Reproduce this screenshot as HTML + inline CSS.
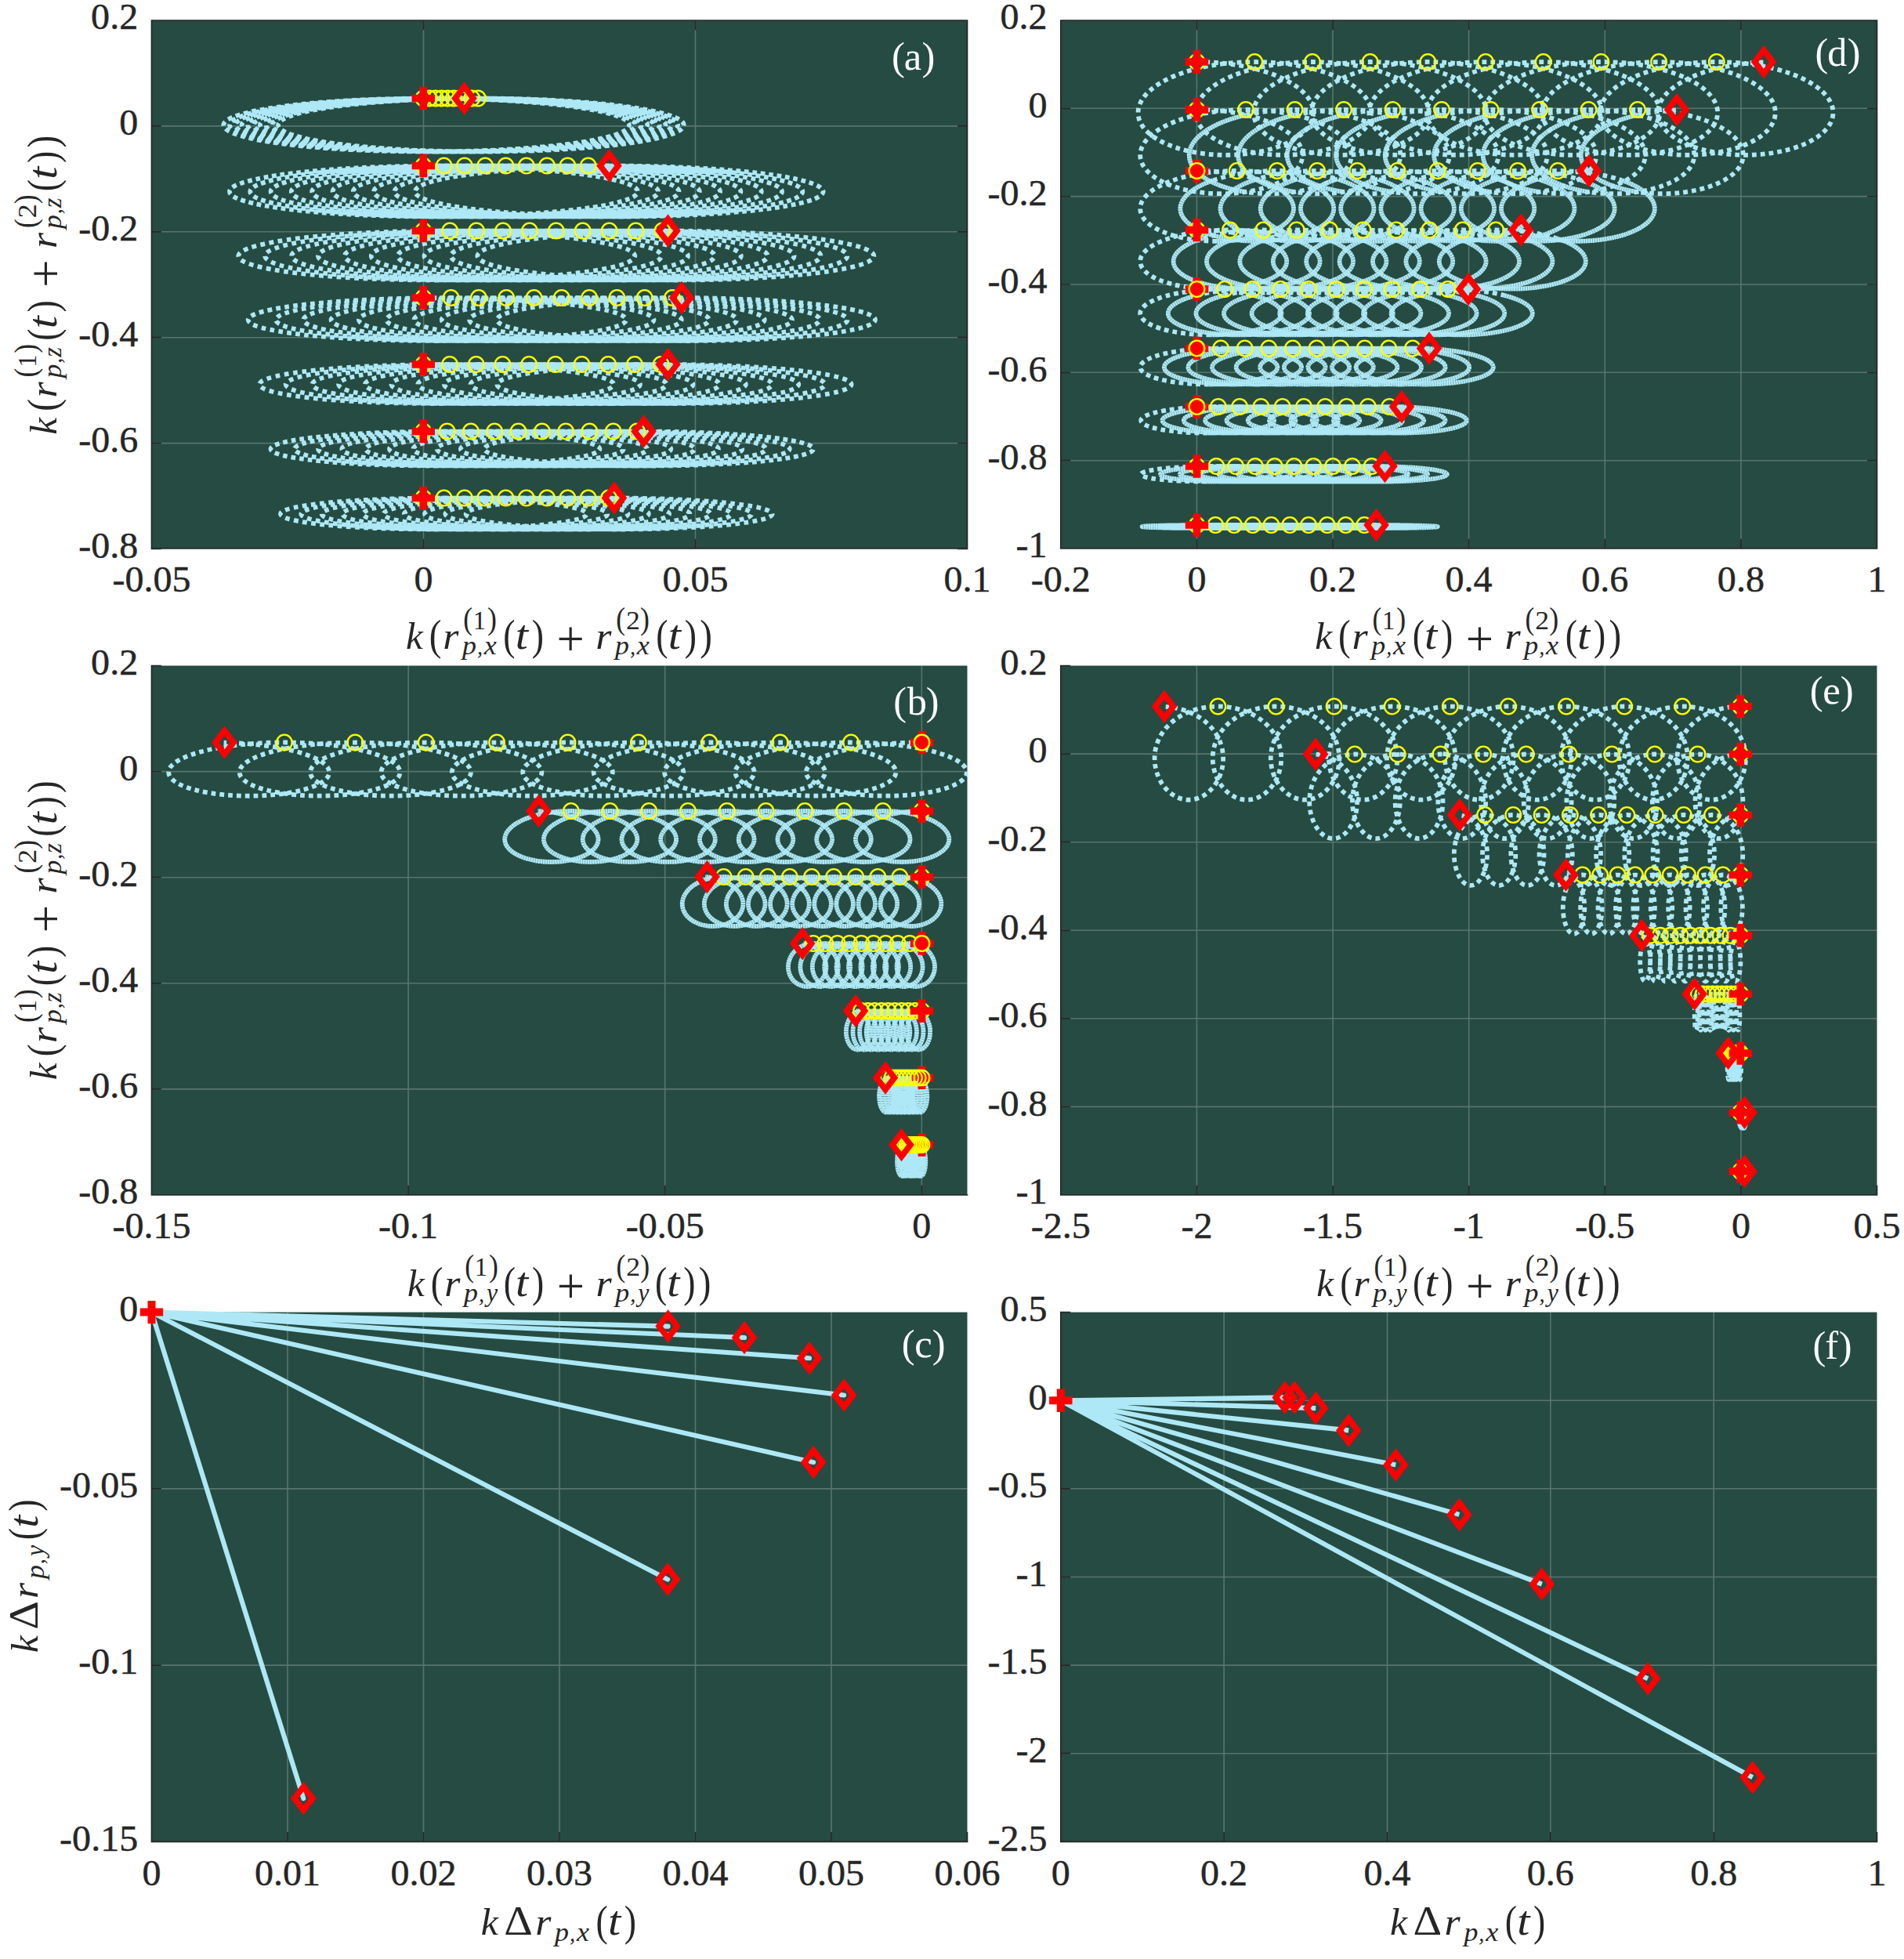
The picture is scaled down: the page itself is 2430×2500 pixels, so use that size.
<!DOCTYPE html><html><head><meta charset="utf-8"><title>Figure</title><style>html,body{margin:0;padding:0;background:#fff}svg{display:block}</style></head><body><svg width="2430" height="2500" viewBox="0 0 2430 2500" font-family="'Liberation Serif', serif">
<rect width="2430" height="2500" fill="#fff"/>
<g font-size="100" fill="#262626" transform="translate(521.45 1654.20)"><text font-style="italic" transform="translate(-1.47 0.00) scale(0.4912 0.4921)">k</text><text transform="translate(28.40 1.06) scale(0.4699 0.5477)">(</text><text font-style="italic" transform="translate(45.77 0.00) scale(0.5193 0.4809)">r</text><text font-style="italic" transform="translate(70.61 6.60) scale(0.3585 0.3319)">p</text><text font-style="italic" transform="translate(89.48 6.60) scale(0.2839 0.2839)">,</text><text font-style="italic" transform="translate(99.63 6.60) scale(0.3185 0.3348)">y</text><text transform="translate(71.80 -25.51) scale(0.3534 0.3956)">(</text><text transform="translate(84.35 -25.90) scale(0.3262 0.3348)">1</text><text transform="translate(102.54 -25.51) scale(0.3573 0.3956)">)</text><text transform="translate(121.20 1.06) scale(0.4583 0.5477)">(</text><text font-style="italic" transform="translate(136.65 0.00) scale(0.5811 0.5381)">t</text><text transform="translate(157.56 1.06) scale(0.4583 0.5477)">)</text><text transform="translate(189.32 8.66) scale(0.6258 0.6258)">+</text><text font-style="italic" transform="translate(239.02 0.00) scale(0.5193 0.4809)">r</text><text font-style="italic" transform="translate(263.86 6.60) scale(0.3585 0.3319)">p</text><text font-style="italic" transform="translate(282.73 6.60) scale(0.2839 0.2839)">,</text><text font-style="italic" transform="translate(292.88 6.60) scale(0.3185 0.3348)">y</text><text transform="translate(265.05 -25.51) scale(0.3534 0.3956)">(</text><text transform="translate(277.73 -25.90) scale(0.3578 0.3381)">2</text><text transform="translate(295.79 -25.51) scale(0.3573 0.3956)">)</text><text transform="translate(314.45 1.06) scale(0.4583 0.5477)">(</text><text font-style="italic" transform="translate(329.90 0.00) scale(0.5811 0.5381)">t</text><text transform="translate(350.81 1.06) scale(0.4583 0.5477)">)</text><text transform="translate(370.27 1.06) scale(0.4699 0.5477)">)</text></g>
<g font-size="100" fill="#262626" transform="translate(1681.75 1654.20)"><text font-style="italic" transform="translate(-1.47 0.00) scale(0.4912 0.4921)">k</text><text transform="translate(28.40 1.06) scale(0.4699 0.5477)">(</text><text font-style="italic" transform="translate(45.77 0.00) scale(0.5193 0.4809)">r</text><text font-style="italic" transform="translate(70.61 6.60) scale(0.3585 0.3319)">p</text><text font-style="italic" transform="translate(89.48 6.60) scale(0.2839 0.2839)">,</text><text font-style="italic" transform="translate(99.63 6.60) scale(0.3185 0.3348)">y</text><text transform="translate(71.80 -25.51) scale(0.3534 0.3956)">(</text><text transform="translate(84.35 -25.90) scale(0.3262 0.3348)">1</text><text transform="translate(102.54 -25.51) scale(0.3573 0.3956)">)</text><text transform="translate(121.20 1.06) scale(0.4583 0.5477)">(</text><text font-style="italic" transform="translate(136.65 0.00) scale(0.5811 0.5381)">t</text><text transform="translate(157.56 1.06) scale(0.4583 0.5477)">)</text><text transform="translate(189.32 8.66) scale(0.6258 0.6258)">+</text><text font-style="italic" transform="translate(239.02 0.00) scale(0.5193 0.4809)">r</text><text font-style="italic" transform="translate(263.86 6.60) scale(0.3585 0.3319)">p</text><text font-style="italic" transform="translate(282.73 6.60) scale(0.2839 0.2839)">,</text><text font-style="italic" transform="translate(292.88 6.60) scale(0.3185 0.3348)">y</text><text transform="translate(265.05 -25.51) scale(0.3534 0.3956)">(</text><text transform="translate(277.73 -25.90) scale(0.3578 0.3381)">2</text><text transform="translate(295.79 -25.51) scale(0.3573 0.3956)">)</text><text transform="translate(314.45 1.06) scale(0.4583 0.5477)">(</text><text font-style="italic" transform="translate(329.90 0.00) scale(0.5811 0.5381)">t</text><text transform="translate(350.81 1.06) scale(0.4583 0.5477)">)</text><text transform="translate(370.27 1.06) scale(0.4699 0.5477)">)</text></g>
<rect x="193.5" y="26" width="1041.0" height="674" fill="#264b42"/>
<path d="M540.5 26V700M887.5 26V700M193.5 160.9H1234.5M193.5 295.8H1234.5M193.5 430.7H1234.5M193.5 565.6H1234.5" stroke="#fff" stroke-opacity="0.23" stroke-width="1.6" fill="none"/>
<rect x="1353.8" y="26" width="1041.7" height="674" fill="#264b42"/>
<path d="M1527.4 26V700M1701.0 26V700M1874.6 26V700M2048.3 26V700M2221.9 26V700M1353.8 138.3H2395.5M1353.8 250.6H2395.5M1353.8 363.0H2395.5M1353.8 475.3H2395.5M1353.8 587.7H2395.5" stroke="#fff" stroke-opacity="0.23" stroke-width="1.6" fill="none"/>
<rect x="193.5" y="849.5" width="1041.0" height="675.5" fill="#264b42"/>
<path d="M521.1 849.5V1525M848.7 849.5V1525M1176.3 849.5V1525M193.5 984.6H1234.5M193.5 1119.7H1234.5M193.5 1254.8H1234.5M193.5 1389.9H1234.5" stroke="#fff" stroke-opacity="0.23" stroke-width="1.6" fill="none"/>
<rect x="1353.8" y="849.5" width="1041.7" height="675.5" fill="#264b42"/>
<path d="M1527.4 849.5V1525M1701.1 849.5V1525M1874.7 849.5V1525M2048.3 849.5V1525M2221.9 849.5V1525M1353.8 962.1H2395.5M1353.8 1074.7H2395.5M1353.8 1187.3H2395.5M1353.8 1299.8H2395.5M1353.8 1412.4H2395.5" stroke="#fff" stroke-opacity="0.23" stroke-width="1.6" fill="none"/>
<rect x="193.5" y="1674.6" width="1041.0" height="675.8000000000002" fill="#264b42"/>
<path d="M367.0 1674.6V2350.4M540.5 1674.6V2350.4M714.0 1674.6V2350.4M887.5 1674.6V2350.4M1061.0 1674.6V2350.4M193.5 1899.9H1234.5M193.5 2125.1H1234.5" stroke="#fff" stroke-opacity="0.23" stroke-width="1.6" fill="none"/>
<rect x="1353.8" y="1674.6" width="1041.7" height="675.8000000000002" fill="#264b42"/>
<path d="M1562.1 1674.6V2350.4M1770.5 1674.6V2350.4M1978.8 1674.6V2350.4M2187.2 1674.6V2350.4M1353.8 1787.2H2395.5M1353.8 1899.8H2395.5M1353.8 2012.5H2395.5M1353.8 2125.1H2395.5M1353.8 2237.7H2395.5" stroke="#fff" stroke-opacity="0.23" stroke-width="1.6" fill="none"/>
<clipPath id="cpa"><rect x="193.5" y="26" width="1042.0" height="674"/></clipPath>
<g clip-path="url(#cpa)" fill="none" stroke="#aee8f6" stroke-width="5.8">
<path d="M540.3 125.5C574.5 125.5 608.8 126.4 640.4 128.1C672.1 129.8 701.2 132.3 725.5 135.4C749.8 138.6 769.3 142.3 782.5 146.4C795.8 150.5 802.8 155.0 803.0 159.4C803.3 163.9 796.7 168.3 784.0 172.4C771.2 176.5 752.1 180.3 728.3 183.5C704.4 186.6 675.8 189.1 644.5 190.9C613.2 192.6 579.3 193.5 545.4 193.5C511.5 193.5 477.5 192.7 446.1 191.0C414.7 189.3 385.9 186.8 361.8 183.7C337.7 180.6 318.4 176.8 305.3 172.7C292.2 168.6 285.4 164.2 285.3 159.7C285.2 155.3 291.9 150.8 304.9 146.7C317.8 142.6 337.1 138.8 361.1 135.7C385.2 132.5 414.1 129.9 445.6 128.2C477.2 126.5 511.3 125.5 545.6 125.5C579.8 125.5 614.1 126.3 645.9 128.0C677.7 129.6 706.9 132.1 731.5 135.2C756.0 138.3 775.7 142.1 789.3 146.1C802.9 150.2 810.2 154.7 810.8 159.1C811.3 163.5 805.1 168.0 792.6 172.1C780.1 176.2 761.4 180.0 737.7 183.2C714.1 186.4 685.6 189.0 654.5 190.7C623.3 192.5 589.5 193.4 555.6 193.5C521.7 193.6 487.7 192.7 456.1 191.1C424.6 189.5 395.6 187.0 371.3 183.9C347.0 180.8 327.4 177.1 314.0 173.0C300.6 168.9 293.5 164.5 293.1 160.1C292.7 155.6 299.0 151.2 311.7 147.0C324.4 142.9 343.3 139.1 367.2 135.9C391.0 132.7 419.7 130.1 451.1 128.3C482.5 126.6 516.6 125.6 550.9 125.5C585.1 125.4 619.5 126.2 651.4 127.8C683.3 129.5 712.7 131.9 737.4 135.0C762.2 138.1 782.2 141.8 796.1 145.8C809.9 149.9 817.6 154.3 818.5 158.8C819.3 163.2 813.5 167.7 801.3 171.8C789.1 176.0 770.6 179.8 747.2 183.0C723.8 186.2 695.5 188.8 664.5 190.6C633.5 192.4 599.7 193.4 565.8 193.5C531.9 193.6 497.8 192.8 466.2 191.2C434.5 189.6 405.3 187.2 380.8 184.1C356.3 181.1 336.4 177.4 322.8 173.3C309.1 169.2 301.6 164.8 300.9 160.4C300.1 155.9 306.2 151.5 318.6 147.3C330.9 143.2 349.6 139.3 373.2 136.1C396.8 132.9 425.3 130.3 456.6 128.5C487.9 126.6 521.9 125.6 556.1 125.5C590.4 125.4 624.8 126.1 656.8 127.7C688.8 129.3 718.4 131.7 743.4 134.8C768.3 137.8 788.7 141.5 802.8 145.6C817.0 149.6 824.9 154.0 826.1 158.5C827.3 162.9 821.8 167.4 809.9 171.5C798.0 175.7 779.8 179.5 756.6 182.8C733.4 186.0 705.3 188.6 674.5 190.5C643.6 192.3 609.9 193.3 576.0 193.5C542.1 193.6 508.0 192.9 476.2 191.3C444.5 189.8 415.1 187.4 390.3 184.3C365.6 181.3 345.5 177.6 331.5 173.6C317.5 169.6 309.7 165.1 308.7 160.7C307.6 156.3 313.4 151.8 325.4 147.6C337.5 143.5 355.9 139.6 379.3 136.4C402.6 133.1 430.9 130.4 462.1 128.6C493.2 126.7 527.2 125.7 561.4 125.5C595.6 125.4 630.1 126.1 662.2 127.6C694.4 129.2 724.1 131.5 749.3 134.5C774.5 137.6 795.1 141.2 809.5 145.3C824.0 149.3 832.3 153.7 833.8 158.1C835.3 162.6 830.1 167.1 818.5 171.2C806.9 175.4 788.9 179.3 766.0 182.5C743.1 185.8 715.2 188.5 684.4 190.3C653.7 192.2 620.1 193.3 586.2 193.5C552.3 193.7 518.1 193.0 486.3 191.4C454.4 189.9 424.9 187.6 399.9 184.6C374.9 181.6 354.5 177.9 340.3 173.9C326.0 169.9 317.9 165.5 316.5 161.0C315.2 156.6 320.6 152.1 332.3 147.9C344.1 143.7 362.2 139.9 385.3 136.6C408.5 133.3 436.6 130.6 467.6 128.7C498.6 126.8 532.5 125.7 566.7 125.5C600.9 125.3 635.4 126.0 667.7 127.5C699.9 129.0 729.9 131.3 755.3 134.3C780.7 137.3 801.5 141.0 816.2 145.0C831.0 149.0 839.6 153.4 841.4 157.8C843.3 162.3 838.3 166.7 827.1 170.9C815.8 175.1 798.1 179.0 775.4 182.3C752.7 185.6 725.0 188.3 694.4 190.2C663.8 192.1 630.3 193.2 596.4 193.5C562.5 193.7 528.3 193.0 496.3 191.6C464.3 190.1 434.6 187.8 409.4 184.8C384.3 181.8 363.6 178.2 349.1 174.2C334.5 170.2 326.1 165.8 324.4 161.3C322.7 156.9 327.8 152.4 339.2 148.2C350.7 144.0 368.5 140.1 391.4 136.8C414.3 133.5 442.2 130.8 473.1 128.9C504.0 126.9 537.8 125.8 572.0 125.6C606.2 125.3 640.7 125.9 673.1 127.4C705.4 128.9 735.5 131.2 761.2 134.1C786.8 137.1 807.9 140.7 822.9 144.7C837.9 148.7 846.8 153.1 849.0 157.5C851.2 161.9 846.6 166.4 835.6 170.6C824.6 174.8 807.2 178.7 784.8 182.1C762.3 185.4 734.8 188.1 704.3 190.1C673.9 192.0 640.4 193.2 606.6 193.4C572.7 193.7 538.4 193.1 506.4 191.7C474.3 190.2 444.4 187.9 419.0 185.0C393.6 182.1 372.7 178.5 357.9 174.5C343.0 170.5 334.3 166.1 332.3 161.7C330.3 157.2 335.0 152.7 346.2 148.5C357.3 144.3 374.9 140.4 397.5 137.1C420.2 133.7 447.9 131.0 478.7 129.0C509.4 127.0 543.1 125.9 577.3 125.6C611.4 125.3 646.1 125.9 678.5 127.3C711.0 128.7 741.2 131.0 767.1 133.9C792.9 136.8 814.3 140.4 829.6 144.4C844.9 148.4 854.1 152.7 856.6 157.2C859.1 161.6 854.8 166.1 844.1 170.3C833.5 174.5 816.4 178.5 794.1 181.8C771.9 185.2 744.6 187.9 714.3 189.9C683.9 191.9 650.6 193.1 616.8 193.4C582.9 193.7 548.6 193.2 516.4 191.8C484.2 190.4 454.2 188.1 428.6 185.2C403.0 182.3 381.8 178.7 366.7 174.8C351.6 170.8 342.5 166.4 340.2 162.0C337.8 157.5 342.3 153.1 353.1 148.8C364.0 144.6 381.2 140.7 403.7 137.3C426.1 133.9 453.6 131.2 484.2 129.1C514.8 127.1 548.4 125.9 582.6 125.6C616.7 125.3 651.4 125.8 683.9 127.2C716.5 128.6 746.9 130.8 772.9 133.7C799.0 136.6 820.6 140.1 836.2 144.1C851.8 148.1 861.3 152.4 864.2 156.9C867.0 161.3 863.0 165.8 852.6 170.0C842.3 174.2 825.5 178.2 803.5 181.6C781.5 185.0 754.4 187.8 724.2 189.8C694.0 191.8 660.8 193.0 626.9 193.4C593.1 193.7 558.8 193.2 526.5 191.9C494.2 190.5 464.0 188.3 438.2 185.4C412.4 182.5 391.0 179.0 375.5 175.0C360.1 171.1 350.7 166.7 348.1 162.3C345.5 157.9 349.5 153.4 360.1 149.1C370.6 144.9 387.6 140.9 409.8 137.6C432.0 134.2 459.3 131.3 489.7 129.3C520.2 127.3 553.7 126.0 587.9 125.6C622.0 125.2 656.7 125.7 689.3 127.1C722.0 128.4 752.6 130.6 778.8 133.5C805.1 136.3 826.9 139.9 842.8 143.8C858.7 147.8 868.6 152.1 871.7 156.5C874.8 161.0 871.2 165.5 861.1 169.7C851.1 173.9 834.5 177.9 812.8 181.3C791.1 184.7 764.2 187.6 734.1 189.6C704.1 191.7 670.9 193.0 637.1 193.4C603.3 193.8 569.0 193.3 536.6 192.0C504.2 190.6 473.9 188.5 447.8 185.6C421.8 182.8 400.1 179.3 384.4 175.3C368.7 171.4 359.0 167.0 356.0 162.6C353.1 158.2 356.9 153.7 367.1 149.4C377.3 145.2 394.0 141.2 416.0 137.8C437.9 134.4 465.0 131.5 495.3 129.4C525.6 127.4 559.0 126.1 593.1 125.7" stroke-dasharray="5.8 4.85"/><path d="M540.3 211.5C575.7 211.5 611.2 212.3 644.0 214.0C676.8 215.6 706.9 218.0 732.2 221.0C757.4 224.0 777.8 227.6 791.7 231.5C805.7 235.4 813.2 239.7 813.9 243.9C814.5 248.2 808.2 252.4 795.5 256.3C782.8 260.3 763.7 263.9 739.6 266.9C715.6 269.9 686.6 272.3 655.0 274.0C623.3 275.6 589.0 276.5 554.7 276.5C520.3 276.5 486.0 275.7 454.2 274.1C422.4 272.5 393.3 270.1 369.0 267.1C344.8 264.1 325.4 260.5 312.3 256.6C299.3 252.7 292.7 248.5 293.0 244.2C293.3 240.0 300.5 235.7 314.2 231.8C327.8 227.9 347.9 224.2 372.9 221.2C397.9 218.2 427.9 215.7 460.6 214.1C493.2 212.4 528.6 211.5 564.0 211.5C599.5 211.5 635.0 212.3 667.9 213.9C700.8 215.4 731.1 217.8 756.6 220.8C782.1 223.7 802.7 227.3 817.0 231.2C831.3 235.1 839.1 239.4 840.1 243.6C841.1 247.9 835.1 252.1 822.7 256.1C810.3 260.0 791.4 263.6 767.6 266.7C743.8 269.7 715.1 272.2 683.6 273.9C652.0 275.5 617.8 276.4 583.5 276.5C549.1 276.6 514.7 275.8 482.8 274.2C450.9 272.6 421.6 270.3 397.1 267.3C372.6 264.4 352.9 260.8 339.6 256.9C326.3 253.0 319.3 248.8 319.3 244.5C319.3 240.3 326.2 236.0 339.5 232.1C352.9 228.1 372.7 224.5 397.4 221.4C422.2 218.4 452.0 215.9 484.5 214.2C517.1 212.5 552.3 211.6 587.8 211.5C623.2 211.4 658.8 212.2 691.8 213.7C724.9 215.3 755.4 217.6 781.1 220.6C806.8 223.5 827.7 227.1 842.3 230.9C856.8 234.8 865.0 239.1 866.3 243.3C867.6 247.6 862.0 251.8 849.9 255.8C837.8 259.7 819.2 263.4 795.6 266.5C772.1 269.5 743.5 272.0 712.1 273.7C680.7 275.4 646.6 276.4 612.2 276.5C577.9 276.6 543.4 275.8 511.4 274.3C479.4 272.8 449.9 270.5 425.2 267.5C400.4 264.6 380.5 261.1 366.9 257.2C353.2 253.3 346.0 249.1 345.6 244.8C345.2 240.6 351.8 236.3 364.9 232.4C377.9 228.4 397.4 224.7 422.0 221.7C446.5 218.6 476.1 216.1 508.5 214.3C540.9 212.6 576.1 211.6 611.5 211.5C647.0 211.4 682.6 212.1 715.7 213.6C748.9 215.1 779.6 217.4 805.5 220.4C831.5 223.3 852.6 226.8 867.5 230.7C882.4 234.5 890.9 238.8 892.5 243.0C894.1 247.3 888.8 251.5 877.0 255.5C865.2 259.5 847.0 263.1 823.6 266.2C800.3 269.3 771.9 271.9 740.7 273.6C709.4 275.4 675.3 276.3 641.0 276.5C606.7 276.6 572.1 275.9 540.0 274.4C507.9 272.9 478.2 270.7 453.3 267.8C428.3 264.9 408.1 261.3 394.2 257.5C380.2 253.6 372.6 249.4 371.9 245.1C371.3 240.9 377.5 236.6 390.2 232.6C403.0 228.7 422.2 225.0 446.5 221.9C470.8 218.8 500.2 216.2 532.4 214.5C564.7 212.7 599.9 211.7 635.3 211.5C670.7 211.4 706.4 212.0 739.6 213.5C772.9 215.0 803.8 217.3 829.9 220.1C856.1 223.0 877.6 226.5 892.7 230.4C907.9 234.2 916.7 238.5 918.7 242.7C920.6 246.9 915.7 251.2 904.2 255.2C892.7 259.2 874.7 262.9 851.6 266.0C828.5 269.1 800.3 271.7 769.2 273.5C738.1 275.3 704.1 276.3 669.8 276.5C635.5 276.7 600.9 276.0 568.6 274.5C536.4 273.1 506.5 270.8 481.4 268.0C456.2 265.1 435.7 261.6 421.5 257.8C407.3 253.9 399.3 249.7 398.3 245.5C397.3 241.2 403.2 236.9 415.6 232.9C428.1 228.9 447.0 225.2 471.1 222.1C495.1 219.0 524.3 216.4 556.4 214.6C588.6 212.8 623.6 211.7 659.0 211.5C694.4 211.3 730.2 212.0 763.5 213.4C796.9 214.9 828.0 217.1 854.3 219.9C880.7 222.8 902.5 226.3 917.9 230.1C933.4 234.0 942.6 238.1 944.8 242.4C947.1 246.6 942.5 250.9 931.3 254.9C920.1 258.9 902.4 262.6 879.6 265.8C856.7 268.9 828.7 271.5 797.8 273.3C766.8 275.2 732.9 276.2 698.6 276.5C664.3 276.7 629.6 276.1 597.3 274.6C564.9 273.2 534.9 271.0 509.5 268.2C484.1 265.3 463.3 261.9 448.8 258.0C434.3 254.2 426.0 250.0 424.7 245.8C423.3 241.5 428.9 237.2 441.0 233.2C453.2 229.2 471.8 225.5 495.6 222.3C519.4 219.2 548.4 216.6 580.4 214.7C612.4 212.9 647.4 211.8 682.8 211.6C718.2 211.3 753.9 211.9 787.4 213.3C820.9 214.7 852.1 216.9 878.7 219.7C905.3 222.6 927.3 226.0 943.1 229.8C958.8 233.7 968.4 237.8 971.0 242.1C973.6 246.3 969.3 250.6 958.4 254.6C947.5 258.6 930.1 262.4 907.5 265.6C884.9 268.7 857.1 271.4 826.3 273.2C795.5 275.1 761.6 276.2 727.3 276.4C693.1 276.7 658.4 276.1 625.9 274.7C593.4 273.4 563.2 271.2 537.6 268.4C512.0 265.6 491.0 262.1 476.2 258.3C461.4 254.5 452.8 250.3 451.1 246.1C449.4 241.8 454.7 237.5 466.5 233.5C478.3 229.5 496.6 225.7 520.2 222.6C543.8 219.4 572.6 216.7 604.4 214.9C636.3 213.0 671.2 211.9 706.5 211.6C741.9 211.3 777.7 211.9 811.3 213.2C844.9 214.6 876.3 216.7 903.1 219.5C929.9 222.3 952.2 225.8 968.2 229.6C984.3 233.4 994.1 237.5 997.1 241.8C1000.0 246.0 996.0 250.3 985.5 254.3C974.9 258.4 957.8 262.1 935.4 265.3C913.1 268.5 885.5 271.2 854.8 273.1C824.1 275.0 790.4 276.1 756.1 276.4C721.8 276.7 687.1 276.2 654.5 274.8C622.0 273.5 591.6 271.4 565.8 268.6C539.9 265.8 518.7 262.4 503.5 258.6C488.4 254.8 479.5 250.6 477.5 246.4C475.5 242.1 480.4 237.8 491.9 233.8C503.4 229.8 521.5 226.0 544.8 222.8C568.2 219.6 596.7 216.9 628.4 215.0C660.1 213.1 694.9 211.9 730.3 211.6C765.6 211.3 801.5 211.8 835.2 213.1C868.9 214.4 900.4 216.6 927.5 219.3C954.5 222.1 977.0 225.5 993.4 229.3C1009.7 233.1 1019.9 237.2 1023.1 241.5C1026.4 245.7 1022.8 250.0 1012.5 254.0C1002.3 258.1 985.4 261.9 963.3 265.1C941.2 268.3 913.9 271.0 883.3 272.9C852.8 274.9 819.1 276.1 784.9 276.4C750.6 276.7 715.9 276.2 683.2 274.9C650.5 273.6 620.0 271.5 594.0 268.8C567.9 266.0 546.3 262.6 530.9 258.9C515.5 255.1 506.3 250.9 504.0 246.7C501.7 242.4 506.2 238.1 517.4 234.1C528.6 230.1 546.4 226.3 569.5 223.0C592.5 219.8 620.9 217.1 652.4 215.1C684.0 213.2 718.7 212.0 754.0 211.6C789.3 211.3 825.2 211.7 859.0 213.0C892.9 214.3 924.6 216.4 951.8 219.1C979.1 221.9 1001.8 225.2 1018.5 229.0C1035.1 232.8 1045.6 236.9 1049.2 241.2C1052.8 245.4 1049.5 249.7 1039.5 253.8C1029.6 257.8 1013.1 261.6 991.2 264.9C969.4 268.1 942.2 270.8 911.8 272.8C881.4 274.8 847.9 276.0 813.6 276.4C779.4 276.7 744.6 276.3 711.9 275.0C679.1 273.8 648.4 271.7 622.1 269.0C595.9 266.2 574.1 262.9 558.4 259.1C542.7 255.4 533.1 251.2 530.5 247.0C527.8 242.8 532.1 238.4 542.9 234.4C553.8 230.3 571.3 226.5 594.1 223.3C616.9 220.0 645.1 217.3 676.5 215.3C707.9 213.3 742.5 212.0 777.8 211.6" stroke-dasharray="5.8 4.70"/><path d="M540.3 294.5C575.2 294.5 610.0 295.3 642.3 296.9C674.6 298.5 704.3 300.8 729.2 303.7C754.0 306.6 774.1 310.1 788.0 313.9C801.8 317.7 809.4 321.8 810.2 325.9C810.9 330.0 805.0 334.2 792.7 338.0C780.4 341.8 761.9 345.3 738.5 348.2C715.1 351.1 686.9 353.5 656.1 355.1C625.3 356.6 591.9 357.5 558.5 357.5C525.0 357.5 491.5 356.7 460.6 355.2C429.7 353.6 401.3 351.3 377.7 348.4C354.1 345.5 335.3 342.0 322.7 338.2C310.1 334.4 303.8 330.3 304.3 326.2C304.8 322.1 312.0 318.0 325.5 314.2C339.1 310.4 358.9 306.8 383.6 303.9C408.2 301.0 437.7 298.6 469.9 297.0C502.0 295.4 536.8 294.5 571.7 294.5C606.6 294.5 641.5 295.2 673.9 296.8C706.3 298.3 736.1 300.6 761.2 303.5C786.4 306.4 806.7 309.8 820.9 313.6C835.0 317.4 842.9 321.5 844.0 325.6C845.1 329.7 839.4 333.9 827.4 337.7C815.5 341.5 797.2 345.0 774.1 348.0C750.9 350.9 722.9 353.3 692.3 354.9C661.6 356.6 628.2 357.4 594.8 357.5C561.3 357.6 527.8 356.8 496.7 355.3C465.7 353.8 437.1 351.5 413.3 348.6C389.5 345.7 370.4 342.3 357.5 338.5C344.7 334.7 338.0 330.6 338.2 326.5C338.3 322.4 345.2 318.3 358.5 314.4C371.7 310.6 391.3 307.1 415.7 304.1C440.1 301.2 469.4 298.8 501.5 297.1C533.5 295.5 568.2 294.6 603.1 294.5C637.9 294.4 672.9 295.2 705.4 296.7C738.0 298.2 768.0 300.4 793.3 303.3C818.7 306.1 839.3 309.6 853.7 313.3C868.2 317.1 876.4 321.2 877.8 325.3C879.2 329.4 873.9 333.6 862.2 337.4C850.5 341.3 832.5 344.8 809.6 347.8C786.7 350.7 758.9 353.2 728.4 354.8C697.8 356.5 664.5 357.4 631.1 357.5C597.6 357.6 564.0 356.9 532.9 355.4C501.7 353.9 473.0 351.7 448.9 348.8C424.9 346.0 405.5 342.6 392.4 338.8C379.2 335.0 372.3 330.9 372.1 326.8C371.9 322.7 378.5 318.6 391.4 314.7C404.4 310.9 423.6 307.3 447.8 304.3C472.0 301.3 501.2 298.9 533.1 297.2C564.9 295.6 599.6 294.6 634.5 294.5C669.3 294.4 704.4 295.1 737.0 296.6C769.6 298.0 799.8 300.3 825.4 303.1C851.0 305.9 871.9 309.3 886.6 313.1C901.3 316.8 909.8 320.9 911.6 325.0C913.3 329.2 908.3 333.3 896.9 337.1C885.6 341.0 867.8 344.6 845.2 347.6C822.5 350.6 794.9 353.0 764.5 354.7C734.0 356.4 700.8 357.3 667.4 357.5C634.0 357.6 600.3 356.9 569.0 355.5C537.7 354.0 508.9 351.8 484.6 349.0C460.3 346.2 440.7 342.8 427.2 339.1C413.8 335.3 406.5 331.2 406.0 327.1C405.5 323.0 411.8 318.9 424.4 315.0C437.0 311.1 456.0 307.6 480.0 304.6C504.0 301.5 532.9 299.1 564.7 297.4C596.4 295.6 631.0 294.7 665.8 294.5C700.7 294.4 735.8 295.0 768.5 296.5C801.3 297.9 831.7 300.1 857.4 302.9C883.2 305.7 904.4 309.1 919.4 312.8C934.4 316.5 943.3 320.6 945.3 324.7C947.4 328.9 942.7 333.0 931.6 336.9C920.6 340.7 903.1 344.3 880.7 347.3C858.3 350.4 830.8 352.8 800.5 354.6C770.3 356.3 737.1 357.3 703.7 357.5C670.3 357.6 636.6 357.0 605.2 355.6C573.8 354.2 544.7 352.0 520.2 349.2C495.8 346.4 475.9 343.1 462.1 339.3C448.4 335.6 440.8 331.5 439.9 327.4C439.1 323.3 445.1 319.1 457.4 315.3C469.7 311.4 488.5 307.8 512.2 304.8C535.9 301.7 564.6 299.2 596.3 297.5C627.9 295.7 662.4 294.7 697.2 294.5C732.1 294.3 767.2 295.0 800.1 296.4C832.9 297.7 863.5 299.9 889.5 302.7C915.5 305.4 936.9 308.8 952.2 312.5C967.5 316.3 976.7 320.3 979.1 324.4C981.5 328.6 977.1 332.7 966.3 336.6C955.6 340.5 938.4 344.1 916.2 347.1C894.0 350.2 866.8 352.7 836.6 354.4C806.5 356.2 773.4 357.2 740.0 357.5C706.6 357.7 672.8 357.1 641.3 355.7C609.8 354.3 580.6 352.2 555.9 349.4C531.2 346.7 511.1 343.3 497.0 339.6C483.0 335.9 475.1 331.8 473.9 327.7C472.8 323.6 478.4 319.4 490.4 315.6C502.5 311.7 520.9 308.1 544.4 305.0C567.9 301.9 596.4 299.4 627.9 297.6C659.4 295.8 693.8 294.8 728.6 294.6C763.4 294.3 798.6 294.9 831.6 296.3C864.6 297.6 895.3 299.7 921.5 302.5C947.7 305.2 969.4 308.6 985.0 312.3C1000.6 316.0 1010.1 320.0 1012.8 324.1C1015.5 328.3 1011.5 332.4 1001.0 336.3C990.5 340.2 973.7 343.8 951.7 346.9C929.7 350.0 902.7 352.5 872.7 354.3C842.7 356.1 809.7 357.2 776.3 357.4C742.9 357.7 709.1 357.1 677.5 355.8C645.9 354.5 616.5 352.3 591.6 349.6C566.7 346.9 546.3 343.6 531.9 339.9C517.6 336.2 509.4 332.1 507.9 328.0C506.4 323.9 511.7 319.7 523.5 315.8C535.2 311.9 553.3 308.3 576.6 305.2C599.8 302.1 628.2 299.6 659.5 297.7C690.9 295.9 725.2 294.8 760.0 294.6C794.8 294.3 830.0 294.8 863.1 296.2C896.2 297.5 927.1 299.6 953.5 302.3C979.9 305.0 1001.9 308.3 1017.8 312.0C1033.7 315.7 1043.5 319.7 1046.5 323.8C1049.5 328.0 1045.8 332.1 1035.6 336.0C1025.5 339.9 1008.9 343.6 987.2 346.7C965.4 349.8 938.6 352.3 908.8 354.2C878.9 356.0 846.0 357.1 812.6 357.4C779.3 357.7 745.4 357.2 713.7 355.9C682.0 354.6 652.4 352.5 627.3 349.8C602.2 347.1 581.5 343.8 566.9 340.1C552.3 336.4 543.7 332.4 541.9 328.3C540.1 324.2 545.1 320.0 556.5 316.1C568.0 312.2 585.8 308.6 608.8 305.4C631.8 302.3 660.0 299.7 691.2 297.9C722.4 296.0 756.6 294.9 791.4 294.6C826.2 294.3 861.4 294.8 894.6 296.1C927.8 297.3 958.8 299.4 985.5 302.1C1012.1 304.8 1034.3 308.1 1050.5 311.7C1066.7 315.4 1076.8 319.4 1080.2 323.6C1083.5 327.7 1080.1 331.8 1070.3 335.7C1060.4 339.7 1044.1 343.3 1022.6 346.4C1001.1 349.6 974.5 352.2 944.8 354.1C915.1 355.9 882.3 357.1 848.9 357.4C815.6 357.7 781.7 357.2 749.9 356.0C718.1 354.7 688.4 352.7 663.0 350.0C637.7 347.3 616.8 344.1 601.9 340.4C586.9 336.7 578.1 332.7 576.0 328.6C573.9 324.5 578.5 320.3 589.6 316.4C600.7 312.5 618.3 308.8 641.1 305.7C663.8 302.5 691.8 299.9 722.8 298.0C753.9 296.1 788.0 295.0 822.8 294.6C857.5 294.3 892.9 294.7 926.1 296.0C959.4 297.2 990.6 299.2 1017.5 301.9C1044.3 304.5 1066.8 307.8 1083.2 311.5C1099.7 315.1 1110.1 319.2 1113.8 323.3C1117.5 327.4 1114.4 331.5 1104.9 335.5C1095.3 339.4 1079.3 343.1 1058.1 346.2C1036.8 349.4 1010.4 352.0 980.8 353.9C951.3 355.8 918.6 357.0 885.2 357.4C851.9 357.7 818.0 357.3 786.1 356.1C754.2 354.8 724.3 352.8 698.8 350.2C673.2 347.6 652.0 344.3 636.8 340.7C621.6 337.0 612.5 333.0 610.0 328.9C607.6 324.8 611.9 320.6 622.7 316.7C633.5 312.8 650.8 309.1 673.3 305.9C695.9 302.7 723.6 300.1 754.5 298.2C785.4 296.2 819.5 295.0 854.2 294.6" stroke-dasharray="5.8 5.51"/><path d="M540.3 380.0C573.7 380.0 607.1 380.7 638.0 382.1C669.0 383.5 697.4 385.5 721.3 388.0C745.1 390.6 764.4 393.6 777.7 396.9C791.0 400.2 798.3 403.8 799.1 407.4C799.9 411.0 794.2 414.6 782.6 417.9C770.9 421.3 753.2 424.3 730.9 426.9C708.6 429.4 681.7 431.5 652.3 432.9C622.9 434.3 591.0 435.0 559.1 435.0C527.2 435.0 495.2 434.3 465.7 433.0C436.2 431.6 409.1 429.6 386.6 427.1C364.1 424.5 346.2 421.5 334.2 418.2C322.2 414.9 316.2 411.3 316.7 407.7C317.2 404.1 324.2 400.5 337.2 397.2C350.2 393.8 369.3 390.8 392.9 388.2C416.6 385.7 444.8 383.6 475.6 382.2C506.4 380.8 539.8 380.0 573.2 380.0C606.6 380.0 640.1 380.6 671.1 382.0C702.1 383.3 730.8 385.3 754.8 387.8C778.9 390.4 798.5 393.4 812.0 396.7C825.6 400.0 833.2 403.6 834.3 407.2C835.5 410.8 830.1 414.4 818.7 417.7C807.3 421.0 789.9 424.1 767.8 426.7C745.7 429.3 719.0 431.3 689.8 432.8C660.5 434.2 628.6 434.9 596.7 435.0C564.8 435.0 532.7 434.4 503.1 433.1C473.5 431.7 446.2 429.7 423.5 427.2C400.8 424.7 382.6 421.7 370.4 418.4C358.1 415.1 351.8 411.5 352.0 408.0C352.2 404.4 358.9 400.8 371.6 397.4C384.3 394.1 403.1 391.0 426.5 388.4C449.9 385.8 478.0 383.7 508.7 382.3C539.4 380.9 572.7 380.1 606.1 380.0C639.5 379.9 673.0 380.6 704.2 381.9C735.3 383.2 764.1 385.2 788.4 387.7C812.7 390.2 832.5 393.2 846.4 396.5C860.2 399.7 868.1 403.3 869.5 406.9C871.0 410.5 865.9 414.1 854.8 417.5C843.7 420.8 826.5 423.9 804.7 426.5C782.9 429.1 756.3 431.2 727.2 432.7C698.0 434.1 666.2 434.9 634.3 435.0C602.4 435.1 570.3 434.4 540.6 433.2C510.8 431.9 483.4 429.9 460.5 427.4C437.5 424.9 419.1 421.9 406.6 418.7C394.0 415.4 387.4 411.8 387.3 408.2C387.2 404.6 393.6 401.0 406.0 397.7C418.4 394.3 436.9 391.2 460.1 388.6C483.3 386.0 511.2 383.9 541.8 382.4C572.4 380.9 605.6 380.1 639.0 380.0C672.4 379.9 705.9 380.5 737.2 381.8C768.5 383.1 797.4 385.0 821.9 387.5C846.5 390.0 866.5 392.9 880.6 396.2C894.8 399.5 903.0 403.1 904.7 406.7C906.5 410.3 901.7 413.9 890.9 417.2C880.1 420.6 863.2 423.7 841.6 426.3C819.9 428.9 793.6 431.1 764.6 432.6C735.5 434.0 703.8 434.9 671.9 435.0C640.0 435.1 607.9 434.5 578.0 433.2C548.1 432.0 520.6 430.1 497.4 427.6C474.3 425.1 455.6 422.2 442.8 418.9C430.0 415.6 423.1 412.1 422.6 408.5C422.2 404.9 428.3 401.3 440.4 397.9C452.6 394.5 470.8 391.4 493.8 388.8C516.7 386.1 544.5 384.0 574.9 382.5C605.3 381.0 638.5 380.2 671.9 380.0C705.3 379.9 738.9 380.5 770.3 381.7C801.6 383.0 830.7 384.9 855.5 387.3C880.2 389.8 900.5 392.7 914.9 396.0C929.3 399.2 937.9 402.8 939.9 406.4C941.9 410.0 937.5 413.6 927.0 417.0C916.4 420.4 899.8 423.5 878.4 426.1C857.0 428.8 830.9 430.9 802.0 432.4C773.0 434.0 741.4 434.8 709.5 435.0C677.6 435.1 645.4 434.6 615.5 433.3C585.5 432.1 557.8 430.2 534.4 427.8C511.1 425.3 492.1 422.4 479.0 419.1C465.9 415.9 458.7 412.3 458.0 408.7C457.2 405.1 463.0 401.5 474.9 398.1C486.7 394.8 504.7 391.6 527.4 389.0C550.2 386.3 577.7 384.1 608.0 382.6C638.3 381.1 671.4 380.2 704.8 380.0C738.1 379.9 771.8 380.4 803.3 381.6C834.8 382.8 864.0 384.7 889.0 387.1C913.9 389.6 934.5 392.5 949.2 395.7C963.9 399.0 972.7 402.5 975.0 406.1C977.4 409.7 973.3 413.4 963.0 416.7C952.8 420.1 936.4 423.3 915.3 425.9C894.1 428.6 868.1 430.8 839.3 432.3C810.6 433.9 779.0 434.8 747.1 435.0C715.2 435.1 683.0 434.6 652.9 433.4C622.9 432.2 595.0 430.4 571.4 427.9C547.8 425.5 528.6 422.6 515.3 419.4C501.9 416.1 494.4 412.6 493.3 409.0C492.3 405.4 497.7 401.8 509.3 398.4C520.9 395.0 538.6 391.8 561.1 389.2C583.6 386.5 611.0 384.3 641.1 382.7C671.3 381.2 704.3 380.2 737.7 380.0C771.0 379.8 804.7 380.4 836.3 381.5C867.9 382.7 897.3 384.6 922.5 387.0C947.6 389.4 968.4 392.3 983.4 395.5C998.4 398.7 1007.5 402.3 1010.2 405.9C1012.8 409.5 1009.0 413.1 999.0 416.5C989.1 419.9 973.0 423.1 952.1 425.7C931.1 428.4 905.3 430.6 876.7 432.2C848.1 433.8 816.6 434.7 784.7 434.9C752.8 435.2 720.6 434.7 690.4 433.5C660.2 432.3 632.2 430.5 608.4 428.1C584.6 425.7 565.2 422.8 551.5 419.6C537.9 416.4 530.1 412.8 528.7 409.2C527.4 405.7 532.5 402.0 543.8 398.6C555.1 395.2 572.5 392.1 594.8 389.4C617.1 386.7 644.2 384.4 674.3 382.8C704.3 381.2 737.2 380.3 770.5 380.1C803.9 379.8 837.6 380.3 869.3 381.4C901.0 382.6 930.6 384.4 956.0 386.8C981.3 389.2 1002.3 392.1 1017.6 395.3C1032.9 398.5 1042.3 402.0 1045.3 405.6C1048.2 409.2 1044.7 412.8 1035.1 416.2C1025.4 419.7 1009.6 422.8 988.9 425.5C968.2 428.3 942.6 430.5 914.1 432.1C885.6 433.7 854.2 434.7 822.3 434.9C790.4 435.2 758.1 434.7 727.9 433.6C697.6 432.5 669.4 430.6 645.4 428.3C621.5 425.9 601.7 423.0 587.8 419.8C573.9 416.6 565.8 413.1 564.1 409.5C562.5 405.9 567.3 402.3 578.3 398.9C589.3 395.5 606.4 392.3 628.5 389.6C650.5 386.8 677.5 384.6 707.4 383.0C737.3 381.3 770.1 380.3 803.4 380.1C836.8 379.8 870.6 380.2 902.3 381.4C934.1 382.5 963.9 384.3 989.4 386.6C1015.0 389.0 1036.3 391.8 1051.8 395.0C1067.3 398.3 1077.1 401.8 1080.3 405.4C1083.6 408.9 1080.4 412.6 1071.0 416.0C1061.7 419.4 1046.1 422.6 1025.7 425.4C1005.2 428.1 979.8 430.4 951.4 432.0C923.0 433.6 891.7 434.6 859.9 434.9C828.1 435.2 795.7 434.8 765.4 433.7C735.0 432.6 706.6 430.8 682.5 428.5C658.3 426.1 638.3 423.3 624.1 420.1C609.9 416.9 601.5 413.3 599.6 409.8C597.6 406.2 602.1 402.5 612.8 399.1C623.5 395.7 640.4 392.5 662.2 389.7C684.0 387.0 710.8 384.7 740.6 383.1C770.3 381.4 803.1 380.4 836.3 380.1C869.6 379.8 903.5 380.2 935.3 381.3C967.2 382.4 997.1 384.1 1022.9 386.5C1048.6 388.8 1070.2 391.6 1086.0 394.8C1101.8 398.0 1111.8 401.5 1115.4 405.1C1119.0 408.7 1116.1 412.3 1107.0 415.8C1097.9 419.2 1082.7 422.4 1062.4 425.2C1042.2 427.9 1017.0 430.2 988.8 431.9C960.5 433.5 929.3 434.6 897.5 434.9C865.7 435.2 833.3 434.8 802.9 433.8C772.4 432.7 743.9 430.9 719.5 428.6C695.1 426.3 674.9 423.5 660.5 420.3C646.0 417.1 637.3 413.6 635.0 410.0C632.7 406.4 636.9 402.8 647.3 399.4C657.7 395.9 674.3 392.7 695.9 389.9C717.5 387.2 744.1 384.9 773.7 383.2C803.3 381.5 836.0 380.5 869.2 380.1" stroke-dasharray="5.8 5.24"/><path d="M540.3 465.0C571.7 465.0 603.0 465.6 632.0 466.9C661.0 468.1 687.7 470.0 710.1 472.3C732.5 474.6 750.6 477.4 763.1 480.4C775.6 483.4 782.4 486.7 783.2 489.9C784.0 493.2 778.7 496.5 767.7 499.5C756.8 502.5 740.2 505.3 719.3 507.6C698.4 509.9 673.2 511.8 645.7 513.1C618.1 514.3 588.2 515.0 558.2 515.0C528.3 515.0 498.3 514.4 470.6 513.1C443.0 511.9 417.6 510.1 396.5 507.8C375.4 505.5 358.6 502.7 347.4 499.7C336.2 496.7 330.6 493.4 331.0 490.2C331.5 486.9 338.1 483.6 350.3 480.6C362.5 477.6 380.4 474.8 402.6 472.5C424.8 470.1 451.3 468.3 480.2 467.0C509.1 465.7 540.4 465.0 571.7 465.0C603.1 465.0 634.5 465.6 663.6 466.8C692.8 468.0 719.6 469.8 742.2 472.1C764.8 474.4 783.1 477.2 795.9 480.2C808.6 483.2 815.8 486.4 816.8 489.7C817.9 493.0 812.9 496.2 802.2 499.3C791.5 502.3 775.2 505.1 754.5 507.4C733.8 509.8 708.8 511.7 681.3 513.0C653.9 514.3 624.0 515.0 594.1 515.0C564.1 515.0 534.1 514.4 506.3 513.2C478.6 512.0 453.0 510.2 431.7 507.9C410.4 505.7 393.4 502.9 381.9 499.9C370.4 496.9 364.5 493.7 364.7 490.4C364.9 487.1 371.2 483.9 383.1 480.8C395.1 477.8 412.7 475.0 434.7 472.6C456.7 470.3 483.0 468.4 511.8 467.1C540.6 465.8 571.8 465.1 603.2 465.0C634.5 464.9 666.0 465.5 695.2 466.7C724.5 467.9 751.5 469.7 774.3 472.0C797.1 474.2 815.7 477.0 828.7 480.0C841.7 483.0 849.1 486.2 850.5 489.5C851.8 492.7 847.1 496.0 836.7 499.1C826.3 502.1 810.2 504.9 789.7 507.3C769.2 509.6 744.4 511.6 717.0 512.9C689.7 514.2 659.9 514.9 629.9 515.0C600.0 515.1 569.9 514.5 542.0 513.3C514.2 512.1 488.5 510.4 467.0 508.1C445.5 505.9 428.2 503.1 416.4 500.1C404.7 497.2 398.5 493.9 398.4 490.6C398.3 487.4 404.3 484.1 416.0 481.0C427.7 478.0 445.0 475.2 466.8 472.8C488.6 470.4 514.8 468.5 543.4 467.2C572.1 465.8 603.3 465.1 634.6 465.0C666.0 464.9 697.5 465.5 726.8 466.6C756.1 467.8 783.3 469.6 806.3 471.8C829.3 474.1 848.1 476.8 861.4 479.7C874.7 482.7 882.4 486.0 884.1 489.2C885.7 492.5 881.2 495.8 871.1 498.8C861.0 501.9 845.1 504.7 824.9 507.1C804.6 509.5 779.9 511.4 752.7 512.8C725.5 514.1 695.7 514.9 665.8 515.0C635.9 515.1 605.8 514.6 577.8 513.4C549.8 512.3 523.9 510.5 502.2 508.3C480.5 506.0 463.0 503.3 451.0 500.4C439.0 497.4 432.5 494.1 432.1 490.9C431.7 487.6 437.4 484.3 448.9 481.3C460.3 478.2 477.4 475.4 498.9 473.0C520.5 470.6 546.5 468.6 575.1 467.3C603.6 465.9 634.7 465.1 666.1 465.0C697.4 464.9 728.9 465.4 758.4 466.6C787.8 467.7 815.2 469.4 838.4 471.6C861.6 473.9 880.6 476.6 894.1 479.5C907.7 482.5 915.7 485.7 917.6 489.0C919.6 492.3 915.4 495.6 905.5 498.6C895.7 501.7 880.1 504.5 860.0 506.9C840.0 509.3 815.4 511.3 788.3 512.7C761.2 514.1 731.6 514.8 701.7 515.0C671.7 515.1 641.6 514.6 613.5 513.5C585.4 512.4 559.4 510.6 537.5 508.4C515.6 506.2 497.8 503.5 485.6 500.6C473.3 497.6 466.5 494.4 465.9 491.1C465.2 487.9 470.6 484.6 481.7 481.5C492.9 478.4 509.7 475.6 531.1 473.2C552.4 470.7 578.3 468.8 606.7 467.4C635.2 466.0 666.2 465.2 697.5 465.0C728.8 464.9 760.4 465.4 790.0 466.5C819.5 467.6 847.0 469.3 870.4 471.5C893.8 473.7 913.1 476.4 926.9 479.3C940.7 482.3 949.0 485.5 951.2 488.8C953.4 492.0 949.5 495.3 939.9 498.4C930.3 501.5 915.0 504.3 895.2 506.8C875.3 509.2 851.0 511.2 824.0 512.6C797.0 514.0 767.4 514.8 737.5 515.0C707.6 515.1 677.4 514.7 649.2 513.6C621.0 512.5 594.9 510.8 572.8 508.6C550.7 506.4 532.7 503.7 520.2 500.8C507.6 497.8 500.6 494.6 499.6 491.4C498.7 488.1 503.8 484.8 514.6 481.7C525.5 478.6 542.1 475.8 563.3 473.3C584.4 470.9 610.1 468.9 638.4 467.5C666.7 466.1 697.6 465.2 728.9 465.0C760.2 464.9 791.9 465.3 821.5 466.4C851.2 467.5 878.8 469.2 902.4 471.3C926.0 473.5 945.5 476.2 959.6 479.1C973.6 482.0 982.2 485.3 984.7 488.5C987.2 491.8 983.6 495.1 974.3 498.2C965.0 501.3 949.9 504.1 930.3 506.6C910.7 509.0 886.5 511.0 859.6 512.5C832.8 513.9 803.3 514.8 773.4 515.0C743.5 515.2 713.2 514.7 684.9 513.6C656.7 512.6 630.4 510.9 608.1 508.7C585.8 506.6 567.6 503.9 554.8 501.0C542.0 498.1 534.7 494.9 533.4 491.6C532.2 488.3 537.0 485.0 547.6 481.9C558.2 478.8 574.5 476.0 595.4 473.5C616.4 471.0 641.8 469.0 670.0 467.6C698.2 466.1 729.1 465.3 760.4 465.1C791.7 464.8 823.3 465.3 853.1 466.3C882.8 467.4 910.6 469.0 934.4 471.2C958.1 473.3 977.9 476.0 992.2 478.9C1006.6 481.8 1015.4 485.0 1018.2 488.3C1021.0 491.6 1017.7 494.9 1008.7 498.0C999.6 501.1 984.8 503.9 965.4 506.4C946.0 508.9 922.0 510.9 895.3 512.4C868.5 513.8 839.1 514.7 809.2 514.9C779.4 515.2 749.1 514.8 720.7 513.7C692.3 512.7 665.9 511.0 643.4 508.9C620.9 506.8 602.4 504.1 589.4 501.2C576.3 498.3 568.7 495.1 567.2 491.8C565.7 488.6 570.2 485.3 580.5 482.2C590.8 479.1 606.9 476.2 627.6 473.7C648.3 471.2 673.6 469.2 701.7 467.7C729.8 466.2 760.6 465.3 791.8 465.1C823.1 464.8 854.8 465.2 884.6 466.2C914.5 467.3 942.4 468.9 966.3 471.0C990.3 473.1 1010.3 475.8 1024.9 478.7C1039.5 481.6 1048.6 484.8 1051.7 488.1C1054.8 491.3 1051.8 494.6 1043.0 497.7C1034.2 500.8 1019.7 503.7 1000.5 506.2C981.3 508.7 957.5 510.8 930.9 512.3C904.3 513.8 874.9 514.7 845.1 514.9C815.2 515.2 784.9 514.8 756.4 513.8C728.0 512.8 701.4 511.2 678.7 509.1C656.1 506.9 637.3 504.3 624.0 501.4C610.7 498.5 602.9 495.3 601.0 492.1C599.2 488.8 603.4 485.5 613.5 482.4C623.5 479.3 639.4 476.4 659.8 473.9C680.3 471.4 705.5 469.3 733.4 467.8C761.3 466.3 792.0 465.4 823.3 465.1C854.5 464.8 886.3 465.2 916.2 466.2C946.1 467.2 974.2 468.8 998.3 470.9C1022.5 473.0 1042.7 475.6 1057.5 478.5C1072.4 481.4 1081.8 484.6 1085.2 487.8C1088.5 491.1 1085.8 494.4 1077.3 497.5C1068.8 500.6 1054.5 503.5 1035.6 506.0C1016.6 508.6 993.0 510.6 966.5 512.2C940.0 513.7 910.8 514.6 880.9 514.9C851.1 515.2 820.8 514.8 792.2 513.9C763.6 512.9 736.9 511.3 714.1 509.2C691.2 507.1 672.3 504.5 658.7 501.6C645.2 498.7 637.0 495.5 634.9 492.3C632.8 489.0 636.7 485.7 646.5 482.6C656.2 479.5 671.8 476.6 692.1 474.0C712.3 471.5 737.3 469.4 765.1 467.9C792.9 466.4 823.5 465.4 854.7 465.1" stroke-dasharray="5.8 5.63"/><path d="M540.3 550.5C569.4 550.5 598.4 551.1 625.3 552.2C652.2 553.3 676.9 554.9 697.7 556.9C718.5 559.0 735.2 561.4 746.8 564.0C758.3 566.7 764.7 569.6 765.4 572.4C766.1 575.3 761.1 578.2 750.9 580.9C740.8 583.5 725.4 586.0 706.0 588.0C686.6 590.0 663.2 591.7 637.6 592.8C612.0 593.9 584.2 594.5 556.5 594.5C528.7 594.5 500.8 594.0 475.2 592.9C449.5 591.8 425.9 590.2 406.3 588.1C386.7 586.1 371.1 583.7 360.7 581.1C350.3 578.4 345.1 575.5 345.5 572.7C345.9 569.8 352.0 566.9 363.3 564.2C374.6 561.6 391.1 559.1 411.7 557.1C432.3 555.0 456.9 553.4 483.7 552.2C510.5 551.1 539.4 550.5 568.5 550.5C597.6 550.5 626.7 551.0 653.7 552.1C680.7 553.2 705.5 554.8 726.5 556.8C747.4 558.8 764.4 561.2 776.2 563.9C788.0 566.5 794.6 569.4 795.6 572.2C796.6 575.1 791.9 578.0 782.0 580.7C772.0 583.3 756.9 585.8 737.7 587.9C718.5 589.9 695.2 591.6 669.7 592.7C644.3 593.8 616.6 594.5 588.8 594.5C561.0 594.5 533.1 594.0 507.3 592.9C481.5 591.9 457.8 590.3 438.0 588.3C418.3 586.3 402.4 583.9 391.8 581.2C381.1 578.6 375.6 575.7 375.8 572.9C375.9 570.0 381.7 567.1 392.8 564.4C403.9 561.8 420.2 559.3 440.5 557.2C460.9 555.2 485.3 553.5 512.0 552.3C538.7 551.2 567.7 550.6 596.7 550.5C625.8 550.4 654.9 551.0 682.0 552.0C709.1 553.1 734.1 554.6 755.3 556.6C776.4 558.6 793.6 561.0 805.7 563.7C817.7 566.3 824.6 569.2 825.8 572.0C827.1 574.9 822.6 577.8 813.0 580.5C803.3 583.2 788.4 585.6 769.4 587.7C750.3 589.8 727.2 591.5 701.9 592.6C676.5 593.8 648.9 594.4 621.1 594.5C593.3 594.6 565.4 594.1 539.5 593.0C513.6 592.0 489.7 590.4 469.8 588.4C449.8 586.5 433.7 584.1 422.8 581.4C411.9 578.8 406.2 575.9 406.1 573.1C406.0 570.2 411.5 567.3 422.3 564.6C433.1 561.9 449.2 559.5 469.4 557.4C489.6 555.3 513.8 553.6 540.4 552.4C567.0 551.2 595.9 550.6 624.9 550.5C654.0 550.4 683.2 550.9 710.4 551.9C737.6 553.0 762.7 554.5 784.0 556.5C805.4 558.5 822.8 560.9 835.1 563.5C847.4 566.1 854.5 569.0 856.0 571.8C857.5 574.7 853.4 577.6 844.0 580.3C834.5 583.0 819.8 585.5 801.0 587.6C782.2 589.7 759.3 591.4 734.0 592.5C708.7 593.7 681.1 594.4 653.4 594.5C625.6 594.6 597.6 594.1 571.6 593.1C545.7 592.1 521.7 590.5 501.5 588.6C481.4 586.6 465.1 584.2 453.9 581.6C442.8 579.0 436.8 576.2 436.4 573.3C436.0 570.4 441.3 567.5 451.8 564.8C462.4 562.1 478.2 559.6 498.2 557.5C518.2 555.4 542.3 553.7 568.8 552.5C595.3 551.3 624.1 550.6 653.1 550.5C682.2 550.4 711.4 550.9 738.7 551.9C766.0 552.9 791.3 554.4 812.8 556.4C834.3 558.3 852.0 560.7 864.5 563.3C877.0 565.9 884.4 568.7 886.2 571.6C888.0 574.5 884.1 577.4 874.9 580.1C865.8 582.8 851.3 585.3 832.7 587.4C814.0 589.5 791.3 591.2 766.1 592.5C741.0 593.7 713.4 594.4 685.7 594.5C657.9 594.6 629.9 594.2 603.8 593.2C577.7 592.2 553.6 590.7 533.3 588.7C513.0 586.8 496.4 584.4 485.0 581.8C473.6 579.2 467.4 576.4 466.7 573.5C466.1 570.6 471.1 567.7 481.4 565.0C491.7 562.3 507.3 559.8 527.1 557.7C546.9 555.6 570.8 553.8 597.2 552.6C623.6 551.4 652.3 550.7 681.3 550.5C710.4 550.4 739.6 550.8 767.0 551.8C794.4 552.8 819.9 554.3 841.5 556.2C863.2 558.1 881.1 560.5 893.9 563.1C906.7 565.7 914.3 568.5 916.4 571.4C918.4 574.3 914.8 577.2 905.9 579.9C897.0 582.6 882.7 585.1 864.3 587.2C845.9 589.4 823.3 591.1 798.2 592.4C773.2 593.6 745.7 594.3 718.0 594.5C690.2 594.6 662.2 594.2 636.0 593.2C609.8 592.3 585.6 590.8 565.1 588.9C544.5 586.9 527.8 584.6 516.2 582.0C504.5 579.4 498.0 576.6 497.1 573.7C496.2 570.8 500.9 567.9 511.0 565.2C521.0 562.5 536.4 560.0 556.0 557.8C575.6 555.7 599.3 553.9 625.6 552.7C651.8 551.4 680.5 550.7 709.5 550.5C738.5 550.4 767.9 550.8 795.3 551.7C822.8 552.7 848.4 554.2 870.3 556.1C892.1 558.0 910.2 560.3 923.3 562.9C936.3 565.5 944.2 568.3 946.5 571.2C948.8 574.1 945.5 577.0 936.8 579.7C928.2 582.4 914.2 584.9 895.9 587.1C877.7 589.2 855.3 591.0 830.3 592.3C805.4 593.5 778.0 594.3 750.3 594.5C722.5 594.6 694.4 594.2 668.2 593.3C641.9 592.4 617.5 590.9 596.8 589.0C576.2 587.1 559.2 584.8 547.3 582.2C535.4 579.6 528.6 576.8 527.5 573.9C526.3 571.0 530.7 568.1 540.5 565.4C550.3 562.7 565.5 560.1 584.9 558.0C604.3 555.8 627.9 554.0 654.0 552.8C680.1 551.5 708.7 550.7 737.7 550.5C766.7 550.4 796.1 550.7 823.7 551.7C851.2 552.6 877.0 554.0 899.0 555.9C921.0 557.8 939.3 560.1 952.6 562.7C965.9 565.3 974.1 568.1 976.6 571.0C979.2 573.9 976.1 576.8 967.7 579.5C959.3 582.2 945.6 584.8 927.5 586.9C909.5 589.1 887.2 590.9 862.4 592.2C837.6 593.5 810.3 594.2 782.6 594.4C754.8 594.6 726.7 594.3 700.4 593.4C674.0 592.5 649.5 591.0 628.6 589.1C607.8 587.3 590.6 584.9 578.5 582.4C566.4 579.8 559.3 577.0 557.9 574.1C556.4 571.2 560.6 568.3 570.1 565.6C579.7 562.9 594.6 560.3 613.8 558.1C633.0 556.0 656.4 554.2 682.4 552.9C708.4 551.6 737.0 550.8 766.0 550.6C794.9 550.3 824.3 550.7 852.0 551.6C879.6 552.5 905.5 553.9 927.7 555.8C949.9 557.7 968.4 560.0 981.9 562.5C995.4 565.1 1003.9 567.9 1006.7 570.8C1009.6 573.7 1006.8 576.6 998.6 579.3C990.5 582.0 976.9 584.6 959.1 586.8C941.3 589.0 919.2 590.8 894.5 592.1C869.8 593.4 842.6 594.2 814.9 594.4C787.2 594.7 759.0 594.3 732.6 593.4C706.2 592.6 681.5 591.1 660.4 589.3C639.4 587.4 622.0 585.1 609.7 582.6C597.3 580.0 590.0 577.2 588.3 574.3C586.6 571.4 590.5 568.5 599.8 565.8C609.1 563.1 623.7 560.5 642.7 558.3C661.7 556.1 685.0 554.3 710.9 553.0C736.7 551.6 765.2 550.8 794.2 550.6C823.1 550.3 852.5 550.7 880.3 551.5C908.0 552.4 934.0 553.8 956.4 555.7C978.8 557.5 997.5 559.8 1011.3 562.4C1025.0 564.9 1033.7 567.7 1036.8 570.6C1039.9 573.4 1037.4 576.4 1029.5 579.1C1021.6 581.8 1008.3 584.4 990.7 586.6C973.1 588.8 951.1 590.7 926.6 592.0C902.0 593.3 874.8 594.2 847.2 594.4C819.5 594.7 791.3 594.4 764.8 593.5C738.3 592.6 713.5 591.2 692.3 589.4C671.1 587.6 653.5 585.3 640.9 582.7C628.3 580.2 620.7 577.4 618.7 574.5C616.7 571.7 620.4 568.7 629.4 566.0C638.4 563.2 652.9 560.7 671.6 558.5C690.4 556.2 713.5 554.4 739.3 553.1C765.1 551.7 793.4 550.9 822.4 550.6" stroke-dasharray="5.8 4.90"/><path d="M540.3 635.5C567.2 635.5 594.2 636.0 619.1 637.0C644.1 638.0 667.0 639.5 686.2 641.3C705.5 643.2 721.0 645.4 731.7 647.8C742.4 650.2 748.3 652.8 748.9 655.5C749.5 658.1 744.8 660.7 735.4 663.1C725.9 665.5 711.5 667.7 693.5 669.6C675.4 671.4 653.7 672.9 629.9 673.9C606.1 675.0 580.2 675.5 554.4 675.5C528.5 675.5 502.7 675.0 478.8 674.0C454.9 673.0 433.0 671.6 414.7 669.7C396.5 667.9 381.9 665.7 372.2 663.3C362.5 660.9 357.6 658.3 358.0 655.6C358.4 653.0 364.0 650.4 374.4 648.0C384.9 645.6 400.2 643.3 419.3 641.5C438.3 639.6 461.1 638.1 486.0 637.1C510.8 636.1 537.7 635.5 564.7 635.5C591.6 635.5 618.6 636.0 643.6 636.9C668.7 637.9 691.7 639.4 711.2 641.2C730.6 643.0 746.3 645.2 757.2 647.6C768.2 650.0 774.3 652.7 775.1 655.3C776.0 657.9 771.6 660.5 762.3 662.9C753.1 665.4 739.0 667.6 721.1 669.5C703.2 671.3 681.6 672.8 657.9 673.9C634.2 674.9 608.4 675.5 582.5 675.5C556.7 675.5 530.8 675.1 506.8 674.1C482.8 673.1 460.7 671.7 442.3 669.9C423.9 668.0 409.2 665.8 399.2 663.4C389.3 661.0 384.2 658.4 384.3 655.8C384.4 653.2 389.7 650.6 400.0 648.2C410.2 645.7 425.3 643.5 444.2 641.6C463.1 639.7 485.7 638.2 510.5 637.2C535.2 636.1 562.1 635.6 589.0 635.5C616.0 635.5 643.0 635.9 668.1 636.9C693.3 637.8 716.5 639.3 736.1 641.1C755.6 642.9 771.6 645.1 782.7 647.5C793.9 649.9 800.2 652.5 801.3 655.1C802.4 657.7 798.3 660.3 789.3 662.7C780.3 665.2 766.4 667.4 748.7 669.3C731.0 671.2 709.5 672.7 685.9 673.8C662.3 674.9 636.6 675.4 610.7 675.5C584.9 675.6 558.9 675.1 534.8 674.2C510.7 673.2 488.6 671.8 470.0 670.0C451.4 668.2 436.4 666.0 426.3 663.6C416.1 661.2 410.7 658.6 410.6 656.0C410.4 653.4 415.6 650.8 425.6 648.3C435.6 645.9 450.4 643.6 469.1 641.7C487.8 639.8 510.4 638.3 535.0 637.2C559.7 636.2 586.4 635.6 613.4 635.5C640.3 635.4 667.4 635.9 692.6 636.8C717.8 637.7 741.2 639.2 760.9 640.9C780.7 642.7 796.8 644.9 808.2 647.3C819.6 649.7 826.2 652.3 827.6 654.9C828.9 657.5 825.0 660.1 816.2 662.6C807.4 665.0 793.8 667.3 776.2 669.2C758.7 671.1 737.4 672.6 713.9 673.7C690.4 674.8 664.7 675.4 638.9 675.5C613.0 675.6 587.0 675.1 562.9 674.2C538.7 673.3 516.4 671.9 497.6 670.1C478.9 668.3 463.7 666.2 453.3 663.8C442.9 661.4 437.3 658.8 436.9 656.2C436.5 653.6 441.4 651.0 451.1 648.5C460.9 646.1 475.6 643.8 494.1 641.9C512.6 640.0 535.0 638.4 559.5 637.3C584.1 636.2 610.8 635.6 637.7 635.5C664.7 635.4 691.8 635.8 717.1 636.7C742.4 637.7 765.9 639.0 785.8 640.8C805.7 642.6 822.1 644.7 833.7 647.1C845.3 649.5 852.1 652.1 853.7 654.7C855.3 657.3 851.7 659.9 843.2 662.4C834.6 664.9 821.1 667.1 803.8 669.0C786.5 671.0 765.3 672.5 741.9 673.6C718.5 674.7 692.9 675.4 667.0 675.5C641.2 675.6 615.2 675.2 590.9 674.3C566.6 673.4 544.2 672.0 525.3 670.2C506.4 668.5 491.0 666.3 480.4 664.0C469.7 661.6 463.9 659.0 463.2 656.4C462.6 653.8 467.2 651.1 476.7 648.7C486.3 646.2 500.7 644.0 519.1 642.0C537.4 640.1 559.6 638.5 584.1 637.4C608.5 636.3 635.2 635.6 662.1 635.5C689.0 635.4 716.2 635.8 741.6 636.7C767.0 637.6 790.6 638.9 810.7 640.7C830.8 642.4 847.3 644.6 859.1 647.0C871.0 649.3 878.1 651.9 879.9 654.5C881.8 657.1 878.4 659.8 870.1 662.2C861.7 664.7 848.5 667.0 831.3 668.9C814.2 670.8 793.1 672.4 769.9 673.6C746.6 674.7 721.0 675.3 695.2 675.5C669.4 675.6 643.3 675.2 619.0 674.4C594.6 673.5 572.0 672.1 552.9 670.4C533.9 668.6 518.3 666.5 507.4 664.1C496.6 661.8 490.5 659.2 489.6 656.6C488.7 654.0 493.1 651.3 502.4 648.9C511.7 646.4 525.9 644.1 544.1 642.2C562.2 640.2 584.3 638.6 608.6 637.5C632.9 636.3 659.5 635.7 686.4 635.5C713.4 635.4 740.5 635.8 766.0 636.6C791.5 637.5 815.2 638.8 835.5 640.6C855.8 642.3 872.5 644.4 884.6 646.8C896.6 649.1 904.0 651.7 906.1 654.3C908.2 656.9 905.0 659.6 897.0 662.0C888.9 664.5 875.8 666.8 858.9 668.8C841.9 670.7 821.0 672.3 797.8 673.5C774.6 674.6 749.2 675.3 723.4 675.5C697.6 675.6 671.4 675.3 647.0 674.4C622.6 673.6 599.9 672.2 580.6 670.5C561.4 668.8 545.6 666.6 534.5 664.3C523.5 662.0 517.1 659.4 516.0 656.8C514.8 654.2 518.9 651.5 528.0 649.0C537.1 646.6 551.1 644.3 569.1 642.3C587.0 640.3 608.9 638.7 633.2 637.6C657.4 636.4 683.9 635.7 710.8 635.5C737.7 635.4 764.9 635.7 790.5 636.6C816.0 637.4 839.9 638.7 860.3 640.4C880.8 642.2 897.7 644.3 910.0 646.6C922.3 649.0 929.9 651.5 932.2 654.1C934.6 656.7 931.7 659.4 923.8 661.9C916.0 664.3 903.2 666.7 886.4 668.6C869.6 670.6 848.9 672.2 825.8 673.4C802.7 674.6 777.3 675.3 751.5 675.5C725.7 675.6 699.6 675.3 675.1 674.5C650.6 673.6 627.7 672.3 608.3 670.6C588.9 668.9 572.9 666.8 561.6 664.5C550.3 662.1 543.7 659.6 542.4 657.0C541.0 654.4 544.8 651.7 553.7 649.2C562.5 646.7 576.3 644.4 594.1 642.4C611.8 640.5 633.6 638.8 657.7 637.6C681.8 636.5 708.3 635.8 735.2 635.6C762.0 635.4 789.3 635.7 814.9 636.5C840.6 637.3 864.6 638.6 885.2 640.3C905.7 642.0 922.9 644.1 935.4 646.4C947.9 648.8 955.7 651.3 958.3 653.9C960.9 656.6 958.3 659.2 950.7 661.7C943.1 664.2 930.5 666.5 913.9 668.5C897.3 670.5 876.7 672.1 853.8 673.3C830.8 674.5 805.5 675.2 779.7 675.4C753.9 675.6 727.7 675.3 703.1 674.5C678.6 673.7 655.6 672.4 636.0 670.7C616.5 669.1 600.3 667.0 588.8 664.6C577.2 662.3 570.4 659.8 568.8 657.1C567.1 654.5 570.7 651.9 579.3 649.4C587.9 646.9 601.5 644.6 619.1 642.6C636.7 640.6 658.3 638.9 682.3 637.7C706.3 636.5 732.7 635.8 759.5 635.6C786.4 635.4 813.7 635.6 839.4 636.4C865.1 637.2 889.2 638.5 910.0 640.2C930.7 641.9 948.1 644.0 960.8 646.3C973.5 648.6 981.6 651.2 984.4 653.8C987.3 656.4 984.9 659.0 977.5 661.5C970.2 664.0 957.8 666.3 941.4 668.3C925.0 670.3 904.6 672.0 881.7 673.2C858.9 674.4 833.6 675.2 807.8 675.4C782.1 675.7 755.9 675.4 731.2 674.6C706.6 673.8 683.5 672.5 663.7 670.9C644.0 669.2 627.6 667.1 615.9 664.8C604.2 662.5 597.1 659.9 595.2 657.3C593.3 654.7 596.7 652.1 605.0 649.6C613.4 647.1 626.7 644.7 644.1 642.7C661.5 640.7 683.0 639.0 706.8 637.8C730.7 636.6 757.1 635.8 783.9 635.6" stroke-dasharray="5.8 5.42"/>
</g>
<g fill="none" stroke="#ffff00" stroke-width="2.3"><circle cx="540.3" cy="125.5" r="9.8"/><circle cx="548.0" cy="125.5" r="9.8"/><circle cx="555.8" cy="125.5" r="9.8"/><circle cx="563.5" cy="125.5" r="9.8"/><circle cx="571.3" cy="125.5" r="9.8"/><circle cx="579.0" cy="125.5" r="9.8"/><circle cx="586.8" cy="125.5" r="9.8"/><circle cx="594.5" cy="125.5" r="9.8"/><circle cx="602.3" cy="125.5" r="9.8"/><circle cx="610.0" cy="125.5" r="9.8"/><circle cx="540.3" cy="211.5" r="9.8"/><circle cx="566.6" cy="211.5" r="9.8"/><circle cx="592.9" cy="211.5" r="9.8"/><circle cx="619.2" cy="211.5" r="9.8"/><circle cx="645.5" cy="211.5" r="9.8"/><circle cx="671.8" cy="211.5" r="9.8"/><circle cx="698.1" cy="211.5" r="9.8"/><circle cx="724.4" cy="211.5" r="9.8"/><circle cx="750.7" cy="211.5" r="9.8"/><circle cx="777.0" cy="211.5" r="9.8"/><circle cx="540.3" cy="294.5" r="9.8"/><circle cx="574.2" cy="294.5" r="9.8"/><circle cx="608.1" cy="294.5" r="9.8"/><circle cx="642.0" cy="294.5" r="9.8"/><circle cx="675.9" cy="294.5" r="9.8"/><circle cx="709.8" cy="294.5" r="9.8"/><circle cx="743.7" cy="294.5" r="9.8"/><circle cx="777.6" cy="294.5" r="9.8"/><circle cx="811.5" cy="294.5" r="9.8"/><circle cx="845.4" cy="294.5" r="9.8"/><circle cx="540.3" cy="380.0" r="9.8"/><circle cx="575.6" cy="380.0" r="9.8"/><circle cx="610.9" cy="380.0" r="9.8"/><circle cx="646.2" cy="380.0" r="9.8"/><circle cx="681.5" cy="380.0" r="9.8"/><circle cx="716.8" cy="380.0" r="9.8"/><circle cx="752.1" cy="380.0" r="9.8"/><circle cx="787.4" cy="380.0" r="9.8"/><circle cx="822.7" cy="380.0" r="9.8"/><circle cx="858.0" cy="380.0" r="9.8"/><circle cx="540.3" cy="465.0" r="9.8"/><circle cx="574.0" cy="465.0" r="9.8"/><circle cx="607.7" cy="465.0" r="9.8"/><circle cx="641.4" cy="465.0" r="9.8"/><circle cx="675.1" cy="465.0" r="9.8"/><circle cx="708.8" cy="465.0" r="9.8"/><circle cx="742.5" cy="465.0" r="9.8"/><circle cx="776.2" cy="465.0" r="9.8"/><circle cx="809.9" cy="465.0" r="9.8"/><circle cx="843.6" cy="465.0" r="9.8"/><circle cx="540.3" cy="550.5" r="9.8"/><circle cx="570.6" cy="550.5" r="9.8"/><circle cx="600.9" cy="550.5" r="9.8"/><circle cx="631.2" cy="550.5" r="9.8"/><circle cx="661.5" cy="550.5" r="9.8"/><circle cx="691.8" cy="550.5" r="9.8"/><circle cx="722.1" cy="550.5" r="9.8"/><circle cx="752.4" cy="550.5" r="9.8"/><circle cx="782.7" cy="550.5" r="9.8"/><circle cx="813.0" cy="550.5" r="9.8"/><circle cx="540.3" cy="635.5" r="9.8"/><circle cx="566.6" cy="635.5" r="9.8"/><circle cx="592.9" cy="635.5" r="9.8"/><circle cx="619.2" cy="635.5" r="9.8"/><circle cx="645.5" cy="635.5" r="9.8"/><circle cx="671.8" cy="635.5" r="9.8"/><circle cx="698.1" cy="635.5" r="9.8"/><circle cx="724.4" cy="635.5" r="9.8"/><circle cx="750.7" cy="635.5" r="9.8"/><circle cx="777.0" cy="635.5" r="9.8"/></g>
<path d="M525.6 125.5h29.4M540.3 110.8v29.4M525.6 211.5h29.4M540.3 196.8v29.4M525.6 294.5h29.4M540.3 279.8v29.4M525.6 380.0h29.4M540.3 365.3v29.4M525.6 465.0h29.4M540.3 450.3v29.4M525.6 550.5h29.4M540.3 535.8v29.4M525.6 635.5h29.4M540.3 620.8v29.4" stroke="#ff0000" stroke-width="9.7" fill="none"/>
<path d="M592.5 110.5L604.0 125.5L592.5 140.5L581.0 125.5ZM777.5 196.5L789.0 211.5L777.5 226.5L766.0 211.5ZM852.5 279.5L864.0 294.5L852.5 309.5L841.0 294.5ZM870.0 365.0L881.5 380.0L870.0 395.0L858.5 380.0ZM852.5 450.0L864.0 465.0L852.5 480.0L841.0 465.0ZM821.5 535.5L833.0 550.5L821.5 565.5L810.0 550.5ZM784.0 620.5L795.5 635.5L784.0 650.5L772.5 635.5Z" stroke="#ff0000" stroke-width="7.6" fill="none" stroke-linejoin="miter" stroke-miterlimit="10"/>
<clipPath id="cpd"><rect x="1353.8" y="26" width="1042.7" height="674"/></clipPath>
<g clip-path="url(#cpd)" fill="none" stroke="#aee8f6" stroke-width="5.8">
<path d="M1587.7 244.6C1574.4 242.4 1562.0 239.0 1551.6 234.5C1541.1 230.1 1532.7 224.6 1526.8 218.4C1521.0 212.3 1517.9 205.5 1517.7 198.6C1517.5 191.8 1520.4 184.7 1526.1 178.1C1531.8 171.5 1540.4 165.2 1551.4 159.9C1562.3 154.5 1575.6 150.0 1590.3 146.6M1650.2 244.6C1636.9 242.4 1624.5 239.0 1614.1 234.5C1603.6 230.1 1595.2 224.6 1589.3 218.4C1583.5 212.3 1580.4 205.5 1580.2 198.6C1580.0 191.8 1582.9 184.7 1588.6 178.1C1594.3 171.5 1602.9 165.2 1613.9 159.9C1624.8 154.5 1638.1 150.0 1652.8 146.6M1712.7 244.6C1699.4 242.4 1687.0 239.0 1676.6 234.5C1666.1 230.1 1657.7 224.6 1651.8 218.4C1646.0 212.3 1642.9 205.5 1642.7 198.6C1642.5 191.8 1645.4 184.7 1651.1 178.1C1656.8 171.5 1665.4 165.2 1676.4 159.9C1687.3 154.5 1700.6 150.0 1715.3 146.6M1775.2 244.6C1761.9 242.4 1749.5 239.0 1739.1 234.5C1728.6 230.1 1720.2 224.6 1714.3 218.4C1708.5 212.3 1705.4 205.5 1705.2 198.6C1705.0 191.8 1707.9 184.7 1713.6 178.1C1719.3 171.5 1727.9 165.2 1738.9 159.9C1749.8 154.5 1763.1 150.0 1777.8 146.6M1837.7 244.6C1824.4 242.4 1812.0 239.0 1801.6 234.5C1791.1 230.1 1782.7 224.6 1776.8 218.4C1771.0 212.3 1767.9 205.5 1767.7 198.6C1767.5 191.8 1770.4 184.7 1776.1 178.1C1781.8 171.5 1790.4 165.2 1801.4 159.9C1812.3 154.5 1825.6 150.0 1840.3 146.6M1900.2 244.6C1886.9 242.4 1874.5 239.0 1864.1 234.5C1853.6 230.1 1845.2 224.6 1839.3 218.4C1833.5 212.3 1830.4 205.5 1830.2 198.6C1830.0 191.8 1832.9 184.7 1838.6 178.1C1844.3 171.5 1852.9 165.2 1863.9 159.9C1874.8 154.5 1888.1 150.0 1902.8 146.6M1962.7 244.6C1949.4 242.4 1937.0 239.0 1926.6 234.5C1916.1 230.1 1907.7 224.6 1901.8 218.4C1896.0 212.3 1892.9 205.5 1892.7 198.6C1892.5 191.8 1895.4 184.7 1901.1 178.1C1906.8 171.5 1915.4 165.2 1926.4 159.9C1937.3 154.5 1950.6 150.0 1965.3 146.6M2025.2 244.6C2011.9 242.4 1999.5 239.0 1989.1 234.5C1978.6 230.1 1970.2 224.6 1964.3 218.4C1958.5 212.3 1955.4 205.5 1955.2 198.6C1955.0 191.8 1957.9 184.7 1963.6 178.1C1969.3 171.5 1977.9 165.2 1988.9 159.9C1999.8 154.5 2013.1 150.0 2027.8 146.6M2087.7 244.6C2074.4 242.4 2062.0 239.0 2051.6 234.5C2041.1 230.1 2032.7 224.6 2026.8 218.4C2021.0 212.3 2017.9 205.5 2017.7 198.6C2017.5 191.8 2020.4 184.7 2026.1 178.1C2031.8 171.5 2040.4 165.2 2051.4 159.9C2062.3 154.5 2075.6 150.0 2090.3 146.6M1609.2 230.2C1619.3 233.7 1627.9 237.8 1634.6 242.3C1641.2 246.9 1646.0 251.8 1648.6 256.9C1651.2 261.9 1651.7 267.1 1650.0 272.1C1648.4 277.1 1644.6 281.9 1639.0 286.3C1633.4 290.6 1626.0 294.5 1617.1 297.8C1608.3 301.0 1598.2 303.5 1587.3 305.2C1576.3 306.9 1564.7 307.8 1553.1 307.8M1660.4 230.2C1671.3 233.9 1680.4 238.4 1687.3 243.4C1694.1 248.3 1698.7 253.7 1700.9 259.2C1703.0 264.7 1702.6 270.3 1699.8 275.5C1697.0 280.8 1691.7 285.8 1684.5 290.2C1677.3 294.5 1668.1 298.3 1657.6 301.2C1647.1 304.0 1635.3 306.0 1623.0 307.0C1610.7 308.0 1597.9 308.0 1585.6 307.0C1573.3 306.0 1561.5 304.0 1551.0 301.2C1540.5 298.3 1531.3 294.5 1524.1 290.2C1516.9 285.8 1511.6 280.8 1508.8 275.5C1506.0 270.3 1505.6 264.7 1507.7 259.2C1509.9 253.7 1514.5 248.3 1521.3 243.4C1528.2 238.4 1537.3 233.9 1548.2 230.2M1711.6 230.2C1722.5 233.9 1731.6 238.4 1738.5 243.4C1745.3 248.3 1749.9 253.7 1752.1 259.2C1754.2 264.7 1753.8 270.3 1751.0 275.5C1748.2 280.8 1742.9 285.8 1735.7 290.2C1728.5 294.5 1719.3 298.3 1708.8 301.2C1698.3 304.0 1686.5 306.0 1674.2 307.0C1661.9 308.0 1649.1 308.0 1636.8 307.0C1624.5 306.0 1612.7 304.0 1602.2 301.2C1591.7 298.3 1582.5 294.5 1575.3 290.2C1568.1 285.8 1562.8 280.8 1560.0 275.5C1557.2 270.3 1556.8 264.7 1558.9 259.2C1561.1 253.7 1565.7 248.3 1572.5 243.4C1579.4 238.4 1588.5 233.9 1599.4 230.2M1762.8 230.2C1773.7 233.9 1782.8 238.4 1789.7 243.4C1796.5 248.3 1801.1 253.7 1803.3 259.2C1805.4 264.7 1805.0 270.3 1802.2 275.5C1799.4 280.8 1794.1 285.8 1786.9 290.2C1779.7 294.5 1770.5 298.3 1760.0 301.2C1749.5 304.0 1737.7 306.0 1725.4 307.0C1713.1 308.0 1700.3 308.0 1688.0 307.0C1675.7 306.0 1663.9 304.0 1653.4 301.2C1642.9 298.3 1633.7 294.5 1626.5 290.2C1619.3 285.8 1614.0 280.8 1611.2 275.5C1608.4 270.3 1608.0 264.7 1610.1 259.2C1612.3 253.7 1616.9 248.3 1623.7 243.4C1630.6 238.4 1639.7 233.9 1650.6 230.2M1814.0 230.2C1824.9 233.9 1834.0 238.4 1840.9 243.4C1847.7 248.3 1852.3 253.7 1854.5 259.2C1856.6 264.7 1856.2 270.3 1853.4 275.5C1850.6 280.8 1845.3 285.8 1838.1 290.2C1830.9 294.5 1821.7 298.3 1811.2 301.2C1800.7 304.0 1788.9 306.0 1776.6 307.0C1764.3 308.0 1751.5 308.0 1739.2 307.0C1726.9 306.0 1715.1 304.0 1704.6 301.2C1694.1 298.3 1684.9 294.5 1677.7 290.2C1670.5 285.8 1665.2 280.8 1662.4 275.5C1659.6 270.3 1659.2 264.7 1661.3 259.2C1663.5 253.7 1668.1 248.3 1674.9 243.4C1681.8 238.4 1690.9 233.9 1701.8 230.2M1865.2 230.2C1876.1 233.9 1885.2 238.4 1892.1 243.4C1898.9 248.3 1903.5 253.7 1905.7 259.2C1907.8 264.7 1907.4 270.3 1904.6 275.5C1901.8 280.8 1896.5 285.8 1889.3 290.2C1882.1 294.5 1872.9 298.3 1862.4 301.2C1851.9 304.0 1840.1 306.0 1827.8 307.0C1815.5 308.0 1802.7 308.0 1790.4 307.0C1778.1 306.0 1766.3 304.0 1755.8 301.2C1745.3 298.3 1736.1 294.5 1728.9 290.2C1721.7 285.8 1716.4 280.8 1713.6 275.5C1710.8 270.3 1710.4 264.7 1712.5 259.2C1714.7 253.7 1719.3 248.3 1726.1 243.4C1733.0 238.4 1742.1 233.9 1753.0 230.2M1916.4 230.2C1927.3 233.9 1936.4 238.4 1943.3 243.4C1950.1 248.3 1954.7 253.7 1956.9 259.2C1959.0 264.7 1958.6 270.3 1955.8 275.5C1953.0 280.8 1947.7 285.8 1940.5 290.2C1933.3 294.5 1924.1 298.3 1913.6 301.2C1903.1 304.0 1891.3 306.0 1879.0 307.0C1866.7 308.0 1853.9 308.0 1841.6 307.0C1829.3 306.0 1817.5 304.0 1807.0 301.2C1796.5 298.3 1787.3 294.5 1780.1 290.2C1772.9 285.8 1767.6 280.8 1764.8 275.5C1762.0 270.3 1761.6 264.7 1763.7 259.2C1765.9 253.7 1770.5 248.3 1777.3 243.4C1784.2 238.4 1793.3 233.9 1804.2 230.2M1967.6 230.2C1978.5 233.9 1987.6 238.4 1994.5 243.4C2001.3 248.3 2005.9 253.7 2008.1 259.2C2010.2 264.7 2009.8 270.3 2007.0 275.5C2004.2 280.8 1998.9 285.8 1991.7 290.2C1984.5 294.5 1975.3 298.3 1964.8 301.2C1954.3 304.0 1942.5 306.0 1930.2 307.0C1917.9 308.0 1905.1 308.0 1892.8 307.0C1880.5 306.0 1868.7 304.0 1858.2 301.2C1847.7 298.3 1838.5 294.5 1831.3 290.2C1824.1 285.8 1818.8 280.8 1816.0 275.5C1813.2 270.3 1812.8 264.7 1814.9 259.2C1817.1 253.7 1821.7 248.3 1828.5 243.4C1835.4 238.4 1844.5 233.9 1855.4 230.2M2018.8 230.2C2029.7 233.9 2038.8 238.4 2045.7 243.4C2052.5 248.3 2057.1 253.7 2059.3 259.2C2061.4 264.7 2061.0 270.3 2058.2 275.5C2055.4 280.8 2050.1 285.8 2042.9 290.2C2035.7 294.5 2026.5 298.3 2016.0 301.2C2005.5 304.0 1993.7 306.0 1981.4 307.0C1969.1 308.0 1956.3 308.0 1944.0 307.0C1931.7 306.0 1919.9 304.0 1909.4 301.2C1898.9 298.3 1889.7 294.5 1882.5 290.2C1875.3 285.8 1870.0 280.8 1867.2 275.5C1864.4 270.3 1864.0 264.7 1866.1 259.2C1868.3 253.7 1872.9 248.3 1879.7 243.4C1886.6 238.4 1895.7 233.9 1906.6 230.2M2070.0 230.2C2080.9 233.9 2090.0 238.4 2096.9 243.4C2103.7 248.3 2108.3 253.7 2110.5 259.2C2112.6 264.7 2112.2 270.3 2109.4 275.5C2106.6 280.8 2101.3 285.8 2094.1 290.2C2086.9 294.5 2077.7 298.3 2067.2 301.2C2056.7 304.0 2044.9 306.0 2032.6 307.0C2020.3 308.0 2007.5 308.0 1995.2 307.0C1982.9 306.0 1971.1 304.0 1960.6 301.2C1950.1 298.3 1940.9 294.5 1933.7 290.2C1926.5 285.8 1921.2 280.8 1918.4 275.5C1915.6 270.3 1915.2 264.7 1917.3 259.2C1919.5 253.7 1924.1 248.3 1930.9 243.4C1937.8 238.4 1946.9 233.9 1957.8 230.2M1603.7 303.7C1613.1 306.6 1621.1 310.1 1627.2 313.9C1633.4 317.7 1637.8 321.8 1640.1 326.1C1642.5 330.3 1642.8 334.6 1641.2 338.8C1639.5 343.0 1635.9 347.0 1630.5 350.7C1625.1 354.3 1618.0 357.6 1609.6 360.3C1601.2 363.0 1591.5 365.1 1581.1 366.5C1570.8 368.0 1559.7 368.7 1548.7 368.7M1646.1 303.7C1656.2 306.8 1664.7 310.6 1671.0 314.8C1677.4 318.9 1681.6 323.4 1683.5 328.0C1685.3 332.6 1684.9 337.3 1682.1 341.7C1679.4 346.1 1674.3 350.3 1667.4 353.9C1660.5 357.6 1651.8 360.7 1641.8 363.1C1631.8 365.5 1620.5 367.2 1608.8 368.1C1597.2 368.9 1585.0 368.9 1573.4 368.1C1561.7 367.2 1550.4 365.5 1540.4 363.1C1530.4 360.7 1521.7 357.6 1514.8 353.9C1507.9 350.3 1502.8 346.1 1500.1 341.7C1497.3 337.3 1496.9 332.6 1498.7 328.0C1500.6 323.4 1504.8 318.9 1511.2 314.8C1517.5 310.6 1526.0 306.8 1536.1 303.7M1688.5 303.7C1698.6 306.8 1707.1 310.6 1713.4 314.8C1719.8 318.9 1724.0 323.4 1725.9 328.0C1727.7 332.6 1727.3 337.3 1724.5 341.7C1721.8 346.1 1716.7 350.3 1709.8 353.9C1702.9 357.6 1694.2 360.7 1684.2 363.1C1674.2 365.5 1662.9 367.2 1651.2 368.1C1639.6 368.9 1627.4 368.9 1615.8 368.1C1604.1 367.2 1592.8 365.5 1582.8 363.1C1572.8 360.7 1564.1 357.6 1557.2 353.9C1550.3 350.3 1545.2 346.1 1542.5 341.7C1539.7 337.3 1539.3 332.6 1541.1 328.0C1543.0 323.4 1547.2 318.9 1553.6 314.8C1559.9 310.6 1568.4 306.8 1578.5 303.7M1730.9 303.7C1741.0 306.8 1749.5 310.6 1755.8 314.8C1762.2 318.9 1766.4 323.4 1768.3 328.0C1770.1 332.6 1769.7 337.3 1766.9 341.7C1764.2 346.1 1759.1 350.3 1752.2 353.9C1745.3 357.6 1736.6 360.7 1726.6 363.1C1716.6 365.5 1705.3 367.2 1693.6 368.1C1682.0 368.9 1669.8 368.9 1658.2 368.1C1646.5 367.2 1635.2 365.5 1625.2 363.1C1615.2 360.7 1606.5 357.6 1599.6 353.9C1592.7 350.3 1587.6 346.1 1584.9 341.7C1582.1 337.3 1581.7 332.6 1583.5 328.0C1585.4 323.4 1589.6 318.9 1596.0 314.8C1602.3 310.6 1610.8 306.8 1620.9 303.7M1773.3 303.7C1783.4 306.8 1791.9 310.6 1798.2 314.8C1804.6 318.9 1808.8 323.4 1810.7 328.0C1812.5 332.6 1812.1 337.3 1809.3 341.7C1806.6 346.1 1801.5 350.3 1794.6 353.9C1787.7 357.6 1779.0 360.7 1769.0 363.1C1759.0 365.5 1747.7 367.2 1736.0 368.1C1724.4 368.9 1712.2 368.9 1700.6 368.1C1688.9 367.2 1677.6 365.5 1667.6 363.1C1657.6 360.7 1648.9 357.6 1642.0 353.9C1635.1 350.3 1630.0 346.1 1627.3 341.7C1624.5 337.3 1624.1 332.6 1625.9 328.0C1627.8 323.4 1632.0 318.9 1638.4 314.8C1644.7 310.6 1653.2 306.8 1663.3 303.7M1815.7 303.7C1825.8 306.8 1834.3 310.6 1840.6 314.8C1847.0 318.9 1851.2 323.4 1853.1 328.0C1854.9 332.6 1854.5 337.3 1851.7 341.7C1849.0 346.1 1843.9 350.3 1837.0 353.9C1830.1 357.6 1821.4 360.7 1811.4 363.1C1801.4 365.5 1790.1 367.2 1778.4 368.1C1766.8 368.9 1754.6 368.9 1743.0 368.1C1731.3 367.2 1720.0 365.5 1710.0 363.1C1700.0 360.7 1691.3 357.6 1684.4 353.9C1677.5 350.3 1672.4 346.1 1669.7 341.7C1666.9 337.3 1666.5 332.6 1668.3 328.0C1670.2 323.4 1674.4 318.9 1680.8 314.8C1687.1 310.6 1695.6 306.8 1705.7 303.7M1858.1 303.7C1868.2 306.8 1876.7 310.6 1883.0 314.8C1889.4 318.9 1893.6 323.4 1895.5 328.0C1897.3 332.6 1896.9 337.3 1894.1 341.7C1891.4 346.1 1886.3 350.3 1879.4 353.9C1872.5 357.6 1863.8 360.7 1853.8 363.1C1843.8 365.5 1832.5 367.2 1820.8 368.1C1809.2 368.9 1797.0 368.9 1785.4 368.1C1773.7 367.2 1762.4 365.5 1752.4 363.1C1742.4 360.7 1733.7 357.6 1726.8 353.9C1719.9 350.3 1714.8 346.1 1712.1 341.7C1709.3 337.3 1708.9 332.6 1710.7 328.0C1712.6 323.4 1716.8 318.9 1723.2 314.8C1729.5 310.6 1738.0 306.8 1748.1 303.7M1900.5 303.7C1910.6 306.8 1919.1 310.6 1925.4 314.8C1931.8 318.9 1936.0 323.4 1937.9 328.0C1939.7 332.6 1939.3 337.3 1936.5 341.7C1933.8 346.1 1928.7 350.3 1921.8 353.9C1914.9 357.6 1906.2 360.7 1896.2 363.1C1886.2 365.5 1874.9 367.2 1863.2 368.1C1851.6 368.9 1839.4 368.9 1827.8 368.1C1816.1 367.2 1804.8 365.5 1794.8 363.1C1784.8 360.7 1776.1 357.6 1769.2 353.9C1762.3 350.3 1757.2 346.1 1754.5 341.7C1751.7 337.3 1751.3 332.6 1753.1 328.0C1755.0 323.4 1759.2 318.9 1765.6 314.8C1771.9 310.6 1780.4 306.8 1790.5 303.7M1942.9 303.7C1953.0 306.8 1961.5 310.6 1967.8 314.8C1974.2 318.9 1978.4 323.4 1980.3 328.0C1982.1 332.6 1981.7 337.3 1978.9 341.7C1976.2 346.1 1971.1 350.3 1964.2 353.9C1957.3 357.6 1948.6 360.7 1938.6 363.1C1928.6 365.5 1917.3 367.2 1905.6 368.1C1894.0 368.9 1881.8 368.9 1870.2 368.1C1858.5 367.2 1847.2 365.5 1837.2 363.1C1827.2 360.7 1818.5 357.6 1811.6 353.9C1804.7 350.3 1799.6 346.1 1796.9 341.7C1794.1 337.3 1793.7 332.6 1795.5 328.0C1797.4 323.4 1801.6 318.9 1808.0 314.8C1814.3 310.6 1822.8 306.8 1832.9 303.7M1985.3 303.7C1995.4 306.8 2003.9 310.6 2010.2 314.8C2016.6 318.9 2020.8 323.4 2022.7 328.0C2024.5 332.6 2024.1 337.3 2021.3 341.7C2018.6 346.1 2013.5 350.3 2006.6 353.9C1999.7 357.6 1991.0 360.7 1981.0 363.1C1971.0 365.5 1959.7 367.2 1948.0 368.1C1936.4 368.9 1924.2 368.9 1912.6 368.1C1900.9 367.2 1889.6 365.5 1879.6 363.1C1869.6 360.7 1860.9 357.6 1854.0 353.9C1847.1 350.3 1842.0 346.1 1839.3 341.7C1836.5 337.3 1836.1 332.6 1837.9 328.0C1839.8 323.4 1844.0 318.9 1850.4 314.8C1856.7 310.6 1865.2 306.8 1875.3 303.7M1599.4 376.9C1608.3 379.2 1615.8 381.9 1621.6 384.8C1627.4 387.8 1631.4 391.0 1633.6 394.3C1635.7 397.6 1636.0 400.9 1634.3 404.2C1632.6 407.4 1629.1 410.6 1623.9 413.4C1618.7 416.2 1611.8 418.8 1603.8 420.9C1595.7 423.0 1586.4 424.6 1576.4 425.7C1566.5 426.8 1555.9 427.4 1545.3 427.4M1635.0 376.9C1644.5 379.4 1652.5 382.3 1658.5 385.5C1664.4 388.7 1668.4 392.2 1670.0 395.8C1671.7 399.4 1671.2 403.0 1668.5 406.4C1665.8 409.8 1660.9 413.1 1654.2 415.9C1647.6 418.8 1639.1 421.2 1629.5 423.1C1619.9 425.0 1609.1 426.3 1597.9 426.9C1586.7 427.6 1575.1 427.6 1563.9 426.9C1552.7 426.3 1541.9 425.0 1532.3 423.1C1522.7 421.2 1514.2 418.8 1507.6 415.9C1500.9 413.1 1496.0 409.8 1493.3 406.4C1490.6 403.0 1490.1 399.4 1491.8 395.8C1493.4 392.2 1497.4 388.7 1503.3 385.5C1509.3 382.3 1517.3 379.4 1526.8 376.9M1670.6 376.9C1680.1 379.4 1688.1 382.3 1694.1 385.5C1700.0 388.7 1704.0 392.2 1705.6 395.8C1707.3 399.4 1706.8 403.0 1704.1 406.4C1701.4 409.8 1696.5 413.1 1689.8 415.9C1683.2 418.8 1674.7 421.2 1665.1 423.1C1655.5 425.0 1644.7 426.3 1633.5 426.9C1622.3 427.6 1610.7 427.6 1599.5 426.9C1588.3 426.3 1577.5 425.0 1567.9 423.1C1558.3 421.2 1549.8 418.8 1543.2 415.9C1536.5 413.1 1531.6 409.8 1528.9 406.4C1526.2 403.0 1525.7 399.4 1527.4 395.8C1529.0 392.2 1533.0 388.7 1538.9 385.5C1544.9 382.3 1552.9 379.4 1562.4 376.9M1706.2 376.9C1715.7 379.4 1723.7 382.3 1729.7 385.5C1735.6 388.7 1739.6 392.2 1741.2 395.8C1742.9 399.4 1742.4 403.0 1739.7 406.4C1737.0 409.8 1732.1 413.1 1725.4 415.9C1718.8 418.8 1710.3 421.2 1700.7 423.1C1691.1 425.0 1680.3 426.3 1669.1 426.9C1657.9 427.6 1646.3 427.6 1635.1 426.9C1623.9 426.3 1613.1 425.0 1603.5 423.1C1593.9 421.2 1585.4 418.8 1578.8 415.9C1572.1 413.1 1567.2 409.8 1564.5 406.4C1561.8 403.0 1561.3 399.4 1563.0 395.8C1564.6 392.2 1568.6 388.7 1574.5 385.5C1580.5 382.3 1588.5 379.4 1598.0 376.9M1741.8 376.9C1751.3 379.4 1759.3 382.3 1765.3 385.5C1771.2 388.7 1775.2 392.2 1776.8 395.8C1778.5 399.4 1778.0 403.0 1775.3 406.4C1772.6 409.8 1767.7 413.1 1761.0 415.9C1754.4 418.8 1745.9 421.2 1736.3 423.1C1726.7 425.0 1715.9 426.3 1704.7 426.9C1693.5 427.6 1681.9 427.6 1670.7 426.9C1659.5 426.3 1648.7 425.0 1639.1 423.1C1629.5 421.2 1621.0 418.8 1614.4 415.9C1607.7 413.1 1602.8 409.8 1600.1 406.4C1597.4 403.0 1596.9 399.4 1598.6 395.8C1600.2 392.2 1604.2 388.7 1610.1 385.5C1616.1 382.3 1624.1 379.4 1633.6 376.9M1777.4 376.9C1786.9 379.4 1794.9 382.3 1800.9 385.5C1806.8 388.7 1810.8 392.2 1812.4 395.8C1814.1 399.4 1813.6 403.0 1810.9 406.4C1808.2 409.8 1803.3 413.1 1796.6 415.9C1790.0 418.8 1781.5 421.2 1771.9 423.1C1762.3 425.0 1751.5 426.3 1740.3 426.9C1729.1 427.6 1717.5 427.6 1706.3 426.9C1695.1 426.3 1684.3 425.0 1674.7 423.1C1665.1 421.2 1656.6 418.8 1650.0 415.9C1643.3 413.1 1638.4 409.8 1635.7 406.4C1633.0 403.0 1632.5 399.4 1634.2 395.8C1635.8 392.2 1639.8 388.7 1645.7 385.5C1651.7 382.3 1659.7 379.4 1669.2 376.9M1813.0 376.9C1822.5 379.4 1830.5 382.3 1836.5 385.5C1842.4 388.7 1846.4 392.2 1848.0 395.8C1849.7 399.4 1849.2 403.0 1846.5 406.4C1843.8 409.8 1838.9 413.1 1832.2 415.9C1825.6 418.8 1817.1 421.2 1807.5 423.1C1797.9 425.0 1787.1 426.3 1775.9 426.9C1764.7 427.6 1753.1 427.6 1741.9 426.9C1730.7 426.3 1719.9 425.0 1710.3 423.1C1700.7 421.2 1692.2 418.8 1685.6 415.9C1678.9 413.1 1674.0 409.8 1671.3 406.4C1668.6 403.0 1668.1 399.4 1669.8 395.8C1671.4 392.2 1675.4 388.7 1681.3 385.5C1687.3 382.3 1695.3 379.4 1704.8 376.9M1848.6 376.9C1858.1 379.4 1866.1 382.3 1872.1 385.5C1878.0 388.7 1882.0 392.2 1883.6 395.8C1885.3 399.4 1884.8 403.0 1882.1 406.4C1879.4 409.8 1874.5 413.1 1867.8 415.9C1861.2 418.8 1852.7 421.2 1843.1 423.1C1833.5 425.0 1822.7 426.3 1811.5 426.9C1800.3 427.6 1788.7 427.6 1777.5 426.9C1766.3 426.3 1755.5 425.0 1745.9 423.1C1736.3 421.2 1727.8 418.8 1721.2 415.9C1714.5 413.1 1709.6 409.8 1706.9 406.4C1704.2 403.0 1703.7 399.4 1705.4 395.8C1707.0 392.2 1711.0 388.7 1716.9 385.5C1722.9 382.3 1730.9 379.4 1740.4 376.9M1884.2 376.9C1893.7 379.4 1901.7 382.3 1907.7 385.5C1913.6 388.7 1917.6 392.2 1919.2 395.8C1920.9 399.4 1920.4 403.0 1917.7 406.4C1915.0 409.8 1910.1 413.1 1903.4 415.9C1896.8 418.8 1888.3 421.2 1878.7 423.1C1869.1 425.0 1858.3 426.3 1847.1 426.9C1835.9 427.6 1824.3 427.6 1813.1 426.9C1801.9 426.3 1791.1 425.0 1781.5 423.1C1771.9 421.2 1763.4 418.8 1756.8 415.9C1750.1 413.1 1745.2 409.8 1742.5 406.4C1739.8 403.0 1739.3 399.4 1741.0 395.8C1742.6 392.2 1746.6 388.7 1752.5 385.5C1758.5 382.3 1766.5 379.4 1776.0 376.9M1919.8 376.9C1929.3 379.4 1937.3 382.3 1943.3 385.5C1949.2 388.7 1953.2 392.2 1954.8 395.8C1956.5 399.4 1956.0 403.0 1953.3 406.4C1950.6 409.8 1945.7 413.1 1939.0 415.9C1932.4 418.8 1923.9 421.2 1914.3 423.1C1904.7 425.0 1893.9 426.3 1882.7 426.9C1871.5 427.6 1859.9 427.6 1848.7 426.9C1837.5 426.3 1826.7 425.0 1817.1 423.1C1807.5 421.2 1799.0 418.8 1792.4 415.9C1785.7 413.1 1780.8 409.8 1778.1 406.4C1775.4 403.0 1774.9 399.4 1776.6 395.8C1778.2 392.2 1782.2 388.7 1788.1 385.5C1794.1 382.3 1802.1 379.4 1811.6 376.9M1527.5 444.5C1540.6 444.5 1553.7 445.1 1565.8 446.3C1578.0 447.4 1589.1 449.1 1598.6 451.2C1608.0 453.4 1615.7 455.9 1621.1 458.7C1626.5 461.5 1629.6 464.5 1630.3 467.5C1630.9 470.5 1629.1 473.5 1624.9 476.3C1620.8 479.1 1614.4 481.6 1606.2 483.8C1598.1 485.9 1588.2 487.6 1577.3 488.7C1566.4 489.9 1554.6 490.5 1542.8 490.5M1558.1 444.5C1571.2 444.5 1584.2 445.1 1596.4 446.2C1608.5 447.4 1619.7 449.1 1629.1 451.2C1638.5 453.3 1646.2 455.9 1651.6 458.7C1657.1 461.4 1660.2 464.4 1660.9 467.4C1661.5 470.4 1659.7 473.5 1655.6 476.2C1651.6 479.0 1645.2 481.6 1637.1 483.7C1629.0 485.8 1619.1 487.5 1608.3 488.7C1597.4 489.9 1585.7 490.5 1573.9 490.5C1562.1 490.5 1550.3 489.9 1539.4 488.8C1528.5 487.7 1518.6 486.0 1510.4 483.9C1502.2 481.8 1495.7 479.2 1491.5 476.5C1487.3 473.7 1485.4 470.7 1485.9 467.7C1486.4 464.7 1489.4 461.7 1494.7 458.9C1500.0 456.1 1507.6 453.5 1517.0 451.4C1526.3 449.2 1537.4 447.5 1549.5 446.3C1561.5 445.2 1574.6 444.5 1587.7 444.5C1600.7 444.5 1613.8 445.0 1626.0 446.2C1638.2 447.3 1649.4 448.9 1658.9 451.0C1668.5 453.1 1676.3 455.7 1681.8 458.4C1687.3 461.2 1690.6 464.2 1691.4 467.2C1692.2 470.2 1690.5 473.2 1686.6 476.0C1682.6 478.8 1676.4 481.4 1668.3 483.5C1660.3 485.7 1650.5 487.4 1639.7 488.6C1629.0 489.8 1617.2 490.4 1605.4 490.5C1593.6 490.5 1581.8 490.0 1570.9 488.9C1559.9 487.8 1549.9 486.1 1541.6 484.0C1533.3 481.9 1526.7 479.4 1522.4 476.7C1518.1 473.9 1516.0 470.9 1516.5 467.9C1516.9 464.9 1519.7 461.9 1524.9 459.1C1530.1 456.3 1537.6 453.7 1546.8 451.6C1556.1 449.4 1567.1 447.6 1579.1 446.4C1591.1 445.2 1604.1 444.6 1617.2 444.5C1630.3 444.4 1643.4 445.0 1655.6 446.1C1667.8 447.2 1679.1 448.8 1688.8 450.9C1698.4 453.0 1706.3 455.5 1712.0 458.2C1717.6 461.0 1721.0 464.0 1721.9 467.0C1722.9 470.0 1721.3 473.0 1717.5 475.8C1713.6 478.6 1707.5 481.2 1699.6 483.4C1691.6 485.5 1681.9 487.3 1671.2 488.5C1660.5 489.7 1648.8 490.4 1637.0 490.5C1625.2 490.6 1613.3 490.1 1602.4 489.0C1591.4 487.9 1581.3 486.3 1572.9 484.2C1564.5 482.1 1557.8 479.6 1553.4 476.9C1548.9 474.2 1546.7 471.2 1547.0 468.2C1547.3 465.2 1550.0 462.1 1555.1 459.3C1560.2 456.5 1567.5 453.9 1576.7 451.7C1585.8 449.5 1596.8 447.8 1608.7 446.5C1620.7 445.3 1633.7 444.6 1646.8 444.5C1659.8 444.4 1673.0 444.9 1685.2 446.0C1697.5 447.0 1708.9 448.7 1718.6 450.7C1728.3 452.8 1736.3 455.3 1742.1 458.0C1747.9 460.7 1751.4 463.7 1752.5 466.7C1753.5 469.7 1752.1 472.7 1748.4 475.6C1744.7 478.4 1738.6 481.0 1730.8 483.2C1723.0 485.4 1713.3 487.2 1702.7 488.4C1692.0 489.7 1680.3 490.4 1668.5 490.5C1656.7 490.6 1644.8 490.1 1633.8 489.1C1622.8 488.0 1612.7 486.4 1604.2 484.4C1595.7 482.3 1588.9 479.8 1584.3 477.1C1579.8 474.4 1577.5 471.4 1577.6 468.4C1577.8 465.4 1580.4 462.4 1585.3 459.6C1590.2 456.7 1597.5 454.1 1606.5 451.9C1615.6 449.7 1626.5 447.9 1638.4 446.6C1650.3 445.4 1663.3 444.6 1676.3 444.5C1689.4 444.4 1702.5 444.9 1714.8 445.9C1727.2 446.9 1738.6 448.5 1748.4 450.5C1758.2 452.6 1766.3 455.1 1772.2 457.8C1778.1 460.5 1781.8 463.5 1783.0 466.5C1784.2 469.5 1782.9 472.5 1779.3 475.3C1775.7 478.2 1769.8 480.8 1762.0 483.0C1754.3 485.2 1744.7 487.0 1734.1 488.3C1723.5 489.6 1711.8 490.3 1700.1 490.5C1688.3 490.6 1676.4 490.2 1665.3 489.1C1654.3 488.1 1644.0 486.6 1635.5 484.5C1626.9 482.5 1620.0 480.1 1615.3 477.3C1610.6 474.6 1608.2 471.6 1608.2 468.6C1608.2 465.6 1610.7 462.6 1615.5 459.8C1620.3 456.9 1627.5 454.3 1636.4 452.1C1645.4 449.9 1656.2 448.0 1668.0 446.7C1679.9 445.4 1692.8 444.7 1705.9 444.5C1718.9 444.4 1732.1 444.8 1744.4 445.8C1756.8 446.8 1768.3 448.4 1778.2 450.4C1788.1 452.4 1796.3 454.8 1802.4 457.6C1808.4 460.3 1812.1 463.2 1813.5 466.2C1814.8 469.2 1813.6 472.3 1810.2 475.1C1806.7 477.9 1800.9 480.6 1793.2 482.8C1785.6 485.1 1776.1 486.9 1765.6 488.2C1755.0 489.5 1743.4 490.3 1731.6 490.5C1719.8 490.6 1707.9 490.2 1696.8 489.2C1685.7 488.2 1675.4 486.7 1666.8 484.7C1658.1 482.7 1651.1 480.3 1646.3 477.6C1641.5 474.8 1638.9 471.9 1638.8 468.9C1638.7 465.9 1641.0 462.8 1645.7 460.0C1650.4 457.2 1657.4 454.5 1666.3 452.3C1675.2 450.0 1685.9 448.2 1697.7 446.8C1709.5 445.5 1722.4 444.7 1735.4 444.5C1748.5 444.4 1761.7 444.8 1774.1 445.7C1786.5 446.7 1798.1 448.2 1808.0 450.2C1818.0 452.2 1826.3 454.6 1832.5 457.3C1838.6 460.0 1842.5 463.0 1844.0 466.0C1845.4 469.0 1844.4 472.0 1841.0 474.9C1837.7 477.7 1832.0 480.4 1824.5 482.6C1816.9 484.9 1807.5 486.8 1797.0 488.1C1786.5 489.4 1774.9 490.2 1763.1 490.4C1751.4 490.7 1739.4 490.3 1728.3 489.3C1717.1 488.3 1706.8 486.8 1698.0 484.9C1689.3 482.9 1682.2 480.5 1677.3 477.8C1672.4 475.1 1669.7 472.1 1669.4 469.1C1669.2 466.1 1671.4 463.1 1676.0 460.2C1680.5 457.4 1687.4 454.7 1696.2 452.4C1705.0 450.2 1715.6 448.3 1727.3 446.9C1739.1 445.6 1751.9 444.8 1765.0 444.6C1778.0 444.3 1791.2 444.7 1803.7 445.7C1816.1 446.6 1827.8 448.1 1837.8 450.1C1847.9 452.0 1856.3 454.4 1862.6 457.1C1868.8 459.8 1872.9 462.8 1874.4 465.8C1876.0 468.8 1875.1 471.8 1871.9 474.7C1868.7 477.5 1863.1 480.2 1855.7 482.5C1848.2 484.7 1838.9 486.6 1828.4 488.0C1818.0 489.4 1806.4 490.2 1794.7 490.4C1782.9 490.7 1771.0 490.3 1759.8 489.4C1748.6 488.5 1738.2 487.0 1729.4 485.0C1720.5 483.1 1713.3 480.7 1708.3 478.0C1703.2 475.3 1700.4 472.4 1700.0 469.4C1699.7 466.4 1701.8 463.3 1706.2 460.5C1710.6 457.6 1717.4 454.9 1726.1 452.6C1734.8 450.3 1745.3 448.4 1757.0 447.1C1768.7 445.7 1781.5 444.8 1794.5 444.6C1807.6 444.3 1820.8 444.7 1833.3 445.6C1845.7 446.5 1857.5 448.0 1867.6 449.9C1877.8 451.9 1886.3 454.2 1892.7 456.9C1899.0 459.6 1903.2 462.5 1904.9 465.5C1906.6 468.5 1905.9 471.6 1902.8 474.4C1899.7 477.3 1894.2 480.0 1886.8 482.3C1879.5 484.6 1870.3 486.5 1859.9 487.9C1849.5 489.3 1838.0 490.1 1826.2 490.4C1814.5 490.7 1802.5 490.3 1791.3 489.5C1780.1 488.6 1769.6 487.1 1760.7 485.2C1751.8 483.2 1744.4 480.9 1739.3 478.2C1734.1 475.5 1731.2 472.6 1730.7 469.6C1730.2 466.6 1732.1 463.6 1736.4 460.7C1740.8 457.8 1747.4 455.1 1756.0 452.8C1764.6 450.5 1775.0 448.6 1786.7 447.2C1798.3 445.8 1811.1 444.9 1824.1 444.6M1527.5 519.0C1540.1 519.0 1552.6 519.4 1564.3 520.3C1575.9 521.1 1586.7 522.4 1595.7 523.9C1604.8 525.5 1612.2 527.3 1617.3 529.4C1622.5 531.4 1625.4 533.6 1626.0 535.8C1626.6 538.0 1624.7 540.2 1620.7 542.2C1616.7 544.3 1610.5 546.1 1602.6 547.7C1594.6 549.2 1585.0 550.5 1574.5 551.3C1564.0 552.2 1552.6 552.6 1541.2 552.6M1554.8 519.0C1567.3 519.0 1579.9 519.4 1591.5 520.3C1603.2 521.1 1613.9 522.4 1622.9 523.9C1632.0 525.5 1639.4 527.3 1644.5 529.3C1649.7 531.4 1652.7 533.6 1653.3 535.8C1653.9 538.0 1652.1 540.1 1648.1 542.2C1644.1 544.2 1638.0 546.1 1630.1 547.6C1622.2 549.2 1612.7 550.4 1602.2 551.3C1591.7 552.1 1580.3 552.6 1568.9 552.6C1557.5 552.6 1546.1 552.2 1535.5 551.4C1525.0 550.5 1515.4 549.3 1507.4 547.8C1499.5 546.2 1493.2 544.4 1489.1 542.3C1485.0 540.3 1483.1 538.1 1483.6 535.9C1484.0 533.7 1486.9 531.5 1492.0 529.5C1497.0 527.5 1504.3 525.6 1513.2 524.0C1522.2 522.5 1532.8 521.2 1544.4 520.3C1556.0 519.5 1568.5 519.0 1581.1 519.0C1593.6 519.0 1606.2 519.4 1617.9 520.2C1629.6 521.0 1640.4 522.2 1649.5 523.8C1658.7 525.3 1666.1 527.2 1671.4 529.2C1676.7 531.2 1679.8 533.4 1680.5 535.6C1681.3 537.8 1679.6 540.0 1675.7 542.0C1671.9 544.1 1665.8 545.9 1658.0 547.5C1650.2 549.1 1640.8 550.4 1630.3 551.2C1619.9 552.1 1608.5 552.6 1597.1 552.6C1585.7 552.6 1574.3 552.2 1563.7 551.4C1553.1 550.6 1543.4 549.4 1535.4 547.9C1527.3 546.4 1520.9 544.5 1516.7 542.5C1512.5 540.5 1510.5 538.3 1510.8 536.1C1511.2 533.9 1513.9 531.7 1518.9 529.7C1523.8 527.6 1530.9 525.7 1539.8 524.2C1548.7 522.6 1559.3 521.3 1570.8 520.4C1582.4 519.5 1594.8 519.0 1607.4 519.0C1619.9 519.0 1632.5 519.3 1644.3 520.1C1656.0 520.9 1666.9 522.1 1676.1 523.7C1685.3 525.2 1692.9 527.0 1698.3 529.0C1703.7 531.0 1706.9 533.2 1707.8 535.4C1708.6 537.6 1707.1 539.8 1703.3 541.9C1699.6 543.9 1693.6 545.8 1685.9 547.4C1678.3 549.0 1668.8 550.3 1658.5 551.2C1648.1 552.0 1636.7 552.5 1625.3 552.6C1613.9 552.7 1602.5 552.3 1591.8 551.5C1581.2 550.7 1571.5 549.5 1563.3 548.0C1555.2 546.5 1548.7 544.7 1544.4 542.7C1540.0 540.7 1537.9 538.5 1538.1 536.3C1538.3 534.1 1540.9 531.9 1545.8 529.8C1550.6 527.8 1557.6 525.9 1566.4 524.3C1575.2 522.7 1585.7 521.4 1597.2 520.5C1608.7 519.6 1621.1 519.1 1633.7 519.0C1646.2 518.9 1658.8 519.3 1670.6 520.1C1682.4 520.9 1693.3 522.0 1702.6 523.5C1711.9 525.0 1719.6 526.9 1725.1 528.9C1730.7 530.9 1734.0 533.0 1735.0 535.2C1736.0 537.4 1734.6 539.6 1730.9 541.7C1727.3 543.7 1721.5 545.6 1713.9 547.3C1706.3 548.9 1696.9 550.2 1686.6 551.1C1676.3 552.0 1665.0 552.5 1653.5 552.6C1642.1 552.7 1630.7 552.3 1620.0 551.6C1609.3 550.8 1599.5 549.6 1591.3 548.1C1583.1 546.6 1576.5 544.8 1572.0 542.8C1567.6 540.8 1565.3 538.7 1565.4 536.5C1565.5 534.3 1568.0 532.1 1572.7 530.0C1577.4 527.9 1584.3 526.0 1593.0 524.4C1601.7 522.8 1612.1 521.5 1623.6 520.6C1635.0 519.6 1647.4 519.1 1660.0 519.0C1672.5 518.9 1685.1 519.3 1697.0 520.0C1708.8 520.8 1719.8 521.9 1729.2 523.4C1738.6 524.9 1746.4 526.7 1752.0 528.7C1757.6 530.7 1761.1 532.9 1762.2 535.1C1763.3 537.2 1762.0 539.5 1758.5 541.5C1755.0 543.6 1749.3 545.5 1741.8 547.1C1734.3 548.7 1725.0 550.1 1714.7 551.0C1704.4 551.9 1693.2 552.5 1681.8 552.6C1670.4 552.7 1658.9 552.4 1648.2 551.6C1637.4 550.9 1627.5 549.7 1619.2 548.2C1610.9 546.8 1604.2 545.0 1599.7 543.0C1595.1 541.0 1592.7 538.8 1592.7 536.6C1592.7 534.4 1595.0 532.2 1599.6 530.2C1604.2 528.1 1611.0 526.2 1619.6 524.5C1628.2 522.9 1638.6 521.6 1650.0 520.6C1661.3 519.7 1673.7 519.1 1686.3 519.0C1698.8 518.9 1711.5 519.2 1723.3 520.0C1735.2 520.7 1746.2 521.8 1755.7 523.3C1765.2 524.8 1773.1 526.6 1778.8 528.5C1784.6 530.5 1788.2 532.7 1789.4 534.9C1790.6 537.1 1789.5 539.3 1786.1 541.4C1782.7 543.4 1777.1 545.4 1769.7 547.0C1762.2 548.6 1753.1 550.0 1742.8 550.9C1732.6 551.9 1721.4 552.4 1710.0 552.6C1698.6 552.7 1687.1 552.4 1676.3 551.7C1665.6 550.9 1655.6 549.8 1647.2 548.4C1638.8 546.9 1632.0 545.1 1627.4 543.1C1622.7 541.2 1620.2 539.0 1620.0 536.8C1619.9 534.6 1622.1 532.4 1626.5 530.3C1631.0 528.3 1637.7 526.3 1646.2 524.7C1654.7 523.0 1665.0 521.7 1676.3 520.7C1687.7 519.7 1700.0 519.2 1712.6 519.0C1725.1 518.9 1737.8 519.2 1749.7 519.9C1761.6 520.6 1772.7 521.7 1782.3 523.2C1791.8 524.6 1799.8 526.4 1805.7 528.4C1811.5 530.3 1815.3 532.5 1816.6 534.7C1818.0 536.9 1816.9 539.1 1813.7 541.2C1810.4 543.3 1804.9 545.2 1797.5 546.9C1790.2 548.5 1781.1 549.9 1771.0 550.9C1760.8 551.8 1749.6 552.4 1738.2 552.6C1726.8 552.7 1715.3 552.4 1704.5 551.7C1693.7 551.0 1683.7 549.9 1675.2 548.5C1666.7 547.0 1659.8 545.3 1655.0 543.3C1650.3 541.3 1647.6 539.2 1647.3 537.0C1647.0 534.8 1649.1 532.6 1653.5 530.5C1657.8 528.4 1664.5 526.5 1672.9 524.8C1681.3 523.1 1691.5 521.8 1702.7 520.8C1714.0 519.8 1726.4 519.2 1738.9 519.0C1751.4 518.9 1764.1 519.2 1776.0 519.8C1788.0 520.5 1799.2 521.6 1808.8 523.1C1818.4 524.5 1826.5 526.3 1832.5 528.2C1838.5 530.2 1842.3 532.3 1843.8 534.5C1845.3 536.7 1844.4 538.9 1841.2 541.0C1838.1 543.1 1832.7 545.1 1825.4 546.7C1818.2 548.4 1809.2 549.8 1799.1 550.8C1789.0 551.8 1777.8 552.4 1766.4 552.5C1755.0 552.7 1743.5 552.5 1732.6 551.8C1721.8 551.1 1711.7 550.0 1703.2 548.6C1694.6 547.2 1687.6 545.4 1682.7 543.5C1677.8 541.5 1675.1 539.4 1674.7 537.2C1674.2 535.0 1676.2 532.8 1680.4 530.7C1684.7 528.6 1691.2 526.6 1699.5 524.9C1707.8 523.3 1717.9 521.9 1729.1 520.9C1740.4 519.9 1752.7 519.2 1765.2 519.1C1777.7 518.9 1790.4 519.1 1802.4 519.8C1814.3 520.5 1825.6 521.5 1835.3 523.0C1845.0 524.4 1853.2 526.1 1859.3 528.1C1865.4 530.0 1869.4 532.2 1871.0 534.4C1872.6 536.5 1871.8 538.8 1868.8 540.9C1865.7 542.9 1860.4 544.9 1853.3 546.6C1846.2 548.3 1837.2 549.7 1827.2 550.7C1817.1 551.7 1806.0 552.3 1794.6 552.5C1783.2 552.7 1771.7 552.5 1760.8 551.8C1749.9 551.2 1739.8 550.1 1731.2 548.7C1722.5 547.3 1715.4 545.6 1710.4 543.6C1705.4 541.7 1702.5 539.5 1702.0 537.3C1701.5 535.2 1703.3 532.9 1707.4 530.8C1711.5 528.7 1717.9 526.8 1726.1 525.1C1734.3 523.4 1744.4 522.0 1755.5 520.9C1766.7 519.9 1779.0 519.3 1791.5 519.1M1527.5 595.0C1539.8 595.0 1552.0 595.3 1563.4 595.7C1574.8 596.2 1585.3 597.0 1594.1 597.9C1602.9 598.8 1610.1 599.9 1615.1 601.0C1620.1 602.2 1623.0 603.5 1623.5 604.8C1624.0 606.1 1622.2 607.4 1618.2 608.6C1614.2 609.7 1608.1 610.8 1600.3 611.7C1592.5 612.6 1583.1 613.4 1572.7 613.9C1562.4 614.3 1551.1 614.6 1539.9 614.6M1552.3 595.0C1564.6 595.0 1576.8 595.3 1588.2 595.7C1599.5 596.2 1610.0 597.0 1618.8 597.9C1627.6 598.8 1634.8 599.8 1639.9 601.0C1644.9 602.2 1647.8 603.5 1648.3 604.8C1648.8 606.1 1647.1 607.3 1643.1 608.5C1639.2 609.7 1633.1 610.8 1625.3 611.7C1617.6 612.6 1608.2 613.3 1597.9 613.8C1587.6 614.3 1576.4 614.6 1565.1 614.6C1553.9 614.6 1542.7 614.4 1532.3 613.9C1522.0 613.4 1512.5 612.7 1504.7 611.8C1496.8 610.9 1490.6 609.8 1486.6 608.6C1482.5 607.4 1480.6 606.2 1481.1 604.9C1481.5 603.6 1484.2 602.3 1489.2 601.1C1494.1 599.9 1501.1 598.8 1509.9 597.9C1518.6 597.0 1529.0 596.3 1540.3 595.8C1551.6 595.3 1563.9 595.0 1576.1 595.0C1588.4 595.0 1600.6 595.2 1612.1 595.7C1623.5 596.2 1634.0 596.9 1642.9 597.8C1651.8 598.7 1659.1 599.8 1664.2 600.9C1669.4 602.1 1672.4 603.4 1673.1 604.7C1673.7 606.0 1672.1 607.2 1668.2 608.4C1664.4 609.6 1658.4 610.7 1650.8 611.6C1643.1 612.5 1633.8 613.3 1623.5 613.8C1613.2 614.3 1602.1 614.6 1590.8 614.6C1579.6 614.6 1568.4 614.4 1558.0 613.9C1547.6 613.4 1538.0 612.7 1530.1 611.8C1522.2 611.0 1515.9 609.9 1511.7 608.7C1507.6 607.5 1505.5 606.3 1505.8 605.0C1506.1 603.7 1508.8 602.4 1513.6 601.2C1518.4 600.0 1525.3 598.9 1534.0 598.0C1542.6 597.1 1553.0 596.3 1564.2 595.8C1575.5 595.3 1587.7 595.0 1599.9 595.0C1612.2 595.0 1624.5 595.2 1635.9 595.7C1647.4 596.1 1658.0 596.8 1667.0 597.7C1676.0 598.6 1683.4 599.7 1688.6 600.8C1693.9 602.0 1697.0 603.3 1697.8 604.6C1698.6 605.8 1697.1 607.1 1693.3 608.3C1689.6 609.5 1683.7 610.6 1676.2 611.6C1668.6 612.5 1659.3 613.2 1649.1 613.8C1638.9 614.3 1627.8 614.6 1616.5 614.6C1605.3 614.6 1594.1 614.4 1583.6 614.0C1573.2 613.5 1563.6 612.8 1555.6 611.9C1547.5 611.0 1541.1 610.0 1536.9 608.8C1532.6 607.6 1530.4 606.4 1530.6 605.1C1530.8 603.8 1533.3 602.5 1538.0 601.3C1542.7 600.1 1549.5 599.0 1558.1 598.1C1566.7 597.1 1576.9 596.4 1588.1 595.9C1599.3 595.3 1611.5 595.0 1623.8 595.0C1636.0 595.0 1648.3 595.2 1659.8 595.6C1671.3 596.1 1682.0 596.8 1691.1 597.6C1700.1 598.5 1707.6 599.6 1713.0 600.7C1718.4 601.9 1721.6 603.2 1722.5 604.5C1723.4 605.7 1722.0 607.0 1718.4 608.2C1714.8 609.4 1709.1 610.5 1701.6 611.5C1694.1 612.4 1684.9 613.2 1674.7 613.7C1664.6 614.2 1653.5 614.5 1642.2 614.6C1631.0 614.6 1619.7 614.4 1609.3 614.0C1598.8 613.5 1589.1 612.9 1581.0 612.0C1572.9 611.1 1566.4 610.1 1562.0 608.9C1557.6 607.7 1555.3 606.5 1555.4 605.2C1555.5 603.9 1557.8 602.6 1562.4 601.4C1567.0 600.2 1573.7 599.1 1582.2 598.2C1590.7 597.2 1600.9 596.4 1612.0 595.9C1623.2 595.4 1635.3 595.1 1647.6 595.0C1659.8 595.0 1672.2 595.2 1683.7 595.6C1695.2 596.0 1706.0 596.7 1715.1 597.6C1724.3 598.4 1731.9 599.5 1737.4 600.7C1742.8 601.8 1746.2 603.1 1747.2 604.4C1748.3 605.6 1747.0 606.9 1743.5 608.1C1740.0 609.3 1734.4 610.5 1727.0 611.4C1719.6 612.4 1710.5 613.1 1700.4 613.7C1690.2 614.2 1679.2 614.5 1667.9 614.6C1656.7 614.6 1645.4 614.5 1634.9 614.0C1624.4 613.6 1614.6 612.9 1606.5 612.1C1598.3 611.2 1591.7 610.1 1587.2 609.0C1582.7 607.8 1580.3 606.6 1580.2 605.3C1580.1 604.0 1582.4 602.7 1586.8 601.5C1591.3 600.3 1598.0 599.2 1606.3 598.2C1614.7 597.3 1624.8 596.5 1635.9 596.0C1647.0 595.4 1659.2 595.1 1671.4 595.0C1683.6 594.9 1696.0 595.1 1707.6 595.6C1719.1 596.0 1729.9 596.7 1739.2 597.5C1748.4 598.4 1756.1 599.4 1761.7 600.6C1767.3 601.7 1770.8 603.0 1772.0 604.3C1773.1 605.5 1772.0 606.8 1768.6 608.0C1765.2 609.2 1759.7 610.4 1752.4 611.3C1745.1 612.3 1736.0 613.1 1726.0 613.6C1715.9 614.2 1704.8 614.5 1693.6 614.6C1682.4 614.7 1671.1 614.5 1660.5 614.1C1650.0 613.6 1640.2 613.0 1631.9 612.1C1623.7 611.3 1616.9 610.2 1612.3 609.1C1607.7 607.9 1605.2 606.7 1605.0 605.4C1604.8 604.1 1607.0 602.8 1611.3 601.6C1615.6 600.4 1622.2 599.3 1630.5 598.3C1638.8 597.3 1648.8 596.6 1659.8 596.0C1670.9 595.4 1683.0 595.1 1695.2 595.0C1707.4 594.9 1719.8 595.1 1731.4 595.5C1743.1 595.9 1753.9 596.6 1763.3 597.4C1772.6 598.3 1780.4 599.3 1786.1 600.5C1791.8 601.6 1795.4 602.9 1796.7 604.2C1797.9 605.4 1796.9 606.7 1793.7 607.9C1790.4 609.2 1785.0 610.3 1777.7 611.3C1770.5 612.2 1761.6 613.0 1751.6 613.6C1741.6 614.1 1730.5 614.5 1719.3 614.6C1708.1 614.7 1696.8 614.5 1686.2 614.1C1675.6 613.7 1665.7 613.0 1657.4 612.2C1649.0 611.4 1642.2 610.3 1637.5 609.2C1632.8 608.0 1630.1 606.8 1629.8 605.5C1629.5 604.2 1631.5 602.9 1635.8 601.7C1640.0 600.5 1646.4 599.4 1654.6 598.4C1662.8 597.4 1672.8 596.6 1683.8 596.0C1694.8 595.5 1706.8 595.1 1719.0 595.0C1731.3 594.9 1743.6 595.1 1755.3 595.5C1767.0 595.9 1777.9 596.5 1787.3 597.4C1796.7 598.2 1804.6 599.2 1810.4 600.4C1816.2 601.5 1819.9 602.8 1821.4 604.1C1822.8 605.3 1821.8 606.6 1818.7 607.8C1815.6 609.1 1810.2 610.2 1803.1 611.2C1796.0 612.1 1787.1 613.0 1777.2 613.5C1767.2 614.1 1756.2 614.5 1745.0 614.6C1733.9 614.7 1722.5 614.5 1711.8 614.1C1701.2 613.7 1691.3 613.1 1682.8 612.3C1674.4 611.4 1667.5 610.4 1662.7 609.3C1657.9 608.1 1655.1 606.9 1654.7 605.6C1654.2 604.3 1656.1 603.0 1660.2 601.8C1664.3 600.6 1670.6 599.4 1678.8 598.5C1686.9 597.5 1696.7 596.7 1707.7 596.1C1718.6 595.5 1730.6 595.1 1742.9 595.0C1755.1 594.9 1767.5 595.1 1779.2 595.5C1790.9 595.9 1801.9 596.5 1811.3 597.3C1820.8 598.1 1828.8 599.2 1834.7 600.3C1840.7 601.4 1844.5 602.7 1846.0 604.0C1847.6 605.2 1846.8 606.5 1843.8 607.7C1840.7 609.0 1835.5 610.1 1828.5 611.1C1821.5 612.1 1812.6 612.9 1802.8 613.5C1792.9 614.1 1781.9 614.4 1770.7 614.6C1759.6 614.7 1748.2 614.5 1737.5 614.2C1726.8 613.8 1716.8 613.1 1708.3 612.3C1699.8 611.5 1692.8 610.5 1687.9 609.4C1682.9 608.2 1680.1 607.0 1679.5 605.7C1678.9 604.4 1680.7 603.1 1684.7 601.9C1688.7 600.7 1694.9 599.5 1702.9 598.5C1710.9 597.6 1720.7 596.7 1731.6 596.1C1742.5 595.5 1754.5 595.2 1766.7 595.0M1527.5 670.0C1539.4 670.0 1551.4 670.1 1562.4 670.2C1573.5 670.3 1583.7 670.4 1592.3 670.6C1600.9 670.8 1607.9 671.0 1612.8 671.2C1617.6 671.5 1620.4 671.7 1621.0 672.0C1621.5 672.3 1619.7 672.5 1615.9 672.8C1612.0 673.0 1606.1 673.2 1598.5 673.4C1590.9 673.6 1581.8 673.7 1571.7 673.8C1561.6 673.9 1550.7 674.0 1539.8 674.0C1528.8 674.0 1517.9 674.0 1507.8 673.9C1497.7 673.8 1488.4 673.6 1480.8 673.4C1473.2 673.2 1467.1 673.0 1463.2 672.8C1459.2 672.5 1457.3 672.3 1457.8 672.0C1458.2 671.8 1460.9 671.5 1465.6 671.2C1470.4 671.0 1477.3 670.8 1485.8 670.6C1494.4 670.4 1504.5 670.3 1515.5 670.2C1526.5 670.1 1538.5 670.0 1550.4 670.0C1562.3 670.0 1574.3 670.0 1585.4 670.1C1596.5 670.2 1606.7 670.4 1615.4 670.6C1624.1 670.8 1631.2 671.0 1636.1 671.2C1641.1 671.5 1644.0 671.7 1644.7 672.0C1645.3 672.2 1643.7 672.5 1639.9 672.7C1636.1 673.0 1630.3 673.2 1622.8 673.4C1615.3 673.6 1606.2 673.7 1596.2 673.8C1586.2 673.9 1575.3 674.0 1564.3 674.0C1553.4 674.0 1542.4 674.0 1532.3 673.9C1522.1 673.8 1512.8 673.6 1505.1 673.4C1497.4 673.3 1491.2 673.0 1487.2 672.8C1483.1 672.6 1481.2 672.3 1481.5 672.0C1481.8 671.8 1484.4 671.5 1489.1 671.3C1493.7 671.0 1500.5 670.8 1509.0 670.6C1517.4 670.4 1527.5 670.3 1538.5 670.2C1549.5 670.1 1561.3 670.0 1573.3 670.0C1585.2 670.0 1597.2 670.0 1608.3 670.1C1619.5 670.2 1629.8 670.4 1638.5 670.6C1647.3 670.7 1654.4 671.0 1659.5 671.2C1664.6 671.4 1667.6 671.7 1668.4 672.0C1669.1 672.2 1667.6 672.5 1663.9 672.7C1660.3 673.0 1654.5 673.2 1647.1 673.4C1639.7 673.6 1630.6 673.7 1620.6 673.8C1610.7 673.9 1599.8 674.0 1588.8 674.0C1577.9 674.0 1566.9 674.0 1556.7 673.9C1546.6 673.8 1537.2 673.6 1529.4 673.4C1521.6 673.3 1515.4 673.1 1511.2 672.8C1507.1 672.6 1505.0 672.3 1505.2 672.1C1505.4 671.8 1507.9 671.5 1512.5 671.3C1517.1 671.0 1523.8 670.8 1532.1 670.6C1540.5 670.4 1550.5 670.3 1561.4 670.2C1572.4 670.1 1584.2 670.0 1596.2 670.0C1608.1 670.0 1620.1 670.0 1631.3 670.1C1642.5 670.2 1652.8 670.4 1661.7 670.5C1670.5 670.7 1677.7 670.9 1682.9 671.2C1688.1 671.4 1691.2 671.7 1692.1 671.9C1692.9 672.2 1691.5 672.5 1687.9 672.7C1684.4 673.0 1678.7 673.2 1671.4 673.4C1664.0 673.6 1655.0 673.7 1645.1 673.8C1635.2 673.9 1624.3 674.0 1613.4 674.0C1602.4 674.0 1591.4 674.0 1581.2 673.9C1571.0 673.8 1561.6 673.6 1553.7 673.5C1545.9 673.3 1539.5 673.1 1535.3 672.8C1531.0 672.6 1528.9 672.3 1529.0 672.1C1529.0 671.8 1531.4 671.5 1535.9 671.3C1540.4 671.1 1547.0 670.8 1555.3 670.6C1563.6 670.4 1573.5 670.3 1584.4 670.2C1595.3 670.1 1607.1 670.0 1619.1 670.0C1631.0 670.0 1643.0 670.0 1654.2 670.1C1665.4 670.2 1675.9 670.4 1684.8 670.5C1693.7 670.7 1701.0 670.9 1706.3 671.2C1711.6 671.4 1714.8 671.7 1715.7 671.9C1716.7 672.2 1715.4 672.4 1711.9 672.7C1708.5 672.9 1702.9 673.2 1695.6 673.4C1688.4 673.5 1679.5 673.7 1669.6 673.8C1659.7 673.9 1648.9 674.0 1637.9 674.0C1627.0 674.0 1616.0 674.0 1605.7 673.9C1595.5 673.8 1586.0 673.7 1578.0 673.5C1570.1 673.3 1563.7 673.1 1559.4 672.8C1555.0 672.6 1552.7 672.4 1552.7 672.1C1552.7 671.8 1554.9 671.6 1559.3 671.3C1563.7 671.1 1570.2 670.8 1578.4 670.7C1586.6 670.5 1596.5 670.3 1607.4 670.2C1618.2 670.1 1630.0 670.0 1641.9 670.0C1653.9 670.0 1665.9 670.0 1677.2 670.1C1688.4 670.2 1698.9 670.3 1707.9 670.5C1716.8 670.7 1724.3 670.9 1729.7 671.1C1735.0 671.4 1738.4 671.6 1739.4 671.9C1740.5 672.2 1739.3 672.4 1735.9 672.7C1732.6 672.9 1727.1 673.1 1719.9 673.3C1712.7 673.5 1703.9 673.7 1694.0 673.8C1684.2 673.9 1673.4 674.0 1662.5 674.0C1651.5 674.0 1640.5 674.0 1630.2 673.9C1619.9 673.8 1610.4 673.7 1602.4 673.5C1594.4 673.3 1587.9 673.1 1583.4 672.9C1579.0 672.6 1576.6 672.4 1576.5 672.1C1576.3 671.8 1578.5 671.6 1582.8 671.3C1587.0 671.1 1593.5 670.9 1601.6 670.7C1609.7 670.5 1619.5 670.3 1630.3 670.2C1641.1 670.1 1652.9 670.0 1664.8 670.0C1676.8 670.0 1688.8 670.0 1700.1 670.1C1711.4 670.2 1721.9 670.3 1731.0 670.5C1740.0 670.7 1747.5 670.9 1753.0 671.1C1758.5 671.4 1761.9 671.6 1763.1 671.9C1764.3 672.1 1763.2 672.4 1759.9 672.7C1756.7 672.9 1751.3 673.1 1744.2 673.3C1737.1 673.5 1728.3 673.7 1718.5 673.8C1708.7 673.9 1697.9 674.0 1687.0 674.0C1676.1 674.0 1665.0 674.0 1654.7 673.9C1644.4 673.8 1634.8 673.7 1626.7 673.5C1618.6 673.3 1612.0 673.1 1607.5 672.9C1603.0 672.6 1600.5 672.4 1600.2 672.1C1600.0 671.9 1602.0 671.6 1606.2 671.4C1610.4 671.1 1616.7 670.9 1624.8 670.7C1632.8 670.5 1642.6 670.3 1653.3 670.2C1664.1 670.1 1675.8 670.0 1687.7 670.0C1699.6 670.0 1711.7 670.0 1723.0 670.1C1734.4 670.2 1745.0 670.3 1754.1 670.5C1763.2 670.7 1770.8 670.9 1776.4 671.1C1781.9 671.3 1785.5 671.6 1786.8 671.9C1788.0 672.1 1787.0 672.4 1783.9 672.6C1780.7 672.9 1775.5 673.1 1768.4 673.3C1761.4 673.5 1752.7 673.7 1743.0 673.8C1733.2 673.9 1722.5 674.0 1711.5 674.0C1700.6 674.0 1689.5 674.0 1679.2 673.9C1668.8 673.8 1659.2 673.7 1651.0 673.5C1642.9 673.3 1636.2 673.1 1631.6 672.9C1626.9 672.7 1624.3 672.4 1624.0 672.1C1623.6 671.9 1625.6 671.6 1629.7 671.4C1633.7 671.1 1640.0 670.9 1647.9 670.7C1655.9 670.5 1665.6 670.3 1676.3 670.2C1687.0 670.1 1698.7 670.0 1710.6 670.0C1722.5 670.0 1734.6 670.0 1746.0 670.1C1757.3 670.2 1768.0 670.3 1777.2 670.5C1786.3 670.7 1794.0 670.9 1799.7 671.1C1805.4 671.3 1809.0 671.6 1810.4 671.8C1811.8 672.1 1810.9 672.4 1807.9 672.6C1804.8 672.9 1799.6 673.1 1792.7 673.3C1785.8 673.5 1777.1 673.7 1767.4 673.8C1757.7 673.9 1747.0 674.0 1736.1 674.0C1725.2 674.0 1714.1 674.0 1703.7 673.9C1693.3 673.8 1683.6 673.7 1675.4 673.5C1667.1 673.4 1660.4 673.1 1655.7 672.9C1650.9 672.7 1648.2 672.4 1647.8 672.2C1647.3 671.9 1649.1 671.6 1653.1 671.4C1657.1 671.1 1663.2 670.9 1671.1 670.7C1679.0 670.5 1688.6 670.3 1699.3 670.2C1709.9 670.1 1721.6 670.0 1733.5 670.0C1745.4 670.0 1757.5 670.0 1768.9 670.1C1780.3 670.2 1791.0 670.3 1800.2 670.5C1809.5 670.6 1817.3 670.8 1823.0 671.1C1828.8 671.3 1832.6 671.6 1834.1 671.8C1835.5 672.1 1834.8 672.4 1831.8 672.6C1828.9 672.8 1823.8 673.1 1816.9 673.3C1810.1 673.5 1801.5 673.7 1791.9 673.8C1782.2 673.9 1771.5 674.0 1760.6 674.0C1749.7 674.0 1738.6 674.0 1728.2 673.9C1717.8 673.8 1708.0 673.7 1699.7 673.5C1691.4 673.4 1684.6 673.2 1679.8 672.9C1674.9 672.7 1672.1 672.4 1671.6 672.2C1671.0 671.9 1672.7 671.7 1676.6 671.4C1680.5 671.2 1686.5 670.9 1694.3 670.7C1702.1 670.5 1711.6 670.4 1722.2 670.2C1732.9 670.1 1744.5 670.0 1756.4 670.0" stroke-dasharray="2.8 0.28"/>
<path d="M1527.5 79.0C1546.0 79.0 1564.5 80.5 1581.7 83.5C1598.9 86.5 1614.8 90.9 1628.3 96.3C1641.9 101.8 1653.0 108.4 1661.1 115.6C1669.1 122.7 1674.1 130.5 1675.6 138.3C1677.2 146.0 1675.4 153.8 1670.5 161.0C1665.6 168.2 1657.6 174.7 1647.2 180.3C1636.7 185.8 1623.9 190.2 1609.8 193.2C1595.7 196.2 1580.3 197.8 1564.9 197.8C1549.5 197.8 1534.0 196.3 1519.9 193.4C1505.7 190.5 1492.8 186.1 1482.3 180.6C1471.8 175.2 1463.6 168.6 1458.5 161.5C1453.5 154.3 1451.5 146.6 1453.0 138.8C1454.4 131.1 1459.1 123.3 1467.0 116.1C1474.9 108.9 1486.0 102.3 1499.4 96.7C1512.8 91.2 1528.6 86.8 1545.8 83.7C1562.9 80.7 1581.4 79.1 1599.9 79.0C1618.4 78.9 1636.9 80.4 1654.1 83.3C1671.4 86.2 1687.4 90.5 1701.1 96.0C1714.7 101.4 1726.0 107.9 1734.2 115.1C1742.4 122.2 1747.5 129.9 1749.2 137.7C1751.0 145.5 1749.3 153.2 1744.6 160.5C1739.8 167.7 1731.9 174.3 1721.6 179.9C1711.3 185.4 1698.6 189.9 1684.6 193.0C1670.5 196.0 1655.1 197.7 1639.7 197.8C1624.3 197.9 1608.8 196.5 1594.6 193.6C1580.4 190.7 1567.4 186.4 1556.8 181.0C1546.1 175.6 1537.8 169.1 1532.6 162.0C1527.4 154.9 1525.3 147.1 1526.6 139.4C1527.8 131.6 1532.4 123.8 1540.2 116.6C1547.9 109.4 1558.8 102.7 1572.1 97.1C1585.4 91.6 1601.2 87.0 1618.2 83.9C1635.3 80.8 1653.7 79.2 1672.2 79.0C1690.7 78.9 1709.3 80.3 1726.6 83.1C1743.9 85.9 1760.0 90.2 1773.8 95.6C1787.5 100.9 1799.0 107.4 1807.3 114.5C1815.6 121.7 1820.9 129.4 1822.8 137.1C1824.7 144.9 1823.2 152.7 1818.6 159.9C1814.0 167.2 1806.2 173.8 1796.0 179.5C1785.9 185.1 1773.2 189.6 1759.3 192.7C1745.3 195.9 1730.0 197.6 1714.5 197.8C1699.1 198.0 1683.6 196.6 1669.3 193.8C1655.0 191.0 1642.0 186.8 1631.2 181.4C1620.5 176.1 1612.1 169.6 1606.7 162.5C1601.3 155.4 1599.1 147.7 1600.2 139.9C1601.3 132.2 1605.7 124.4 1613.3 117.1C1620.9 109.9 1631.7 103.2 1644.9 97.6C1658.1 91.9 1673.7 87.3 1690.7 84.2C1707.7 81.0 1726.1 79.2 1744.6 79.0C1763.1 78.8 1781.7 80.1 1799.0 82.9C1816.4 85.7 1832.6 89.9 1846.5 95.2C1860.3 100.5 1871.9 107.0 1880.4 114.0C1888.9 121.1 1894.3 128.8 1896.3 136.6C1898.4 144.3 1897.1 152.1 1892.6 159.4C1888.2 166.7 1880.5 173.4 1870.5 179.0C1860.4 184.7 1847.9 189.3 1834.0 192.5C1820.1 195.7 1804.8 197.5 1789.3 197.8C1773.9 198.0 1758.4 196.7 1744.1 194.0C1729.7 191.3 1716.6 187.1 1705.7 181.8C1694.8 176.5 1686.3 170.1 1680.8 163.0C1675.3 156.0 1672.9 148.3 1673.8 140.5C1674.7 132.7 1679.0 124.9 1686.5 117.7C1693.9 110.4 1704.5 103.6 1717.6 98.0C1730.7 92.3 1746.2 87.6 1763.2 84.4C1780.1 81.2 1798.5 79.3 1817.0 79.0C1835.4 78.7 1854.0 80.0 1871.5 82.7C1888.9 85.4 1905.2 89.5 1919.2 94.8C1933.1 100.1 1944.8 106.5 1953.5 113.5C1962.1 120.6 1967.7 128.3 1969.9 136.0C1972.1 143.8 1971.0 151.6 1966.6 158.9C1962.3 166.2 1954.9 172.9 1944.9 178.6C1934.9 184.3 1922.5 189.0 1908.7 192.3C1894.8 195.5 1879.6 197.4 1864.2 197.7C1848.7 198.1 1833.2 196.9 1818.8 194.2C1804.4 191.5 1791.2 187.4 1780.2 182.2C1769.2 176.9 1760.5 170.6 1754.9 163.5C1749.3 156.5 1746.7 148.8 1747.4 141.1C1748.2 133.3 1752.3 125.5 1759.7 118.2C1767.0 110.9 1777.4 104.1 1790.4 98.4C1803.3 92.6 1818.8 87.9 1835.7 84.6C1852.6 81.3 1870.9 79.4 1889.3 79.1C1907.8 78.7 1926.4 79.9 1943.9 82.5C1961.4 85.1 1977.8 89.2 1991.9 94.4C2005.9 99.6 2017.8 106.0 2026.5 113.0C2035.3 120.0 2041.1 127.7 2043.4 135.5C2045.8 143.2 2044.8 151.0 2040.6 158.4C2036.5 165.7 2029.1 172.5 2019.3 178.2C2009.5 184.0 1997.1 188.7 1983.4 192.0C1969.6 195.4 1954.4 197.3 1939.0 197.7C1923.6 198.1 1908.0 197.0 1893.5 194.4C1879.1 191.8 1865.8 187.8 1854.7 182.6C1843.6 177.4 1834.8 171.0 1829.0 164.0C1823.2 157.0 1820.5 149.4 1821.1 141.6C1821.7 133.9 1825.7 126.0 1832.8 118.7C1840.0 111.4 1850.3 104.6 1863.2 98.8C1876.0 93.0 1891.3 88.2 1908.2 84.9C1925.0 81.5 1943.2 79.5 1961.7 79.1C1980.2 78.7 1998.8 79.8 2016.4 82.3C2033.9 84.9 2050.3 88.9 2064.5 94.0C2078.7 99.2 2090.7 105.5 2099.6 112.5C2108.5 119.5 2114.4 127.2 2117.0 134.9C2119.5 142.7 2118.7 150.5 2114.6 157.8C2110.6 165.2 2103.4 172.0 2093.7 177.8C2084.0 183.6 2071.8 188.4 2058.1 191.8C2044.3 195.2 2029.2 197.2 2013.8 197.7C1998.4 198.2 1982.8 197.1 1968.3 194.6C1953.8 192.1 1940.4 188.1 1929.2 182.9C1918.0 177.8 1909.1 171.5 1903.1 164.5C1897.2 157.6 1894.3 149.9 1894.7 142.2C1895.2 134.4 1899.0 126.6 1906.0 119.2C1913.0 111.9 1923.2 105.0 1935.9 99.2C1948.7 93.4 1963.9 88.6 1980.6 85.1C1997.4 81.7 2015.6 79.6 2034.1 79.1C2052.5 78.6 2071.2 79.6 2088.8 82.1C2106.4 84.6 2122.9 88.6 2137.2 93.7C2151.5 98.8 2163.6 105.1 2172.7 112.0C2181.7 119.0 2187.8 126.6 2190.5 134.3C2193.2 142.1 2192.5 149.9 2188.6 157.3C2184.8 164.7 2177.7 171.5 2168.1 177.4C2158.5 183.2 2146.4 188.1 2132.7 191.6C2119.1 195.0 2104.0 197.1 2088.6 197.7C2073.2 198.2 2057.6 197.2 2043.0 194.8C2028.5 192.3 2015.0 188.4 2003.7 183.3C1992.4 178.2 1983.3 172.0 1977.3 165.0C1971.2 158.1 1968.1 150.5 1968.4 142.7C1968.7 135.0 1972.4 127.1 1979.2 119.8C1986.1 112.4 1996.1 105.5 2008.7 99.6C2021.3 93.7 2036.5 88.9 2053.1 85.4C2069.8 81.9 2088.0 79.8 2106.4 79.2C2124.9 78.6 2143.6 79.5 2161.2 82.0C2178.9 84.4 2195.5 88.3 2209.9 93.3C2224.3 98.4 2236.5 104.6 2245.7 111.5C2254.9 118.4 2261.1 126.0 2264.0 133.8C2266.8 141.5 2266.3 149.4 2262.6 156.8C2258.9 164.2 2252.0 171.1 2242.5 177.0C2233.0 182.9 2221.0 187.8 2207.4 191.3C2193.9 194.8 2178.8 197.0 2163.4 197.6C2148.0 198.2 2132.4 197.3 2117.8 194.9C2103.2 192.5 2089.6 188.7 2078.2 183.7C2066.8 178.6 2057.6 172.4 2051.4 165.5C2045.2 158.6 2042.0 151.0 2042.1 143.3C2042.2 135.6 2045.7 127.7 2052.4 120.3C2059.1 112.9 2069.0 106.0 2081.5 100.1C2094.0 94.1 2109.0 89.2 2125.6 85.6C2142.2 82.1 2160.4 79.9 2178.8 79.2C2197.2 78.6 2216.0 79.4 2233.6 81.8C2251.3 84.1 2268.0 87.9 2282.5 92.9C2297.0 97.9 2309.4 104.1 2318.7 111.0C2328.1 117.9 2334.4 125.5 2337.5 133.2C2340.5 141.0 2340.1 148.8 2336.6 156.2C2333.0 163.6 2326.2 170.6 2316.9 176.5C2307.5 182.5 2295.6 187.4 2282.1 191.0C2268.6 194.6 2253.6 196.9 2238.2 197.6C2222.8 198.3 2207.2 197.4 2192.5 195.1C2177.9 192.8 2164.2 189.0 2152.7 184.0C2141.2 179.1 2131.9 172.9 2125.6 166.0C2119.2 159.2 2115.8 151.6 2115.8 143.9C2115.8 136.1 2119.1 128.3 2125.7 120.8C2132.2 113.4 2142.0 106.5 2154.3 100.5C2166.7 94.5 2181.6 89.5 2198.2 85.9C2214.7 82.3 2232.8 80.0 2251.2 79.3" stroke-dasharray="5.8 5.0"/><path d="M1527.5 140.0C1544.3 140.0 1561.2 141.4 1576.9 144.1C1592.5 146.8 1607.0 150.7 1619.3 155.7C1631.6 160.7 1641.7 166.6 1648.9 173.1C1656.2 179.6 1660.6 186.6 1661.9 193.6C1663.2 200.6 1661.4 207.6 1656.7 214.1C1652.1 220.6 1644.6 226.5 1634.9 231.5C1625.2 236.5 1613.4 240.4 1600.3 243.1C1587.2 245.8 1573.0 247.2 1558.8 247.2M1558.8 247.2C1544.5 247.2 1530.3 245.8 1517.2 243.1C1504.1 240.4 1492.3 236.5 1482.6 231.5C1472.9 226.5 1465.4 220.6 1460.8 214.1C1456.1 207.6 1454.3 200.6 1455.6 193.6C1456.9 186.6 1461.3 179.6 1468.6 173.1C1475.8 166.6 1485.9 160.7 1498.2 155.7C1510.5 150.7 1525.0 146.8 1540.6 144.1C1556.3 141.4 1573.2 140.0 1590.0 140.0M1590.0 140.0C1606.5 140.0 1622.9 141.3 1638.3 143.9C1653.7 146.5 1667.9 150.3 1680.1 155.0C1692.3 159.8 1702.5 165.5 1709.9 171.8C1717.4 178.1 1722.2 184.9 1724.0 191.7C1725.8 198.6 1724.6 205.5 1720.7 211.9C1716.8 218.4 1710.1 224.4 1701.2 229.5C1692.3 234.6 1681.2 238.8 1668.8 241.8C1656.4 244.8 1642.7 246.6 1628.8 247.1C1614.9 247.5 1600.9 246.7 1587.7 244.6M1590.3 146.6C1599.8 144.5 1610.0 142.8 1620.5 141.7C1630.9 140.6 1641.7 140.0 1652.5 140.0M1652.5 140.0C1669.0 140.0 1685.4 141.3 1700.8 143.9C1716.2 146.5 1730.4 150.3 1742.6 155.0C1754.8 159.8 1765.0 165.5 1772.4 171.8C1779.9 178.1 1784.7 184.9 1786.5 191.7C1788.3 198.6 1787.1 205.5 1783.2 211.9C1779.3 218.4 1772.6 224.4 1763.7 229.5C1754.8 234.6 1743.7 238.8 1731.3 241.8C1718.9 244.8 1705.2 246.6 1691.3 247.1C1677.4 247.5 1663.4 246.7 1650.2 244.6M1652.8 146.6C1662.3 144.5 1672.5 142.8 1683.0 141.7C1693.4 140.6 1704.2 140.0 1715.0 140.0M1715.0 140.0C1731.5 140.0 1747.9 141.3 1763.3 143.9C1778.7 146.5 1792.9 150.3 1805.1 155.0C1817.3 159.8 1827.5 165.5 1834.9 171.8C1842.4 178.1 1847.2 184.9 1849.0 191.7C1850.8 198.6 1849.6 205.5 1845.7 211.9C1841.8 218.4 1835.1 224.4 1826.2 229.5C1817.3 234.6 1806.2 238.8 1793.8 241.8C1781.4 244.8 1767.7 246.6 1753.8 247.1C1739.9 247.5 1725.9 246.7 1712.7 244.6M1715.3 146.6C1724.8 144.5 1735.0 142.8 1745.5 141.7C1755.9 140.6 1766.7 140.0 1777.5 140.0M1777.5 140.0C1794.0 140.0 1810.4 141.3 1825.8 143.9C1841.2 146.5 1855.4 150.3 1867.6 155.0C1879.8 159.8 1890.0 165.5 1897.4 171.8C1904.9 178.1 1909.7 184.9 1911.5 191.7C1913.3 198.6 1912.1 205.5 1908.2 211.9C1904.3 218.4 1897.6 224.4 1888.7 229.5C1879.8 234.6 1868.7 238.8 1856.3 241.8C1843.9 244.8 1830.2 246.6 1816.3 247.1C1802.4 247.5 1788.4 246.7 1775.2 244.6M1777.8 146.6C1787.3 144.5 1797.5 142.8 1808.0 141.7C1818.4 140.6 1829.2 140.0 1840.0 140.0M1840.0 140.0C1856.5 140.0 1872.9 141.3 1888.3 143.9C1903.7 146.5 1917.9 150.3 1930.1 155.0C1942.3 159.8 1952.5 165.5 1959.9 171.8C1967.4 178.1 1972.2 184.9 1974.0 191.7C1975.8 198.6 1974.6 205.5 1970.7 211.9C1966.8 218.4 1960.1 224.4 1951.2 229.5C1942.3 234.6 1931.2 238.8 1918.8 241.8C1906.4 244.8 1892.7 246.6 1878.8 247.1C1864.9 247.5 1850.9 246.7 1837.7 244.6M1840.3 146.6C1849.8 144.5 1860.0 142.8 1870.5 141.7C1880.9 140.6 1891.7 140.0 1902.5 140.0M1902.5 140.0C1919.0 140.0 1935.4 141.3 1950.8 143.9C1966.2 146.5 1980.4 150.3 1992.6 155.0C2004.8 159.8 2015.0 165.5 2022.4 171.8C2029.9 178.1 2034.7 184.9 2036.5 191.7C2038.3 198.6 2037.1 205.5 2033.2 211.9C2029.3 218.4 2022.6 224.4 2013.7 229.5C2004.8 234.6 1993.7 238.8 1981.3 241.8C1968.9 244.8 1955.2 246.6 1941.3 247.1C1927.4 247.5 1913.4 246.7 1900.2 244.6M1902.8 146.6C1912.3 144.5 1922.5 142.8 1933.0 141.7C1943.4 140.6 1954.2 140.0 1965.0 140.0M1965.0 140.0C1981.5 140.0 1997.9 141.3 2013.3 143.9C2028.7 146.5 2042.9 150.3 2055.1 155.0C2067.3 159.8 2077.5 165.5 2084.9 171.8C2092.4 178.1 2097.2 184.9 2099.0 191.7C2100.8 198.6 2099.6 205.5 2095.7 211.9C2091.8 218.4 2085.1 224.4 2076.2 229.5C2067.3 234.6 2056.2 238.8 2043.8 241.8C2031.4 244.8 2017.7 246.6 2003.8 247.1C1989.9 247.5 1975.9 246.7 1962.7 244.6M1965.3 146.6C1974.8 144.5 1985.0 142.8 1995.5 141.7C2005.9 140.6 2016.7 140.0 2027.5 140.0M2027.5 140.0C2044.0 140.0 2060.4 141.3 2075.8 143.9C2091.2 146.5 2105.4 150.3 2117.6 155.0C2129.8 159.8 2140.0 165.5 2147.4 171.8C2154.9 178.1 2159.7 184.9 2161.5 191.7C2163.3 198.6 2162.1 205.5 2158.2 211.9C2154.3 218.4 2147.6 224.4 2138.7 229.5C2129.8 234.6 2118.7 238.8 2106.3 241.8C2093.9 244.8 2080.2 246.6 2066.3 247.1C2052.4 247.5 2038.4 246.7 2025.2 244.6M2027.8 146.6C2037.3 144.5 2047.5 142.8 2058.0 141.7C2068.4 140.6 2079.2 140.0 2090.0 140.0M2090.0 140.0C2106.5 140.0 2122.9 141.3 2138.3 143.9C2153.7 146.5 2167.9 150.3 2180.1 155.0C2192.3 159.8 2202.5 165.5 2209.9 171.8C2217.4 178.1 2222.2 184.9 2224.0 191.7C2225.8 198.6 2224.6 205.5 2220.7 211.9C2216.8 218.4 2210.1 224.4 2201.2 229.5C2192.3 234.6 2181.2 238.8 2168.8 241.8C2156.4 244.8 2142.7 246.6 2128.8 247.1C2114.9 247.5 2100.9 246.7 2087.7 244.6M2090.3 146.6C2098.0 144.9 2106.2 143.4 2114.6 142.4C2123.0 141.3 2131.7 140.6 2140.4 140.2" stroke-dasharray="5.8 5.0"/><path d="M1527.5 218.0C1542.4 218.0 1557.3 219.1 1571.2 221.2C1585.1 223.2 1598.1 226.3 1609.2 230.2M1553.1 307.8C1539.8 307.8 1526.6 306.7 1514.3 304.4C1502.1 302.2 1491.0 298.9 1481.9 294.8C1472.7 290.8 1465.6 285.8 1461.0 280.5C1456.5 275.1 1454.5 269.3 1455.4 263.5C1456.3 257.6 1460.0 251.8 1466.3 246.4C1472.7 241.0 1481.6 236.0 1492.6 231.8C1503.6 227.6 1516.7 224.2 1530.8 221.8C1545.0 219.5 1560.3 218.2 1575.7 218.0C1591.1 217.9 1606.6 218.9 1621.0 220.9C1635.5 223.0 1648.9 226.2 1660.4 230.2M1548.2 230.2C1559.3 226.3 1572.3 223.2 1586.2 221.2C1600.1 219.1 1615.0 218.0 1629.9 218.0C1644.8 218.0 1659.7 219.1 1673.6 221.2C1687.5 223.2 1700.5 226.3 1711.6 230.2M1599.4 230.2C1610.5 226.3 1623.5 223.2 1637.4 221.2C1651.3 219.1 1666.2 218.0 1681.1 218.0C1696.0 218.0 1710.9 219.1 1724.8 221.2C1738.7 223.2 1751.7 226.3 1762.8 230.2M1650.6 230.2C1661.7 226.3 1674.7 223.2 1688.6 221.2C1702.5 219.1 1717.4 218.0 1732.3 218.0C1747.2 218.0 1762.1 219.1 1776.0 221.2C1789.9 223.2 1802.9 226.3 1814.0 230.2M1701.8 230.2C1712.9 226.3 1725.9 223.2 1739.8 221.2C1753.7 219.1 1768.6 218.0 1783.5 218.0C1798.4 218.0 1813.3 219.1 1827.2 221.2C1841.1 223.2 1854.1 226.3 1865.2 230.2M1753.0 230.2C1764.1 226.3 1777.1 223.2 1791.0 221.2C1804.9 219.1 1819.8 218.0 1834.7 218.0C1849.6 218.0 1864.5 219.1 1878.4 221.2C1892.3 223.2 1905.3 226.3 1916.4 230.2M1804.2 230.2C1815.3 226.3 1828.3 223.2 1842.2 221.2C1856.1 219.1 1871.0 218.0 1885.9 218.0C1900.8 218.0 1915.7 219.1 1929.6 221.2C1943.5 223.2 1956.5 226.3 1967.6 230.2M1855.4 230.2C1866.5 226.3 1879.5 223.2 1893.4 221.2C1907.3 219.1 1922.2 218.0 1937.1 218.0C1952.0 218.0 1966.9 219.1 1980.8 221.2C1994.7 223.2 2007.7 226.3 2018.8 230.2M1906.6 230.2C1917.7 226.3 1930.7 223.2 1944.6 221.2C1958.5 219.1 1973.4 218.0 1988.3 218.0C2003.2 218.0 2018.1 219.1 2032.0 221.2C2045.9 223.2 2058.9 226.3 2070.0 230.2M1957.8 230.2C1967.5 226.8 1978.7 224.0 1990.6 222.0C2002.6 219.9 2015.4 218.7 2028.3 218.2" stroke-dasharray="5.8 5.0"/><path d="M1527.5 293.5C1541.4 293.5 1555.3 294.4 1568.3 296.1C1581.3 297.9 1593.3 300.5 1603.7 303.7M1548.7 368.7C1536.1 368.7 1523.5 367.7 1511.9 365.9C1500.3 364.0 1489.7 361.3 1481.0 357.9C1472.2 354.4 1465.4 350.3 1461.0 345.8C1456.6 341.3 1454.6 336.5 1455.3 331.6C1456.0 326.7 1459.4 321.8 1465.3 317.3C1471.1 312.7 1479.4 308.5 1489.6 305.0C1499.9 301.5 1512.0 298.7 1525.2 296.7C1538.5 294.7 1552.8 293.6 1567.1 293.5C1581.5 293.4 1595.9 294.2 1609.4 296.0C1622.9 297.7 1635.4 300.3 1646.1 303.7M1536.1 303.7C1546.5 300.5 1558.5 297.9 1571.5 296.1C1584.5 294.4 1598.4 293.5 1612.3 293.5C1626.2 293.5 1640.1 294.4 1653.1 296.1C1666.1 297.9 1678.1 300.5 1688.5 303.7M1578.5 303.7C1588.9 300.5 1600.9 297.9 1613.9 296.1C1626.9 294.4 1640.8 293.5 1654.7 293.5C1668.6 293.5 1682.5 294.4 1695.5 296.1C1708.5 297.9 1720.5 300.5 1730.9 303.7M1620.9 303.7C1631.3 300.5 1643.3 297.9 1656.3 296.1C1669.3 294.4 1683.2 293.5 1697.1 293.5C1711.0 293.5 1724.9 294.4 1737.9 296.1C1750.9 297.9 1762.9 300.5 1773.3 303.7M1663.3 303.7C1673.7 300.5 1685.7 297.9 1698.7 296.1C1711.7 294.4 1725.6 293.5 1739.5 293.5C1753.4 293.5 1767.3 294.4 1780.3 296.1C1793.3 297.9 1805.3 300.5 1815.7 303.7M1705.7 303.7C1716.1 300.5 1728.1 297.9 1741.1 296.1C1754.1 294.4 1768.0 293.5 1781.9 293.5C1795.8 293.5 1809.7 294.4 1822.7 296.1C1835.7 297.9 1847.7 300.5 1858.1 303.7M1748.1 303.7C1758.5 300.5 1770.5 297.9 1783.5 296.1C1796.5 294.4 1810.4 293.5 1824.3 293.5C1838.2 293.5 1852.1 294.4 1865.1 296.1C1878.1 297.9 1890.1 300.5 1900.5 303.7M1790.5 303.7C1800.9 300.5 1812.9 297.9 1825.9 296.1C1838.9 294.4 1852.8 293.5 1866.7 293.5C1880.6 293.5 1894.5 294.4 1907.5 296.1C1920.5 297.9 1932.5 300.5 1942.9 303.7M1832.9 303.7C1843.3 300.5 1855.3 297.9 1868.3 296.1C1881.3 294.4 1895.2 293.5 1909.1 293.5C1923.0 293.5 1936.9 294.4 1949.9 296.1C1962.9 297.9 1974.9 300.5 1985.3 303.7M1875.3 303.7C1884.4 300.9 1894.7 298.5 1905.9 296.8C1917.0 295.1 1929.0 294.1 1941.1 293.7" stroke-dasharray="5.8 5.0"/><path d="M1527.5 369.0C1540.6 369.0 1553.8 369.7 1566.0 371.1C1578.3 372.4 1589.7 374.4 1599.4 376.9M1545.3 427.4C1533.2 427.4 1521.1 426.7 1510.0 425.2C1498.8 423.8 1488.7 421.6 1480.3 419.0C1471.9 416.3 1465.3 413.1 1461.0 409.6C1456.7 406.1 1454.7 402.4 1455.3 398.6C1455.9 394.8 1459.0 391.0 1464.4 387.5C1469.9 383.9 1477.7 380.7 1487.3 377.9C1497.0 375.2 1508.4 373.0 1520.9 371.5C1533.4 369.9 1546.9 369.1 1560.5 369.0C1574.0 368.9 1587.7 369.6 1600.4 370.9C1613.1 372.3 1624.9 374.3 1635.0 376.9M1526.8 376.9C1536.5 374.4 1547.9 372.4 1560.2 371.1C1572.4 369.7 1585.6 369.0 1598.7 369.0C1611.8 369.0 1625.0 369.7 1637.2 371.1C1649.5 372.4 1660.9 374.4 1670.6 376.9M1562.4 376.9C1572.1 374.4 1583.5 372.4 1595.8 371.1C1608.0 369.7 1621.2 369.0 1634.3 369.0C1647.4 369.0 1660.6 369.7 1672.8 371.1C1685.1 372.4 1696.5 374.4 1706.2 376.9M1598.0 376.9C1607.7 374.4 1619.1 372.4 1631.4 371.1C1643.6 369.7 1656.8 369.0 1669.9 369.0C1683.0 369.0 1696.2 369.7 1708.4 371.1C1720.7 372.4 1732.1 374.4 1741.8 376.9M1633.6 376.9C1643.3 374.4 1654.7 372.4 1667.0 371.1C1679.2 369.7 1692.4 369.0 1705.5 369.0C1718.6 369.0 1731.8 369.7 1744.0 371.1C1756.3 372.4 1767.7 374.4 1777.4 376.9M1669.2 376.9C1678.9 374.4 1690.3 372.4 1702.6 371.1C1714.8 369.7 1728.0 369.0 1741.1 369.0C1754.2 369.0 1767.4 369.7 1779.6 371.1C1791.9 372.4 1803.3 374.4 1813.0 376.9M1704.8 376.9C1714.5 374.4 1725.9 372.4 1738.2 371.1C1750.4 369.7 1763.6 369.0 1776.7 369.0C1789.8 369.0 1803.0 369.7 1815.2 371.1C1827.5 372.4 1838.9 374.4 1848.6 376.9M1740.4 376.9C1750.1 374.4 1761.5 372.4 1773.8 371.1C1786.0 369.7 1799.2 369.0 1812.3 369.0C1825.4 369.0 1838.6 369.7 1850.8 371.1C1863.1 372.4 1874.5 374.4 1884.2 376.9M1776.0 376.9C1785.7 374.4 1797.1 372.4 1809.4 371.1C1821.6 369.7 1834.8 369.0 1847.9 369.0C1861.0 369.0 1874.2 369.7 1886.4 371.1C1898.7 372.4 1910.1 374.4 1919.8 376.9M1811.6 376.9C1820.1 374.7 1829.9 372.9 1840.4 371.6C1851.0 370.3 1862.2 369.4 1873.7 369.1" stroke-dasharray="5.8 5.0"/><path d="M1542.8 490.5C1531.0 490.5 1519.2 489.9 1508.3 488.7C1497.4 487.6 1487.5 485.9 1479.4 483.8C1471.2 481.6 1464.8 479.1 1460.7 476.3C1456.5 473.5 1454.7 470.5 1455.3 467.5C1456.0 464.5 1459.1 461.5 1464.5 458.7C1469.9 455.9 1477.6 453.4 1487.0 451.2C1496.5 449.1 1507.6 447.4 1519.8 446.3C1531.9 445.1 1545.0 444.5 1558.1 444.5" stroke-dasharray="5.8 5.0"/><path d="M1541.2 552.6C1529.7 552.6 1518.3 552.2 1507.8 551.3C1497.3 550.5 1487.7 549.2 1479.7 547.7C1471.8 546.1 1465.6 544.3 1461.6 542.2C1457.6 540.2 1455.7 538.0 1456.3 535.8C1456.9 533.6 1459.8 531.4 1465.0 529.4C1470.1 527.3 1477.5 525.5 1486.6 523.9C1495.6 522.4 1506.4 521.1 1518.0 520.3C1529.7 519.4 1542.2 519.0 1554.8 519.0" stroke-dasharray="5.8 5.0"/><path d="M1539.9 614.6C1528.7 614.6 1517.4 614.3 1507.1 613.9C1496.7 613.4 1487.3 612.6 1479.5 611.7C1471.7 610.8 1465.6 609.7 1461.6 608.6C1457.6 607.4 1455.8 606.1 1456.3 604.8C1456.8 603.5 1459.7 602.2 1464.7 601.0C1469.7 599.9 1476.9 598.8 1485.7 597.9C1494.5 597.0 1505.0 596.2 1516.4 595.7C1527.8 595.3 1540.0 595.0 1552.3 595.0" stroke-dasharray="5.8 5.0"/>
</g>
<g fill="none" stroke="#ffff00" stroke-width="2.3"><circle cx="1527.5" cy="79.0" r="9.8"/><circle cx="1601.2" cy="79.0" r="9.8"/><circle cx="1674.9" cy="79.0" r="9.8"/><circle cx="1748.6" cy="79.0" r="9.8"/><circle cx="1822.3" cy="79.0" r="9.8"/><circle cx="1896.0" cy="79.0" r="9.8"/><circle cx="1969.7" cy="79.0" r="9.8"/><circle cx="2043.4" cy="79.0" r="9.8"/><circle cx="2117.1" cy="79.0" r="9.8"/><circle cx="2190.8" cy="79.0" r="9.8"/><circle cx="1527.5" cy="140.0" r="9.8"/><circle cx="1590.0" cy="140.0" r="9.8"/><circle cx="1652.5" cy="140.0" r="9.8"/><circle cx="1715.0" cy="140.0" r="9.8"/><circle cx="1777.5" cy="140.0" r="9.8"/><circle cx="1840.0" cy="140.0" r="9.8"/><circle cx="1902.5" cy="140.0" r="9.8"/><circle cx="1965.0" cy="140.0" r="9.8"/><circle cx="2027.5" cy="140.0" r="9.8"/><circle cx="2090.0" cy="140.0" r="9.8"/><circle cx="1527.5" cy="218.0" r="9.8"/><circle cx="1578.7" cy="218.0" r="9.8"/><circle cx="1629.9" cy="218.0" r="9.8"/><circle cx="1681.1" cy="218.0" r="9.8"/><circle cx="1732.3" cy="218.0" r="9.8"/><circle cx="1783.5" cy="218.0" r="9.8"/><circle cx="1834.7" cy="218.0" r="9.8"/><circle cx="1885.9" cy="218.0" r="9.8"/><circle cx="1937.1" cy="218.0" r="9.8"/><circle cx="1988.3" cy="218.0" r="9.8"/><circle cx="1527.5" cy="293.5" r="9.8"/><circle cx="1569.9" cy="293.5" r="9.8"/><circle cx="1612.3" cy="293.5" r="9.8"/><circle cx="1654.7" cy="293.5" r="9.8"/><circle cx="1697.1" cy="293.5" r="9.8"/><circle cx="1739.5" cy="293.5" r="9.8"/><circle cx="1781.9" cy="293.5" r="9.8"/><circle cx="1824.3" cy="293.5" r="9.8"/><circle cx="1866.7" cy="293.5" r="9.8"/><circle cx="1909.1" cy="293.5" r="9.8"/><circle cx="1527.5" cy="369.0" r="9.8"/><circle cx="1563.1" cy="369.0" r="9.8"/><circle cx="1598.7" cy="369.0" r="9.8"/><circle cx="1634.3" cy="369.0" r="9.8"/><circle cx="1669.9" cy="369.0" r="9.8"/><circle cx="1705.5" cy="369.0" r="9.8"/><circle cx="1741.1" cy="369.0" r="9.8"/><circle cx="1776.7" cy="369.0" r="9.8"/><circle cx="1812.3" cy="369.0" r="9.8"/><circle cx="1847.9" cy="369.0" r="9.8"/><circle cx="1527.5" cy="444.5" r="9.8"/><circle cx="1558.1" cy="444.5" r="9.8"/><circle cx="1588.7" cy="444.5" r="9.8"/><circle cx="1619.3" cy="444.5" r="9.8"/><circle cx="1649.9" cy="444.5" r="9.8"/><circle cx="1680.5" cy="444.5" r="9.8"/><circle cx="1711.1" cy="444.5" r="9.8"/><circle cx="1741.7" cy="444.5" r="9.8"/><circle cx="1772.3" cy="444.5" r="9.8"/><circle cx="1802.9" cy="444.5" r="9.8"/><circle cx="1527.5" cy="519.0" r="9.8"/><circle cx="1554.8" cy="519.0" r="9.8"/><circle cx="1582.1" cy="519.0" r="9.8"/><circle cx="1609.4" cy="519.0" r="9.8"/><circle cx="1636.7" cy="519.0" r="9.8"/><circle cx="1664.0" cy="519.0" r="9.8"/><circle cx="1691.3" cy="519.0" r="9.8"/><circle cx="1718.6" cy="519.0" r="9.8"/><circle cx="1745.9" cy="519.0" r="9.8"/><circle cx="1773.2" cy="519.0" r="9.8"/><circle cx="1527.5" cy="595.0" r="9.8"/><circle cx="1552.3" cy="595.0" r="9.8"/><circle cx="1577.1" cy="595.0" r="9.8"/><circle cx="1601.9" cy="595.0" r="9.8"/><circle cx="1626.7" cy="595.0" r="9.8"/><circle cx="1651.5" cy="595.0" r="9.8"/><circle cx="1676.3" cy="595.0" r="9.8"/><circle cx="1701.1" cy="595.0" r="9.8"/><circle cx="1725.9" cy="595.0" r="9.8"/><circle cx="1750.7" cy="595.0" r="9.8"/><circle cx="1527.5" cy="670.0" r="9.8"/><circle cx="1551.2" cy="670.0" r="9.8"/><circle cx="1575.0" cy="670.0" r="9.8"/><circle cx="1598.8" cy="670.0" r="9.8"/><circle cx="1622.5" cy="670.0" r="9.8"/><circle cx="1646.2" cy="670.0" r="9.8"/><circle cx="1670.0" cy="670.0" r="9.8"/><circle cx="1693.8" cy="670.0" r="9.8"/><circle cx="1717.5" cy="670.0" r="9.8"/><circle cx="1741.2" cy="670.0" r="9.8"/></g>
<path d="M1512.8 79.0h29.4M1527.5 64.3v29.4M1512.8 140.0h29.4M1527.5 125.3v29.4M1512.8 218.0h29.4M1527.5 203.3v29.4M1512.8 293.5h29.4M1527.5 278.8v29.4M1512.8 369.0h29.4M1527.5 354.3v29.4M1512.8 444.5h29.4M1527.5 429.8v29.4M1512.8 519.0h29.4M1527.5 504.3v29.4M1512.8 595.0h29.4M1527.5 580.3v29.4M1512.8 670.0h29.4M1527.5 655.3v29.4" stroke="#ff0000" stroke-width="9.7" fill="none"/>
<g fill="#ff0000" stroke="#ffff00" stroke-width="2.3"><circle cx="1527.5" cy="218.0" r="9.8"/><circle cx="1527.5" cy="369.0" r="9.8"/><circle cx="1527.5" cy="444.5" r="9.8"/><circle cx="1527.5" cy="519.0" r="9.8"/></g>
<path d="M2251.0 64.0L2262.5 79.0L2251.0 94.0L2239.5 79.0ZM2140.0 125.0L2151.5 140.0L2140.0 155.0L2128.5 140.0ZM2028.0 203.0L2039.5 218.0L2028.0 233.0L2016.5 218.0ZM1941.0 278.5L1952.5 293.5L1941.0 308.5L1929.5 293.5ZM1874.0 354.0L1885.5 369.0L1874.0 384.0L1862.5 369.0ZM1824.0 429.5L1835.5 444.5L1824.0 459.5L1812.5 444.5ZM1789.0 504.0L1800.5 519.0L1789.0 534.0L1777.5 519.0ZM1767.5 580.0L1779.0 595.0L1767.5 610.0L1756.0 595.0ZM1756.5 655.0L1768.0 670.0L1756.5 685.0L1745.0 670.0Z" stroke="#ff0000" stroke-width="7.6" fill="none" stroke-linejoin="miter" stroke-miterlimit="10"/>
<clipPath id="cpb"><rect x="193.5" y="849.5" width="1042.0" height="675.5"/></clipPath>
<g clip-path="url(#cpb)" fill="none" stroke="#aee8f6" stroke-width="5.8">
<path d="M1176.5 1035.0C1166.1 1035.0 1155.7 1035.8 1146.0 1037.5C1136.3 1039.1 1127.3 1041.5 1119.7 1044.5C1112.0 1047.5 1105.7 1051.1 1101.0 1055.0C1096.4 1058.9 1093.5 1063.2 1092.4 1067.4C1091.3 1071.7 1092.2 1075.9 1094.7 1079.8C1097.2 1083.8 1101.4 1087.4 1107.0 1090.4C1112.6 1093.4 1119.5 1095.8 1127.1 1097.5C1134.7 1099.1 1143.0 1100.0 1151.3 1100.0C1159.7 1100.0 1168.0 1099.2 1175.6 1097.6C1183.3 1096.0 1190.2 1093.6 1195.8 1090.6C1201.5 1087.6 1205.8 1084.0 1208.4 1080.1C1211.0 1076.2 1211.9 1072.0 1210.9 1067.7C1209.9 1063.5 1207.1 1059.2 1202.6 1055.3C1198.0 1051.4 1191.7 1047.7 1184.1 1044.7C1176.5 1041.7 1167.6 1039.2 1157.9 1037.6C1148.3 1035.9 1137.9 1035.0 1127.5 1035.0C1117.1 1035.0 1106.7 1035.8 1097.0 1037.4C1087.2 1038.9 1078.2 1041.3 1070.5 1044.3C1062.7 1047.2 1056.3 1050.8 1051.6 1054.7C1046.9 1058.6 1043.9 1062.9 1042.7 1067.1C1041.6 1071.4 1042.3 1075.6 1044.7 1079.6C1047.2 1083.5 1051.4 1087.1 1056.9 1090.2C1062.4 1093.2 1069.2 1095.7 1076.8 1097.4C1084.3 1099.0 1092.6 1099.9 1101.0 1100.0C1109.3 1100.1 1117.7 1099.3 1125.3 1097.7C1133.0 1096.1 1140.0 1093.8 1145.7 1090.8C1151.4 1087.9 1155.8 1084.3 1158.4 1080.4C1161.1 1076.5 1162.1 1072.3 1161.2 1068.0C1160.4 1063.8 1157.6 1059.5 1153.1 1055.6C1148.7 1051.6 1142.5 1048.0 1134.9 1044.9C1127.4 1041.9 1118.5 1039.4 1108.9 1037.7C1099.3 1036.0 1088.9 1035.1 1078.5 1035.0C1068.1 1034.9 1057.7 1035.7 1047.9 1037.2C1038.2 1038.8 1029.1 1041.1 1021.3 1044.1C1013.5 1047.0 1007.0 1050.6 1002.2 1054.4C997.4 1058.3 994.3 1062.6 993.1 1066.8C991.8 1071.1 992.5 1075.3 994.8 1079.3C997.2 1083.2 1001.3 1086.9 1006.7 1090.0C1012.2 1093.0 1018.9 1095.5 1026.5 1097.2C1034.0 1098.9 1042.3 1099.9 1050.6 1100.0C1059.0 1100.1 1067.3 1099.3 1075.0 1097.8C1082.7 1096.3 1089.8 1094.0 1095.5 1091.0C1101.3 1088.1 1105.7 1084.6 1108.5 1080.7C1111.3 1076.8 1112.3 1072.6 1111.5 1068.3C1110.8 1064.1 1108.1 1059.8 1103.7 1055.9C1099.3 1051.9 1093.2 1048.2 1085.7 1045.2C1078.2 1042.1 1069.4 1039.6 1059.8 1037.8C1050.2 1036.1 1039.9 1035.1 1029.5 1035.0C1019.1 1034.9 1008.7 1035.6 998.9 1037.1C989.1 1038.6 979.9 1040.9 972.1 1043.9C964.2 1046.8 957.7 1050.3 952.8 1054.2C947.9 1058.0 944.7 1062.3 943.4 1066.5C942.1 1070.8 942.6 1075.0 944.9 1079.0C947.2 1083.0 951.2 1086.6 956.6 1089.7C962.0 1092.8 968.7 1095.4 976.2 1097.1C983.7 1098.9 991.9 1099.8 1000.3 1100.0C1008.6 1100.1 1017.0 1099.4 1024.7 1097.9C1032.5 1096.4 1039.5 1094.2 1045.3 1091.3C1051.2 1088.4 1055.7 1084.8 1058.5 1081.0C1061.4 1077.1 1062.6 1072.9 1061.8 1068.6C1061.1 1064.4 1058.6 1060.1 1054.3 1056.1C1050.0 1052.2 1043.9 1048.5 1036.5 1045.4C1029.1 1042.3 1020.3 1039.7 1010.8 1038.0C1001.2 1036.2 990.9 1035.2 980.5 1035.0C970.1 1034.9 959.6 1035.5 949.8 1037.0C940.0 1038.5 930.8 1040.8 922.9 1043.6C915.0 1046.5 908.4 1050.0 903.4 1053.9C898.4 1057.7 895.2 1062.0 893.8 1066.2C892.4 1070.4 892.8 1074.7 895.0 1078.7C897.2 1082.7 901.1 1086.4 906.4 1089.5C911.8 1092.6 918.4 1095.2 925.9 1097.0C933.4 1098.8 941.6 1099.8 949.9 1100.0C958.2 1100.2 966.6 1099.5 974.4 1098.0C982.2 1096.6 989.3 1094.3 995.2 1091.5C1001.0 1088.6 1005.7 1085.1 1008.6 1081.3C1011.5 1077.4 1012.8 1073.2 1012.1 1069.0C1011.5 1064.7 1009.1 1060.4 1004.8 1056.4C1000.6 1052.4 994.6 1048.7 987.3 1045.6C979.9 1042.5 971.2 1039.9 961.7 1038.1C952.2 1036.3 941.9 1035.2 931.5 1035.0C921.1 1034.8 910.6 1035.5 900.8 1036.9C890.9 1038.4 881.7 1040.6 873.7 1043.4C865.8 1046.3 859.0 1049.8 854.0 1053.6C849.0 1057.5 845.6 1061.6 844.1 1065.9C842.6 1070.1 843.0 1074.4 845.1 1078.4C847.2 1082.4 851.1 1086.1 856.3 1089.3C861.6 1092.4 868.2 1095.0 875.6 1096.8C883.0 1098.7 891.3 1099.7 899.6 1100.0C907.9 1100.2 916.3 1099.6 924.1 1098.1C931.9 1096.7 939.1 1094.5 945.0 1091.7C950.9 1088.8 955.6 1085.4 958.6 1081.5C961.6 1077.7 963.0 1073.5 962.4 1069.3C961.9 1065.0 959.5 1060.7 955.4 1056.7C951.2 1052.7 945.3 1049.0 938.1 1045.8C930.8 1042.7 922.1 1040.1 912.6 1038.2C903.2 1036.4 892.9 1035.3 882.5 1035.1C872.1 1034.8 861.6 1035.4 851.7 1036.8C841.9 1038.2 832.6 1040.4 824.6 1043.2C816.5 1046.1 809.7 1049.5 804.6 1053.3C799.5 1057.2 796.1 1061.3 794.5 1065.6C792.9 1069.8 793.2 1074.1 795.2 1078.1C797.2 1082.1 801.0 1085.9 806.2 1089.1C811.4 1092.2 817.9 1094.9 825.3 1096.7C832.7 1098.6 840.9 1099.7 849.2 1099.9C857.5 1100.2 866.0 1099.6 873.8 1098.2C881.6 1096.9 888.8 1094.7 894.8 1091.9C900.8 1089.1 905.6 1085.6 908.7 1081.8C911.7 1078.0 913.2 1073.8 912.7 1069.6C912.3 1065.3 910.0 1061.0 905.9 1057.0C901.9 1053.0 896.1 1049.2 888.8 1046.1C881.6 1042.9 873.0 1040.2 863.6 1038.4C854.1 1036.5 843.9 1035.4 833.5 1035.1C823.1 1034.8 812.6 1035.4 802.7 1036.7C792.8 1038.1 783.5 1040.2 775.4 1043.0C767.3 1045.8 760.4 1049.3 755.2 1053.1C750.1 1056.9 746.5 1061.0 744.8 1065.3C743.2 1069.5 743.4 1073.8 745.3 1077.8C747.2 1081.9 751.0 1085.6 756.1 1088.8C761.2 1092.0 767.7 1094.7 775.0 1096.6C782.4 1098.5 790.6 1099.6 798.9 1099.9C807.2 1100.2 815.6 1099.7 823.5 1098.3C831.3 1097.0 838.6 1094.9 844.6 1092.1C850.7 1089.3 855.5 1085.9 858.7 1082.1C861.8 1078.3 863.4 1074.1 863.0 1069.9C862.6 1065.6 860.4 1061.3 856.5 1057.3C852.5 1053.3 846.8 1049.5 839.6 1046.3C832.5 1043.1 823.9 1040.4 814.5 1038.5C805.1 1036.6 794.9 1035.4 784.5 1035.1C774.1 1034.8 763.6 1035.3 753.7 1036.6C743.7 1037.9 734.4 1040.1 726.2 1042.8C718.1 1045.6 711.2 1049.0 705.9 1052.8C700.6 1056.6 697.0 1060.7 695.2 1065.0C693.5 1069.2 693.5 1073.5 695.4 1077.5C697.3 1081.6 700.9 1085.4 705.9 1088.6C711.0 1091.8 717.5 1094.5 724.8 1096.4C732.1 1098.4 740.2 1099.6 748.5 1099.9C756.8 1100.2 765.3 1099.7 773.2 1098.4C781.0 1097.1 788.3 1095.0 794.4 1092.3C800.6 1089.5 805.5 1086.1 808.7 1082.4C811.9 1078.6 813.5 1074.4 813.3 1070.2C813.0 1065.9 810.9 1061.6 807.0 1057.6C803.1 1053.6 797.5 1049.8 790.4 1046.5C783.3 1043.3 774.8 1040.6 765.4 1038.6C756.1 1036.7 745.9 1035.5 735.5 1035.1C725.1 1034.8 714.6 1035.2 704.6 1036.5C694.7 1037.8 685.3 1039.9 677.1 1042.6C668.9 1045.4 661.9 1048.7 656.5 1052.5C651.2 1056.3 647.5 1060.4 645.6 1064.7C643.7 1068.9 643.8 1073.2 645.5 1077.3C647.3 1081.3 650.9 1085.1 655.8 1088.4C660.8 1091.6 667.2 1094.3 674.5 1096.3C681.8 1098.3 689.9 1099.5 698.2 1099.9C706.5 1100.2 714.9 1099.8 722.8 1098.5C730.7 1097.3 738.1 1095.2 744.3 1092.5C750.4 1089.7 755.4 1086.4 758.7 1082.6C762.0 1078.9 763.7 1074.7 763.5 1070.5C763.4 1066.3 761.3 1061.9 757.5 1057.9C753.7 1053.8 748.1 1050.0 741.1 1046.8C734.1 1043.5 725.7 1040.8 716.4 1038.8C707.0 1036.8 696.9 1035.5 686.5 1035.1M1176.5 1119.0C1169.9 1119.0 1163.4 1119.8 1157.3 1121.4C1151.2 1123.0 1145.6 1125.3 1140.7 1128.2C1135.9 1131.1 1132.0 1134.6 1129.1 1138.4C1126.2 1142.2 1124.4 1146.3 1123.8 1150.4C1123.2 1154.5 1123.8 1158.7 1125.5 1162.5C1127.2 1166.3 1130.0 1169.8 1133.6 1172.7C1137.2 1175.6 1141.7 1178.0 1146.6 1179.6C1151.5 1181.1 1156.9 1182.0 1162.3 1182.0C1167.6 1182.0 1173.0 1181.2 1178.0 1179.7C1182.9 1178.1 1187.4 1175.8 1191.1 1172.9C1194.7 1170.0 1197.5 1166.5 1199.3 1162.7C1201.0 1158.9 1201.7 1154.8 1201.1 1150.7C1200.6 1146.6 1198.8 1142.5 1196.0 1138.7C1193.2 1134.9 1189.3 1131.3 1184.5 1128.4C1179.7 1125.5 1174.1 1123.1 1168.0 1121.5C1162.0 1119.9 1155.4 1119.0 1148.9 1119.0C1142.3 1119.0 1135.8 1119.7 1129.6 1121.3C1123.5 1122.8 1117.8 1125.1 1113.0 1128.0C1108.1 1130.9 1104.1 1134.3 1101.2 1138.1C1098.3 1141.9 1096.4 1146.0 1095.8 1150.1C1095.1 1154.2 1095.7 1158.4 1097.3 1162.2C1098.9 1166.0 1101.6 1169.5 1105.2 1172.5C1108.8 1175.4 1113.2 1177.8 1118.1 1179.4C1123.0 1181.1 1128.4 1181.9 1133.8 1182.0C1139.2 1182.1 1144.5 1181.3 1149.5 1179.8C1154.5 1178.3 1159.0 1176.0 1162.7 1173.1C1166.4 1170.2 1169.3 1166.8 1171.0 1163.0C1172.8 1159.2 1173.5 1155.1 1173.0 1151.0C1172.6 1146.9 1170.9 1142.8 1168.1 1138.9C1165.3 1135.1 1161.5 1131.6 1156.7 1128.6C1152.0 1125.7 1146.4 1123.3 1140.4 1121.6C1134.3 1120.0 1127.8 1119.1 1121.2 1119.0C1114.7 1118.9 1108.1 1119.7 1102.0 1121.2C1095.8 1122.7 1090.1 1124.9 1085.2 1127.8C1080.4 1130.6 1076.3 1134.1 1073.3 1137.8C1070.3 1141.6 1068.4 1145.7 1067.7 1149.8C1067.0 1153.9 1067.5 1158.1 1069.1 1161.9C1070.6 1165.8 1073.3 1169.3 1076.9 1172.3C1080.4 1175.2 1084.8 1177.7 1089.7 1179.3C1094.5 1181.0 1099.9 1181.9 1105.3 1182.0C1110.7 1182.1 1116.1 1181.4 1121.0 1179.9C1126.0 1178.4 1130.6 1176.2 1134.3 1173.3C1138.1 1170.5 1141.0 1167.1 1142.8 1163.3C1144.7 1159.5 1145.4 1155.4 1145.0 1151.3C1144.6 1147.2 1142.9 1143.1 1140.2 1139.2C1137.5 1135.4 1133.7 1131.8 1129.0 1128.8C1124.3 1125.8 1118.7 1123.4 1112.7 1121.7C1106.7 1120.1 1100.2 1119.1 1093.6 1119.0C1087.1 1118.9 1080.5 1119.6 1074.3 1121.1C1068.2 1122.5 1062.4 1124.8 1057.5 1127.6C1052.6 1130.4 1048.5 1133.8 1045.4 1137.6C1042.4 1141.3 1040.4 1145.4 1039.7 1149.5C1038.9 1153.7 1039.3 1157.8 1040.9 1161.6C1042.4 1165.5 1045.0 1169.1 1048.5 1172.1C1052.0 1175.1 1056.4 1177.5 1061.2 1179.2C1066.1 1180.9 1071.4 1181.8 1076.8 1182.0C1082.2 1182.1 1087.6 1181.4 1092.6 1180.0C1097.6 1178.5 1102.2 1176.3 1106.0 1173.5C1109.7 1170.7 1112.7 1167.3 1114.6 1163.6C1116.5 1159.8 1117.3 1155.7 1116.9 1151.6C1116.5 1147.5 1115.0 1143.4 1112.3 1139.5C1109.6 1135.6 1105.9 1132.1 1101.2 1129.1C1096.6 1126.0 1091.1 1123.6 1085.0 1121.9C1079.0 1120.1 1072.5 1119.2 1066.0 1119.0C1059.4 1118.9 1052.9 1119.5 1046.7 1121.0C1040.5 1122.4 1034.7 1124.6 1029.8 1127.4C1024.8 1130.2 1020.6 1133.6 1017.5 1137.3C1014.5 1141.0 1012.5 1145.1 1011.6 1149.2C1010.8 1153.4 1011.2 1157.5 1012.6 1161.4C1014.1 1165.2 1016.7 1168.8 1020.2 1171.8C1023.6 1174.9 1027.9 1177.3 1032.8 1179.1C1037.6 1180.8 1042.9 1181.8 1048.3 1182.0C1053.7 1182.1 1059.1 1181.5 1064.1 1180.1C1069.2 1178.7 1073.8 1176.5 1077.6 1173.7C1081.4 1170.9 1084.4 1167.6 1086.3 1163.8C1088.3 1160.1 1089.2 1156.0 1088.8 1151.9C1088.5 1147.8 1087.0 1143.6 1084.4 1139.8C1081.8 1135.9 1078.1 1132.3 1073.5 1129.3C1068.8 1126.2 1063.4 1123.7 1057.4 1122.0C1051.4 1120.2 1044.9 1119.2 1038.4 1119.0C1031.8 1118.8 1025.2 1119.5 1019.0 1120.9C1012.8 1122.2 1007.0 1124.4 1002.0 1127.2C997.0 1129.9 992.8 1133.3 989.7 1137.0C986.5 1140.8 984.5 1144.8 983.6 1148.9C982.7 1153.1 983.0 1157.2 984.4 1161.1C985.9 1165.0 988.4 1168.6 991.8 1171.6C995.2 1174.7 999.5 1177.2 1004.3 1178.9C1009.1 1180.7 1014.4 1181.7 1019.8 1182.0C1025.2 1182.2 1030.6 1181.6 1035.7 1180.2C1040.7 1178.8 1045.3 1176.7 1049.2 1173.9C1053.1 1171.2 1056.1 1167.8 1058.1 1164.1C1060.1 1160.4 1061.0 1156.3 1060.8 1152.2C1060.5 1148.1 1059.1 1143.9 1056.5 1140.1C1053.9 1136.2 1050.2 1132.6 1045.7 1129.5C1041.1 1126.4 1035.7 1123.9 1029.7 1122.1C1023.7 1120.3 1017.3 1119.3 1010.7 1119.1C1004.2 1118.8 997.6 1119.4 991.4 1120.8C985.1 1122.1 979.3 1124.2 974.3 1127.0C969.2 1129.7 965.0 1133.1 961.8 1136.8C958.6 1140.5 956.5 1144.5 955.6 1148.6C954.6 1152.8 954.9 1156.9 956.2 1160.8C957.6 1164.7 960.1 1168.3 963.5 1171.4C966.8 1174.5 971.1 1177.0 975.9 1178.8C980.7 1180.6 986.0 1181.7 991.3 1181.9C996.7 1182.2 1002.1 1181.6 1007.2 1180.3C1012.3 1179.0 1016.9 1176.8 1020.8 1174.1C1024.7 1171.4 1027.8 1168.1 1029.9 1164.4C1031.9 1160.7 1032.9 1156.6 1032.7 1152.5C1032.5 1148.4 1031.1 1144.2 1028.6 1140.3C1026.1 1136.4 1022.4 1132.8 1017.9 1129.7C1013.4 1126.6 1008.0 1124.1 1002.0 1122.2C996.1 1120.4 989.6 1119.3 983.1 1119.1C976.6 1118.8 970.0 1119.3 963.7 1120.7C957.5 1122.0 951.6 1124.1 946.5 1126.8C941.5 1129.5 937.2 1132.8 933.9 1136.5C930.7 1140.2 928.5 1144.2 927.5 1148.3C926.5 1152.5 926.7 1156.6 928.0 1160.5C929.4 1164.4 931.8 1168.1 935.1 1171.2C938.5 1174.3 942.7 1176.8 947.4 1178.7C952.2 1180.5 957.5 1181.6 962.8 1181.9C968.2 1182.2 973.7 1181.7 978.7 1180.4C983.8 1179.1 988.5 1177.0 992.4 1174.3C996.4 1171.6 999.5 1168.3 1001.6 1164.6C1003.7 1160.9 1004.7 1156.9 1004.6 1152.8C1004.4 1148.7 1003.1 1144.5 1000.6 1140.6C998.2 1136.7 994.6 1133.1 990.1 1129.9C985.7 1126.8 980.3 1124.2 974.4 1122.4C968.5 1120.5 962.0 1119.4 955.5 1119.1C948.9 1118.8 942.3 1119.3 936.1 1120.6C929.8 1121.8 923.9 1123.9 918.8 1126.6C913.7 1129.3 909.4 1132.6 906.1 1136.2C902.8 1139.9 900.6 1143.9 899.5 1148.1C898.5 1152.2 898.6 1156.3 899.9 1160.2C901.1 1164.2 903.5 1167.8 906.8 1170.9C910.1 1174.1 914.3 1176.7 919.0 1178.6C923.7 1180.4 929.0 1181.6 934.4 1181.9C939.7 1182.2 945.2 1181.7 950.3 1180.5C955.4 1179.2 960.1 1177.2 964.1 1174.5C968.0 1171.8 971.2 1168.6 973.4 1164.9C975.5 1161.2 976.6 1157.2 976.5 1153.1C976.4 1149.0 975.1 1144.8 972.7 1140.9C970.3 1137.0 966.8 1133.3 962.4 1130.2C957.9 1127.0 952.6 1124.4 946.7 1122.5C940.8 1120.6 934.4 1119.5 927.8 1119.1C921.3 1118.8 914.7 1119.2 908.4 1120.5C902.1 1121.7 896.2 1123.7 891.1 1126.4C885.9 1129.0 881.5 1132.3 878.2 1136.0C874.9 1139.6 872.6 1143.7 871.5 1147.8C870.4 1151.9 870.5 1156.0 871.7 1160.0C872.9 1163.9 875.2 1167.6 878.5 1170.7C881.7 1173.9 885.9 1176.5 890.6 1178.4C895.3 1180.3 900.5 1181.5 905.9 1181.9C911.2 1182.2 916.7 1181.8 921.8 1180.6C926.9 1179.3 931.7 1177.3 935.7 1174.7C939.7 1172.1 942.9 1168.8 945.1 1165.2C947.3 1161.5 948.4 1157.5 948.4 1153.4C948.4 1149.3 947.1 1145.1 944.8 1141.2C942.4 1137.3 939.0 1133.6 934.6 1130.4C930.2 1127.2 924.9 1124.6 919.0 1122.7C913.2 1120.7 906.7 1119.5 900.2 1119.1M1176.5 1204.0C1172.5 1204.0 1168.6 1204.7 1164.9 1206.1C1161.2 1207.5 1157.7 1209.5 1154.8 1212.0C1151.9 1214.6 1149.5 1217.6 1147.8 1220.9C1146.1 1224.2 1145.0 1227.8 1144.7 1231.4C1144.4 1235.0 1144.8 1238.6 1145.8 1241.9C1146.9 1245.3 1148.7 1248.3 1150.9 1250.9C1153.2 1253.4 1155.9 1255.5 1159.0 1256.9C1162.0 1258.3 1165.3 1259.0 1168.7 1259.0C1172.0 1259.0 1175.3 1258.3 1178.4 1257.0C1181.5 1255.6 1184.3 1253.6 1186.5 1251.1C1188.8 1248.5 1190.6 1245.5 1191.7 1242.2C1192.8 1238.9 1193.2 1235.3 1192.9 1231.7C1192.6 1228.1 1191.6 1224.5 1189.9 1221.2C1188.2 1217.8 1185.8 1214.8 1183.0 1212.2C1180.1 1209.7 1176.7 1207.6 1173.0 1206.2C1169.3 1204.8 1165.4 1204.0 1161.4 1204.0C1157.4 1204.0 1153.4 1204.6 1149.7 1206.0C1146.0 1207.3 1142.6 1209.3 1139.7 1211.8C1136.7 1214.4 1134.3 1217.4 1132.5 1220.7C1130.8 1224.0 1129.7 1227.6 1129.3 1231.2C1129.0 1234.8 1129.3 1238.4 1130.4 1241.7C1131.4 1245.0 1133.1 1248.1 1135.3 1250.7C1137.6 1253.3 1140.3 1255.3 1143.4 1256.8C1146.4 1258.2 1149.7 1258.9 1153.0 1259.0C1156.4 1259.0 1159.7 1258.4 1162.8 1257.1C1165.9 1255.7 1168.7 1253.7 1171.0 1251.2C1173.3 1248.7 1175.1 1245.7 1176.2 1242.4C1177.3 1239.1 1177.8 1235.5 1177.5 1232.0C1177.3 1228.4 1176.3 1224.8 1174.6 1221.4C1173.0 1218.1 1170.6 1215.0 1167.8 1212.4C1164.9 1209.8 1161.5 1207.7 1157.9 1206.3C1154.2 1204.9 1150.2 1204.1 1146.3 1204.0C1142.3 1203.9 1138.3 1204.6 1134.6 1205.9C1130.9 1207.2 1127.4 1209.2 1124.5 1211.7C1121.5 1214.2 1119.1 1217.2 1117.3 1220.5C1115.5 1223.7 1114.4 1227.3 1114.0 1230.9C1113.6 1234.5 1113.9 1238.1 1114.9 1241.5C1115.9 1244.8 1117.6 1247.9 1119.8 1250.5C1122.0 1253.1 1124.7 1255.2 1127.7 1256.7C1130.8 1258.1 1134.1 1258.9 1137.4 1259.0C1140.7 1259.1 1144.1 1258.4 1147.2 1257.2C1150.2 1255.9 1153.1 1253.9 1155.4 1251.4C1157.7 1248.9 1159.5 1245.9 1160.7 1242.7C1161.9 1239.4 1162.4 1235.8 1162.1 1232.2C1161.9 1228.6 1161.0 1225.0 1159.3 1221.7C1157.7 1218.3 1155.4 1215.2 1152.6 1212.6C1149.7 1210.0 1146.4 1207.9 1142.7 1206.4C1139.1 1204.9 1135.1 1204.1 1131.2 1204.0C1127.2 1203.9 1123.2 1204.5 1119.5 1205.8C1115.7 1207.1 1112.3 1209.0 1109.3 1211.5C1106.3 1214.0 1103.8 1216.9 1102.0 1220.2C1100.2 1223.5 1099.0 1227.1 1098.6 1230.7C1098.2 1234.3 1098.5 1237.9 1099.4 1241.2C1100.4 1244.6 1102.0 1247.7 1104.2 1250.3C1106.4 1252.9 1109.1 1255.1 1112.1 1256.6C1115.1 1258.0 1118.4 1258.9 1121.8 1259.0C1125.1 1259.1 1128.4 1258.5 1131.5 1257.2C1134.6 1256.0 1137.5 1254.1 1139.8 1251.6C1142.2 1249.1 1144.0 1246.2 1145.2 1242.9C1146.4 1239.6 1147.0 1236.1 1146.8 1232.5C1146.6 1228.9 1145.7 1225.3 1144.1 1221.9C1142.5 1218.5 1140.2 1215.4 1137.4 1212.8C1134.6 1210.1 1131.2 1208.0 1127.6 1206.5C1124.0 1205.0 1120.0 1204.2 1116.0 1204.0C1112.1 1203.9 1108.1 1204.5 1104.3 1205.7C1100.6 1207.0 1097.1 1208.9 1094.1 1211.3C1091.1 1213.8 1088.6 1216.7 1086.7 1220.0C1084.9 1223.2 1083.7 1226.8 1083.2 1230.4C1082.8 1234.0 1083.0 1237.6 1084.0 1241.0C1084.9 1244.4 1086.5 1247.5 1088.7 1250.1C1090.8 1252.8 1093.5 1254.9 1096.5 1256.4C1099.5 1258.0 1102.8 1258.8 1106.1 1259.0C1109.4 1259.1 1112.8 1258.6 1115.9 1257.3C1119.0 1256.1 1121.9 1254.2 1124.3 1251.8C1126.6 1249.3 1128.5 1246.4 1129.7 1243.1C1131.0 1239.9 1131.5 1236.3 1131.4 1232.7C1131.2 1229.1 1130.3 1225.5 1128.8 1222.1C1127.2 1218.8 1125.0 1215.6 1122.2 1213.0C1119.4 1210.3 1116.1 1208.1 1112.5 1206.6C1108.8 1205.1 1104.9 1204.2 1100.9 1204.0C1097.0 1203.9 1093.0 1204.4 1089.2 1205.6C1085.4 1206.8 1081.9 1208.7 1078.9 1211.1C1075.9 1213.6 1073.4 1216.5 1071.5 1219.7C1069.6 1223.0 1068.4 1226.5 1067.9 1230.1C1067.4 1233.7 1067.6 1237.4 1068.5 1240.7C1069.4 1244.1 1071.0 1247.3 1073.1 1249.9C1075.2 1252.6 1077.9 1254.8 1080.9 1256.3C1083.9 1257.9 1087.2 1258.8 1090.5 1259.0C1093.8 1259.1 1097.2 1258.6 1100.3 1257.4C1103.4 1256.2 1106.3 1254.4 1108.7 1251.9C1111.1 1249.5 1113.0 1246.6 1114.2 1243.4C1115.5 1240.1 1116.1 1236.6 1116.0 1233.0C1115.9 1229.4 1115.0 1225.8 1113.5 1222.4C1112.0 1219.0 1109.7 1215.8 1107.0 1213.2C1104.2 1210.5 1100.9 1208.3 1097.3 1206.7C1093.7 1205.2 1089.8 1204.2 1085.8 1204.0C1081.9 1203.8 1077.8 1204.4 1074.1 1205.5C1070.3 1206.7 1066.8 1208.6 1063.7 1211.0C1060.7 1213.4 1058.1 1216.3 1056.2 1219.5C1054.3 1222.7 1053.0 1226.3 1052.5 1229.9C1052.0 1233.5 1052.2 1237.1 1053.0 1240.5C1053.9 1243.9 1055.5 1247.1 1057.6 1249.7C1059.7 1252.4 1062.3 1254.6 1065.3 1256.2C1068.2 1257.8 1071.5 1258.7 1074.8 1258.9C1078.2 1259.2 1081.5 1258.7 1084.7 1257.5C1087.8 1256.3 1090.7 1254.5 1093.1 1252.1C1095.5 1249.7 1097.5 1246.8 1098.8 1243.6C1100.0 1240.4 1100.7 1236.8 1100.6 1233.2C1100.5 1229.7 1099.7 1226.0 1098.2 1222.6C1096.7 1219.2 1094.5 1216.1 1091.8 1213.4C1089.0 1210.7 1085.8 1208.4 1082.2 1206.8C1078.6 1205.2 1074.7 1204.3 1070.7 1204.1C1066.7 1203.8 1062.7 1204.3 1058.9 1205.4C1055.2 1206.6 1051.6 1208.4 1048.6 1210.8C1045.5 1213.2 1042.9 1216.1 1040.9 1219.3C1039.0 1222.5 1037.7 1226.0 1037.1 1229.6C1036.6 1233.2 1036.7 1236.8 1037.6 1240.2C1038.4 1243.7 1039.9 1246.8 1042.0 1249.5C1044.1 1252.3 1046.7 1254.5 1049.7 1256.1C1052.6 1257.7 1055.9 1258.7 1059.2 1258.9C1062.5 1259.2 1065.9 1258.7 1069.0 1257.6C1072.2 1256.5 1075.1 1254.6 1077.5 1252.3C1080.0 1249.9 1081.9 1247.0 1083.3 1243.8C1084.6 1240.6 1085.3 1237.1 1085.2 1233.5C1085.1 1229.9 1084.4 1226.3 1082.9 1222.9C1081.4 1219.5 1079.3 1216.3 1076.6 1213.6C1073.9 1210.8 1070.6 1208.6 1067.0 1207.0C1063.5 1205.3 1059.6 1204.3 1055.6 1204.1C1051.6 1203.8 1047.6 1204.2 1043.8 1205.4C1040.0 1206.5 1036.5 1208.3 1033.4 1210.6C1030.3 1213.0 1027.7 1215.8 1025.7 1219.0C1023.7 1222.3 1022.4 1225.8 1021.8 1229.4C1021.2 1232.9 1021.3 1236.6 1022.1 1240.0C1022.9 1243.4 1024.4 1246.6 1026.5 1249.4C1028.5 1252.1 1031.1 1254.4 1034.0 1256.0C1037.0 1257.6 1040.2 1258.6 1043.6 1258.9C1046.9 1259.2 1050.3 1258.8 1053.4 1257.7C1056.6 1256.6 1059.5 1254.8 1062.0 1252.5C1064.4 1250.1 1066.4 1247.3 1067.8 1244.1C1069.1 1240.9 1069.8 1237.3 1069.8 1233.8C1069.8 1230.2 1069.0 1226.5 1067.6 1223.1C1066.2 1219.7 1064.0 1216.5 1061.4 1213.7C1058.7 1211.0 1055.5 1208.7 1051.9 1207.1C1048.3 1205.4 1044.4 1204.4 1040.5 1204.1C1036.5 1203.8 1032.5 1204.2 1028.7 1205.3C1024.9 1206.4 1021.3 1208.1 1018.2 1210.5C1015.1 1212.8 1012.4 1215.6 1010.4 1218.8C1008.4 1222.0 1007.1 1225.5 1006.4 1229.1C1005.8 1232.7 1005.9 1236.3 1006.6 1239.8C1007.4 1243.2 1008.9 1246.4 1010.9 1249.2C1012.9 1251.9 1015.5 1254.2 1018.4 1255.9C1021.4 1257.5 1024.6 1258.6 1027.9 1258.9C1031.2 1259.2 1034.6 1258.8 1037.8 1257.8C1041.0 1256.7 1043.9 1254.9 1046.4 1252.6C1048.9 1250.3 1050.9 1247.5 1052.3 1244.3C1053.6 1241.1 1054.4 1237.6 1054.4 1234.0C1054.4 1230.4 1053.7 1226.8 1052.3 1223.4C1050.9 1219.9 1048.8 1216.7 1046.2 1213.9C1043.5 1211.2 1040.3 1208.9 1036.8 1207.2C1033.2 1205.5 1029.3 1204.5 1025.4 1204.1M1176.5 1290.0C1174.1 1290.0 1171.7 1290.6 1169.5 1291.9C1167.2 1293.1 1165.2 1295.0 1163.4 1297.2C1161.7 1299.5 1160.2 1302.3 1159.2 1305.3C1158.2 1308.3 1157.5 1311.5 1157.4 1314.7C1157.2 1318.0 1157.4 1321.2 1158.1 1324.2C1158.8 1327.2 1159.8 1330.0 1161.2 1332.3C1162.6 1334.6 1164.3 1336.4 1166.2 1337.7C1168.0 1338.9 1170.1 1339.6 1172.1 1339.6C1174.2 1339.6 1176.2 1339.0 1178.1 1337.8C1180.0 1336.5 1181.7 1334.7 1183.1 1332.4C1184.5 1330.2 1185.6 1327.4 1186.3 1324.4C1186.9 1321.5 1187.2 1318.2 1187.1 1315.0C1186.9 1311.7 1186.3 1308.5 1185.3 1305.5C1184.3 1302.5 1182.8 1299.7 1181.1 1297.4C1179.4 1295.1 1177.3 1293.2 1175.1 1292.0C1172.9 1290.7 1170.5 1290.0 1168.1 1290.0C1165.7 1290.0 1163.3 1290.6 1161.0 1291.8C1158.8 1293.0 1156.7 1294.8 1155.0 1297.1C1153.2 1299.3 1151.7 1302.1 1150.7 1305.1C1149.6 1308.0 1149.0 1311.3 1148.8 1314.5C1148.6 1317.7 1148.8 1321.0 1149.4 1324.0C1150.1 1327.0 1151.1 1329.8 1152.5 1332.1C1153.9 1334.4 1155.6 1336.3 1157.4 1337.6C1159.3 1338.9 1161.3 1339.6 1163.4 1339.6C1165.4 1339.6 1167.5 1339.0 1169.4 1337.8C1171.2 1336.7 1173.0 1334.9 1174.4 1332.6C1175.8 1330.3 1176.9 1327.6 1177.6 1324.7C1178.3 1321.7 1178.6 1318.5 1178.5 1315.2C1178.3 1312.0 1177.7 1308.7 1176.7 1305.7C1175.8 1302.7 1174.3 1299.9 1172.6 1297.6C1170.9 1295.2 1168.9 1293.4 1166.7 1292.1C1164.4 1290.8 1162.0 1290.1 1159.6 1290.0C1157.2 1289.9 1154.8 1290.5 1152.6 1291.7C1150.3 1292.9 1148.3 1294.7 1146.5 1296.9C1144.7 1299.2 1143.2 1301.9 1142.2 1304.8C1141.1 1307.8 1140.4 1311.0 1140.2 1314.3C1140.0 1317.5 1140.2 1320.8 1140.8 1323.8C1141.4 1326.8 1142.5 1329.6 1143.8 1331.9C1145.2 1334.3 1146.9 1336.2 1148.7 1337.5C1150.6 1338.8 1152.6 1339.5 1154.6 1339.6C1156.7 1339.7 1158.7 1339.1 1160.6 1337.9C1162.5 1336.8 1164.2 1335.0 1165.7 1332.8C1167.1 1330.5 1168.2 1327.8 1169.0 1324.9C1169.7 1321.9 1170.0 1318.7 1169.9 1315.4C1169.8 1312.2 1169.2 1308.9 1168.2 1305.9C1167.2 1302.9 1165.9 1300.1 1164.2 1297.7C1162.4 1295.4 1160.4 1293.5 1158.2 1292.2C1156.0 1290.8 1153.6 1290.1 1151.2 1290.0C1148.8 1289.9 1146.4 1290.5 1144.2 1291.6C1141.9 1292.8 1139.8 1294.5 1138.0 1296.8C1136.2 1299.0 1134.7 1301.7 1133.6 1304.6C1132.5 1307.6 1131.9 1310.8 1131.6 1314.0C1131.4 1317.3 1131.6 1320.5 1132.2 1323.6C1132.8 1326.6 1133.8 1329.4 1135.1 1331.8C1136.5 1334.1 1138.1 1336.1 1140.0 1337.4C1141.8 1338.7 1143.8 1339.5 1145.9 1339.6C1147.9 1339.7 1150.0 1339.2 1151.9 1338.0C1153.8 1336.9 1155.5 1335.1 1157.0 1332.9C1158.4 1330.7 1159.6 1328.0 1160.3 1325.1C1161.0 1322.1 1161.4 1318.9 1161.3 1315.7C1161.2 1312.4 1160.6 1309.2 1159.7 1306.1C1158.7 1303.1 1157.4 1300.3 1155.7 1297.9C1154.0 1295.5 1152.0 1293.6 1149.8 1292.3C1147.6 1290.9 1145.2 1290.1 1142.8 1290.0C1140.4 1289.9 1138.0 1290.4 1135.7 1291.5C1133.5 1292.7 1131.3 1294.4 1129.5 1296.6C1127.7 1298.8 1126.2 1301.5 1125.1 1304.4C1124.0 1307.4 1123.3 1310.6 1123.0 1313.8C1122.8 1317.0 1122.9 1320.3 1123.5 1323.4C1124.1 1326.4 1125.1 1329.2 1126.4 1331.6C1127.8 1334.0 1129.4 1335.9 1131.2 1337.3C1133.1 1338.7 1135.1 1339.4 1137.1 1339.6C1139.2 1339.7 1141.2 1339.2 1143.1 1338.1C1145.1 1337.0 1146.8 1335.3 1148.3 1333.1C1149.7 1330.9 1150.9 1328.2 1151.6 1325.3C1152.4 1322.4 1152.8 1319.1 1152.7 1315.9C1152.6 1312.7 1152.1 1309.4 1151.2 1306.4C1150.2 1303.3 1148.9 1300.5 1147.2 1298.1C1145.5 1295.7 1143.5 1293.7 1141.3 1292.4C1139.1 1291.0 1136.8 1290.2 1134.4 1290.0C1132.0 1289.9 1129.5 1290.4 1127.3 1291.5C1125.0 1292.6 1122.9 1294.3 1121.1 1296.4C1119.2 1298.6 1117.7 1301.3 1116.6 1304.2C1115.5 1307.1 1114.7 1310.3 1114.4 1313.6C1114.2 1316.8 1114.3 1320.1 1114.9 1323.1C1115.4 1326.2 1116.4 1329.0 1117.7 1331.4C1119.0 1333.8 1120.7 1335.8 1122.5 1337.2C1124.3 1338.6 1126.4 1339.4 1128.4 1339.6C1130.4 1339.7 1132.5 1339.3 1134.4 1338.2C1136.3 1337.1 1138.1 1335.4 1139.6 1333.2C1141.0 1331.1 1142.2 1328.4 1143.0 1325.5C1143.8 1322.6 1144.2 1319.4 1144.1 1316.1C1144.0 1312.9 1143.5 1309.6 1142.6 1306.6C1141.7 1303.5 1140.4 1300.7 1138.7 1298.3C1137.1 1295.8 1135.1 1293.9 1132.9 1292.5C1130.7 1291.0 1128.3 1290.2 1125.9 1290.0C1123.5 1289.9 1121.1 1290.3 1118.8 1291.4C1116.6 1292.5 1114.4 1294.1 1112.6 1296.3C1110.8 1298.4 1109.2 1301.1 1108.1 1304.0C1106.9 1306.9 1106.2 1310.1 1105.9 1313.3C1105.6 1316.6 1105.7 1319.8 1106.2 1322.9C1106.8 1326.0 1107.7 1328.8 1109.0 1331.3C1110.3 1333.7 1112.0 1335.7 1113.8 1337.1C1115.6 1338.5 1117.6 1339.4 1119.6 1339.6C1121.7 1339.8 1123.7 1339.3 1125.7 1338.3C1127.6 1337.2 1129.4 1335.5 1130.9 1333.4C1132.3 1331.3 1133.5 1328.6 1134.3 1325.7C1135.1 1322.8 1135.5 1319.6 1135.5 1316.4C1135.5 1313.1 1135.0 1309.9 1134.1 1306.8C1133.2 1303.7 1131.9 1300.9 1130.2 1298.4C1128.6 1296.0 1126.6 1294.0 1124.4 1292.6C1122.3 1291.1 1119.9 1290.3 1117.5 1290.1C1115.1 1289.8 1112.7 1290.3 1110.4 1291.3C1108.1 1292.3 1106.0 1294.0 1104.1 1296.1C1102.3 1298.3 1100.7 1300.9 1099.6 1303.8C1098.4 1306.7 1097.6 1309.9 1097.3 1313.1C1097.0 1316.3 1097.1 1319.6 1097.6 1322.7C1098.1 1325.8 1099.1 1328.6 1100.3 1331.1C1101.6 1333.5 1103.2 1335.5 1105.0 1337.0C1106.9 1338.4 1108.9 1339.3 1110.9 1339.5C1112.9 1339.8 1115.0 1339.4 1116.9 1338.3C1118.9 1337.3 1120.6 1335.7 1122.1 1333.6C1123.6 1331.4 1124.9 1328.8 1125.7 1325.9C1126.5 1323.0 1126.9 1319.8 1126.9 1316.6C1126.9 1313.4 1126.4 1310.1 1125.6 1307.0C1124.7 1303.9 1123.4 1301.1 1121.8 1298.6C1120.1 1296.2 1118.2 1294.1 1116.0 1292.7C1113.8 1291.2 1111.5 1290.3 1109.1 1290.1C1106.7 1289.8 1104.3 1290.2 1102.0 1291.2C1099.7 1292.2 1097.5 1293.9 1095.7 1296.0C1093.8 1298.1 1092.2 1300.7 1091.0 1303.6C1089.9 1306.5 1089.1 1309.6 1088.7 1312.9C1088.4 1316.1 1088.4 1319.4 1089.0 1322.5C1089.5 1325.6 1090.4 1328.4 1091.7 1330.9C1092.9 1333.4 1094.5 1335.4 1096.3 1336.9C1098.1 1338.4 1100.1 1339.3 1102.1 1339.5C1104.2 1339.8 1106.3 1339.4 1108.2 1338.4C1110.1 1337.4 1111.9 1335.8 1113.4 1333.7C1115.0 1331.6 1116.2 1329.0 1117.0 1326.1C1117.9 1323.2 1118.3 1320.1 1118.3 1316.8C1118.3 1313.6 1117.9 1310.3 1117.0 1307.2C1116.2 1304.2 1114.9 1301.3 1113.3 1298.8C1111.7 1296.3 1109.7 1294.3 1107.6 1292.8C1105.4 1291.3 1103.0 1290.4 1100.7 1290.1C1098.3 1289.8 1095.8 1290.2 1093.5 1291.2C1091.2 1292.1 1089.1 1293.7 1087.2 1295.8C1085.3 1297.9 1083.7 1300.5 1082.5 1303.4C1081.3 1306.2 1080.5 1309.4 1080.1 1312.6C1079.8 1315.9 1079.8 1319.2 1080.3 1322.2C1080.8 1325.3 1081.7 1328.2 1083.0 1330.7C1084.2 1333.2 1085.8 1335.3 1087.6 1336.8C1089.4 1338.3 1091.4 1339.2 1093.4 1339.5C1095.4 1339.8 1097.5 1339.4 1099.4 1338.5C1101.4 1337.5 1103.2 1335.9 1104.7 1333.9C1106.3 1331.8 1107.5 1329.2 1108.4 1326.3C1109.2 1323.5 1109.7 1320.3 1109.7 1317.1C1109.7 1313.8 1109.3 1310.6 1108.5 1307.5C1107.6 1304.4 1106.4 1301.5 1104.8 1299.0C1103.2 1296.5 1101.3 1294.4 1099.1 1292.9C1097.0 1291.4 1094.6 1290.4 1092.2 1290.1M1176.5 1375.4C1175.0 1375.4 1173.6 1376.0 1172.3 1377.1C1170.9 1378.2 1169.7 1379.8 1168.6 1381.9C1167.5 1383.9 1166.7 1386.3 1166.1 1389.0C1165.4 1391.7 1165.1 1394.6 1165.0 1397.4C1164.9 1400.3 1165.0 1403.2 1165.4 1405.9C1165.9 1408.6 1166.5 1411.0 1167.4 1413.1C1168.2 1415.1 1169.3 1416.8 1170.4 1417.9C1171.6 1419.0 1172.8 1419.6 1174.1 1419.6C1175.3 1419.6 1176.6 1419.1 1177.7 1418.0C1178.9 1416.9 1179.9 1415.2 1180.8 1413.2C1181.7 1411.2 1182.3 1408.8 1182.8 1406.1C1183.2 1403.4 1183.4 1400.5 1183.3 1397.7C1183.2 1394.8 1182.8 1391.9 1182.2 1389.2C1181.6 1386.5 1180.8 1384.1 1179.7 1382.0C1178.7 1379.9 1177.4 1378.3 1176.1 1377.2C1174.7 1376.0 1173.3 1375.4 1171.8 1375.4C1170.4 1375.4 1168.9 1375.9 1167.6 1377.0C1166.2 1378.1 1165.0 1379.7 1163.9 1381.7C1162.9 1383.7 1162.0 1386.2 1161.3 1388.8C1160.7 1391.5 1160.3 1394.4 1160.2 1397.2C1160.1 1400.1 1160.3 1403.0 1160.7 1405.7C1161.1 1408.4 1161.7 1410.9 1162.6 1412.9C1163.4 1415.0 1164.4 1416.7 1165.6 1417.8C1166.7 1418.9 1168.0 1419.6 1169.2 1419.6C1170.5 1419.6 1171.7 1419.1 1172.9 1418.0C1174.0 1417.0 1175.1 1415.4 1176.0 1413.4C1176.8 1411.4 1177.5 1408.9 1178.0 1406.3C1178.4 1403.6 1178.6 1400.8 1178.5 1397.9C1178.4 1395.0 1178.1 1392.1 1177.5 1389.4C1176.9 1386.7 1176.1 1384.2 1175.0 1382.2C1174.0 1380.1 1172.8 1378.4 1171.4 1377.2C1170.1 1376.1 1168.6 1375.5 1167.2 1375.4C1165.7 1375.3 1164.3 1375.9 1162.9 1376.9C1161.6 1378.0 1160.3 1379.6 1159.2 1381.6C1158.2 1383.6 1157.3 1386.0 1156.6 1388.6C1156.0 1391.3 1155.6 1394.1 1155.5 1397.0C1155.3 1399.9 1155.5 1402.8 1155.9 1405.5C1156.3 1408.2 1156.9 1410.7 1157.7 1412.8C1158.6 1414.9 1159.6 1416.6 1160.7 1417.7C1161.9 1418.9 1163.1 1419.5 1164.4 1419.6C1165.6 1419.7 1166.9 1419.2 1168.0 1418.1C1169.2 1417.1 1170.3 1415.5 1171.2 1413.5C1172.0 1411.5 1172.7 1409.1 1173.2 1406.5C1173.6 1403.8 1173.8 1401.0 1173.8 1398.1C1173.7 1395.2 1173.4 1392.3 1172.8 1389.6C1172.2 1386.9 1171.4 1384.4 1170.3 1382.3C1169.3 1380.2 1168.1 1378.5 1166.8 1377.3C1165.4 1376.1 1164.0 1375.5 1162.5 1375.4C1161.1 1375.3 1159.6 1375.8 1158.3 1376.8C1156.9 1377.9 1155.6 1379.4 1154.6 1381.4C1153.5 1383.4 1152.6 1385.8 1151.9 1388.4C1151.3 1391.1 1150.9 1393.9 1150.7 1396.8C1150.6 1399.7 1150.7 1402.6 1151.1 1405.3C1151.5 1408.0 1152.1 1410.5 1152.9 1412.6C1153.7 1414.7 1154.8 1416.4 1155.9 1417.6C1157.0 1418.8 1158.3 1419.5 1159.5 1419.6C1160.8 1419.7 1162.0 1419.2 1163.2 1418.2C1164.4 1417.2 1165.4 1415.6 1166.3 1413.7C1167.2 1411.7 1167.9 1409.3 1168.4 1406.7C1168.8 1404.0 1169.1 1401.2 1169.0 1398.3C1169.0 1395.4 1168.6 1392.5 1168.1 1389.8C1167.5 1387.1 1166.7 1384.6 1165.7 1382.5C1164.6 1380.3 1163.4 1378.6 1162.1 1377.4C1160.8 1376.2 1159.3 1375.5 1157.9 1375.4C1156.4 1375.3 1155.0 1375.8 1153.6 1376.8C1152.2 1377.8 1151.0 1379.3 1149.9 1381.3C1148.8 1383.2 1147.9 1385.6 1147.2 1388.2C1146.5 1390.9 1146.1 1393.7 1146.0 1396.6C1145.8 1399.5 1145.9 1402.4 1146.3 1405.1C1146.7 1407.8 1147.3 1410.3 1148.1 1412.5C1148.9 1414.6 1149.9 1416.3 1151.1 1417.5C1152.2 1418.8 1153.4 1419.5 1154.7 1419.6C1155.9 1419.7 1157.2 1419.3 1158.4 1418.3C1159.5 1417.3 1160.6 1415.7 1161.5 1413.8C1162.4 1411.8 1163.1 1409.5 1163.6 1406.9C1164.1 1404.2 1164.3 1401.4 1164.3 1398.5C1164.2 1395.6 1163.9 1392.7 1163.4 1390.0C1162.8 1387.3 1162.0 1384.7 1161.0 1382.6C1160.0 1380.5 1158.8 1378.7 1157.4 1377.5C1156.1 1376.3 1154.7 1375.6 1153.2 1375.4C1151.8 1375.3 1150.3 1375.7 1148.9 1376.7C1147.6 1377.7 1146.3 1379.2 1145.2 1381.1C1144.1 1383.1 1143.2 1385.4 1142.5 1388.1C1141.8 1390.7 1141.4 1393.5 1141.2 1396.4C1141.1 1399.3 1141.2 1402.2 1141.5 1404.9C1141.9 1407.6 1142.5 1410.2 1143.3 1412.3C1144.1 1414.5 1145.1 1416.2 1146.2 1417.5C1147.3 1418.7 1148.6 1419.4 1149.8 1419.6C1151.1 1419.7 1152.3 1419.3 1153.5 1418.3C1154.7 1417.4 1155.8 1415.9 1156.7 1413.9C1157.6 1412.0 1158.3 1409.6 1158.8 1407.0C1159.3 1404.4 1159.5 1401.6 1159.5 1398.7C1159.5 1395.8 1159.2 1392.9 1158.6 1390.2C1158.1 1387.4 1157.3 1384.9 1156.3 1382.8C1155.3 1380.6 1154.1 1378.8 1152.8 1377.6C1151.4 1376.3 1150.0 1375.6 1148.6 1375.4C1147.1 1375.3 1145.7 1375.7 1144.3 1376.6C1142.9 1377.6 1141.6 1379.1 1140.5 1381.0C1139.4 1382.9 1138.5 1385.3 1137.8 1387.9C1137.1 1390.5 1136.6 1393.3 1136.5 1396.2C1136.3 1399.1 1136.4 1402.0 1136.7 1404.7C1137.1 1407.5 1137.7 1410.0 1138.5 1412.2C1139.3 1414.3 1140.3 1416.1 1141.4 1417.4C1142.5 1418.6 1143.7 1419.4 1145.0 1419.6C1146.2 1419.7 1147.5 1419.3 1148.7 1418.4C1149.8 1417.5 1150.9 1416.0 1151.9 1414.1C1152.8 1412.2 1153.5 1409.8 1154.0 1407.2C1154.5 1404.6 1154.8 1401.8 1154.7 1398.9C1154.7 1396.0 1154.4 1393.1 1153.9 1390.4C1153.4 1387.6 1152.6 1385.1 1151.6 1382.9C1150.6 1380.7 1149.4 1379.0 1148.1 1377.7C1146.8 1376.4 1145.4 1375.6 1143.9 1375.4C1142.5 1375.3 1141.0 1375.6 1139.6 1376.6C1138.2 1377.5 1136.9 1379.0 1135.8 1380.9C1134.7 1382.8 1133.8 1385.1 1133.1 1387.7C1132.4 1390.3 1131.9 1393.1 1131.7 1396.0C1131.5 1398.9 1131.6 1401.8 1131.9 1404.5C1132.3 1407.3 1132.9 1409.8 1133.6 1412.0C1134.4 1414.2 1135.4 1416.0 1136.5 1417.3C1137.6 1418.6 1138.9 1419.3 1140.1 1419.5C1141.4 1419.7 1142.6 1419.4 1143.8 1418.5C1145.0 1417.6 1146.1 1416.1 1147.0 1414.2C1148.0 1412.3 1148.7 1410.0 1149.2 1407.4C1149.7 1404.8 1150.0 1402.0 1150.0 1399.1C1150.0 1396.2 1149.7 1393.3 1149.2 1390.6C1148.7 1387.8 1147.9 1385.3 1146.9 1383.1C1145.9 1380.9 1144.7 1379.1 1143.4 1377.8C1142.1 1376.5 1140.7 1375.7 1139.3 1375.5C1137.8 1375.2 1136.3 1375.6 1135.0 1376.5C1133.6 1377.4 1132.3 1378.8 1131.2 1380.7C1130.0 1382.6 1129.1 1384.9 1128.4 1387.5C1127.7 1390.1 1127.2 1392.9 1127.0 1395.8C1126.8 1398.7 1126.8 1401.6 1127.2 1404.3C1127.5 1407.1 1128.0 1409.6 1128.8 1411.8C1129.6 1414.0 1130.6 1415.9 1131.7 1417.2C1132.8 1418.5 1134.0 1419.3 1135.3 1419.5C1136.5 1419.8 1137.8 1419.4 1139.0 1418.5C1140.2 1417.6 1141.3 1416.2 1142.2 1414.3C1143.1 1412.5 1143.9 1410.2 1144.4 1407.6C1144.9 1405.0 1145.2 1402.2 1145.2 1399.3C1145.2 1396.4 1145.0 1393.5 1144.5 1390.8C1144.0 1388.0 1143.2 1385.4 1142.2 1383.2C1141.2 1381.0 1140.1 1379.2 1138.8 1377.9C1137.5 1376.5 1136.0 1375.7 1134.6 1375.5C1133.2 1375.2 1131.7 1375.6 1130.3 1376.4C1128.9 1377.3 1127.6 1378.7 1126.5 1380.6C1125.3 1382.4 1124.4 1384.7 1123.7 1387.3C1122.9 1389.9 1122.4 1392.7 1122.2 1395.6C1122.0 1398.5 1122.1 1401.4 1122.4 1404.1C1122.7 1406.9 1123.2 1409.5 1124.0 1411.7C1124.8 1413.9 1125.8 1415.7 1126.9 1417.1C1128.0 1418.4 1129.2 1419.3 1130.4 1419.5C1131.7 1419.8 1132.9 1419.5 1134.1 1418.6C1135.3 1417.7 1136.4 1416.3 1137.4 1414.5C1138.3 1412.6 1139.1 1410.3 1139.6 1407.8C1140.1 1405.2 1140.4 1402.4 1140.5 1399.5C1140.5 1396.7 1140.2 1393.7 1139.7 1391.0C1139.2 1388.2 1138.5 1385.6 1137.5 1383.4C1136.6 1381.2 1135.4 1379.3 1134.1 1378.0C1132.8 1376.6 1131.4 1375.8 1129.9 1375.5M1176.5 1461.0C1175.6 1461.0 1174.6 1461.5 1173.7 1462.5C1172.9 1463.5 1172.1 1465.0 1171.4 1466.8C1170.7 1468.6 1170.1 1470.9 1169.7 1473.3C1169.3 1475.7 1169.1 1478.3 1169.0 1480.9C1169.0 1483.5 1169.1 1486.1 1169.4 1488.5C1169.7 1490.9 1170.1 1493.1 1170.7 1494.9C1171.3 1496.8 1171.9 1498.2 1172.7 1499.3C1173.5 1500.3 1174.3 1500.8 1175.1 1500.8C1176.0 1500.8 1176.8 1500.3 1177.6 1499.3C1178.3 1498.3 1179.0 1496.9 1179.6 1495.1C1180.2 1493.2 1180.6 1491.0 1180.9 1488.6C1181.2 1486.2 1181.3 1483.6 1181.3 1481.0C1181.2 1478.4 1181.0 1475.8 1180.6 1473.4C1180.2 1471.0 1179.7 1468.8 1179.0 1466.9C1178.3 1465.1 1177.5 1463.6 1176.7 1462.6C1175.8 1461.6 1174.8 1461.0 1173.9 1461.0C1173.0 1461.0 1172.0 1461.5 1171.1 1462.4C1170.3 1463.4 1169.4 1464.9 1168.8 1466.7C1168.1 1468.5 1167.5 1470.7 1167.1 1473.1C1166.7 1475.5 1166.4 1478.1 1166.4 1480.7C1166.3 1483.3 1166.4 1485.9 1166.7 1488.3C1167.0 1490.7 1167.4 1492.9 1168.0 1494.8C1168.5 1496.7 1169.2 1498.2 1170.0 1499.2C1170.7 1500.2 1171.6 1500.8 1172.4 1500.8C1173.2 1500.8 1174.1 1500.4 1174.8 1499.4C1175.6 1498.4 1176.3 1497.0 1176.9 1495.2C1177.5 1493.4 1177.9 1491.2 1178.2 1488.8C1178.5 1486.4 1178.7 1483.8 1178.6 1481.2C1178.6 1478.6 1178.4 1476.0 1178.0 1473.6C1177.6 1471.2 1177.1 1469.0 1176.4 1467.1C1175.7 1465.2 1174.9 1463.7 1174.0 1462.7C1173.2 1461.6 1172.2 1461.1 1171.3 1461.0C1170.4 1461.0 1169.4 1461.4 1168.5 1462.4C1167.6 1463.3 1166.8 1464.7 1166.1 1466.5C1165.4 1468.4 1164.9 1470.5 1164.5 1472.9C1164.0 1475.3 1163.8 1477.9 1163.7 1480.5C1163.6 1483.1 1163.7 1485.7 1164.0 1488.1C1164.3 1490.5 1164.7 1492.8 1165.3 1494.7C1165.8 1496.5 1166.5 1498.1 1167.3 1499.1C1168.0 1500.2 1168.8 1500.7 1169.7 1500.8C1170.5 1500.9 1171.3 1500.4 1172.1 1499.5C1172.9 1498.5 1173.6 1497.1 1174.2 1495.3C1174.8 1493.5 1175.2 1491.4 1175.5 1489.0C1175.8 1486.6 1176.0 1484.0 1176.0 1481.4C1175.9 1478.8 1175.7 1476.2 1175.3 1473.8C1175.0 1471.3 1174.4 1469.1 1173.8 1467.2C1173.1 1465.3 1172.3 1463.8 1171.4 1462.7C1170.6 1461.7 1169.6 1461.1 1168.7 1461.0C1167.8 1460.9 1166.8 1461.4 1165.9 1462.3C1165.0 1463.2 1164.2 1464.6 1163.5 1466.4C1162.8 1468.2 1162.2 1470.4 1161.8 1472.7C1161.4 1475.1 1161.1 1477.7 1161.0 1480.3C1161.0 1482.9 1161.1 1485.5 1161.3 1487.9C1161.6 1490.4 1162.0 1492.6 1162.6 1494.5C1163.1 1496.4 1163.8 1498.0 1164.5 1499.0C1165.3 1500.1 1166.1 1500.7 1166.9 1500.8C1167.8 1500.9 1168.6 1500.4 1169.4 1499.5C1170.2 1498.6 1170.9 1497.2 1171.5 1495.4C1172.1 1493.7 1172.5 1491.5 1172.8 1489.1C1173.2 1486.8 1173.3 1484.2 1173.3 1481.6C1173.3 1479.0 1173.1 1476.4 1172.7 1473.9C1172.3 1471.5 1171.8 1469.3 1171.1 1467.4C1170.5 1465.4 1169.7 1463.9 1168.8 1462.8C1168.0 1461.7 1167.0 1461.1 1166.1 1461.0C1165.1 1460.9 1164.2 1461.3 1163.3 1462.2C1162.4 1463.1 1161.6 1464.5 1160.9 1466.3C1160.2 1468.1 1159.6 1470.2 1159.2 1472.6C1158.7 1474.9 1158.5 1477.5 1158.4 1480.1C1158.3 1482.7 1158.4 1485.3 1158.6 1487.8C1158.9 1490.2 1159.3 1492.5 1159.8 1494.4C1160.4 1496.3 1161.1 1497.9 1161.8 1499.0C1162.6 1500.0 1163.4 1500.7 1164.2 1500.8C1165.0 1500.9 1165.9 1500.5 1166.7 1499.6C1167.4 1498.7 1168.2 1497.3 1168.8 1495.6C1169.4 1493.8 1169.8 1491.7 1170.2 1489.3C1170.5 1487.0 1170.6 1484.4 1170.6 1481.8C1170.6 1479.2 1170.4 1476.6 1170.1 1474.1C1169.7 1471.7 1169.2 1469.4 1168.5 1467.5C1167.9 1465.6 1167.1 1464.0 1166.2 1462.9C1165.4 1461.8 1164.4 1461.1 1163.5 1461.0C1162.5 1460.9 1161.6 1461.3 1160.7 1462.2C1159.8 1463.1 1159.0 1464.4 1158.3 1466.2C1157.6 1467.9 1157.0 1470.0 1156.5 1472.4C1156.1 1474.7 1155.8 1477.3 1155.7 1479.9C1155.6 1482.5 1155.7 1485.1 1155.9 1487.6C1156.2 1490.0 1156.6 1492.3 1157.1 1494.2C1157.7 1496.2 1158.3 1497.8 1159.1 1498.9C1159.8 1500.0 1160.7 1500.6 1161.5 1500.8C1162.3 1500.9 1163.2 1500.5 1163.9 1499.7C1164.7 1498.8 1165.4 1497.4 1166.0 1495.7C1166.6 1494.0 1167.1 1491.8 1167.5 1489.5C1167.8 1487.1 1168.0 1484.6 1167.9 1482.0C1167.9 1479.4 1167.8 1476.8 1167.4 1474.3C1167.1 1471.8 1166.5 1469.6 1165.9 1467.6C1165.2 1465.7 1164.5 1464.1 1163.6 1463.0C1162.8 1461.8 1161.8 1461.2 1160.9 1461.0C1159.9 1460.9 1159.0 1461.3 1158.1 1462.1C1157.2 1463.0 1156.4 1464.3 1155.7 1466.0C1154.9 1467.8 1154.3 1469.9 1153.9 1472.2C1153.5 1474.6 1153.2 1477.1 1153.1 1479.7C1153.0 1482.3 1153.0 1485.0 1153.3 1487.4C1153.5 1489.9 1153.9 1492.2 1154.4 1494.1C1155.0 1496.0 1155.6 1497.7 1156.4 1498.8C1157.1 1499.9 1157.9 1500.6 1158.8 1500.8C1159.6 1500.9 1160.4 1500.6 1161.2 1499.7C1162.0 1498.9 1162.7 1497.5 1163.3 1495.8C1163.9 1494.1 1164.4 1492.0 1164.8 1489.7C1165.1 1487.3 1165.3 1484.8 1165.3 1482.2C1165.3 1479.6 1165.1 1476.9 1164.8 1474.5C1164.4 1472.0 1163.9 1469.7 1163.3 1467.8C1162.6 1465.8 1161.9 1464.2 1161.0 1463.1C1160.2 1461.9 1159.2 1461.2 1158.3 1461.0C1157.3 1460.9 1156.4 1461.2 1155.5 1462.0C1154.6 1462.9 1153.8 1464.2 1153.0 1465.9C1152.3 1467.6 1151.7 1469.7 1151.3 1472.1C1150.8 1474.4 1150.5 1476.9 1150.4 1479.5C1150.3 1482.1 1150.3 1484.8 1150.6 1487.2C1150.8 1489.7 1151.2 1492.0 1151.7 1494.0C1152.2 1495.9 1152.9 1497.5 1153.6 1498.7C1154.4 1499.9 1155.2 1500.6 1156.0 1500.8C1156.9 1500.9 1157.7 1500.6 1158.5 1499.8C1159.3 1499.0 1160.0 1497.6 1160.6 1495.9C1161.2 1494.2 1161.7 1492.2 1162.1 1489.8C1162.4 1487.5 1162.6 1484.9 1162.6 1482.4C1162.6 1479.8 1162.5 1477.1 1162.1 1474.7C1161.8 1472.2 1161.3 1469.9 1160.6 1467.9C1160.0 1465.9 1159.2 1464.3 1158.4 1463.1C1157.6 1462.0 1156.6 1461.3 1155.7 1461.1C1154.7 1460.9 1153.8 1461.2 1152.9 1462.0C1152.0 1462.8 1151.1 1464.1 1150.4 1465.8C1149.7 1467.5 1149.1 1469.6 1148.6 1471.9C1148.2 1474.2 1147.9 1476.8 1147.7 1479.4C1147.6 1481.9 1147.7 1484.6 1147.9 1487.1C1148.1 1489.5 1148.5 1491.8 1149.0 1493.8C1149.5 1495.8 1150.2 1497.4 1150.9 1498.6C1151.7 1499.8 1152.5 1500.5 1153.3 1500.7C1154.1 1500.9 1155.0 1500.6 1155.8 1499.8C1156.5 1499.0 1157.3 1497.8 1157.9 1496.1C1158.5 1494.4 1159.0 1492.3 1159.4 1490.0C1159.7 1487.7 1159.9 1485.1 1159.9 1482.5C1160.0 1479.9 1159.8 1477.3 1159.5 1474.8C1159.1 1472.4 1158.7 1470.0 1158.0 1468.1C1157.4 1466.1 1156.6 1464.4 1155.8 1463.2C1154.9 1462.0 1154.0 1461.3 1153.1 1461.1C1152.1 1460.9 1151.2 1461.1 1150.3 1461.9C1149.4 1462.7 1148.5 1464.0 1147.8 1465.7C1147.1 1467.3 1146.4 1469.4 1146.0 1471.7C1145.5 1474.0 1145.2 1476.6 1145.1 1479.2C1144.9 1481.8 1145.0 1484.4 1145.2 1486.9C1145.4 1489.4 1145.8 1491.7 1146.3 1493.7C1146.8 1495.7 1147.5 1497.3 1148.2 1498.5C1148.9 1499.7 1149.7 1500.5 1150.6 1500.7C1151.4 1501.0 1152.2 1500.7 1153.0 1499.9C1153.8 1499.1 1154.6 1497.9 1155.2 1496.2C1155.8 1494.5 1156.3 1492.5 1156.7 1490.2C1157.0 1487.9 1157.2 1485.3 1157.3 1482.7C1157.3 1480.1 1157.1 1477.5 1156.8 1475.0C1156.5 1472.5 1156.0 1470.2 1155.4 1468.2C1154.8 1466.2 1154.0 1464.5 1153.2 1463.3C1152.3 1462.1 1151.4 1461.3 1150.5 1461.1" stroke-dasharray="2.8 0.28"/>
<path d="M1176.5 947.5C1158.4 947.5 1140.3 948.4 1123.4 950.1C1106.5 951.8 1090.8 954.3 1077.5 957.5C1064.1 960.6 1053.0 964.4 1044.9 968.5C1036.7 972.6 1031.6 977.1 1029.7 981.5C1027.7 986.0 1029.1 990.4 1033.3 994.6C1037.6 998.7 1044.9 1002.5 1054.5 1005.6C1064.0 1008.8 1075.9 1011.3 1089.0 1013.1C1102.1 1014.8 1116.4 1015.7 1130.8 1015.7C1145.1 1015.7 1159.5 1014.9 1172.7 1013.2C1185.8 1011.5 1197.8 1009.0 1207.4 1005.9C1217.1 1002.7 1224.5 999.0 1228.9 994.9C1233.4 990.7 1234.8 986.3 1233.1 981.8C1231.3 977.4 1226.3 972.9 1218.3 968.8C1210.3 964.7 1199.4 960.9 1186.1 957.7C1172.8 954.5 1157.3 952.0 1140.4 950.2C1123.6 948.5 1105.5 947.5 1087.4 947.5C1069.3 947.5 1051.1 948.3 1034.2 950.0C1017.2 951.6 1001.5 954.1 988.0 957.2C974.5 960.4 963.3 964.1 955.0 968.2C946.8 972.3 941.5 976.7 939.4 981.2C937.3 985.7 938.5 990.1 942.6 994.3C946.8 998.4 953.9 1002.2 963.4 1005.4C972.8 1008.6 984.6 1011.2 997.6 1012.9C1010.7 1014.7 1025.0 1015.6 1039.3 1015.7C1053.7 1015.8 1068.1 1014.9 1081.3 1013.3C1094.5 1011.6 1106.6 1009.2 1116.3 1006.1C1126.1 1003.0 1133.6 999.2 1138.2 995.1C1142.8 991.1 1144.4 986.6 1142.8 982.2C1141.2 977.7 1136.3 973.2 1128.5 969.1C1120.7 964.9 1109.8 961.1 1096.7 957.9C1083.5 954.7 1068.0 952.1 1051.3 950.3C1034.5 948.6 1016.4 947.6 998.3 947.5C980.2 947.4 962.0 948.2 945.0 949.8C928.0 951.5 912.2 953.9 898.6 957.0C885.0 960.1 873.6 963.8 865.2 967.9C856.8 972.0 851.4 976.4 849.2 980.9C846.9 985.3 847.9 989.8 851.9 994.0C856.0 998.1 863.0 1001.9 872.3 1005.2C881.7 1008.4 893.3 1011.0 906.3 1012.8C919.3 1014.6 933.6 1015.6 947.9 1015.7C962.3 1015.8 976.7 1015.0 990.0 1013.4C1003.2 1011.8 1015.3 1009.4 1025.2 1006.3C1035.1 1003.2 1042.8 999.5 1047.5 995.4C1052.2 991.4 1054.0 986.9 1052.5 982.5C1051.0 978.0 1046.4 973.6 1038.7 969.4C1031.0 965.2 1020.3 961.4 1007.2 958.1C994.2 954.9 978.8 952.3 962.1 950.5C945.4 948.7 927.3 947.6 909.2 947.5C891.1 947.4 872.9 948.1 855.8 949.7C838.8 951.3 822.9 953.7 809.2 956.8C795.5 959.8 784.0 963.5 775.5 967.6C766.9 971.7 761.3 976.1 758.9 980.6C756.6 985.0 757.4 989.5 761.3 993.7C765.1 997.8 772.0 1001.7 781.2 1004.9C790.5 1008.2 802.1 1010.8 815.0 1012.7C827.9 1014.5 842.1 1015.5 856.5 1015.7C870.8 1015.8 885.3 1015.1 898.6 1013.5C911.9 1012.0 924.1 1009.6 934.1 1006.5C944.1 1003.5 951.9 999.8 956.7 995.7C961.6 991.7 963.5 987.3 962.2 982.8C960.9 978.4 956.4 973.9 948.8 969.7C941.3 965.5 930.7 961.6 917.7 958.4C904.8 955.1 889.5 952.5 872.9 950.6C856.2 948.7 838.2 947.7 820.1 947.5C802.0 947.4 783.8 948.1 766.7 949.6C749.6 951.2 733.6 953.5 719.8 956.6C706.0 959.6 694.4 963.3 685.7 967.3C677.0 971.4 671.2 975.8 668.7 980.2C666.2 984.7 666.9 989.2 670.6 993.4C674.3 997.5 681.1 1001.4 690.2 1004.7C699.3 1008.0 710.8 1010.7 723.6 1012.5C736.5 1014.4 750.7 1015.5 765.0 1015.7C779.4 1015.9 793.9 1015.2 807.2 1013.6C820.6 1012.1 832.9 1009.8 843.0 1006.7C853.1 1003.7 861.0 1000.1 866.0 996.0C871.0 992.0 873.0 987.6 871.9 983.1C870.7 978.7 866.4 974.2 858.9 970.0C851.5 965.8 841.1 961.9 828.3 958.6C815.4 955.3 800.2 952.6 783.7 950.7C767.1 948.8 749.1 947.7 731.0 947.5C712.9 947.3 694.7 948.0 677.5 949.5C660.3 951.0 644.3 953.4 630.4 956.4C616.5 959.3 604.7 963.0 595.9 967.0C587.1 971.1 581.2 975.5 578.5 979.9C575.8 984.4 576.4 988.9 579.9 993.1C583.5 997.3 590.1 1001.2 599.1 1004.5C608.1 1007.8 619.5 1010.5 632.3 1012.4C645.1 1014.3 659.3 1015.4 673.6 1015.7C687.9 1015.9 702.4 1015.2 715.9 1013.7C729.3 1012.3 741.7 1009.9 751.9 1007.0C762.0 1004.0 770.1 1000.3 775.2 996.3C780.3 992.3 782.6 987.9 781.6 983.4C780.6 979.0 776.3 974.5 769.1 970.3C761.8 966.1 751.5 962.2 738.8 958.9C726.1 955.5 711.0 952.8 694.5 950.9C677.9 948.9 660.0 947.8 641.9 947.6C623.8 947.3 605.6 947.9 588.4 949.4C571.1 950.9 555.0 953.2 541.0 956.1C527.0 959.1 515.1 962.7 506.1 966.7C497.2 970.7 491.1 975.1 488.3 979.6C485.5 984.0 485.8 988.5 489.3 992.8C492.7 997.0 499.2 1000.9 508.1 1004.2C517.0 1007.6 528.3 1010.3 541.0 1012.3C553.7 1014.2 567.8 1015.4 582.2 1015.6C596.5 1015.9 611.0 1015.3 624.5 1013.9C638.0 1012.4 650.4 1010.1 660.7 1007.2C671.0 1004.2 679.2 1000.6 684.4 996.6C689.7 992.6 692.1 988.2 691.2 983.8C690.4 979.3 686.3 974.8 679.2 970.6C672.1 966.4 661.9 962.4 649.3 959.1C636.7 955.8 621.7 953.0 605.2 951.0C588.8 949.0 570.9 947.9 552.8 947.6C534.8 947.3 516.5 947.9 499.2 949.3C481.9 950.7 465.7 953.0 451.6 955.9C437.5 958.9 425.5 962.5 416.4 966.4C407.3 970.4 401.1 974.8 398.1 979.3C395.1 983.7 395.3 988.2 398.6 992.4C401.9 996.7 408.3 1000.6 417.0 1004.0C425.8 1007.3 437.0 1010.1 449.7 1012.1C462.3 1014.1 476.4 1015.3 490.7 1015.6C505.1 1015.9 519.6 1015.4 533.1 1014.0C546.7 1012.5 559.2 1010.3 569.6 1007.4C580.0 1004.5 588.3 1000.9 593.7 996.9C599.1 992.9 601.6 988.5 600.9 984.1C600.2 979.6 596.3 975.1 589.3 970.9C582.3 966.7 572.3 962.7 559.8 959.3C547.3 956.0 532.4 953.2 516.0 951.2C499.6 949.2 481.8 947.9 463.7 947.6C445.7 947.3 427.4 947.8 410.0 949.2C392.7 950.6 376.4 952.8 362.2 955.7C348.0 958.6 335.9 962.2 326.7 966.2C317.4 970.1 311.1 974.5 307.9 979.0C304.8 983.4 304.9 987.9 308.0 992.1C311.1 996.4 317.3 1000.3 326.0 1003.7C334.7 1007.1 345.8 1009.9 358.4 1012.0C371.0 1014.0 385.0 1015.2 399.3 1015.6C413.6 1015.9 428.2 1015.4 441.8 1014.1C455.3 1012.7 467.9 1010.5 478.4 1007.6C488.9 1004.7 497.3 1001.1 502.9 997.2C508.4 993.2 511.1 988.9 510.5 984.4C510.0 980.0 506.2 975.5 499.4 971.2C492.6 967.0 482.7 963.0 470.3 959.6C457.9 956.2 443.1 953.4 426.8 951.3C410.5 949.3 392.7 948.0 374.6 947.6C356.6 947.2 338.3 947.7 320.9 949.1C303.5 950.4 287.1 952.6 272.8 955.5C258.5 958.4 246.3 961.9 236.9 965.9C227.6 969.8 221.1 974.2 217.8 978.6C214.5 983.1 214.4 987.6 217.4 991.8C220.4 996.1 226.4 1000.1 235.0 1003.5C243.5 1006.9 254.6 1009.8 267.1 1011.8C279.6 1013.9 293.6 1015.2 307.9 1015.6C322.2 1016.0 336.8 1015.5 350.4 1014.2C364.0 1012.8 376.7 1010.7 387.3 1007.8C397.9 1004.9 406.4 1001.4 412.1 997.5C417.7 993.5 420.6 989.2 420.2 984.7C419.8 980.3 416.2 975.8 409.5 971.5C402.8 967.3 393.0 963.3 380.8 959.8C368.5 956.4 353.8 953.5 337.6 951.5C321.3 949.4 303.6 948.1 285.6 947.7" stroke-dasharray="5.8 5.0"/>
</g>
<g fill="none" stroke="#ffff00" stroke-width="2.3"><circle cx="1176.5" cy="947.5" r="9.8"/><circle cx="1086.1" cy="947.5" r="9.8"/><circle cx="995.7" cy="947.5" r="9.8"/><circle cx="905.3" cy="947.5" r="9.8"/><circle cx="814.9" cy="947.5" r="9.8"/><circle cx="724.5" cy="947.5" r="9.8"/><circle cx="634.1" cy="947.5" r="9.8"/><circle cx="543.7" cy="947.5" r="9.8"/><circle cx="453.3" cy="947.5" r="9.8"/><circle cx="362.9" cy="947.5" r="9.8"/><circle cx="1176.5" cy="1035.0" r="9.8"/><circle cx="1126.8" cy="1035.0" r="9.8"/><circle cx="1077.0" cy="1035.0" r="9.8"/><circle cx="1027.2" cy="1035.0" r="9.8"/><circle cx="977.5" cy="1035.0" r="9.8"/><circle cx="927.8" cy="1035.0" r="9.8"/><circle cx="878.0" cy="1035.0" r="9.8"/><circle cx="828.2" cy="1035.0" r="9.8"/><circle cx="778.5" cy="1035.0" r="9.8"/><circle cx="728.8" cy="1035.0" r="9.8"/><circle cx="1176.5" cy="1119.0" r="9.8"/><circle cx="1148.4" cy="1119.0" r="9.8"/><circle cx="1120.3" cy="1119.0" r="9.8"/><circle cx="1092.2" cy="1119.0" r="9.8"/><circle cx="1064.1" cy="1119.0" r="9.8"/><circle cx="1036.0" cy="1119.0" r="9.8"/><circle cx="1007.9" cy="1119.0" r="9.8"/><circle cx="979.8" cy="1119.0" r="9.8"/><circle cx="951.7" cy="1119.0" r="9.8"/><circle cx="923.6" cy="1119.0" r="9.8"/><circle cx="1176.5" cy="1204.0" r="9.8"/><circle cx="1161.1" cy="1204.0" r="9.8"/><circle cx="1145.7" cy="1204.0" r="9.8"/><circle cx="1130.3" cy="1204.0" r="9.8"/><circle cx="1114.9" cy="1204.0" r="9.8"/><circle cx="1099.5" cy="1204.0" r="9.8"/><circle cx="1084.1" cy="1204.0" r="9.8"/><circle cx="1068.7" cy="1204.0" r="9.8"/><circle cx="1053.3" cy="1204.0" r="9.8"/><circle cx="1037.9" cy="1204.0" r="9.8"/><circle cx="1176.5" cy="1290.0" r="9.8"/><circle cx="1167.9" cy="1290.0" r="9.8"/><circle cx="1159.3" cy="1290.0" r="9.8"/><circle cx="1150.7" cy="1290.0" r="9.8"/><circle cx="1142.1" cy="1290.0" r="9.8"/><circle cx="1133.5" cy="1290.0" r="9.8"/><circle cx="1124.9" cy="1290.0" r="9.8"/><circle cx="1116.3" cy="1290.0" r="9.8"/><circle cx="1107.7" cy="1290.0" r="9.8"/><circle cx="1099.1" cy="1290.0" r="9.8"/></g>
<path d="M1161.8 947.5h29.4M1176.5 932.8v29.4M1161.8 1035.0h29.4M1176.5 1020.3v29.4M1161.8 1119.0h29.4M1176.5 1104.3v29.4M1161.8 1204.0h29.4M1176.5 1189.3v29.4M1161.8 1290.0h29.4M1176.5 1275.3v29.4M1161.8 1375.4h29.4M1176.5 1360.7v29.4M1161.8 1461.0h29.4M1176.5 1446.3v29.4" stroke="#ff0000" stroke-width="9.7" fill="none"/>
<g fill="none" stroke="#ffff00" stroke-width="2.3"><circle cx="1176.5" cy="1375.4" r="9.8"/><circle cx="1171.7" cy="1375.4" r="9.8"/><circle cx="1167.0" cy="1375.4" r="9.8"/><circle cx="1162.2" cy="1375.4" r="9.8"/><circle cx="1157.5" cy="1375.4" r="9.8"/><circle cx="1152.7" cy="1375.4" r="9.8"/><circle cx="1147.9" cy="1375.4" r="9.8"/><circle cx="1143.2" cy="1375.4" r="9.8"/><circle cx="1138.4" cy="1375.4" r="9.8"/><circle cx="1133.7" cy="1375.4" r="9.8"/><circle cx="1176.5" cy="1461.0" r="9.8"/><circle cx="1173.8" cy="1461.0" r="9.8"/><circle cx="1171.2" cy="1461.0" r="9.8"/><circle cx="1168.5" cy="1461.0" r="9.8"/><circle cx="1165.8" cy="1461.0" r="9.8"/><circle cx="1163.2" cy="1461.0" r="9.8"/><circle cx="1160.5" cy="1461.0" r="9.8"/><circle cx="1157.8" cy="1461.0" r="9.8"/><circle cx="1155.1" cy="1461.0" r="9.8"/><circle cx="1152.5" cy="1461.0" r="9.8"/></g>
<g fill="#ff0000" stroke="#ffff00" stroke-width="2.3"><circle cx="1176.5" cy="947.5" r="9.8"/><circle cx="1176.5" cy="1204.0" r="9.8"/></g>
<path d="M286.5 932.5L298.0 947.5L286.5 962.5L275.0 947.5ZM687.5 1020.0L699.0 1035.0L687.5 1050.0L676.0 1035.0ZM902.5 1104.0L914.0 1119.0L902.5 1134.0L891.0 1119.0ZM1024.2 1189.0L1035.7 1204.0L1024.2 1219.0L1012.7 1204.0ZM1092.0 1275.0L1103.5 1290.0L1092.0 1305.0L1080.5 1290.0ZM1130.0 1360.4L1141.5 1375.4L1130.0 1390.4L1118.5 1375.4ZM1150.5 1446.0L1162.0 1461.0L1150.5 1476.0L1139.0 1461.0Z" stroke="#ff0000" stroke-width="7.6" fill="none" stroke-linejoin="miter" stroke-miterlimit="10"/>
<clipPath id="cpe"><rect x="1353.8" y="849.5" width="1042.7" height="675.5"/></clipPath>
<g clip-path="url(#cpe)" fill="none" stroke="#aee8f6" stroke-width="5.8">
<path d="M2221.3 901.5C2211.0 901.5 2200.7 903.0 2191.3 906.0C2181.8 909.0 2173.1 913.4 2165.9 918.9C2158.6 924.4 2152.7 931.0 2148.5 938.2C2144.3 945.4 2141.8 953.2 2140.9 961.0C2140.0 968.7 2140.7 976.5 2142.7 983.7C2144.7 991.0 2147.9 997.6 2152.1 1003.1C2156.3 1008.6 2161.3 1013.1 2166.8 1016.1C2172.2 1019.1 2178.1 1020.7 2184.0 1020.7C2189.9 1020.7 2195.8 1019.2 2201.3 1016.3C2206.8 1013.3 2211.9 1009.0 2216.1 1003.5C2220.3 998.0 2223.6 991.4 2225.7 984.3C2227.7 977.1 2228.5 969.3 2227.7 961.5C2226.8 953.7 2224.4 945.9 2220.3 938.7C2216.2 931.5 2210.4 924.9 2203.2 919.3C2196.0 913.8 2187.3 909.3 2177.9 906.2C2168.5 903.2 2158.2 901.6 2147.9 901.5C2137.7 901.4 2127.4 902.9 2117.9 905.8C2108.3 908.7 2099.6 913.1 2092.3 918.5C2084.9 924.0 2079.0 930.5 2074.7 937.7C2070.5 944.8 2067.9 952.6 2066.9 960.4C2065.9 968.2 2066.5 976.0 2068.4 983.2C2070.4 990.5 2073.6 997.1 2077.7 1002.7C2081.8 1008.3 2086.8 1012.8 2092.3 1015.8C2097.7 1018.9 2103.6 1020.6 2109.5 1020.7C2115.4 1020.8 2121.3 1019.4 2126.8 1016.5C2132.3 1013.6 2137.4 1009.3 2141.7 1003.9C2145.9 998.5 2149.3 991.9 2151.4 984.8C2153.6 977.6 2154.4 969.9 2153.6 962.1C2152.9 954.3 2150.5 946.5 2146.5 939.2C2142.4 932.0 2136.7 925.3 2129.6 919.7C2122.4 914.1 2113.9 909.6 2104.5 906.5C2095.1 903.4 2084.9 901.7 2074.6 901.5C2064.3 901.4 2054.0 902.8 2044.4 905.6C2034.9 908.4 2026.1 912.7 2018.7 918.1C2011.3 923.5 2005.3 930.0 2000.9 937.2C1996.6 944.3 1993.9 952.0 1992.8 959.8C1991.8 967.6 1992.3 975.4 1994.2 982.7C1996.1 990.0 1999.2 996.7 2003.3 1002.3C2007.4 1007.9 2012.4 1012.5 2017.8 1015.6C2023.2 1018.8 2029.1 1020.5 2035.0 1020.7C2040.9 1020.9 2046.8 1019.5 2052.3 1016.7C2057.9 1013.9 2063.0 1009.6 2067.3 1004.3C2071.6 998.9 2075.0 992.4 2077.2 985.3C2079.4 978.2 2080.3 970.4 2079.6 962.6C2078.9 954.9 2076.6 947.0 2072.7 939.8C2068.7 932.5 2063.1 925.8 2056.0 920.1C2048.9 914.5 2040.4 909.9 2031.1 906.7C2021.7 903.5 2011.5 901.7 2001.2 901.5C1990.9 901.3 1980.6 902.6 1971.0 905.4C1961.4 908.2 1952.6 912.4 1945.2 917.7C1937.7 923.1 1931.6 929.5 1927.2 936.6C1922.7 943.8 1920.0 951.5 1918.8 959.3C1917.7 967.1 1918.1 974.9 1920.0 982.2C1921.8 989.5 1924.9 996.2 1928.9 1001.9C1933.0 1007.6 1937.9 1012.2 1943.3 1015.4C1948.7 1018.6 1954.6 1020.4 1960.5 1020.7C1966.4 1020.9 1972.3 1019.6 1977.8 1016.9C1983.4 1014.2 1988.5 1010.0 1992.9 1004.7C1997.2 999.3 2000.7 992.9 2002.9 985.8C2005.2 978.7 2006.1 971.0 2005.5 963.2C2004.9 955.4 2002.7 947.6 1998.8 940.3C1995.0 933.0 1989.4 926.2 1982.4 920.5C1975.4 914.8 1967.0 910.2 1957.6 906.9C1948.3 903.7 1938.1 901.8 1927.9 901.5C1917.6 901.2 1907.2 902.5 1897.6 905.2C1888.0 907.9 1879.1 912.1 1871.6 917.4C1864.1 922.6 1857.9 929.1 1853.4 936.1C1848.9 943.2 1846.0 950.9 1844.8 958.7C1843.6 966.5 1844.0 974.3 1845.7 981.7C1847.5 989.0 1850.5 995.7 1854.5 1001.5C1858.5 1007.2 1863.4 1011.9 1868.8 1015.2C1874.2 1018.4 1880.0 1020.3 1885.9 1020.6C1891.8 1021.0 1897.8 1019.8 1903.3 1017.1C1908.9 1014.4 1914.1 1010.3 1918.5 1005.0C1922.8 999.8 1926.4 993.4 1928.7 986.3C1931.0 979.3 1932.0 971.5 1931.5 963.8C1930.9 956.0 1928.8 948.1 1925.0 940.8C1921.2 933.5 1915.7 926.7 1908.8 920.9C1901.9 915.2 1893.5 910.5 1884.2 907.2C1874.9 903.8 1864.8 901.9 1854.5 901.6C1844.2 901.2 1833.9 902.4 1824.2 905.0C1814.6 907.6 1805.6 911.7 1798.0 917.0C1790.4 922.2 1784.2 928.6 1779.6 935.6C1775.0 942.7 1772.1 950.4 1770.8 958.2C1769.5 965.9 1769.8 973.8 1771.5 981.1C1773.2 988.5 1776.2 995.3 1780.1 1001.1C1784.1 1006.8 1789.0 1011.6 1794.3 1014.9C1799.7 1018.3 1805.5 1020.2 1811.4 1020.6C1817.3 1021.0 1823.3 1019.9 1828.8 1017.3C1834.4 1014.7 1839.6 1010.6 1844.0 1005.4C1848.4 1000.2 1852.0 993.9 1854.4 986.8C1856.8 979.8 1857.9 972.1 1857.4 964.3C1856.9 956.5 1854.9 948.7 1851.2 941.3C1847.5 934.0 1842.1 927.2 1835.2 921.4C1828.3 915.5 1820.0 910.8 1810.8 907.4C1801.5 904.0 1791.4 902.0 1781.1 901.6C1770.9 901.2 1760.5 902.3 1750.8 904.8C1741.1 907.4 1732.1 911.4 1724.5 916.6C1716.8 921.8 1710.5 928.1 1705.8 935.1C1701.2 942.1 1698.2 949.8 1696.8 957.6C1695.4 965.4 1695.7 973.2 1697.3 980.6C1698.9 988.0 1701.9 994.8 1705.8 1000.6C1709.7 1006.5 1714.5 1011.3 1719.8 1014.7C1725.2 1018.1 1731.0 1020.1 1736.9 1020.6C1742.8 1021.1 1748.7 1020.0 1754.3 1017.5C1759.9 1014.9 1765.2 1010.9 1769.6 1005.8C1774.1 1000.6 1777.7 994.3 1780.1 987.3C1782.5 980.3 1783.7 972.7 1783.3 964.9C1782.9 957.1 1781.0 949.2 1777.4 941.9C1773.7 934.5 1768.4 927.6 1761.6 921.8C1754.8 915.9 1746.5 911.1 1737.3 907.6C1728.1 904.2 1718.0 902.1 1707.8 901.6C1697.5 901.1 1687.1 902.1 1677.4 904.6C1667.7 907.1 1658.7 911.1 1650.9 916.2C1643.2 921.3 1636.8 927.6 1632.1 934.6C1627.3 941.6 1624.2 949.3 1622.8 957.0C1621.3 964.8 1621.5 972.7 1623.1 980.1C1624.6 987.4 1627.5 994.3 1631.4 1000.2C1635.2 1006.1 1640.0 1011.0 1645.4 1014.4C1650.7 1017.9 1656.5 1020.0 1662.4 1020.6C1668.2 1021.1 1674.2 1020.1 1679.8 1017.6C1685.4 1015.2 1690.7 1011.3 1695.2 1006.2C1699.7 1001.1 1703.4 994.8 1705.8 987.8C1708.3 980.9 1709.6 973.2 1709.3 965.4C1708.9 957.7 1707.1 949.8 1703.5 942.4C1700.0 935.0 1694.7 928.1 1688.0 922.2C1681.3 916.3 1673.0 911.4 1663.9 907.9C1654.8 904.4 1644.7 902.3 1634.4 901.7C1624.2 901.1 1613.8 902.0 1604.0 904.5C1594.3 906.9 1585.2 910.8 1577.4 915.9C1569.6 920.9 1563.1 927.2 1558.3 934.1C1553.5 941.1 1550.3 948.7 1548.8 956.5C1547.3 964.2 1547.4 972.1 1548.9 979.5C1550.3 986.9 1553.2 993.9 1557.0 999.8C1560.8 1005.7 1565.6 1010.6 1570.9 1014.2C1576.2 1017.7 1582.0 1019.9 1587.8 1020.5C1593.7 1021.1 1599.7 1020.2 1605.3 1017.8C1611.0 1015.4 1616.3 1011.6 1620.8 1006.5C1625.3 1001.5 1629.0 995.3 1631.6 988.3C1634.1 981.4 1635.4 973.8 1635.2 966.0C1634.9 958.2 1633.1 950.4 1629.7 942.9C1626.2 935.5 1621.0 928.6 1614.4 922.6C1607.7 916.7 1599.6 911.7 1590.5 908.2C1581.4 904.6 1571.3 902.4 1561.1 901.7C1550.8 901.1 1540.4 901.9 1530.6 904.3C1520.8 906.6 1511.7 910.5 1503.9 915.5C1496.0 920.5 1489.5 926.7 1484.6 933.6C1479.7 940.5 1476.4 948.2 1474.8 955.9C1473.2 963.7 1473.2 971.6 1474.7 979.0C1476.1 986.4 1478.9 993.4 1482.6 999.4C1486.4 1005.3 1491.1 1010.3 1496.4 1013.9C1501.6 1017.5 1507.4 1019.8 1513.3 1020.5C1519.2 1021.2 1525.2 1020.3 1530.8 1018.0C1536.5 1015.7 1541.8 1011.9 1546.3 1006.9C1550.9 1001.9 1554.7 995.7 1557.3 988.8C1559.9 981.9 1561.3 974.3 1561.1 966.6C1560.9 958.8 1559.2 950.9 1555.8 943.5C1552.4 936.0 1547.3 929.1 1540.7 923.1C1534.2 917.1 1526.1 912.1 1517.0 908.4C1508.0 904.8 1497.9 902.5 1487.7 901.8" stroke-dasharray="5.8 5.0"/><path d="M2221.3 962.5C2214.0 962.5 2206.7 963.9 2199.9 966.6C2193.2 969.3 2187.0 973.2 2181.8 978.2C2176.6 983.2 2172.4 989.1 2169.4 995.6C2166.4 1002.1 2164.5 1009.1 2163.8 1016.2C2163.1 1023.2 2163.6 1030.2 2164.9 1036.7C2166.3 1043.2 2168.6 1049.2 2171.5 1054.2C2174.4 1059.2 2177.9 1063.2 2181.7 1065.9C2185.5 1068.6 2189.7 1070.1 2193.8 1070.1C2197.9 1070.1 2202.1 1068.8 2205.9 1066.1C2209.7 1063.5 2213.3 1059.5 2216.2 1054.6C2219.1 1049.6 2221.5 1043.7 2222.9 1037.2C2224.3 1030.7 2224.8 1023.7 2224.1 1016.7C2223.5 1009.6 2221.7 1002.6 2218.7 996.1C2215.8 989.6 2211.6 983.6 2206.5 978.6C2201.3 973.6 2195.2 969.5 2188.5 966.8C2181.8 964.0 2174.4 962.6 2167.1 962.5C2159.8 962.4 2152.5 963.8 2145.7 966.4C2138.9 969.0 2132.7 972.9 2127.5 977.9C2122.2 982.8 2118.0 988.7 2114.9 995.2C2111.8 1001.6 2109.9 1008.6 2109.2 1015.7C2108.4 1022.7 2108.8 1029.7 2110.1 1036.3C2111.5 1042.8 2113.7 1048.8 2116.6 1053.8C2119.4 1058.9 2122.9 1062.9 2126.7 1065.7C2130.6 1068.5 2134.7 1070.0 2138.8 1070.1C2142.9 1070.2 2147.1 1068.9 2150.9 1066.3C2154.8 1063.7 2158.3 1059.8 2161.3 1054.9C2164.3 1050.0 2166.6 1044.1 2168.1 1037.7C2169.5 1031.2 2170.0 1024.2 2169.5 1017.2C2168.9 1010.2 2167.2 1003.1 2164.3 996.6C2161.4 990.0 2157.3 984.0 2152.2 978.9C2147.1 973.9 2141.0 969.8 2134.3 967.0C2127.6 964.2 2120.3 962.6 2113.0 962.5C2105.6 962.4 2098.3 963.6 2091.5 966.2C2084.7 968.8 2078.4 972.6 2073.1 977.5C2067.9 982.4 2063.5 988.3 2060.4 994.7C2057.3 1001.1 2055.3 1008.1 2054.5 1015.2C2053.7 1022.2 2054.1 1029.2 2055.4 1035.8C2056.6 1042.4 2058.8 1048.4 2061.7 1053.5C2064.5 1058.6 2068.0 1062.7 2071.8 1065.5C2075.6 1068.4 2079.7 1069.9 2083.8 1070.1C2087.9 1070.3 2092.1 1069.0 2095.9 1066.5C2099.8 1064.0 2103.4 1060.1 2106.4 1055.3C2109.4 1050.4 2111.8 1044.6 2113.2 1038.1C2114.7 1031.7 2115.3 1024.7 2114.8 1017.7C2114.3 1010.7 2112.6 1003.6 2109.8 997.0C2106.9 990.5 2102.9 984.4 2097.8 979.3C2092.8 974.2 2086.7 970.1 2080.0 967.2C2073.4 964.3 2066.1 962.7 2058.8 962.5C2051.5 962.3 2044.1 963.5 2037.3 966.0C2030.4 968.5 2024.2 972.3 2018.8 977.2C2013.5 982.0 2009.1 987.8 2005.9 994.2C2002.8 1000.6 2000.8 1007.6 1999.9 1014.7C1999.0 1021.7 1999.3 1028.7 2000.6 1035.3C2001.8 1041.9 2004.0 1048.0 2006.8 1053.1C2009.6 1058.2 2013.0 1062.4 2016.8 1065.3C2020.6 1068.2 2024.7 1069.8 2028.8 1070.1C2032.9 1070.3 2037.1 1069.1 2041.0 1066.7C2044.8 1064.2 2048.4 1060.4 2051.5 1055.6C2054.5 1050.8 2056.9 1045.0 2058.4 1038.6C2060.0 1032.2 2060.6 1025.2 2060.1 1018.2C2059.7 1011.2 2058.1 1004.1 2055.3 997.5C2052.5 990.9 2048.5 984.8 2043.5 979.7C2038.5 974.5 2032.5 970.3 2025.8 967.4C2019.2 964.5 2011.9 962.8 2004.6 962.5C1997.3 962.3 1989.9 963.4 1983.1 965.8C1976.2 968.3 1969.9 972.0 1964.5 976.8C1959.1 981.6 1954.7 987.4 1951.5 993.8C1948.2 1000.2 1946.2 1007.1 1945.3 1014.1C1944.4 1021.2 1944.6 1028.3 1945.8 1034.9C1947.0 1041.5 1949.1 1047.6 1951.9 1052.7C1954.6 1057.9 1958.1 1062.1 1961.8 1065.1C1965.6 1068.1 1969.7 1069.8 1973.8 1070.1C1977.9 1070.3 1982.1 1069.3 1986.0 1066.8C1989.9 1064.4 1993.5 1060.7 1996.5 1056.0C1999.6 1051.2 2002.0 1045.4 2003.6 1039.1C2005.2 1032.7 2005.9 1025.7 2005.5 1018.7C2005.0 1011.7 2003.5 1004.6 2000.8 998.0C1998.0 991.4 1994.1 985.2 1989.1 980.0C1984.2 974.8 1978.2 970.6 1971.6 967.6C1965.0 964.6 1957.8 962.9 1950.4 962.6C1943.1 962.2 1935.7 963.3 1928.9 965.7C1922.0 968.0 1915.6 971.7 1910.2 976.5C1904.8 981.2 1900.3 986.9 1897.0 993.3C1893.7 999.7 1891.6 1006.6 1890.6 1013.6C1889.7 1020.7 1889.8 1027.8 1891.0 1034.4C1892.1 1041.0 1894.2 1047.1 1897.0 1052.4C1899.7 1057.6 1903.1 1061.9 1906.9 1064.9C1910.6 1067.9 1914.7 1069.7 1918.8 1070.0C1922.9 1070.4 1927.1 1069.4 1931.0 1067.0C1934.9 1064.7 1938.6 1061.0 1941.6 1056.3C1944.7 1051.6 1947.2 1045.9 1948.8 1039.5C1950.4 1033.2 1951.2 1026.2 1950.8 1019.2C1950.4 1012.2 1948.9 1005.1 1946.3 998.5C1943.6 991.8 1939.7 985.7 1934.8 980.4C1929.9 975.2 1924.0 970.9 1917.4 967.8C1910.8 964.8 1903.6 963.0 1896.3 962.6C1889.0 962.2 1881.6 963.2 1874.7 965.5C1867.8 967.8 1861.4 971.4 1855.9 976.1C1850.4 980.8 1845.9 986.5 1842.6 992.8C1839.2 999.2 1837.0 1006.1 1836.0 1013.1C1835.0 1020.2 1835.1 1027.3 1836.2 1033.9C1837.3 1040.5 1839.4 1046.7 1842.1 1052.0C1844.8 1057.3 1848.2 1061.6 1851.9 1064.7C1855.6 1067.7 1859.7 1069.6 1863.8 1070.0C1867.9 1070.4 1872.1 1069.5 1876.0 1067.2C1879.9 1064.9 1883.6 1061.3 1886.7 1056.6C1889.8 1052.0 1892.3 1046.3 1894.0 1040.0C1895.7 1033.7 1896.4 1026.7 1896.1 1019.7C1895.8 1012.7 1894.4 1005.6 1891.8 998.9C1889.1 992.3 1885.3 986.1 1880.5 980.8C1875.6 975.5 1869.7 971.2 1863.2 968.0C1856.6 964.9 1849.4 963.1 1842.1 962.6C1834.8 962.2 1827.4 963.1 1820.5 965.3C1813.5 967.6 1807.1 971.2 1801.6 975.8C1796.1 980.4 1791.5 986.1 1788.1 992.4C1784.7 998.7 1782.5 1005.6 1781.4 1012.6C1780.3 1019.6 1780.4 1026.8 1781.4 1033.4C1782.5 1040.1 1784.5 1046.3 1787.2 1051.6C1789.9 1056.9 1793.2 1061.3 1796.9 1064.4C1800.6 1067.6 1804.7 1069.5 1808.8 1070.0C1812.9 1070.5 1817.1 1069.6 1821.0 1067.3C1825.0 1065.1 1828.7 1061.6 1831.8 1057.0C1834.9 1052.4 1837.5 1046.7 1839.2 1040.4C1840.9 1034.1 1841.7 1027.2 1841.4 1020.2C1841.2 1013.2 1839.8 1006.1 1837.2 999.4C1834.7 992.7 1830.9 986.5 1826.1 981.2C1821.3 975.9 1815.4 971.4 1808.9 968.3C1802.4 965.1 1795.2 963.2 1787.9 962.7C1780.6 962.1 1773.2 963.0 1766.3 965.2C1759.3 967.4 1752.8 970.9 1747.3 975.5C1741.7 980.0 1737.1 985.7 1733.6 991.9C1730.2 998.2 1727.9 1005.1 1726.8 1012.1C1725.6 1019.1 1725.7 1026.2 1726.7 1032.9C1727.7 1039.6 1729.6 1045.9 1732.3 1051.2C1734.9 1056.6 1738.3 1061.0 1742.0 1064.2C1745.6 1067.4 1749.7 1069.4 1753.8 1069.9C1757.9 1070.5 1762.1 1069.7 1766.1 1067.5C1770.0 1065.3 1773.7 1061.9 1776.8 1057.3C1780.0 1052.8 1782.6 1047.1 1784.3 1040.9C1786.1 1034.6 1787.0 1027.7 1786.8 1020.7C1786.5 1013.7 1785.2 1006.6 1782.7 999.9C1780.2 993.2 1776.5 986.9 1771.7 981.6C1767.0 976.2 1761.2 971.7 1754.7 968.5C1748.2 965.3 1741.0 963.3 1733.7 962.7C1726.5 962.1 1719.0 962.9 1712.1 965.0C1705.1 967.1 1698.6 970.6 1693.0 975.1C1687.4 979.7 1682.7 985.3 1679.2 991.5C1675.7 997.7 1673.3 1004.6 1672.1 1011.6C1671.0 1018.6 1670.9 1025.7 1671.9 1032.5C1672.8 1039.2 1674.8 1045.4 1677.4 1050.8C1680.0 1056.2 1683.3 1060.7 1687.0 1064.0C1690.7 1067.2 1694.7 1069.3 1698.8 1069.9C1702.9 1070.5 1707.1 1069.8 1711.1 1067.7C1715.0 1065.6 1718.7 1062.1 1721.9 1057.6C1725.1 1053.1 1727.7 1047.6 1729.5 1041.3C1731.3 1035.1 1732.2 1028.2 1732.1 1021.2C1731.9 1014.2 1730.7 1007.1 1728.2 1000.4C1725.7 993.7 1722.1 987.4 1717.4 982.0C1712.7 976.5 1706.9 972.0 1700.5 968.7C1694.0 965.5 1686.9 963.4 1679.6 962.7" stroke-dasharray="5.8 5.0"/><path d="M2221.3 1040.0C2216.3 1040.0 2211.3 1041.2 2206.7 1043.4C2202.1 1045.7 2197.9 1049.0 2194.4 1053.1C2190.9 1057.3 2188.0 1062.3 2186.0 1067.7C2183.9 1073.1 2182.7 1079.0 2182.2 1084.9C2181.8 1090.8 2182.1 1096.7 2183.1 1102.1C2184.0 1107.5 2185.6 1112.5 2187.6 1116.7C2189.6 1120.9 2192.1 1124.2 2194.7 1126.5C2197.4 1128.8 2200.2 1130.0 2203.1 1130.0C2205.9 1130.0 2208.8 1128.9 2211.4 1126.7C2214.1 1124.4 2216.5 1121.1 2218.6 1117.0C2220.6 1112.9 2222.2 1107.9 2223.2 1102.5C2224.2 1097.1 2224.6 1091.2 2224.1 1085.3C2223.7 1079.4 2222.5 1073.5 2220.5 1068.1C2218.5 1062.6 2215.7 1057.6 2212.2 1053.4C2208.7 1049.3 2204.5 1045.9 2200.0 1043.6C2195.4 1041.3 2190.4 1040.1 2185.4 1040.0C2180.4 1039.9 2175.4 1041.1 2170.8 1043.3C2166.2 1045.5 2162.0 1048.7 2158.4 1052.8C2154.8 1057.0 2151.9 1061.9 2149.9 1067.3C2147.8 1072.7 2146.5 1078.6 2146.0 1084.5C2145.5 1090.4 2145.8 1096.2 2146.8 1101.7C2147.7 1107.2 2149.2 1112.2 2151.2 1116.4C2153.2 1120.6 2155.6 1124.0 2158.3 1126.3C2160.9 1128.7 2163.8 1129.9 2166.6 1130.0C2169.5 1130.1 2172.3 1129.0 2175.0 1126.8C2177.7 1124.7 2180.1 1121.4 2182.2 1117.3C2184.2 1113.2 2185.9 1108.3 2186.9 1102.9C2187.9 1097.5 2188.3 1091.6 2187.9 1085.7C2187.5 1079.9 2186.4 1074.0 2184.4 1068.5C2182.5 1063.0 2179.7 1058.0 2176.2 1053.7C2172.8 1049.5 2168.6 1046.1 2164.0 1043.7C2159.5 1041.4 2154.5 1040.1 2149.5 1040.0C2144.5 1039.9 2139.5 1041.0 2134.9 1043.1C2130.3 1045.2 2126.0 1048.5 2122.4 1052.5C2118.8 1056.6 2115.9 1061.5 2113.8 1066.9C2111.6 1072.3 2110.3 1078.2 2109.8 1084.0C2109.3 1089.9 2109.5 1095.8 2110.4 1101.3C2111.3 1106.8 2112.9 1111.8 2114.8 1116.1C2116.8 1120.4 2119.2 1123.8 2121.8 1126.2C2124.5 1128.5 2127.3 1129.8 2130.2 1130.0C2133.0 1130.1 2135.9 1129.1 2138.6 1127.0C2141.2 1124.9 2143.7 1121.7 2145.8 1117.6C2147.8 1113.5 2149.5 1108.6 2150.6 1103.3C2151.6 1097.9 2152.0 1092.0 2151.7 1086.2C2151.4 1080.3 2150.2 1074.4 2148.3 1068.9C2146.4 1063.4 2143.7 1058.3 2140.2 1054.1C2136.8 1049.8 2132.7 1046.3 2128.1 1043.9C2123.6 1041.5 2118.6 1040.2 2113.6 1040.0C2108.6 1039.9 2103.6 1040.9 2099.0 1042.9C2094.3 1045.0 2090.0 1048.2 2086.4 1052.3C2082.8 1056.3 2079.8 1061.2 2077.7 1066.5C2075.5 1071.9 2074.2 1077.7 2073.6 1083.6C2073.0 1089.5 2073.3 1095.4 2074.1 1100.9C2075.0 1106.4 2076.5 1111.5 2078.5 1115.8C2080.4 1120.1 2082.8 1123.6 2085.4 1126.0C2088.0 1128.4 2090.9 1129.8 2093.7 1130.0C2096.6 1130.2 2099.4 1129.2 2102.1 1127.1C2104.8 1125.1 2107.3 1121.9 2109.4 1117.9C2111.5 1113.9 2113.2 1109.0 2114.2 1103.7C2115.3 1098.3 2115.8 1092.5 2115.5 1086.6C2115.2 1080.7 2114.1 1074.8 2112.2 1069.3C2110.3 1063.8 2107.6 1058.7 2104.2 1054.4C2100.8 1050.1 2096.7 1046.5 2092.2 1044.1C2087.7 1041.6 2082.7 1040.3 2077.7 1040.0C2072.8 1039.8 2067.7 1040.8 2063.1 1042.8C2058.4 1044.8 2054.1 1048.0 2050.4 1052.0C2046.8 1056.0 2043.8 1060.8 2041.6 1066.2C2039.4 1071.5 2038.0 1077.3 2037.4 1083.2C2036.8 1089.1 2037.0 1095.0 2037.8 1100.5C2038.7 1106.0 2040.1 1111.2 2042.1 1115.5C2044.0 1119.8 2046.4 1123.3 2049.0 1125.8C2051.6 1128.3 2054.4 1129.7 2057.2 1130.0C2060.1 1130.2 2063.0 1129.3 2065.7 1127.3C2068.4 1125.3 2070.9 1122.1 2073.0 1118.2C2075.1 1114.2 2076.8 1109.4 2077.9 1104.0C2079.0 1098.7 2079.5 1092.9 2079.2 1087.0C2079.0 1081.1 2077.9 1075.2 2076.1 1069.7C2074.2 1064.2 2071.6 1059.0 2068.2 1054.7C2064.8 1050.3 2060.8 1046.8 2056.3 1044.3C2051.8 1041.8 2046.8 1040.3 2041.8 1040.0C2036.9 1039.8 2031.8 1040.7 2027.1 1042.7C2022.5 1044.6 2018.1 1047.7 2014.4 1051.7C2010.7 1055.6 2007.7 1060.5 2005.5 1065.8C2003.2 1071.1 2001.8 1076.9 2001.2 1082.8C2000.5 1088.6 2000.7 1094.6 2001.5 1100.1C2002.3 1105.7 2003.8 1110.8 2005.7 1115.2C2007.6 1119.5 2009.9 1123.1 2012.5 1125.6C2015.1 1128.2 2017.9 1129.6 2020.8 1129.9C2023.6 1130.2 2026.5 1129.4 2029.2 1127.4C2031.9 1125.5 2034.4 1122.4 2036.6 1118.5C2038.7 1114.5 2040.4 1109.7 2041.6 1104.4C2042.7 1099.1 2043.2 1093.3 2043.0 1087.4C2042.8 1081.6 2041.8 1075.6 2040.0 1070.1C2038.2 1064.5 2035.5 1059.4 2032.2 1055.0C2028.9 1050.6 2024.8 1047.0 2020.3 1044.5C2015.9 1041.9 2010.9 1040.4 2006.0 1040.1C2001.0 1039.7 1995.9 1040.6 1991.2 1042.5C1986.5 1044.4 1982.2 1047.5 1978.5 1051.4C1974.7 1055.3 1971.7 1060.1 1969.4 1065.4C1967.1 1070.7 1965.7 1076.5 1965.0 1082.4C1964.3 1088.2 1964.4 1094.2 1965.2 1099.7C1966.0 1105.3 1967.4 1110.5 1969.3 1114.9C1971.2 1119.3 1973.5 1122.9 1976.1 1125.5C1978.7 1128.0 1981.5 1129.6 1984.3 1129.9C1987.2 1130.3 1990.1 1129.5 1992.8 1127.6C1995.5 1125.6 1998.0 1122.6 2000.2 1118.7C2002.3 1114.9 2004.1 1110.1 2005.2 1104.8C2006.4 1099.5 2007.0 1093.7 2006.8 1087.9C2006.6 1082.0 2005.6 1076.0 2003.9 1070.5C2002.1 1064.9 1999.5 1059.7 1996.2 1055.3C1992.9 1050.9 1988.9 1047.2 1984.4 1044.6C1980.0 1042.0 1975.0 1040.5 1970.1 1040.1C1965.1 1039.7 1960.0 1040.5 1955.3 1042.4C1950.6 1044.3 1946.2 1047.2 1942.5 1051.1C1938.7 1055.0 1935.6 1059.7 1933.3 1065.0C1931.0 1070.3 1929.5 1076.1 1928.8 1081.9C1928.1 1087.8 1928.2 1093.7 1928.9 1099.3C1929.6 1104.9 1931.0 1110.1 1932.9 1114.5C1934.8 1119.0 1937.1 1122.6 1939.7 1125.3C1942.2 1127.9 1945.0 1129.5 1947.9 1129.9C1950.7 1130.3 1953.6 1129.6 1956.3 1127.7C1959.0 1125.8 1961.6 1122.9 1963.8 1119.0C1965.9 1115.2 1967.7 1110.4 1968.9 1105.2C1970.1 1099.9 1970.7 1094.1 1970.5 1088.3C1970.4 1082.4 1969.5 1076.5 1967.7 1070.9C1966.0 1065.3 1963.4 1060.1 1960.2 1055.6C1956.9 1051.2 1952.9 1047.5 1948.5 1044.8C1944.0 1042.2 1939.2 1040.6 1934.2 1040.1C1929.2 1039.7 1924.2 1040.4 1919.4 1042.2C1914.7 1044.1 1910.3 1047.0 1906.5 1050.8C1902.7 1054.7 1899.6 1059.4 1897.2 1064.6C1894.9 1069.9 1893.3 1075.6 1892.6 1081.5C1891.8 1087.4 1891.9 1093.3 1892.6 1098.9C1893.3 1104.5 1894.7 1109.7 1896.5 1114.2C1898.4 1118.7 1900.7 1122.4 1903.2 1125.1C1905.8 1127.8 1908.6 1129.4 1911.4 1129.9C1914.3 1130.3 1917.2 1129.6 1919.9 1127.8C1922.6 1126.0 1925.2 1123.1 1927.4 1119.3C1929.5 1115.5 1931.3 1110.8 1932.6 1105.6C1933.8 1100.3 1934.4 1094.6 1934.3 1088.7C1934.2 1082.8 1933.3 1076.9 1931.6 1071.3C1929.9 1065.7 1927.4 1060.4 1924.2 1055.9C1920.9 1051.5 1917.0 1047.7 1912.6 1045.0C1908.1 1042.3 1903.3 1040.7 1898.3 1040.2C1893.3 1039.7 1888.3 1040.3 1883.5 1042.1C1878.8 1043.9 1874.3 1046.8 1870.5 1050.6C1866.7 1054.4 1863.5 1059.0 1861.1 1064.2C1858.8 1069.5 1857.2 1075.2 1856.4 1081.1C1855.6 1086.9 1855.6 1092.9 1856.3 1098.5C1857.0 1104.1 1858.3 1109.4 1860.1 1113.9C1862.0 1118.4 1864.2 1122.2 1866.8 1124.9C1869.3 1127.6 1872.1 1129.3 1875.0 1129.8C1877.8 1130.3 1880.7 1129.7 1883.4 1128.0C1886.2 1126.2 1888.7 1123.3 1890.9 1119.6C1893.1 1115.8 1895.0 1111.1 1896.2 1105.9C1897.5 1100.7 1898.1 1095.0 1898.1 1089.1C1898.0 1083.3 1897.1 1077.3 1895.5 1071.7C1893.8 1066.1 1891.3 1060.8 1888.1 1056.3C1884.9 1051.7 1881.0 1048.0 1876.6 1045.2C1872.2 1042.5 1867.4 1040.8 1862.4 1040.2" stroke-dasharray="5.8 5.0"/><path d="M2221.3 1116.5C2218.1 1116.5 2214.9 1117.5 2212.0 1119.4C2209.1 1121.2 2206.4 1124.0 2204.1 1127.5C2201.9 1131.0 2200.1 1135.2 2198.8 1139.7C2197.5 1144.3 2196.7 1149.2 2196.4 1154.1C2196.2 1159.0 2196.4 1164.0 2197.0 1168.5C2197.7 1173.1 2198.7 1177.3 2200.0 1180.8C2201.3 1184.3 2202.9 1187.1 2204.6 1189.0C2206.3 1190.9 2208.2 1191.9 2210.0 1191.9C2211.9 1191.9 2213.7 1191.0 2215.5 1189.1C2217.2 1187.2 2218.8 1184.5 2220.1 1181.0C2221.4 1177.6 2222.5 1173.4 2223.1 1168.9C2223.8 1164.3 2224.0 1159.4 2223.8 1154.5C2223.5 1149.5 2222.8 1144.6 2221.5 1140.0C2220.3 1135.5 2218.5 1131.3 2216.2 1127.8C2214.0 1124.2 2211.3 1121.4 2208.4 1119.5C2205.5 1117.6 2202.3 1116.5 2199.1 1116.5C2195.9 1116.5 2192.8 1117.4 2189.8 1119.2C2186.9 1121.1 2184.2 1123.8 2181.9 1127.3C2179.6 1130.7 2177.8 1134.9 2176.5 1139.4C2175.1 1143.9 2174.4 1148.8 2174.1 1153.8C2173.8 1158.7 2174.0 1163.6 2174.6 1168.2C2175.2 1172.8 2176.2 1177.0 2177.5 1180.5C2178.8 1184.0 2180.4 1186.9 2182.1 1188.8C2183.8 1190.8 2185.6 1191.8 2187.5 1191.9C2189.4 1192.0 2191.2 1191.1 2192.9 1189.2C2194.7 1187.4 2196.3 1184.7 2197.6 1181.3C2198.9 1177.8 2200.0 1173.7 2200.7 1169.2C2201.4 1164.7 2201.6 1159.7 2201.4 1154.8C2201.2 1149.9 2200.5 1145.0 2199.2 1140.4C2198.0 1135.8 2196.2 1131.6 2194.0 1128.0C2191.8 1124.5 2189.1 1121.6 2186.2 1119.6C2183.3 1117.7 2180.1 1116.6 2177.0 1116.5C2173.8 1116.4 2170.6 1117.3 2167.6 1119.1C2164.7 1120.9 2161.9 1123.6 2159.7 1127.0C2157.4 1130.4 2155.5 1134.5 2154.2 1139.1C2152.8 1143.6 2152.0 1148.5 2151.7 1153.4C2151.4 1158.3 2151.5 1163.3 2152.1 1167.9C2152.7 1172.5 2153.7 1176.7 2155.0 1180.3C2156.3 1183.8 2157.9 1186.7 2159.6 1188.7C2161.3 1190.7 2163.1 1191.8 2165.0 1191.9C2166.8 1192.0 2168.7 1191.1 2170.4 1189.4C2172.1 1187.6 2173.8 1184.9 2175.1 1181.5C2176.5 1178.1 2177.5 1174.0 2178.2 1169.5C2178.9 1165.0 2179.2 1160.1 2179.0 1155.2C2178.8 1150.3 2178.1 1145.3 2176.9 1140.7C2175.7 1136.1 2173.9 1131.9 2171.8 1128.3C2169.6 1124.7 2166.9 1121.8 2164.0 1119.8C2161.1 1117.8 2158.0 1116.7 2154.8 1116.5C2151.6 1116.4 2148.4 1117.2 2145.4 1119.0C2142.5 1120.7 2139.7 1123.4 2137.4 1126.8C2135.1 1130.1 2133.2 1134.2 2131.9 1138.7C2130.5 1143.2 2129.6 1148.1 2129.3 1153.0C2129.0 1158.0 2129.1 1162.9 2129.7 1167.5C2130.3 1172.1 2131.3 1176.4 2132.5 1180.0C2133.8 1183.6 2135.4 1186.5 2137.0 1188.5C2138.7 1190.6 2140.6 1191.7 2142.4 1191.9C2144.3 1192.0 2146.1 1191.2 2147.9 1189.5C2149.6 1187.8 2151.2 1185.1 2152.6 1181.8C2154.0 1178.4 2155.1 1174.3 2155.8 1169.8C2156.5 1165.3 2156.8 1160.5 2156.6 1155.5C2156.5 1150.6 2155.8 1145.7 2154.6 1141.0C2153.4 1136.4 2151.7 1132.1 2149.5 1128.5C2147.3 1124.9 2144.7 1122.0 2141.8 1119.9C2139.0 1117.9 2135.8 1116.7 2132.6 1116.5C2129.4 1116.3 2126.2 1117.1 2123.2 1118.8C2120.3 1120.6 2117.5 1123.2 2115.2 1126.5C2112.9 1129.9 2110.9 1133.9 2109.6 1138.4C2108.2 1142.9 2107.3 1147.8 2106.9 1152.7C2106.6 1157.6 2106.7 1162.6 2107.3 1167.2C2107.8 1171.8 2108.8 1176.1 2110.0 1179.7C2111.3 1183.4 2112.8 1186.3 2114.5 1188.4C2116.2 1190.5 2118.0 1191.7 2119.9 1191.9C2121.7 1192.1 2123.6 1191.3 2125.4 1189.6C2127.1 1187.9 2128.7 1185.3 2130.1 1182.0C2131.5 1178.7 2132.6 1174.6 2133.3 1170.2C2134.1 1165.7 2134.4 1160.8 2134.2 1155.9C2134.1 1151.0 2133.4 1146.0 2132.3 1141.4C2131.1 1136.7 2129.4 1132.4 2127.3 1128.8C2125.1 1125.2 2122.5 1122.2 2119.7 1120.1C2116.8 1118.0 2113.6 1116.8 2110.4 1116.5C2107.3 1116.3 2104.1 1117.1 2101.1 1118.7C2098.1 1120.4 2095.3 1123.0 2093.0 1126.3C2090.6 1129.6 2088.7 1133.6 2087.3 1138.1C2085.8 1142.5 2084.9 1147.4 2084.6 1152.3C2084.2 1157.3 2084.3 1162.2 2084.8 1166.9C2085.4 1171.5 2086.3 1175.8 2087.5 1179.5C2088.8 1183.1 2090.3 1186.1 2092.0 1188.2C2093.7 1190.4 2095.5 1191.6 2097.4 1191.8C2099.2 1192.1 2101.1 1191.4 2102.8 1189.7C2104.6 1188.1 2106.2 1185.5 2107.6 1182.2C2109.0 1178.9 2110.1 1174.9 2110.9 1170.5C2111.6 1166.0 2112.0 1161.2 2111.9 1156.2C2111.7 1151.3 2111.1 1146.4 2110.0 1141.7C2108.8 1137.1 2107.1 1132.7 2105.0 1129.1C2102.9 1125.4 2100.3 1122.4 2097.5 1120.2C2094.6 1118.1 2091.5 1116.8 2088.3 1116.6C2085.1 1116.3 2081.9 1117.0 2078.9 1118.6C2075.9 1120.2 2073.1 1122.8 2070.7 1126.0C2068.4 1129.3 2066.4 1133.3 2065.0 1137.8C2063.5 1142.2 2062.6 1147.1 2062.2 1152.0C2061.8 1156.9 2061.9 1161.9 2062.4 1166.5C2062.9 1171.2 2063.8 1175.5 2065.1 1179.2C2066.3 1182.9 2067.8 1185.9 2069.5 1188.1C2071.2 1190.2 2073.0 1191.5 2074.8 1191.8C2076.7 1192.1 2078.5 1191.5 2080.3 1189.9C2082.1 1188.3 2083.7 1185.7 2085.1 1182.5C2086.5 1179.2 2087.7 1175.2 2088.4 1170.8C2089.2 1166.4 2089.6 1161.5 2089.5 1156.6C2089.4 1151.7 2088.8 1146.7 2087.6 1142.0C2086.5 1137.4 2084.9 1133.0 2082.8 1129.3C2080.7 1125.6 2078.1 1122.6 2075.3 1120.4C2072.4 1118.2 2069.3 1116.9 2066.1 1116.6C2062.9 1116.3 2059.7 1116.9 2056.7 1118.5C2053.7 1120.1 2050.9 1122.6 2048.5 1125.8C2046.1 1129.1 2044.1 1133.0 2042.7 1137.4C2041.2 1141.9 2040.3 1146.7 2039.8 1151.6C2039.4 1156.5 2039.4 1161.5 2039.9 1166.2C2040.4 1170.9 2041.4 1175.2 2042.6 1178.9C2043.8 1182.7 2045.3 1185.7 2047.0 1187.9C2048.6 1190.1 2050.5 1191.5 2052.3 1191.8C2054.1 1192.2 2056.0 1191.5 2057.8 1190.0C2059.5 1188.4 2061.2 1185.9 2062.6 1182.7C2064.0 1179.5 2065.2 1175.5 2066.0 1171.1C2066.7 1166.7 2067.1 1161.9 2067.1 1157.0C2067.0 1152.0 2066.4 1147.1 2065.3 1142.4C2064.2 1137.7 2062.6 1133.3 2060.5 1129.6C2058.4 1125.9 2055.9 1122.8 2053.1 1120.5C2050.2 1118.3 2047.1 1117.0 2043.9 1116.6C2040.8 1116.2 2037.5 1116.8 2034.5 1118.4C2031.5 1119.9 2028.7 1122.4 2026.3 1125.6C2023.9 1128.8 2021.9 1132.7 2020.4 1137.1C2018.9 1141.5 2017.9 1146.4 2017.4 1151.3C2017.0 1156.2 2017.0 1161.2 2017.5 1165.9C2018.0 1170.5 2018.9 1174.9 2020.1 1178.7C2021.3 1182.4 2022.8 1185.5 2024.4 1187.8C2026.1 1190.0 2027.9 1191.4 2029.8 1191.8C2031.6 1192.2 2033.5 1191.6 2035.3 1190.1C2037.0 1188.6 2038.7 1186.1 2040.1 1182.9C2041.5 1179.7 2042.7 1175.8 2043.5 1171.4C2044.3 1167.0 2044.7 1162.2 2044.7 1157.3C2044.6 1152.4 2044.1 1147.4 2043.0 1142.7C2041.9 1138.0 2040.3 1133.6 2038.3 1129.9C2036.2 1126.1 2033.7 1123.0 2030.9 1120.7C2028.1 1118.4 2024.9 1117.1 2021.8 1116.6C2018.6 1116.2 2015.4 1116.8 2012.3 1118.3C2009.3 1119.8 2006.5 1122.2 2004.0 1125.4C2001.6 1128.5 1999.6 1132.4 1998.1 1136.8C1996.6 1141.2 1995.6 1146.0 1995.1 1150.9C1994.6 1155.8 1994.6 1160.8 1995.1 1165.5C1995.5 1170.2 1996.4 1174.6 1997.6 1178.4C1998.8 1182.2 2000.3 1185.3 2001.9 1187.6C2003.6 1189.9 2005.4 1191.3 2007.2 1191.7C2009.1 1192.2 2011.0 1191.7 2012.7 1190.2C2014.5 1188.7 2016.2 1186.3 2017.6 1183.2C2019.0 1180.0 2020.2 1176.1 2021.0 1171.7C2021.9 1167.4 2022.3 1162.6 2022.3 1157.7C2022.2 1152.8 2021.7 1147.8 2020.7 1143.1C2019.6 1138.3 2018.1 1133.9 2016.0 1130.1C2014.0 1126.3 2011.5 1123.2 2008.7 1120.9C2005.9 1118.6 2002.8 1117.1 1999.6 1116.7" stroke-dasharray="5.8 5.0"/><path d="M2221.3 1193.8C2219.7 1193.8 2218.1 1194.6 2216.6 1196.0C2215.1 1197.5 2213.7 1199.7 2212.5 1202.4C2211.4 1205.1 2210.4 1208.3 2209.8 1211.8C2209.1 1215.4 2208.7 1219.2 2208.5 1223.0C2208.3 1226.9 2208.4 1230.7 2208.7 1234.2C2209.0 1237.8 2209.5 1241.0 2210.1 1243.7C2210.7 1246.5 2211.5 1248.6 2212.3 1250.1C2213.1 1251.6 2214.0 1252.4 2214.9 1252.4C2215.8 1252.4 2216.6 1251.7 2217.5 1250.2C2218.3 1248.8 2219.1 1246.6 2219.7 1243.9C2220.3 1241.2 2220.8 1238.0 2221.1 1234.5C2221.4 1231.0 2221.5 1227.1 2221.3 1223.3C2221.2 1219.5 2220.7 1215.6 2220.1 1212.1C2219.4 1208.5 2218.5 1205.3 2217.3 1202.6C2216.2 1199.8 2214.8 1197.6 2213.3 1196.1C2211.9 1194.6 2210.2 1193.8 2208.6 1193.8C2207.0 1193.8 2205.4 1194.5 2203.9 1195.9C2202.4 1197.3 2201.0 1199.5 2199.8 1202.2C2198.7 1204.8 2197.7 1208.1 2197.0 1211.6C2196.3 1215.1 2195.9 1218.9 2195.7 1222.8C2195.5 1226.6 2195.6 1230.4 2195.9 1234.0C2196.1 1237.5 2196.6 1240.8 2197.2 1243.5C2197.8 1246.3 2198.6 1248.5 2199.4 1250.0C2200.2 1251.5 2201.1 1252.3 2202.0 1252.4C2202.9 1252.5 2203.8 1251.7 2204.6 1250.3C2205.4 1248.9 2206.2 1246.8 2206.8 1244.1C2207.5 1241.5 2208.0 1238.3 2208.3 1234.7C2208.6 1231.2 2208.7 1227.4 2208.5 1223.6C2208.4 1219.8 2208.0 1215.9 2207.3 1212.4C2206.7 1208.8 2205.8 1205.5 2204.6 1202.8C2203.5 1200.0 2202.1 1197.8 2200.7 1196.2C2199.2 1194.7 2197.6 1193.9 2195.9 1193.8C2194.3 1193.7 2192.7 1194.4 2191.2 1195.8C2189.7 1197.2 2188.3 1199.3 2187.1 1202.0C2185.9 1204.6 2185.0 1207.8 2184.3 1211.3C2183.6 1214.8 2183.1 1218.6 2182.9 1222.5C2182.7 1226.3 2182.8 1230.2 2183.1 1233.7C2183.3 1237.3 2183.8 1240.6 2184.4 1243.3C2185.0 1246.1 2185.7 1248.4 2186.6 1249.9C2187.4 1251.5 2188.3 1252.3 2189.1 1252.4C2190.0 1252.5 2190.9 1251.8 2191.7 1250.4C2192.6 1249.1 2193.3 1247.0 2194.0 1244.3C2194.6 1241.7 2195.1 1238.5 2195.4 1235.0C2195.8 1231.5 2195.9 1227.7 2195.7 1223.9C2195.6 1220.0 2195.2 1216.2 2194.6 1212.6C2193.9 1209.0 2193.0 1205.7 2191.9 1203.0C2190.8 1200.2 2189.4 1197.9 2188.0 1196.4C2186.5 1194.8 2184.9 1193.9 2183.3 1193.8C2181.6 1193.7 2180.0 1194.4 2178.5 1195.7C2177.0 1197.1 2175.6 1199.2 2174.4 1201.8C2173.2 1204.4 2172.2 1207.6 2171.5 1211.1C2170.8 1214.6 2170.3 1218.4 2170.1 1222.2C2169.9 1226.0 2170.0 1229.9 2170.2 1233.5C2170.5 1237.0 2170.9 1240.4 2171.5 1243.1C2172.1 1245.9 2172.9 1248.2 2173.7 1249.8C2174.5 1251.4 2175.4 1252.3 2176.3 1252.4C2177.2 1252.5 2178.1 1251.9 2178.9 1250.5C2179.7 1249.2 2180.5 1247.1 2181.1 1244.5C2181.8 1241.9 2182.3 1238.7 2182.6 1235.2C2182.9 1231.8 2183.1 1228.0 2182.9 1224.1C2182.8 1220.3 2182.4 1216.5 2181.8 1212.9C2181.2 1209.3 2180.3 1206.0 2179.2 1203.2C2178.1 1200.3 2176.7 1198.1 2175.3 1196.5C2173.8 1194.9 2172.2 1194.0 2170.6 1193.8C2168.9 1193.7 2167.3 1194.3 2165.8 1195.6C2164.3 1196.9 2162.9 1199.0 2161.7 1201.6C2160.5 1204.2 2159.5 1207.4 2158.8 1210.8C2158.0 1214.3 2157.6 1218.1 2157.4 1221.9C2157.1 1225.8 2157.2 1229.6 2157.4 1233.2C2157.7 1236.8 2158.1 1240.1 2158.7 1242.9C2159.3 1245.8 2160.0 1248.1 2160.8 1249.7C2161.6 1251.3 2162.5 1252.2 2163.4 1252.4C2164.3 1252.5 2165.2 1251.9 2166.0 1250.6C2166.9 1249.3 2167.6 1247.3 2168.3 1244.7C2168.9 1242.1 2169.5 1239.0 2169.8 1235.5C2170.1 1232.0 2170.3 1228.2 2170.1 1224.4C2170.0 1220.6 2169.7 1216.7 2169.1 1213.1C2168.4 1209.5 2167.6 1206.2 2166.5 1203.4C2165.4 1200.5 2164.0 1198.2 2162.6 1196.6C2161.1 1195.0 2159.5 1194.0 2157.9 1193.8C2156.3 1193.7 2154.6 1194.2 2153.1 1195.5C2151.6 1196.8 2150.2 1198.8 2149.0 1201.4C2147.8 1204.0 2146.8 1207.1 2146.0 1210.6C2145.3 1214.0 2144.8 1217.8 2144.6 1221.7C2144.3 1225.5 2144.4 1229.3 2144.6 1232.9C2144.8 1236.6 2145.3 1239.9 2145.9 1242.7C2146.4 1245.6 2147.2 1247.9 2148.0 1249.6C2148.8 1251.2 2149.7 1252.2 2150.5 1252.4C2151.4 1252.6 2152.3 1252.0 2153.2 1250.7C2154.0 1249.4 2154.8 1247.4 2155.4 1244.9C2156.1 1242.3 2156.6 1239.2 2157.0 1235.7C2157.3 1232.3 2157.5 1228.5 2157.4 1224.7C2157.3 1220.9 2156.9 1217.0 2156.3 1213.4C2155.7 1209.8 2154.8 1206.4 2153.7 1203.6C2152.7 1200.7 2151.3 1198.4 2149.9 1196.7C2148.4 1195.0 2146.8 1194.1 2145.2 1193.8C2143.6 1193.6 2141.9 1194.2 2140.4 1195.4C2138.9 1196.7 2137.5 1198.7 2136.3 1201.2C2135.0 1203.8 2134.0 1206.9 2133.3 1210.3C2132.5 1213.8 2132.0 1217.6 2131.8 1221.4C2131.6 1225.2 2131.6 1229.1 2131.8 1232.7C2132.0 1236.3 2132.4 1239.7 2133.0 1242.5C2133.6 1245.4 2134.3 1247.8 2135.1 1249.4C2135.9 1251.1 2136.8 1252.1 2137.7 1252.3C2138.6 1252.6 2139.5 1252.1 2140.3 1250.8C2141.1 1249.6 2141.9 1247.6 2142.6 1245.1C2143.3 1242.5 2143.8 1239.4 2144.1 1236.0C2144.5 1232.6 2144.6 1228.8 2144.6 1225.0C2144.5 1221.1 2144.1 1217.3 2143.6 1213.6C2143.0 1210.0 2142.1 1206.6 2141.0 1203.8C2139.9 1200.9 2138.6 1198.5 2137.2 1196.8C2135.7 1195.1 2134.1 1194.1 2132.5 1193.9C2130.9 1193.6 2129.3 1194.1 2127.7 1195.3C2126.2 1196.6 2124.8 1198.5 2123.5 1201.0C2122.3 1203.6 2121.3 1206.6 2120.5 1210.1C2119.8 1213.5 2119.3 1217.3 2119.0 1221.1C2118.8 1224.9 2118.8 1228.8 2119.0 1232.4C2119.2 1236.1 2119.6 1239.4 2120.2 1242.3C2120.7 1245.2 2121.5 1247.6 2122.3 1249.3C2123.1 1251.0 2123.9 1252.1 2124.8 1252.3C2125.7 1252.6 2126.6 1252.1 2127.4 1250.9C2128.3 1249.7 2129.1 1247.8 2129.7 1245.3C2130.4 1242.7 2131.0 1239.7 2131.3 1236.2C2131.7 1232.8 2131.8 1229.1 2131.8 1225.2C2131.7 1221.4 2131.4 1217.5 2130.8 1213.9C2130.2 1210.3 2129.4 1206.9 2128.3 1204.0C2127.2 1201.1 2125.9 1198.7 2124.5 1196.9C2123.0 1195.2 2121.5 1194.2 2119.8 1193.9C2118.2 1193.6 2116.6 1194.1 2115.0 1195.3C2113.5 1196.4 2112.1 1198.4 2110.8 1200.9C2109.6 1203.4 2108.6 1206.4 2107.8 1209.8C2107.0 1213.2 2106.5 1217.0 2106.2 1220.8C2106.0 1224.6 2106.0 1228.5 2106.2 1232.2C2106.4 1235.8 2106.8 1239.2 2107.3 1242.1C2107.9 1245.0 2108.6 1247.5 2109.4 1249.2C2110.2 1250.9 2111.1 1252.0 2112.0 1252.3C2112.8 1252.6 2113.7 1252.2 2114.6 1251.0C2115.4 1249.8 2116.2 1247.9 2116.9 1245.4C2117.6 1243.0 2118.1 1239.9 2118.5 1236.5C2118.9 1233.1 2119.0 1229.3 2119.0 1225.5C2118.9 1221.7 2118.6 1217.8 2118.0 1214.2C2117.5 1210.5 2116.6 1207.1 2115.6 1204.2C2114.5 1201.3 2113.2 1198.8 2111.8 1197.1C2110.4 1195.3 2108.8 1194.2 2107.2 1193.9C2105.5 1193.6 2103.9 1194.0 2102.3 1195.2C2100.8 1196.3 2099.4 1198.2 2098.1 1200.7C2096.9 1203.1 2095.8 1206.2 2095.0 1209.6C2094.3 1213.0 2093.7 1216.7 2093.4 1220.5C2093.2 1224.4 2093.1 1228.2 2093.3 1231.9C2093.5 1235.5 2093.9 1239.0 2094.5 1241.9C2095.1 1244.8 2095.8 1247.3 2096.5 1249.1C2097.3 1250.8 2098.2 1251.9 2099.1 1252.3C2100.0 1252.6 2100.9 1252.2 2101.7 1251.1C2102.6 1249.9 2103.4 1248.1 2104.1 1245.6C2104.7 1243.2 2105.3 1240.1 2105.7 1236.7C2106.0 1233.3 2106.2 1229.6 2106.2 1225.8C2106.1 1222.0 2105.8 1218.1 2105.3 1214.4C2104.7 1210.8 2103.9 1207.3 2102.9 1204.4C2101.8 1201.4 2100.5 1199.0 2099.1 1197.2C2097.7 1195.4 2096.1 1194.3 2094.5 1193.9" stroke-dasharray="5.8 5.0"/><path d="M2221.3 1268.5C2220.7 1268.5 2220.1 1269.1 2219.5 1270.3C2218.9 1271.4 2218.4 1273.1 2217.9 1275.2C2217.5 1277.4 2217.1 1279.9 2216.9 1282.7C2216.6 1285.5 2216.4 1288.5 2216.3 1291.5C2216.2 1294.6 2216.2 1297.6 2216.3 1300.4C2216.4 1303.2 2216.5 1305.7 2216.7 1307.9C2216.9 1310.0 2217.2 1311.7 2217.4 1312.9C2217.7 1314.1 2218.0 1314.7 2218.3 1314.7C2218.6 1314.7 2218.9 1314.1 2219.2 1313.0C2219.5 1311.8 2219.7 1310.2 2219.9 1308.0C2220.1 1305.9 2220.3 1303.4 2220.3 1300.6C2220.4 1297.8 2220.4 1294.8 2220.3 1291.8C2220.3 1288.7 2220.1 1285.7 2219.8 1282.9C2219.5 1280.1 2219.2 1277.6 2218.7 1275.4C2218.3 1273.2 2217.8 1271.5 2217.2 1270.3C2216.6 1269.2 2216.0 1268.5 2215.4 1268.5C2214.8 1268.5 2214.2 1269.0 2213.6 1270.2C2213.0 1271.3 2212.5 1273.0 2212.0 1275.1C2211.6 1277.2 2211.2 1279.7 2210.9 1282.5C2210.6 1285.3 2210.5 1288.3 2210.4 1291.3C2210.3 1294.3 2210.3 1297.4 2210.3 1300.2C2210.4 1303.0 2210.6 1305.6 2210.8 1307.7C2211.0 1309.9 2211.2 1311.6 2211.5 1312.8C2211.7 1314.0 2212.0 1314.7 2212.3 1314.7C2212.6 1314.7 2212.9 1314.2 2213.2 1313.1C2213.5 1312.0 2213.7 1310.3 2213.9 1308.2C2214.1 1306.1 2214.3 1303.5 2214.4 1300.8C2214.5 1298.0 2214.5 1295.0 2214.4 1292.0C2214.3 1289.0 2214.1 1285.9 2213.9 1283.1C2213.6 1280.3 2213.3 1277.7 2212.8 1275.6C2212.4 1273.4 2211.9 1271.6 2211.3 1270.4C2210.7 1269.2 2210.1 1268.6 2209.5 1268.5C2208.9 1268.4 2208.3 1269.0 2207.7 1270.1C2207.1 1271.2 2206.6 1272.9 2206.1 1274.9C2205.7 1277.0 2205.3 1279.6 2205.0 1282.3C2204.7 1285.1 2204.5 1288.1 2204.4 1291.1C2204.3 1294.1 2204.3 1297.2 2204.4 1300.0C2204.5 1302.8 2204.6 1305.4 2204.8 1307.6C2205.0 1309.7 2205.2 1311.5 2205.5 1312.7C2205.8 1314.0 2206.1 1314.6 2206.4 1314.7C2206.7 1314.8 2207.0 1314.2 2207.2 1313.1C2207.5 1312.1 2207.8 1310.4 2208.0 1308.3C2208.2 1306.3 2208.3 1303.7 2208.4 1301.0C2208.5 1298.2 2208.5 1295.2 2208.5 1292.2C2208.4 1289.2 2208.2 1286.1 2208.0 1283.3C2207.7 1280.5 2207.3 1277.9 2206.9 1275.7C2206.5 1273.5 2205.9 1271.7 2205.4 1270.5C2204.8 1269.3 2204.2 1268.6 2203.6 1268.5C2203.0 1268.4 2202.3 1268.9 2201.8 1270.0C2201.2 1271.1 2200.7 1272.7 2200.2 1274.8C2199.7 1276.9 2199.4 1279.4 2199.1 1282.1C2198.8 1284.9 2198.6 1287.9 2198.5 1290.9C2198.4 1293.9 2198.4 1296.9 2198.4 1299.8C2198.5 1302.6 2198.6 1305.2 2198.8 1307.4C2199.0 1309.6 2199.3 1311.4 2199.5 1312.6C2199.8 1313.9 2200.1 1314.6 2200.4 1314.7C2200.7 1314.8 2201.0 1314.3 2201.3 1313.2C2201.5 1312.2 2201.8 1310.5 2202.0 1308.5C2202.2 1306.4 2202.4 1303.9 2202.5 1301.2C2202.6 1298.4 2202.6 1295.4 2202.5 1292.4C2202.4 1289.4 2202.3 1286.4 2202.0 1283.5C2201.8 1280.7 2201.4 1278.1 2201.0 1275.9C2200.5 1273.7 2200.0 1271.9 2199.5 1270.6C2198.9 1269.3 2198.3 1268.6 2197.7 1268.5C2197.1 1268.4 2196.4 1268.9 2195.9 1269.9C2195.3 1271.0 2194.7 1272.6 2194.3 1274.6C2193.8 1276.7 2193.4 1279.2 2193.1 1281.9C2192.8 1284.7 2192.6 1287.7 2192.5 1290.7C2192.4 1293.7 2192.4 1296.7 2192.5 1299.6C2192.5 1302.4 2192.7 1305.0 2192.9 1307.2C2193.1 1309.5 2193.3 1311.3 2193.6 1312.6C2193.8 1313.8 2194.1 1314.6 2194.4 1314.7C2194.7 1314.8 2195.0 1314.3 2195.3 1313.3C2195.6 1312.3 2195.8 1310.7 2196.0 1308.6C2196.3 1306.6 2196.4 1304.1 2196.5 1301.4C2196.6 1298.6 2196.6 1295.7 2196.6 1292.6C2196.5 1289.6 2196.3 1286.6 2196.1 1283.7C2195.8 1280.9 2195.5 1278.3 2195.1 1276.0C2194.6 1273.8 2194.1 1272.0 2193.6 1270.7C2193.0 1269.4 2192.4 1268.7 2191.8 1268.5C2191.2 1268.4 2190.5 1268.8 2190.0 1269.9C2189.4 1270.9 2188.8 1272.5 2188.4 1274.5C2187.9 1276.5 2187.5 1279.0 2187.2 1281.7C2186.9 1284.5 2186.7 1287.4 2186.6 1290.5C2186.5 1293.5 2186.5 1296.5 2186.5 1299.4C2186.6 1302.2 2186.7 1304.8 2186.9 1307.1C2187.1 1309.3 2187.3 1311.2 2187.6 1312.5C2187.9 1313.8 2188.2 1314.5 2188.5 1314.7C2188.8 1314.8 2189.1 1314.4 2189.3 1313.4C2189.6 1312.4 2189.9 1310.8 2190.1 1308.8C2190.3 1306.8 2190.5 1304.3 2190.6 1301.6C2190.7 1298.8 2190.7 1295.9 2190.6 1292.9C2190.6 1289.8 2190.4 1286.8 2190.2 1283.9C2189.9 1281.1 2189.6 1278.4 2189.1 1276.2C2188.7 1273.9 2188.2 1272.1 2187.7 1270.8C2187.1 1269.5 2186.5 1268.7 2185.9 1268.5C2185.3 1268.4 2184.6 1268.8 2184.0 1269.8C2183.5 1270.8 2182.9 1272.3 2182.4 1274.4C2182.0 1276.4 2181.6 1278.8 2181.3 1281.5C2181.0 1284.2 2180.8 1287.2 2180.7 1290.2C2180.5 1293.3 2180.5 1296.3 2180.6 1299.2C2180.6 1302.0 2180.8 1304.7 2180.9 1306.9C2181.1 1309.2 2181.4 1311.0 2181.6 1312.4C2181.9 1313.7 2182.2 1314.5 2182.5 1314.7C2182.8 1314.8 2183.1 1314.4 2183.4 1313.4C2183.6 1312.5 2183.9 1310.9 2184.1 1308.9C2184.3 1306.9 2184.5 1304.5 2184.6 1301.8C2184.7 1299.1 2184.7 1296.1 2184.7 1293.1C2184.6 1290.1 2184.5 1287.0 2184.2 1284.1C2184.0 1281.3 2183.6 1278.6 2183.2 1276.4C2182.8 1274.1 2182.3 1272.2 2181.7 1270.9C2181.2 1269.5 2180.6 1268.7 2180.0 1268.6C2179.3 1268.4 2178.7 1268.8 2178.1 1269.7C2177.5 1270.7 2177.0 1272.2 2176.5 1274.2C2176.1 1276.2 2175.7 1278.6 2175.4 1281.3C2175.0 1284.0 2174.8 1287.0 2174.7 1290.0C2174.6 1293.0 2174.6 1296.1 2174.6 1298.9C2174.7 1301.8 2174.8 1304.5 2175.0 1306.8C2175.2 1309.0 2175.4 1310.9 2175.7 1312.3C2175.9 1313.6 2176.2 1314.4 2176.5 1314.6C2176.8 1314.9 2177.1 1314.5 2177.4 1313.5C2177.7 1312.6 2177.9 1311.0 2178.2 1309.1C2178.4 1307.1 2178.5 1304.7 2178.6 1302.0C2178.7 1299.3 2178.8 1296.3 2178.7 1293.3C2178.7 1290.3 2178.5 1287.2 2178.3 1284.4C2178.1 1281.5 2177.7 1278.8 2177.3 1276.5C2176.9 1274.2 2176.4 1272.3 2175.8 1271.0C2175.3 1269.6 2174.7 1268.8 2174.1 1268.6C2173.4 1268.3 2172.8 1268.7 2172.2 1269.6C2171.6 1270.6 2171.1 1272.1 2170.6 1274.1C2170.1 1276.0 2169.7 1278.4 2169.4 1281.1C2169.1 1283.8 2168.9 1286.8 2168.8 1289.8C2168.7 1292.8 2168.6 1295.9 2168.7 1298.7C2168.7 1301.6 2168.8 1304.3 2169.0 1306.6C2169.2 1308.9 2169.4 1310.8 2169.7 1312.2C2170.0 1313.5 2170.2 1314.4 2170.5 1314.6C2170.8 1314.9 2171.1 1314.5 2171.4 1313.6C2171.7 1312.7 2172.0 1311.2 2172.2 1309.2C2172.4 1307.3 2172.6 1304.8 2172.7 1302.2C2172.8 1299.5 2172.8 1296.5 2172.8 1293.5C2172.7 1290.5 2172.6 1287.4 2172.4 1284.6C2172.1 1281.7 2171.8 1279.0 2171.4 1276.7C2171.0 1274.4 2170.5 1272.5 2169.9 1271.1C2169.4 1269.7 2168.8 1268.8 2168.2 1268.6C2167.5 1268.3 2166.9 1268.7 2166.3 1269.6C2165.7 1270.5 2165.2 1272.0 2164.7 1273.9C2164.2 1275.9 2163.8 1278.3 2163.5 1280.9C2163.2 1283.6 2163.0 1286.6 2162.8 1289.6C2162.7 1292.6 2162.7 1295.7 2162.7 1298.5C2162.8 1301.4 2162.9 1304.1 2163.1 1306.4C2163.2 1308.7 2163.5 1310.7 2163.7 1312.1C2164.0 1313.5 2164.3 1314.3 2164.6 1314.6C2164.9 1314.9 2165.2 1314.6 2165.5 1313.7C2165.7 1312.8 2166.0 1311.3 2166.2 1309.3C2166.4 1307.4 2166.6 1305.0 2166.7 1302.3C2166.8 1299.7 2166.9 1296.7 2166.8 1293.7C2166.8 1290.7 2166.7 1287.7 2166.4 1284.8C2166.2 1281.9 2165.9 1279.2 2165.5 1276.9C2165.1 1274.5 2164.6 1272.6 2164.0 1271.2C2163.5 1269.8 2162.9 1268.9 2162.2 1268.6" stroke-dasharray="5.8 5.0"/><path d="M2221.3 1344.0C2221.0 1344.0 2220.7 1344.4 2220.4 1345.3C2220.1 1346.1 2219.8 1347.4 2219.6 1348.9C2219.4 1350.5 2219.2 1352.4 2219.1 1354.4C2219.0 1356.4 2218.9 1358.7 2218.9 1360.9C2218.9 1363.1 2218.9 1365.3 2219.0 1367.3C2219.1 1369.4 2219.2 1371.2 2219.4 1372.8C2219.5 1374.4 2219.7 1375.6 2219.9 1376.5C2220.1 1377.3 2220.3 1377.8 2220.5 1377.8C2220.7 1377.8 2220.9 1377.4 2221.1 1376.5C2221.3 1375.7 2221.5 1374.5 2221.6 1372.9C2221.8 1371.4 2221.9 1369.5 2222.0 1367.5C2222.1 1365.4 2222.1 1363.2 2222.1 1361.0C2222.1 1358.8 2222.0 1356.6 2221.9 1354.6C2221.8 1352.5 2221.6 1350.6 2221.4 1349.0C2221.2 1347.5 2220.9 1346.2 2220.7 1345.3C2220.4 1344.5 2220.1 1344.0 2219.7 1344.0C2219.4 1344.0 2219.1 1344.4 2218.8 1345.2C2218.5 1346.0 2218.3 1347.3 2218.0 1348.8C2217.8 1350.4 2217.7 1352.2 2217.5 1354.3C2217.4 1356.3 2217.3 1358.5 2217.3 1360.7C2217.3 1362.9 2217.3 1365.1 2217.4 1367.2C2217.5 1369.2 2217.6 1371.1 2217.8 1372.7C2217.9 1374.3 2218.1 1375.6 2218.3 1376.4C2218.5 1377.3 2218.7 1377.8 2218.9 1377.8C2219.1 1377.8 2219.3 1377.4 2219.5 1376.6C2219.7 1375.8 2219.9 1374.6 2220.0 1373.0C2220.2 1371.5 2220.3 1369.6 2220.4 1367.6C2220.5 1365.6 2220.5 1363.4 2220.5 1361.2C2220.5 1359.0 2220.5 1356.8 2220.4 1354.7C2220.2 1352.6 2220.1 1350.8 2219.9 1349.2C2219.6 1347.6 2219.4 1346.3 2219.1 1345.4C2218.8 1344.5 2218.5 1344.0 2218.2 1344.0C2217.9 1344.0 2217.6 1344.4 2217.3 1345.2C2217.0 1346.0 2216.7 1347.2 2216.5 1348.7C2216.3 1350.2 2216.1 1352.1 2216.0 1354.1C2215.8 1356.1 2215.8 1358.3 2215.7 1360.5C2215.7 1362.8 2215.8 1365.0 2215.8 1367.0C2215.9 1369.1 2216.0 1371.0 2216.2 1372.6C2216.3 1374.2 2216.5 1375.5 2216.7 1376.4C2216.9 1377.3 2217.1 1377.7 2217.3 1377.8C2217.5 1377.8 2217.7 1377.5 2217.9 1376.7C2218.1 1375.9 2218.3 1374.7 2218.5 1373.1C2218.6 1371.6 2218.7 1369.8 2218.8 1367.8C2218.9 1365.7 2219.0 1363.5 2219.0 1361.3C2219.0 1359.1 2218.9 1356.9 2218.8 1354.8C2218.7 1352.8 2218.5 1350.9 2218.3 1349.3C2218.1 1347.7 2217.8 1346.4 2217.5 1345.5C2217.3 1344.6 2216.9 1344.1 2216.6 1344.0C2216.3 1343.9 2216.0 1344.3 2215.7 1345.1C2215.4 1345.9 2215.1 1347.1 2214.9 1348.6C2214.7 1350.1 2214.5 1352.0 2214.4 1354.0C2214.3 1356.0 2214.2 1358.2 2214.2 1360.4C2214.1 1362.6 2214.2 1364.8 2214.3 1366.9C2214.3 1368.9 2214.4 1370.9 2214.6 1372.5C2214.7 1374.1 2214.9 1375.4 2215.1 1376.3C2215.3 1377.2 2215.5 1377.7 2215.7 1377.8C2215.9 1377.9 2216.1 1377.5 2216.3 1376.7C2216.5 1375.9 2216.7 1374.8 2216.9 1373.3C2217.0 1371.7 2217.2 1369.9 2217.2 1367.9C2217.3 1365.9 2217.4 1363.7 2217.4 1361.5C2217.4 1359.3 2217.3 1357.1 2217.2 1355.0C2217.1 1352.9 2216.9 1351.0 2216.7 1349.4C2216.5 1347.8 2216.3 1346.5 2216.0 1345.5C2215.7 1344.6 2215.4 1344.1 2215.1 1344.0C2214.8 1343.9 2214.4 1344.3 2214.1 1345.1C2213.9 1345.8 2213.6 1347.0 2213.4 1348.5C2213.1 1350.0 2212.9 1351.8 2212.8 1353.8C2212.7 1355.8 2212.6 1358.0 2212.6 1360.2C2212.6 1362.4 2212.6 1364.7 2212.7 1366.7C2212.7 1368.8 2212.9 1370.7 2213.0 1372.3C2213.2 1374.0 2213.3 1375.3 2213.5 1376.2C2213.7 1377.2 2213.9 1377.7 2214.1 1377.8C2214.3 1377.9 2214.5 1377.5 2214.7 1376.8C2214.9 1376.0 2215.1 1374.9 2215.3 1373.4C2215.4 1371.9 2215.6 1370.1 2215.7 1368.1C2215.7 1366.0 2215.8 1363.9 2215.8 1361.7C2215.8 1359.4 2215.7 1357.2 2215.6 1355.1C2215.5 1353.1 2215.4 1351.1 2215.2 1349.5C2215.0 1347.9 2214.7 1346.5 2214.4 1345.6C2214.1 1344.7 2213.8 1344.1 2213.5 1344.0C2213.2 1343.9 2212.9 1344.2 2212.6 1345.0C2212.3 1345.7 2212.0 1346.9 2211.8 1348.4C2211.6 1349.9 2211.4 1351.7 2211.2 1353.7C2211.1 1355.7 2211.0 1357.9 2211.0 1360.1C2211.0 1362.3 2211.0 1364.5 2211.1 1366.6C2211.2 1368.7 2211.3 1370.6 2211.4 1372.2C2211.6 1373.9 2211.7 1375.2 2211.9 1376.2C2212.1 1377.1 2212.3 1377.7 2212.5 1377.8C2212.7 1377.9 2212.9 1377.6 2213.1 1376.8C2213.3 1376.1 2213.5 1374.9 2213.7 1373.5C2213.8 1372.0 2214.0 1370.2 2214.1 1368.2C2214.2 1366.2 2214.2 1364.0 2214.2 1361.8C2214.2 1359.6 2214.2 1357.4 2214.1 1355.3C2214.0 1353.2 2213.8 1351.3 2213.6 1349.6C2213.4 1348.0 2213.1 1346.6 2212.9 1345.7C2212.6 1344.7 2212.3 1344.2 2212.0 1344.0C2211.6 1343.9 2211.3 1344.2 2211.0 1344.9C2210.7 1345.7 2210.5 1346.8 2210.2 1348.3C2210.0 1349.7 2209.8 1351.5 2209.7 1353.5C2209.5 1355.5 2209.5 1357.7 2209.4 1359.9C2209.4 1362.1 2209.4 1364.3 2209.5 1366.4C2209.6 1368.5 2209.7 1370.5 2209.8 1372.1C2210.0 1373.8 2210.1 1375.1 2210.3 1376.1C2210.5 1377.1 2210.7 1377.6 2210.9 1377.8C2211.1 1377.9 2211.3 1377.6 2211.5 1376.9C2211.7 1376.2 2211.9 1375.0 2212.1 1373.6C2212.3 1372.1 2212.4 1370.3 2212.5 1368.3C2212.6 1366.4 2212.6 1364.2 2212.6 1362.0C2212.6 1359.8 2212.6 1357.5 2212.5 1355.4C2212.4 1353.4 2212.2 1351.4 2212.0 1349.7C2211.8 1348.1 2211.6 1346.7 2211.3 1345.7C2211.0 1344.8 2210.7 1344.2 2210.4 1344.0C2210.1 1343.9 2209.8 1344.2 2209.5 1344.9C2209.2 1345.6 2208.9 1346.7 2208.7 1348.2C2208.4 1349.6 2208.2 1351.4 2208.1 1353.4C2208.0 1355.4 2207.9 1357.5 2207.9 1359.7C2207.8 1361.9 2207.8 1364.2 2207.9 1366.3C2208.0 1368.4 2208.1 1370.3 2208.2 1372.0C2208.4 1373.7 2208.5 1375.0 2208.7 1376.0C2208.9 1377.0 2209.1 1377.6 2209.3 1377.8C2209.5 1377.9 2209.8 1377.6 2210.0 1376.9C2210.2 1376.2 2210.3 1375.1 2210.5 1373.7C2210.7 1372.2 2210.8 1370.5 2210.9 1368.5C2211.0 1366.5 2211.0 1364.3 2211.1 1362.1C2211.1 1359.9 2211.0 1357.7 2210.9 1355.6C2210.8 1353.5 2210.7 1351.5 2210.5 1349.9C2210.3 1348.2 2210.0 1346.8 2209.7 1345.8C2209.5 1344.8 2209.2 1344.2 2208.8 1344.0C2208.5 1343.9 2208.2 1344.2 2207.9 1344.8C2207.6 1345.5 2207.3 1346.6 2207.1 1348.1C2206.9 1349.5 2206.7 1351.3 2206.5 1353.2C2206.4 1355.2 2206.3 1357.4 2206.3 1359.6C2206.2 1361.8 2206.3 1364.0 2206.3 1366.1C2206.4 1368.2 2206.5 1370.2 2206.6 1371.9C2206.8 1373.6 2207.0 1374.9 2207.1 1376.0C2207.3 1377.0 2207.5 1377.6 2207.7 1377.7C2207.9 1377.9 2208.2 1377.7 2208.4 1377.0C2208.6 1376.3 2208.7 1375.2 2208.9 1373.8C2209.1 1372.4 2209.2 1370.6 2209.3 1368.6C2209.4 1366.7 2209.5 1364.5 2209.5 1362.3C2209.5 1360.1 2209.4 1357.9 2209.3 1355.8C2209.3 1353.6 2209.1 1351.7 2208.9 1350.0C2208.7 1348.3 2208.5 1346.9 2208.2 1345.9C2207.9 1344.9 2207.6 1344.2 2207.3 1344.1C2207.0 1343.9 2206.7 1344.1 2206.4 1344.8C2206.1 1345.5 2205.8 1346.5 2205.5 1348.0C2205.3 1349.4 2205.1 1351.1 2205.0 1353.1C2204.8 1355.1 2204.7 1357.2 2204.7 1359.4C2204.7 1361.6 2204.7 1363.9 2204.7 1366.0C2204.8 1368.1 2204.9 1370.1 2205.1 1371.7C2205.2 1373.4 2205.4 1374.9 2205.6 1375.9C2205.7 1376.9 2205.9 1377.5 2206.1 1377.7C2206.4 1377.9 2206.6 1377.7 2206.8 1377.0C2207.0 1376.4 2207.2 1375.3 2207.3 1373.9C2207.5 1372.5 2207.6 1370.7 2207.7 1368.8C2207.8 1366.8 2207.9 1364.7 2207.9 1362.5C2207.9 1360.3 2207.9 1358.0 2207.8 1355.9C2207.7 1353.8 2207.5 1351.8 2207.3 1350.1C2207.1 1348.4 2206.9 1347.0 2206.6 1346.0C2206.3 1344.9 2206.0 1344.3 2205.7 1344.1" stroke-dasharray="5.8 5.0"/><path d="M2221.3 1419.8C2221.1 1419.8 2220.9 1420.1 2220.7 1420.6C2220.5 1421.0 2220.4 1421.8 2220.2 1422.7C2220.1 1423.6 2220.0 1424.7 2220.0 1425.9C2219.9 1427.1 2219.9 1428.4 2219.9 1429.7C2220.0 1431.0 2220.0 1432.3 2220.1 1433.5C2220.2 1434.7 2220.3 1435.8 2220.5 1436.7C2220.6 1437.6 2220.8 1438.3 2221.0 1438.8C2221.2 1439.3 2221.4 1439.6 2221.6 1439.6C2221.7 1439.6 2221.9 1439.4 2222.1 1438.9C2222.3 1438.4 2222.5 1437.7 2222.6 1436.7C2222.8 1435.8 2222.9 1434.7 2223.0 1433.5C2223.1 1432.4 2223.2 1431.1 2223.2 1429.8C2223.2 1428.5 2223.2 1427.2 2223.2 1426.0C2223.1 1424.8 2223.0 1423.7 2222.9 1422.8C2222.8 1421.8 2222.6 1421.1 2222.4 1420.6C2222.2 1420.1 2222.0 1419.8 2221.8 1419.8C2221.6 1419.8 2221.4 1420.0 2221.3 1420.5C2221.1 1421.0 2220.9 1421.7 2220.8 1422.6C2220.7 1423.5 2220.6 1424.6 2220.5 1425.8C2220.5 1427.0 2220.4 1428.3 2220.5 1429.6C2220.5 1430.9 2220.5 1432.2 2220.6 1433.4C2220.7 1434.6 2220.9 1435.7 2221.0 1436.6C2221.2 1437.5 2221.3 1438.3 2221.5 1438.8C2221.7 1439.3 2221.9 1439.6 2222.1 1439.6C2222.3 1439.6 2222.5 1439.4 2222.6 1438.9C2222.8 1438.4 2223.0 1437.7 2223.1 1436.8C2223.3 1435.9 2223.4 1434.8 2223.5 1433.6C2223.6 1432.4 2223.7 1431.2 2223.7 1429.9C2223.8 1428.6 2223.7 1427.3 2223.7 1426.1C2223.6 1424.9 2223.6 1423.8 2223.4 1422.8C2223.3 1421.9 2223.1 1421.1 2223.0 1420.6C2222.8 1420.1 2222.6 1419.8 2222.4 1419.8C2222.2 1419.8 2222.0 1420.0 2221.8 1420.5C2221.6 1421.0 2221.5 1421.7 2221.3 1422.6C2221.2 1423.5 2221.1 1424.5 2221.0 1425.7C2221.0 1426.9 2221.0 1428.2 2221.0 1429.5C2221.0 1430.8 2221.1 1432.1 2221.2 1433.3C2221.3 1434.5 2221.4 1435.6 2221.5 1436.5C2221.7 1437.5 2221.8 1438.2 2222.0 1438.8C2222.2 1439.3 2222.4 1439.6 2222.6 1439.6C2222.8 1439.6 2223.0 1439.4 2223.2 1438.9C2223.3 1438.5 2223.5 1437.8 2223.7 1436.9C2223.8 1436.0 2223.9 1434.9 2224.0 1433.7C2224.1 1432.5 2224.2 1431.3 2224.3 1430.0C2224.3 1428.7 2224.3 1427.4 2224.2 1426.2C2224.2 1424.9 2224.1 1423.8 2224.0 1422.9C2223.8 1422.0 2223.7 1421.2 2223.5 1420.7C2223.3 1420.1 2223.1 1419.8 2222.9 1419.8C2222.7 1419.8 2222.5 1420.0 2222.3 1420.4C2222.2 1420.9 2222.0 1421.6 2221.9 1422.5C2221.7 1423.4 2221.6 1424.5 2221.6 1425.6C2221.5 1426.8 2221.5 1428.1 2221.5 1429.4C2221.5 1430.7 2221.6 1432.0 2221.7 1433.2C2221.8 1434.4 2221.9 1435.5 2222.1 1436.5C2222.2 1437.4 2222.4 1438.2 2222.5 1438.7C2222.7 1439.3 2222.9 1439.6 2223.1 1439.6C2223.3 1439.6 2223.5 1439.4 2223.7 1439.0C2223.9 1438.5 2224.0 1437.8 2224.2 1436.9C2224.3 1436.1 2224.5 1435.0 2224.6 1433.8C2224.7 1432.6 2224.7 1431.3 2224.8 1430.0C2224.8 1428.8 2224.8 1427.5 2224.8 1426.2C2224.7 1425.0 2224.6 1423.9 2224.5 1423.0C2224.4 1422.0 2224.2 1421.2 2224.1 1420.7C2223.9 1420.2 2223.7 1419.9 2223.5 1419.8C2223.3 1419.8 2223.1 1420.0 2222.9 1420.4C2222.7 1420.9 2222.5 1421.6 2222.4 1422.4C2222.3 1423.3 2222.2 1424.4 2222.1 1425.6C2222.0 1426.7 2222.0 1428.0 2222.0 1429.3C2222.1 1430.6 2222.1 1431.9 2222.2 1433.1C2222.3 1434.3 2222.4 1435.5 2222.6 1436.4C2222.7 1437.4 2222.9 1438.1 2223.1 1438.7C2223.2 1439.2 2223.4 1439.5 2223.6 1439.6C2223.8 1439.6 2224.0 1439.4 2224.2 1439.0C2224.4 1438.6 2224.5 1437.9 2224.7 1437.0C2224.9 1436.1 2225.0 1435.1 2225.1 1433.9C2225.2 1432.7 2225.3 1431.4 2225.3 1430.1C2225.3 1428.9 2225.3 1427.5 2225.3 1426.3C2225.3 1425.1 2225.2 1424.0 2225.0 1423.0C2224.9 1422.1 2224.8 1421.3 2224.6 1420.7C2224.4 1420.2 2224.2 1419.9 2224.0 1419.8C2223.8 1419.8 2223.6 1419.9 2223.4 1420.4C2223.2 1420.8 2223.1 1421.5 2222.9 1422.4C2222.8 1423.2 2222.7 1424.3 2222.6 1425.5C2222.6 1426.6 2222.6 1427.9 2222.6 1429.2C2222.6 1430.5 2222.6 1431.8 2222.7 1433.0C2222.8 1434.2 2222.9 1435.4 2223.1 1436.3C2223.2 1437.3 2223.4 1438.1 2223.6 1438.6C2223.8 1439.2 2223.9 1439.5 2224.1 1439.6C2224.3 1439.7 2224.5 1439.5 2224.7 1439.0C2224.9 1438.6 2225.1 1437.9 2225.2 1437.1C2225.4 1436.2 2225.5 1435.1 2225.6 1434.0C2225.7 1432.8 2225.8 1431.5 2225.8 1430.2C2225.9 1428.9 2225.9 1427.6 2225.8 1426.4C2225.8 1425.2 2225.7 1424.1 2225.6 1423.1C2225.5 1422.1 2225.3 1421.3 2225.1 1420.8C2225.0 1420.2 2224.8 1419.9 2224.6 1419.8C2224.4 1419.7 2224.2 1419.9 2224.0 1420.4C2223.8 1420.8 2223.6 1421.4 2223.5 1422.3C2223.3 1423.2 2223.2 1424.2 2223.2 1425.4C2223.1 1426.5 2223.1 1427.8 2223.1 1429.1C2223.1 1430.4 2223.2 1431.7 2223.3 1432.9C2223.3 1434.2 2223.5 1435.3 2223.6 1436.3C2223.8 1437.2 2223.9 1438.0 2224.1 1438.6C2224.3 1439.2 2224.5 1439.5 2224.7 1439.6C2224.8 1439.7 2225.0 1439.5 2225.2 1439.1C2225.4 1438.6 2225.6 1438.0 2225.7 1437.1C2225.9 1436.3 2226.0 1435.2 2226.1 1434.1C2226.2 1432.9 2226.3 1431.6 2226.4 1430.3C2226.4 1429.0 2226.4 1427.7 2226.4 1426.5C2226.3 1425.3 2226.2 1424.1 2226.1 1423.2C2226.0 1422.2 2225.9 1421.4 2225.7 1420.8C2225.5 1420.2 2225.3 1419.9 2225.1 1419.8C2224.9 1419.7 2224.7 1419.9 2224.5 1420.3C2224.3 1420.7 2224.2 1421.4 2224.0 1422.2C2223.9 1423.1 2223.8 1424.1 2223.7 1425.3C2223.6 1426.5 2223.6 1427.7 2223.6 1429.0C2223.6 1430.3 2223.7 1431.6 2223.8 1432.8C2223.9 1434.1 2224.0 1435.2 2224.1 1436.2C2224.3 1437.2 2224.4 1438.0 2224.6 1438.6C2224.8 1439.1 2225.0 1439.5 2225.2 1439.6C2225.4 1439.7 2225.6 1439.5 2225.7 1439.1C2225.9 1438.7 2226.1 1438.0 2226.3 1437.2C2226.4 1436.3 2226.6 1435.3 2226.7 1434.1C2226.8 1433.0 2226.8 1431.7 2226.9 1430.4C2226.9 1429.1 2226.9 1427.8 2226.9 1426.6C2226.9 1425.4 2226.8 1424.2 2226.7 1423.2C2226.5 1422.3 2226.4 1421.4 2226.2 1420.9C2226.1 1420.3 2225.9 1419.9 2225.7 1419.8C2225.5 1419.7 2225.3 1419.9 2225.1 1420.3C2224.9 1420.7 2224.7 1421.3 2224.6 1422.2C2224.4 1423.0 2224.3 1424.1 2224.2 1425.2C2224.2 1426.4 2224.1 1427.6 2224.2 1428.9C2224.2 1430.2 2224.2 1431.5 2224.3 1432.8C2224.4 1434.0 2224.5 1435.1 2224.7 1436.1C2224.8 1437.1 2225.0 1437.9 2225.1 1438.5C2225.3 1439.1 2225.5 1439.5 2225.7 1439.6C2225.9 1439.7 2226.1 1439.5 2226.3 1439.1C2226.4 1438.7 2226.6 1438.1 2226.8 1437.2C2226.9 1436.4 2227.1 1435.4 2227.2 1434.2C2227.3 1433.1 2227.4 1431.8 2227.4 1430.5C2227.5 1429.2 2227.5 1427.9 2227.4 1426.7C2227.4 1425.5 2227.3 1424.3 2227.2 1423.3C2227.1 1422.3 2226.9 1421.5 2226.8 1420.9C2226.6 1420.3 2226.4 1419.9 2226.2 1419.8C2226.0 1419.7 2225.8 1419.9 2225.6 1420.3C2225.4 1420.7 2225.2 1421.3 2225.1 1422.1C2225.0 1423.0 2224.9 1424.0 2224.8 1425.1C2224.7 1426.3 2224.7 1427.5 2224.7 1428.8C2224.7 1430.1 2224.7 1431.4 2224.8 1432.7C2224.9 1433.9 2225.0 1435.1 2225.2 1436.1C2225.3 1437.0 2225.5 1437.9 2225.6 1438.5C2225.8 1439.1 2226.0 1439.4 2226.2 1439.6C2226.4 1439.7 2226.6 1439.5 2226.8 1439.2C2227.0 1438.8 2227.1 1438.1 2227.3 1437.3C2227.5 1436.5 2227.6 1435.5 2227.7 1434.3C2227.8 1433.2 2227.9 1431.9 2227.9 1430.6C2228.0 1429.3 2228.0 1428.0 2228.0 1426.8C2227.9 1425.5 2227.9 1424.4 2227.7 1423.4C2227.6 1422.4 2227.5 1421.6 2227.3 1420.9C2227.1 1420.3 2226.9 1420.0 2226.7 1419.8" stroke-dasharray="5.8 5.0"/><path d="M2221.3 1494.7C2221.2 1494.7 2221.0 1494.8 2220.9 1494.9C2220.8 1495.0 2220.7 1495.1 2220.6 1495.3C2220.5 1495.5 2220.5 1495.7 2220.4 1495.9C2220.4 1496.2 2220.4 1496.4 2220.4 1496.7C2220.5 1497.0 2220.5 1497.2 2220.6 1497.5C2220.6 1497.7 2220.7 1497.9 2220.8 1498.1C2220.9 1498.3 2221.0 1498.4 2221.2 1498.5C2221.3 1498.6 2221.4 1498.7 2221.6 1498.7C2221.7 1498.7 2221.8 1498.7 2221.9 1498.6C2222.1 1498.5 2222.2 1498.3 2222.3 1498.1C2222.4 1497.9 2222.5 1497.7 2222.6 1497.5C2222.6 1497.2 2222.7 1497.0 2222.7 1496.7C2222.7 1496.5 2222.7 1496.2 2222.7 1495.9C2222.7 1495.7 2222.6 1495.5 2222.5 1495.3C2222.4 1495.1 2222.3 1495.0 2222.2 1494.9C2222.1 1494.8 2222.0 1494.7 2221.8 1494.7C2221.7 1494.7 2221.6 1494.7 2221.5 1494.8C2221.3 1494.9 2221.2 1495.1 2221.2 1495.3C2221.1 1495.5 2221.0 1495.7 2221.0 1495.9C2220.9 1496.2 2220.9 1496.4 2221.0 1496.7C2221.0 1496.9 2221.0 1497.2 2221.1 1497.4C2221.2 1497.7 2221.2 1497.9 2221.4 1498.1C2221.5 1498.3 2221.6 1498.4 2221.7 1498.5C2221.8 1498.6 2221.9 1498.7 2222.1 1498.7C2222.2 1498.7 2222.3 1498.7 2222.5 1498.6C2222.6 1498.5 2222.7 1498.3 2222.8 1498.1C2222.9 1498.0 2223.0 1497.7 2223.1 1497.5C2223.2 1497.3 2223.2 1497.0 2223.2 1496.7C2223.2 1496.5 2223.2 1496.2 2223.2 1496.0C2223.2 1495.7 2223.1 1495.5 2223.1 1495.3C2223.0 1495.1 2222.9 1495.0 2222.8 1494.9C2222.6 1494.8 2222.5 1494.7 2222.4 1494.7C2222.2 1494.7 2222.1 1494.7 2222.0 1494.8C2221.9 1494.9 2221.8 1495.1 2221.7 1495.3C2221.6 1495.4 2221.5 1495.7 2221.5 1495.9C2221.5 1496.1 2221.5 1496.4 2221.5 1496.7C2221.5 1496.9 2221.6 1497.2 2221.6 1497.4C2221.7 1497.7 2221.8 1497.9 2221.9 1498.1C2222.0 1498.3 2222.1 1498.4 2222.2 1498.5C2222.3 1498.6 2222.5 1498.7 2222.6 1498.7C2222.7 1498.7 2222.9 1498.7 2223.0 1498.6C2223.1 1498.5 2223.2 1498.3 2223.3 1498.1C2223.4 1498.0 2223.5 1497.8 2223.6 1497.5C2223.7 1497.3 2223.7 1497.0 2223.8 1496.8C2223.8 1496.5 2223.8 1496.2 2223.7 1496.0C2223.7 1495.7 2223.7 1495.5 2223.6 1495.3C2223.5 1495.1 2223.4 1495.0 2223.3 1494.9C2223.2 1494.8 2223.0 1494.7 2222.9 1494.7C2222.8 1494.7 2222.7 1494.7 2222.5 1494.8C2222.4 1494.9 2222.3 1495.1 2222.2 1495.2C2222.1 1495.4 2222.1 1495.6 2222.0 1495.9C2222.0 1496.1 2222.0 1496.4 2222.0 1496.6C2222.0 1496.9 2222.1 1497.2 2222.1 1497.4C2222.2 1497.7 2222.3 1497.9 2222.4 1498.1C2222.5 1498.3 2222.6 1498.4 2222.7 1498.5C2222.9 1498.6 2223.0 1498.7 2223.1 1498.7C2223.3 1498.7 2223.4 1498.7 2223.5 1498.6C2223.6 1498.5 2223.8 1498.3 2223.9 1498.2C2224.0 1498.0 2224.1 1497.8 2224.1 1497.5C2224.2 1497.3 2224.3 1497.0 2224.3 1496.8C2224.3 1496.5 2224.3 1496.2 2224.3 1496.0C2224.3 1495.8 2224.2 1495.5 2224.1 1495.3C2224.0 1495.1 2223.9 1495.0 2223.8 1494.9C2223.7 1494.8 2223.6 1494.7 2223.5 1494.7C2223.3 1494.7 2223.2 1494.7 2223.1 1494.8C2223.0 1494.9 2222.8 1495.1 2222.8 1495.2C2222.7 1495.4 2222.6 1495.6 2222.6 1495.9C2222.5 1496.1 2222.5 1496.4 2222.5 1496.6C2222.6 1496.9 2222.6 1497.1 2222.7 1497.4C2222.7 1497.6 2222.8 1497.9 2222.9 1498.1C2223.0 1498.2 2223.1 1498.4 2223.3 1498.5C2223.4 1498.6 2223.5 1498.7 2223.6 1498.7C2223.8 1498.7 2223.9 1498.7 2224.0 1498.6C2224.2 1498.5 2224.3 1498.4 2224.4 1498.2C2224.5 1498.0 2224.6 1497.8 2224.7 1497.5C2224.7 1497.3 2224.8 1497.1 2224.8 1496.8C2224.8 1496.5 2224.8 1496.3 2224.8 1496.0C2224.8 1495.8 2224.7 1495.5 2224.7 1495.4C2224.6 1495.2 2224.5 1495.0 2224.4 1494.9C2224.3 1494.8 2224.1 1494.7 2224.0 1494.7C2223.9 1494.7 2223.7 1494.7 2223.6 1494.8C2223.5 1494.9 2223.4 1495.0 2223.3 1495.2C2223.2 1495.4 2223.1 1495.6 2223.1 1495.8C2223.1 1496.1 2223.1 1496.3 2223.1 1496.6C2223.1 1496.9 2223.1 1497.1 2223.2 1497.4C2223.3 1497.6 2223.3 1497.8 2223.4 1498.0C2223.5 1498.2 2223.7 1498.4 2223.8 1498.5C2223.9 1498.6 2224.0 1498.7 2224.2 1498.7C2224.3 1498.7 2224.4 1498.7 2224.6 1498.6C2224.7 1498.5 2224.8 1498.4 2224.9 1498.2C2225.0 1498.0 2225.1 1497.8 2225.2 1497.6C2225.3 1497.3 2225.3 1497.1 2225.3 1496.8C2225.4 1496.5 2225.4 1496.3 2225.3 1496.0C2225.3 1495.8 2225.3 1495.6 2225.2 1495.4C2225.1 1495.2 2225.0 1495.0 2224.9 1494.9C2224.8 1494.8 2224.7 1494.7 2224.5 1494.7C2224.4 1494.7 2224.3 1494.7 2224.2 1494.8C2224.0 1494.9 2223.9 1495.0 2223.8 1495.2C2223.7 1495.4 2223.7 1495.6 2223.6 1495.8C2223.6 1496.1 2223.6 1496.3 2223.6 1496.6C2223.6 1496.8 2223.7 1497.1 2223.7 1497.4C2223.8 1497.6 2223.9 1497.8 2224.0 1498.0C2224.1 1498.2 2224.2 1498.4 2224.3 1498.5C2224.4 1498.6 2224.6 1498.7 2224.7 1498.7C2224.8 1498.7 2224.9 1498.7 2225.1 1498.6C2225.2 1498.5 2225.3 1498.4 2225.4 1498.2C2225.5 1498.0 2225.6 1497.8 2225.7 1497.6C2225.8 1497.3 2225.8 1497.1 2225.9 1496.8C2225.9 1496.6 2225.9 1496.3 2225.9 1496.1C2225.9 1495.8 2225.8 1495.6 2225.7 1495.4C2225.7 1495.2 2225.6 1495.0 2225.4 1494.9C2225.3 1494.8 2225.2 1494.7 2225.1 1494.7C2224.9 1494.7 2224.8 1494.7 2224.7 1494.8C2224.6 1494.9 2224.5 1495.0 2224.4 1495.2C2224.3 1495.4 2224.2 1495.6 2224.2 1495.8C2224.1 1496.0 2224.1 1496.3 2224.1 1496.6C2224.1 1496.8 2224.2 1497.1 2224.2 1497.3C2224.3 1497.6 2224.4 1497.8 2224.5 1498.0C2224.6 1498.2 2224.7 1498.4 2224.8 1498.5C2224.9 1498.6 2225.1 1498.7 2225.2 1498.7C2225.3 1498.7 2225.5 1498.7 2225.6 1498.6C2225.7 1498.5 2225.8 1498.4 2226.0 1498.2C2226.1 1498.0 2226.2 1497.8 2226.2 1497.6C2226.3 1497.4 2226.4 1497.1 2226.4 1496.8C2226.4 1496.6 2226.4 1496.3 2226.4 1496.1C2226.4 1495.8 2226.3 1495.6 2226.3 1495.4C2226.2 1495.2 2226.1 1495.0 2226.0 1494.9C2225.9 1494.8 2225.7 1494.7 2225.6 1494.7C2225.5 1494.7 2225.4 1494.7 2225.2 1494.8C2225.1 1494.9 2225.0 1495.0 2224.9 1495.2C2224.8 1495.4 2224.8 1495.6 2224.7 1495.8C2224.7 1496.0 2224.7 1496.3 2224.7 1496.5C2224.7 1496.8 2224.7 1497.1 2224.8 1497.3C2224.8 1497.6 2224.9 1497.8 2225.0 1498.0C2225.1 1498.2 2225.2 1498.4 2225.3 1498.5C2225.5 1498.6 2225.6 1498.7 2225.7 1498.7C2225.9 1498.7 2226.0 1498.7 2226.1 1498.6C2226.2 1498.5 2226.4 1498.4 2226.5 1498.2C2226.6 1498.1 2226.7 1497.8 2226.8 1497.6C2226.8 1497.4 2226.9 1497.1 2226.9 1496.9C2227.0 1496.6 2227.0 1496.3 2226.9 1496.1C2226.9 1495.8 2226.9 1495.6 2226.8 1495.4C2226.7 1495.2 2226.6 1495.0 2226.5 1494.9C2226.4 1494.8 2226.3 1494.7 2226.2 1494.7C2226.0 1494.7 2225.9 1494.7 2225.8 1494.8C2225.6 1494.9 2225.5 1495.0 2225.4 1495.2C2225.4 1495.3 2225.3 1495.5 2225.2 1495.8C2225.2 1496.0 2225.2 1496.3 2225.2 1496.5C2225.2 1496.8 2225.2 1497.1 2225.3 1497.3C2225.4 1497.5 2225.4 1497.8 2225.5 1498.0C2225.6 1498.2 2225.7 1498.4 2225.9 1498.5C2226.0 1498.6 2226.1 1498.7 2226.2 1498.7C2226.4 1498.7 2226.5 1498.7 2226.6 1498.6C2226.8 1498.5 2226.9 1498.4 2227.0 1498.2C2227.1 1498.1 2227.2 1497.9 2227.3 1497.6C2227.4 1497.4 2227.4 1497.1 2227.4 1496.9C2227.5 1496.6 2227.5 1496.4 2227.5 1496.1C2227.5 1495.9 2227.4 1495.6 2227.3 1495.4C2227.3 1495.2 2227.2 1495.1 2227.1 1494.9C2226.9 1494.8 2226.8 1494.7 2226.7 1494.7" stroke-dasharray="5.8 5.0"/>
</g>
<g fill="none" stroke="#ffff00" stroke-width="2.3"><circle cx="2221.3" cy="901.5" r="9.8"/><circle cx="2147.2" cy="901.5" r="9.8"/><circle cx="2073.1" cy="901.5" r="9.8"/><circle cx="1999.0" cy="901.5" r="9.8"/><circle cx="1924.9" cy="901.5" r="9.8"/><circle cx="1850.8" cy="901.5" r="9.8"/><circle cx="1776.7" cy="901.5" r="9.8"/><circle cx="1702.6" cy="901.5" r="9.8"/><circle cx="1628.5" cy="901.5" r="9.8"/><circle cx="1554.4" cy="901.5" r="9.8"/><circle cx="2221.3" cy="962.5" r="9.8"/><circle cx="2166.6" cy="962.5" r="9.8"/><circle cx="2111.9" cy="962.5" r="9.8"/><circle cx="2057.2" cy="962.5" r="9.8"/><circle cx="2002.5" cy="962.5" r="9.8"/><circle cx="1947.8" cy="962.5" r="9.8"/><circle cx="1893.1" cy="962.5" r="9.8"/><circle cx="1838.4" cy="962.5" r="9.8"/><circle cx="1783.7" cy="962.5" r="9.8"/><circle cx="1729.0" cy="962.5" r="9.8"/><circle cx="2221.3" cy="1040.0" r="9.8"/><circle cx="2185.1" cy="1040.0" r="9.8"/><circle cx="2148.8" cy="1040.0" r="9.8"/><circle cx="2112.6" cy="1040.0" r="9.8"/><circle cx="2076.3" cy="1040.0" r="9.8"/><circle cx="2040.1" cy="1040.0" r="9.8"/><circle cx="2003.8" cy="1040.0" r="9.8"/><circle cx="1967.6" cy="1040.0" r="9.8"/><circle cx="1931.3" cy="1040.0" r="9.8"/><circle cx="1895.1" cy="1040.0" r="9.8"/><circle cx="2221.3" cy="1116.5" r="9.8"/><circle cx="2198.9" cy="1116.5" r="9.8"/><circle cx="2176.5" cy="1116.5" r="9.8"/><circle cx="2154.1" cy="1116.5" r="9.8"/><circle cx="2131.7" cy="1116.5" r="9.8"/><circle cx="2109.3" cy="1116.5" r="9.8"/><circle cx="2086.9" cy="1116.5" r="9.8"/><circle cx="2064.5" cy="1116.5" r="9.8"/><circle cx="2042.1" cy="1116.5" r="9.8"/><circle cx="2019.7" cy="1116.5" r="9.8"/><circle cx="2221.3" cy="1193.8" r="9.8"/><circle cx="2208.5" cy="1193.8" r="9.8"/><circle cx="2195.7" cy="1193.8" r="9.8"/><circle cx="2182.9" cy="1193.8" r="9.8"/><circle cx="2170.1" cy="1193.8" r="9.8"/><circle cx="2157.3" cy="1193.8" r="9.8"/><circle cx="2144.5" cy="1193.8" r="9.8"/><circle cx="2131.7" cy="1193.8" r="9.8"/><circle cx="2118.9" cy="1193.8" r="9.8"/><circle cx="2106.1" cy="1193.8" r="9.8"/><circle cx="2221.3" cy="1268.5" r="9.8"/><circle cx="2215.4" cy="1268.5" r="9.8"/><circle cx="2209.4" cy="1268.5" r="9.8"/><circle cx="2203.5" cy="1268.5" r="9.8"/><circle cx="2197.5" cy="1268.5" r="9.8"/><circle cx="2191.6" cy="1268.5" r="9.8"/><circle cx="2185.6" cy="1268.5" r="9.8"/><circle cx="2179.7" cy="1268.5" r="9.8"/><circle cx="2173.7" cy="1268.5" r="9.8"/><circle cx="2167.8" cy="1268.5" r="9.8"/><circle cx="2221.3" cy="1344.0" r="9.8"/><circle cx="2219.7" cy="1344.0" r="9.8"/><circle cx="2218.1" cy="1344.0" r="9.8"/><circle cx="2216.6" cy="1344.0" r="9.8"/><circle cx="2215.0" cy="1344.0" r="9.8"/><circle cx="2213.4" cy="1344.0" r="9.8"/><circle cx="2211.8" cy="1344.0" r="9.8"/><circle cx="2210.2" cy="1344.0" r="9.8"/><circle cx="2208.7" cy="1344.0" r="9.8"/><circle cx="2207.1" cy="1344.0" r="9.8"/><circle cx="2221.3" cy="1419.8" r="9.8"/><circle cx="2221.8" cy="1419.8" r="9.8"/><circle cx="2222.4" cy="1419.8" r="9.8"/><circle cx="2222.9" cy="1419.8" r="9.8"/><circle cx="2223.4" cy="1419.8" r="9.8"/><circle cx="2224.0" cy="1419.8" r="9.8"/><circle cx="2224.5" cy="1419.8" r="9.8"/><circle cx="2225.0" cy="1419.8" r="9.8"/><circle cx="2225.5" cy="1419.8" r="9.8"/><circle cx="2226.1" cy="1419.8" r="9.8"/><circle cx="2221.3" cy="1494.7" r="9.8"/><circle cx="2221.8" cy="1494.7" r="9.8"/><circle cx="2222.4" cy="1494.7" r="9.8"/><circle cx="2222.9" cy="1494.7" r="9.8"/><circle cx="2223.4" cy="1494.7" r="9.8"/><circle cx="2224.0" cy="1494.7" r="9.8"/><circle cx="2224.5" cy="1494.7" r="9.8"/><circle cx="2225.0" cy="1494.7" r="9.8"/><circle cx="2225.5" cy="1494.7" r="9.8"/><circle cx="2226.1" cy="1494.7" r="9.8"/></g>
<path d="M2206.6 901.5h29.4M2221.3 886.8v29.4M2206.6 962.5h29.4M2221.3 947.8v29.4M2206.6 1040.0h29.4M2221.3 1025.3v29.4M2206.6 1116.5h29.4M2221.3 1101.8v29.4M2206.6 1193.8h29.4M2221.3 1179.1v29.4M2206.6 1268.5h29.4M2221.3 1253.8v29.4M2206.6 1344.0h29.4M2221.3 1329.3v29.4M2206.6 1419.8h29.4M2221.3 1405.1v29.4M2206.6 1494.7h29.4M2221.3 1480.0v29.4" stroke="#ff0000" stroke-width="9.7" fill="none"/>
<path d="M1486.0 886.5L1497.5 901.5L1486.0 916.5L1474.5 901.5ZM1679.0 947.5L1690.5 962.5L1679.0 977.5L1667.5 962.5ZM1863.0 1025.0L1874.5 1040.0L1863.0 1055.0L1851.5 1040.0ZM1998.5 1101.5L2010.0 1116.5L1998.5 1131.5L1987.0 1116.5ZM2095.4 1178.8L2106.9 1193.8L2095.4 1208.8L2083.9 1193.8ZM2162.7 1253.5L2174.2 1268.5L2162.7 1283.5L2151.2 1268.5ZM2205.7 1329.0L2217.2 1344.0L2205.7 1359.0L2194.2 1344.0ZM2226.5 1404.8L2238.0 1419.8L2226.5 1434.8L2215.0 1419.8ZM2226.5 1479.7L2238.0 1494.7L2226.5 1509.7L2215.0 1494.7Z" stroke="#ff0000" stroke-width="7.6" fill="none" stroke-linejoin="miter" stroke-miterlimit="10"/>
<path d="M193.5 700v-11.5M193.5 26v11.5M540.5 700v-11.5M540.5 26v11.5M887.5 700v-11.5M887.5 26v11.5M1234.5 700v-11.5M1234.5 26v11.5M193.5 26.0h11.5M1234.5 26.0h-11.5M193.5 160.9h11.5M1234.5 160.9h-11.5M193.5 295.8h11.5M1234.5 295.8h-11.5M193.5 430.7h11.5M1234.5 430.7h-11.5M193.5 565.6h11.5M1234.5 565.6h-11.5M193.5 700.5h11.5M1234.5 700.5h-11.5M193.5 26H1234.5V700H193.5Z" stroke="#262626" stroke-width="1.7" fill="none" stroke-linecap="square"/>
<path d="M1353.8 700v-11.5M1353.8 26v11.5M1527.4 700v-11.5M1527.4 26v11.5M1701.0 700v-11.5M1701.0 26v11.5M1874.6 700v-11.5M1874.6 26v11.5M2048.3 700v-11.5M2048.3 26v11.5M2221.9 700v-11.5M2221.9 26v11.5M2395.5 700v-11.5M2395.5 26v11.5M1353.8 26.0h11.5M2395.5 26.0h-11.5M1353.8 138.3h11.5M2395.5 138.3h-11.5M1353.8 250.6h11.5M2395.5 250.6h-11.5M1353.8 363.0h11.5M2395.5 363.0h-11.5M1353.8 475.3h11.5M2395.5 475.3h-11.5M1353.8 587.7h11.5M2395.5 587.7h-11.5M1353.8 700.0h11.5M2395.5 700.0h-11.5M1353.8 26H2395.5V700H1353.8Z" stroke="#262626" stroke-width="1.7" fill="none" stroke-linecap="square"/>
<path d="M193.5 1525v-11.5M521.1 1525v-11.5M848.7 1525v-11.5M1176.3 1525v-11.5M193.5 849.5h11.5M193.5 984.6h11.5M193.5 1119.7h11.5M193.5 1254.8h11.5M193.5 1389.9h11.5M193.5 1525.0h11.5M193.5 849.5V1525H1234.5" stroke="#262626" stroke-width="1.7" fill="none" stroke-linecap="square"/>
<path d="M1353.8 1525v-11.5M1527.4 1525v-11.5M1701.1 1525v-11.5M1874.7 1525v-11.5M2048.3 1525v-11.5M2221.9 1525v-11.5M2395.5 1525v-11.5M1353.8 849.5h11.5M1353.8 962.1h11.5M1353.8 1074.7h11.5M1353.8 1187.3h11.5M1353.8 1299.8h11.5M1353.8 1412.4h11.5M1353.8 1525.0h11.5M1353.8 849.5V1525H2395.5" stroke="#262626" stroke-width="1.7" fill="none" stroke-linecap="square"/>
<path d="M193.5 2350.4v-11.5M367.0 2350.4v-11.5M540.5 2350.4v-11.5M714.0 2350.4v-11.5M887.5 2350.4v-11.5M1061.0 2350.4v-11.5M1234.5 2350.4v-11.5M193.5 1674.6h11.5M193.5 1899.9h11.5M193.5 2125.1h11.5M193.5 2350.4h11.5M193.5 1674.6V2350.4H1234.5" stroke="#262626" stroke-width="1.7" fill="none" stroke-linecap="square"/>
<path d="M1353.8 2350.4v-11.5M1562.1 2350.4v-11.5M1770.5 2350.4v-11.5M1978.8 2350.4v-11.5M2187.2 2350.4v-11.5M2395.5 2350.4v-11.5M1353.8 1674.6h11.5M1353.8 1787.2h11.5M1353.8 1899.8h11.5M1353.8 2012.5h11.5M1353.8 2125.1h11.5M1353.8 2237.7h11.5M1353.8 2350.4h11.5M1353.8 1674.6V2350.4H2395.5" stroke="#262626" stroke-width="1.7" fill="none" stroke-linecap="square"/>
<path d="M193.5 1674.6L852.6 1692.6M193.5 1674.6L950 1707M193.5 1674.6L1033 1733.3M193.5 1674.6L1077.1 1780.5M193.5 1674.6L1038.2 1866.1M193.5 1674.6L852.1 2015.6M193.5 1674.6L387.3 2295.1" stroke="#aee8f6" stroke-width="6.1" fill="none" stroke-linecap="round"/>
<path d="M178.8 1674.6h29.4M193.5 1659.9v29.4" stroke="#ff0000" stroke-width="10" fill="none"/>
<path d="M852.6 1677.6L864.1 1692.6L852.6 1707.6L841.1 1692.6ZM950.0 1692.0L961.5 1707.0L950.0 1722.0L938.5 1707.0ZM1033.0 1718.3L1044.5 1733.3L1033.0 1748.3L1021.5 1733.3ZM1077.1 1765.5L1088.6 1780.5L1077.1 1795.5L1065.6 1780.5ZM1038.2 1851.1L1049.7 1866.1L1038.2 1881.1L1026.7 1866.1ZM852.1 2000.6L863.6 2015.6L852.1 2030.6L840.6 2015.6ZM387.3 2280.1L398.8 2295.1L387.3 2310.1L375.8 2295.1Z" stroke="#ff0000" stroke-width="7.6" fill="none" stroke-miterlimit="10"/>
<path d="M1353.8 1787.3L1639.7 1783.4M1353.8 1787.3L1652.3 1783.4M1353.8 1787.3L1679.2 1797.1M1353.8 1787.3L1721.2 1825.4M1353.8 1787.3L1781.3 1869.4M1353.8 1787.3L1862.4 1932.9M1353.8 1787.3L1967.8 2021.6M1353.8 1787.3L2103 2142.2M1353.8 1787.3L2236.7 2268.3" stroke="#aee8f6" stroke-width="6.1" fill="none" stroke-linecap="butt"/>
<path d="M1339.1 1787.3h29.4M1353.8 1772.6v29.4" stroke="#ff0000" stroke-width="10" fill="none"/>
<path d="M1639.7 1768.4L1651.2 1783.4L1639.7 1798.4L1628.2 1783.4ZM1652.3 1768.4L1663.8 1783.4L1652.3 1798.4L1640.8 1783.4ZM1679.2 1782.1L1690.7 1797.1L1679.2 1812.1L1667.7 1797.1ZM1721.2 1810.4L1732.7 1825.4L1721.2 1840.4L1709.7 1825.4ZM1781.3 1854.4L1792.8 1869.4L1781.3 1884.4L1769.8 1869.4ZM1862.4 1917.9L1873.9 1932.9L1862.4 1947.9L1850.9 1932.9ZM1967.8 2006.6L1979.3 2021.6L1967.8 2036.6L1956.3 2021.6ZM2103.0 2127.2L2114.5 2142.2L2103.0 2157.2L2091.5 2142.2ZM2236.7 2253.3L2248.2 2268.3L2236.7 2283.3L2225.2 2268.3Z" stroke="#ff0000" stroke-width="7.6" fill="none" stroke-miterlimit="10"/>
<g font-size="46" fill="#262626" stroke="#262626" stroke-width="0.45"><text transform="translate(193.5 755.3) scale(1.045 1)" text-anchor="middle">-0.05</text><text transform="translate(540.5 755.3) scale(1.045 1)" text-anchor="middle">0</text><text transform="translate(887.5 755.3) scale(1.045 1)" text-anchor="middle">0.05</text><text transform="translate(1234.5 755.3) scale(1.045 1)" text-anchor="middle">0.1</text><text transform="translate(176.2 37.3) scale(1.045 1)" text-anchor="end">0.2</text><text transform="translate(176.2 172.2) scale(1.045 1)" text-anchor="end">0</text><text transform="translate(176.2 307.1) scale(1.045 1)" text-anchor="end">-0.2</text><text transform="translate(176.2 442.0) scale(1.045 1)" text-anchor="end">-0.4</text><text transform="translate(176.2 576.9) scale(1.045 1)" text-anchor="end">-0.6</text><text transform="translate(176.2 711.8) scale(1.045 1)" text-anchor="end">-0.8</text></g>
<g font-size="46" fill="#262626" stroke="#262626" stroke-width="0.45"><text transform="translate(1353.8 755.3) scale(1.045 1)" text-anchor="middle">-0.2</text><text transform="translate(1527.4 755.3) scale(1.045 1)" text-anchor="middle">0</text><text transform="translate(1701.0 755.3) scale(1.045 1)" text-anchor="middle">0.2</text><text transform="translate(1874.6 755.3) scale(1.045 1)" text-anchor="middle">0.4</text><text transform="translate(2048.3 755.3) scale(1.045 1)" text-anchor="middle">0.6</text><text transform="translate(2221.9 755.3) scale(1.045 1)" text-anchor="middle">0.8</text><text transform="translate(2395.5 755.3) scale(1.045 1)" text-anchor="middle">1</text><text transform="translate(1336.5 37.3) scale(1.045 1)" text-anchor="end">0.2</text><text transform="translate(1336.5 149.6) scale(1.045 1)" text-anchor="end">0</text><text transform="translate(1336.5 261.9) scale(1.045 1)" text-anchor="end">-0.2</text><text transform="translate(1336.5 374.3) scale(1.045 1)" text-anchor="end">-0.4</text><text transform="translate(1336.5 486.6) scale(1.045 1)" text-anchor="end">-0.6</text><text transform="translate(1336.5 599.0) scale(1.045 1)" text-anchor="end">-0.8</text><text transform="translate(1336.5 711.3) scale(1.045 1)" text-anchor="end">-1</text></g>
<g font-size="46" fill="#262626" stroke="#262626" stroke-width="0.45"><text transform="translate(193.5 1580.3) scale(1.045 1)" text-anchor="middle">-0.15</text><text transform="translate(521.1 1580.3) scale(1.045 1)" text-anchor="middle">-0.1</text><text transform="translate(848.7 1580.3) scale(1.045 1)" text-anchor="middle">-0.05</text><text transform="translate(1176.3 1580.3) scale(1.045 1)" text-anchor="middle">0</text><text transform="translate(176.2 860.8) scale(1.045 1)" text-anchor="end">0.2</text><text transform="translate(176.2 995.9) scale(1.045 1)" text-anchor="end">0</text><text transform="translate(176.2 1131.0) scale(1.045 1)" text-anchor="end">-0.2</text><text transform="translate(176.2 1266.1) scale(1.045 1)" text-anchor="end">-0.4</text><text transform="translate(176.2 1401.2) scale(1.045 1)" text-anchor="end">-0.6</text><text transform="translate(176.2 1536.3) scale(1.045 1)" text-anchor="end">-0.8</text></g>
<g font-size="46" fill="#262626" stroke="#262626" stroke-width="0.45"><text transform="translate(1353.8 1580.3) scale(1.045 1)" text-anchor="middle">-2.5</text><text transform="translate(1527.4 1580.3) scale(1.045 1)" text-anchor="middle">-2</text><text transform="translate(1701.1 1580.3) scale(1.045 1)" text-anchor="middle">-1.5</text><text transform="translate(1874.7 1580.3) scale(1.045 1)" text-anchor="middle">-1</text><text transform="translate(2048.3 1580.3) scale(1.045 1)" text-anchor="middle">-0.5</text><text transform="translate(2221.9 1580.3) scale(1.045 1)" text-anchor="middle">0</text><text transform="translate(2395.5 1580.3) scale(1.045 1)" text-anchor="middle">0.5</text><text transform="translate(1336.5 860.8) scale(1.045 1)" text-anchor="end">0.2</text><text transform="translate(1336.5 973.4) scale(1.045 1)" text-anchor="end">0</text><text transform="translate(1336.5 1086.0) scale(1.045 1)" text-anchor="end">-0.2</text><text transform="translate(1336.5 1198.6) scale(1.045 1)" text-anchor="end">-0.4</text><text transform="translate(1336.5 1311.1) scale(1.045 1)" text-anchor="end">-0.6</text><text transform="translate(1336.5 1423.7) scale(1.045 1)" text-anchor="end">-0.8</text><text transform="translate(1336.5 1536.3) scale(1.045 1)" text-anchor="end">-1</text></g>
<g font-size="46" fill="#262626" stroke="#262626" stroke-width="0.45"><text transform="translate(193.5 2405.7) scale(1.045 1)" text-anchor="middle">0</text><text transform="translate(367.0 2405.7) scale(1.045 1)" text-anchor="middle">0.01</text><text transform="translate(540.5 2405.7) scale(1.045 1)" text-anchor="middle">0.02</text><text transform="translate(714.0 2405.7) scale(1.045 1)" text-anchor="middle">0.03</text><text transform="translate(887.5 2405.7) scale(1.045 1)" text-anchor="middle">0.04</text><text transform="translate(1061.0 2405.7) scale(1.045 1)" text-anchor="middle">0.05</text><text transform="translate(1234.5 2405.7) scale(1.045 1)" text-anchor="middle">0.06</text><text transform="translate(176.2 1685.9) scale(1.045 1)" text-anchor="end">0</text><text transform="translate(176.2 1911.2) scale(1.045 1)" text-anchor="end">-0.05</text><text transform="translate(176.2 2136.4) scale(1.045 1)" text-anchor="end">-0.1</text><text transform="translate(176.2 2361.7) scale(1.045 1)" text-anchor="end">-0.15</text></g>
<g font-size="46" fill="#262626" stroke="#262626" stroke-width="0.45"><text transform="translate(1353.8 2405.7) scale(1.045 1)" text-anchor="middle">0</text><text transform="translate(1562.1 2405.7) scale(1.045 1)" text-anchor="middle">0.2</text><text transform="translate(1770.5 2405.7) scale(1.045 1)" text-anchor="middle">0.4</text><text transform="translate(1978.8 2405.7) scale(1.045 1)" text-anchor="middle">0.6</text><text transform="translate(2187.2 2405.7) scale(1.045 1)" text-anchor="middle">0.8</text><text transform="translate(2395.5 2405.7) scale(1.045 1)" text-anchor="middle">1</text><text transform="translate(1336.5 1685.9) scale(1.045 1)" text-anchor="end">0.5</text><text transform="translate(1336.5 1798.5) scale(1.045 1)" text-anchor="end">0</text><text transform="translate(1336.5 1911.1) scale(1.045 1)" text-anchor="end">-0.5</text><text transform="translate(1336.5 2023.8) scale(1.045 1)" text-anchor="end">-1</text><text transform="translate(1336.5 2136.4) scale(1.045 1)" text-anchor="end">-1.5</text><text transform="translate(1336.5 2249.0) scale(1.045 1)" text-anchor="end">-2</text><text transform="translate(1336.5 2361.7) scale(1.045 1)" text-anchor="end">-2.5</text></g>
<g font-size="100" fill="#262626" transform="translate(519.40 828.40)"><text font-style="italic" transform="translate(-1.47 0.00) scale(0.4912 0.4921)">k</text><text transform="translate(28.40 1.06) scale(0.4699 0.5477)">(</text><text font-style="italic" transform="translate(45.77 0.00) scale(0.5193 0.4809)">r</text><text font-style="italic" transform="translate(70.61 6.60) scale(0.3585 0.3319)">p</text><text font-style="italic" transform="translate(89.48 6.60) scale(0.2839 0.2839)">,</text><text font-style="italic" transform="translate(98.42 6.60) scale(0.3616 0.3348)">x</text><text transform="translate(71.80 -25.51) scale(0.3534 0.3956)">(</text><text transform="translate(84.35 -25.90) scale(0.3262 0.3348)">1</text><text transform="translate(102.54 -25.51) scale(0.3573 0.3956)">)</text><text transform="translate(122.95 1.06) scale(0.4583 0.5477)">(</text><text font-style="italic" transform="translate(138.40 0.00) scale(0.5811 0.5381)">t</text><text transform="translate(159.31 1.06) scale(0.4583 0.5477)">)</text><text transform="translate(191.07 8.66) scale(0.6258 0.6258)">+</text><text font-style="italic" transform="translate(240.77 0.00) scale(0.5193 0.4809)">r</text><text font-style="italic" transform="translate(265.61 6.60) scale(0.3585 0.3319)">p</text><text font-style="italic" transform="translate(284.48 6.60) scale(0.2839 0.2839)">,</text><text font-style="italic" transform="translate(293.42 6.60) scale(0.3616 0.3348)">x</text><text transform="translate(266.80 -25.51) scale(0.3534 0.3956)">(</text><text transform="translate(279.48 -25.90) scale(0.3578 0.3381)">2</text><text transform="translate(297.54 -25.51) scale(0.3573 0.3956)">)</text><text transform="translate(317.95 1.06) scale(0.4583 0.5477)">(</text><text font-style="italic" transform="translate(333.40 0.00) scale(0.5811 0.5381)">t</text><text transform="translate(354.31 1.06) scale(0.4583 0.5477)">)</text><text transform="translate(373.77 1.06) scale(0.4699 0.5477)">)</text></g>
<g font-size="100" fill="#262626" transform="translate(1679.70 828.40)"><text font-style="italic" transform="translate(-1.47 0.00) scale(0.4912 0.4921)">k</text><text transform="translate(28.40 1.06) scale(0.4699 0.5477)">(</text><text font-style="italic" transform="translate(45.77 0.00) scale(0.5193 0.4809)">r</text><text font-style="italic" transform="translate(70.61 6.60) scale(0.3585 0.3319)">p</text><text font-style="italic" transform="translate(89.48 6.60) scale(0.2839 0.2839)">,</text><text font-style="italic" transform="translate(98.42 6.60) scale(0.3616 0.3348)">x</text><text transform="translate(71.80 -25.51) scale(0.3534 0.3956)">(</text><text transform="translate(84.35 -25.90) scale(0.3262 0.3348)">1</text><text transform="translate(102.54 -25.51) scale(0.3573 0.3956)">)</text><text transform="translate(122.95 1.06) scale(0.4583 0.5477)">(</text><text font-style="italic" transform="translate(138.40 0.00) scale(0.5811 0.5381)">t</text><text transform="translate(159.31 1.06) scale(0.4583 0.5477)">)</text><text transform="translate(191.07 8.66) scale(0.6258 0.6258)">+</text><text font-style="italic" transform="translate(240.77 0.00) scale(0.5193 0.4809)">r</text><text font-style="italic" transform="translate(265.61 6.60) scale(0.3585 0.3319)">p</text><text font-style="italic" transform="translate(284.48 6.60) scale(0.2839 0.2839)">,</text><text font-style="italic" transform="translate(293.42 6.60) scale(0.3616 0.3348)">x</text><text transform="translate(266.80 -25.51) scale(0.3534 0.3956)">(</text><text transform="translate(279.48 -25.90) scale(0.3578 0.3381)">2</text><text transform="translate(297.54 -25.51) scale(0.3573 0.3956)">)</text><text transform="translate(317.95 1.06) scale(0.4583 0.5477)">(</text><text font-style="italic" transform="translate(333.40 0.00) scale(0.5811 0.5381)">t</text><text transform="translate(354.31 1.06) scale(0.4583 0.5477)">)</text><text transform="translate(373.77 1.06) scale(0.4699 0.5477)">)</text></g>
<g font-size="100" fill="#262626" transform="translate(71.80 553.20) rotate(-90)"><text font-style="italic" transform="translate(-1.47 0.00) scale(0.4912 0.4921)">k</text><text transform="translate(28.40 1.06) scale(0.4699 0.5477)">(</text><text font-style="italic" transform="translate(45.77 0.00) scale(0.5193 0.4809)">r</text><text font-style="italic" transform="translate(70.61 6.60) scale(0.3585 0.3319)">p</text><text font-style="italic" transform="translate(89.48 6.60) scale(0.2839 0.2839)">,</text><text font-style="italic" transform="translate(97.41 6.60) scale(0.3252 0.3348)">z</text><text transform="translate(71.80 -25.51) scale(0.3534 0.3956)">(</text><text transform="translate(84.35 -25.90) scale(0.3262 0.3348)">1</text><text transform="translate(102.54 -25.51) scale(0.3573 0.3956)">)</text><text transform="translate(118.45 1.06) scale(0.4583 0.5477)">(</text><text font-style="italic" transform="translate(133.90 0.00) scale(0.5811 0.5381)">t</text><text transform="translate(154.81 1.06) scale(0.4583 0.5477)">)</text><text transform="translate(186.57 8.66) scale(0.6258 0.6258)">+</text><text font-style="italic" transform="translate(236.27 0.00) scale(0.5193 0.4809)">r</text><text font-style="italic" transform="translate(261.11 6.60) scale(0.3585 0.3319)">p</text><text font-style="italic" transform="translate(279.98 6.60) scale(0.2839 0.2839)">,</text><text font-style="italic" transform="translate(287.91 6.60) scale(0.3252 0.3348)">z</text><text transform="translate(262.30 -25.51) scale(0.3534 0.3956)">(</text><text transform="translate(274.98 -25.90) scale(0.3578 0.3381)">2</text><text transform="translate(293.04 -25.51) scale(0.3573 0.3956)">)</text><text transform="translate(308.95 1.06) scale(0.4583 0.5477)">(</text><text font-style="italic" transform="translate(324.40 0.00) scale(0.5811 0.5381)">t</text><text transform="translate(345.31 1.06) scale(0.4583 0.5477)">)</text><text transform="translate(364.77 1.06) scale(0.4699 0.5477)">)</text></g>
<g font-size="100" fill="#262626" transform="translate(71.80 1376.70) rotate(-90)"><text font-style="italic" transform="translate(-1.47 0.00) scale(0.4912 0.4921)">k</text><text transform="translate(28.40 1.06) scale(0.4699 0.5477)">(</text><text font-style="italic" transform="translate(45.77 0.00) scale(0.5193 0.4809)">r</text><text font-style="italic" transform="translate(70.61 6.60) scale(0.3585 0.3319)">p</text><text font-style="italic" transform="translate(89.48 6.60) scale(0.2839 0.2839)">,</text><text font-style="italic" transform="translate(97.41 6.60) scale(0.3252 0.3348)">z</text><text transform="translate(71.80 -25.51) scale(0.3534 0.3956)">(</text><text transform="translate(84.35 -25.90) scale(0.3262 0.3348)">1</text><text transform="translate(102.54 -25.51) scale(0.3573 0.3956)">)</text><text transform="translate(118.45 1.06) scale(0.4583 0.5477)">(</text><text font-style="italic" transform="translate(133.90 0.00) scale(0.5811 0.5381)">t</text><text transform="translate(154.81 1.06) scale(0.4583 0.5477)">)</text><text transform="translate(186.57 8.66) scale(0.6258 0.6258)">+</text><text font-style="italic" transform="translate(236.27 0.00) scale(0.5193 0.4809)">r</text><text font-style="italic" transform="translate(261.11 6.60) scale(0.3585 0.3319)">p</text><text font-style="italic" transform="translate(279.98 6.60) scale(0.2839 0.2839)">,</text><text font-style="italic" transform="translate(287.91 6.60) scale(0.3252 0.3348)">z</text><text transform="translate(262.30 -25.51) scale(0.3534 0.3956)">(</text><text transform="translate(274.98 -25.90) scale(0.3578 0.3381)">2</text><text transform="translate(293.04 -25.51) scale(0.3573 0.3956)">)</text><text transform="translate(308.95 1.06) scale(0.4583 0.5477)">(</text><text font-style="italic" transform="translate(324.40 0.00) scale(0.5811 0.5381)">t</text><text transform="translate(345.31 1.06) scale(0.4583 0.5477)">)</text><text transform="translate(364.77 1.06) scale(0.4699 0.5477)">)</text></g>
<g font-size="100" fill="#262626" transform="translate(615.30 2469.10)"><text font-style="italic" transform="translate(-1.49 0.00) scale(0.4982 0.4906)">k</text><text transform="translate(28.01 0.00) scale(0.5695 0.5273)">Δ</text><text font-style="italic" transform="translate(67.97 0.00) scale(0.5193 0.4809)">r</text><text font-style="italic" transform="translate(92.81 7.80) scale(0.3585 0.3319)">p</text><text font-style="italic" transform="translate(111.68 7.80) scale(0.2839 0.2839)">,</text><text font-style="italic" transform="translate(120.62 7.80) scale(0.3616 0.3348)">x</text><text transform="translate(145.15 1.06) scale(0.4583 0.5477)">(</text><text font-style="italic" transform="translate(160.60 0.00) scale(0.5811 0.5381)">t</text><text transform="translate(181.51 1.06) scale(0.4583 0.5477)">)</text></g>
<g font-size="100" fill="#262626" transform="translate(1775.60 2469.10)"><text font-style="italic" transform="translate(-1.49 0.00) scale(0.4982 0.4906)">k</text><text transform="translate(28.01 0.00) scale(0.5695 0.5273)">Δ</text><text font-style="italic" transform="translate(67.97 0.00) scale(0.5193 0.4809)">r</text><text font-style="italic" transform="translate(92.81 7.80) scale(0.3585 0.3319)">p</text><text font-style="italic" transform="translate(111.68 7.80) scale(0.2839 0.2839)">,</text><text font-style="italic" transform="translate(120.62 7.80) scale(0.3616 0.3348)">x</text><text transform="translate(145.15 1.06) scale(0.4583 0.5477)">(</text><text font-style="italic" transform="translate(160.60 0.00) scale(0.5811 0.5381)">t</text><text transform="translate(181.51 1.06) scale(0.4583 0.5477)">)</text></g>
<g font-size="100" fill="#262626" transform="translate(48.40 2107.85) rotate(-90)"><text font-style="italic" transform="translate(-1.49 0.00) scale(0.4982 0.4906)">k</text><text transform="translate(28.01 0.00) scale(0.5695 0.5273)">Δ</text><text font-style="italic" transform="translate(67.97 0.00) scale(0.5193 0.4809)">r</text><text font-style="italic" transform="translate(92.81 7.80) scale(0.3585 0.3319)">p</text><text font-style="italic" transform="translate(111.68 7.80) scale(0.2839 0.2839)">,</text><text font-style="italic" transform="translate(121.83 7.80) scale(0.3185 0.3348)">y</text><text transform="translate(142.65 1.06) scale(0.4583 0.5477)">(</text><text font-style="italic" transform="translate(158.10 0.00) scale(0.5811 0.5381)">t</text><text transform="translate(179.01 1.06) scale(0.4583 0.5477)">)</text></g>
<g fill="#fff"><text x="1137.95" y="88.80" font-size="50.69">(</text><text x="1176.50" y="88.80" font-size="50.69">)</text><text x="1153.86" y="88.80" font-size="50.69">a</text></g>
<g fill="#fff"><text x="2316.47" y="84.00" font-size="50.19">(</text><text x="2357.74" y="84.00" font-size="50.19">)</text><text x="2332.34" y="84.00" font-size="50.19">d</text></g>
<g fill="#fff"><text x="1140.16" y="912.10" font-size="50.25">(</text><text x="1181.73" y="912.10" font-size="50.25">)</text><text x="1157.68" y="912.10" font-size="50.25">b</text></g>
<g fill="#fff"><text x="2309.83" y="897.80" font-size="51.02">(</text><text x="2348.70" y="897.80" font-size="51.02">)</text><text x="2326.27" y="897.80" font-size="51.02">e</text></g>
<g fill="#fff"><text x="1150.75" y="1732.20" font-size="50.69">(</text><text x="1189.70" y="1732.20" font-size="50.69">)</text><text x="1167.25" y="1732.20" font-size="50.69">c</text></g>
<g fill="#fff"><text x="2313.55" y="1734.40" font-size="50.58">(</text><text x="2346.63" y="1734.40" font-size="50.58">)</text><text x="2329.33" y="1734.40" font-size="50.58">f</text></g>
</svg></body></html>
